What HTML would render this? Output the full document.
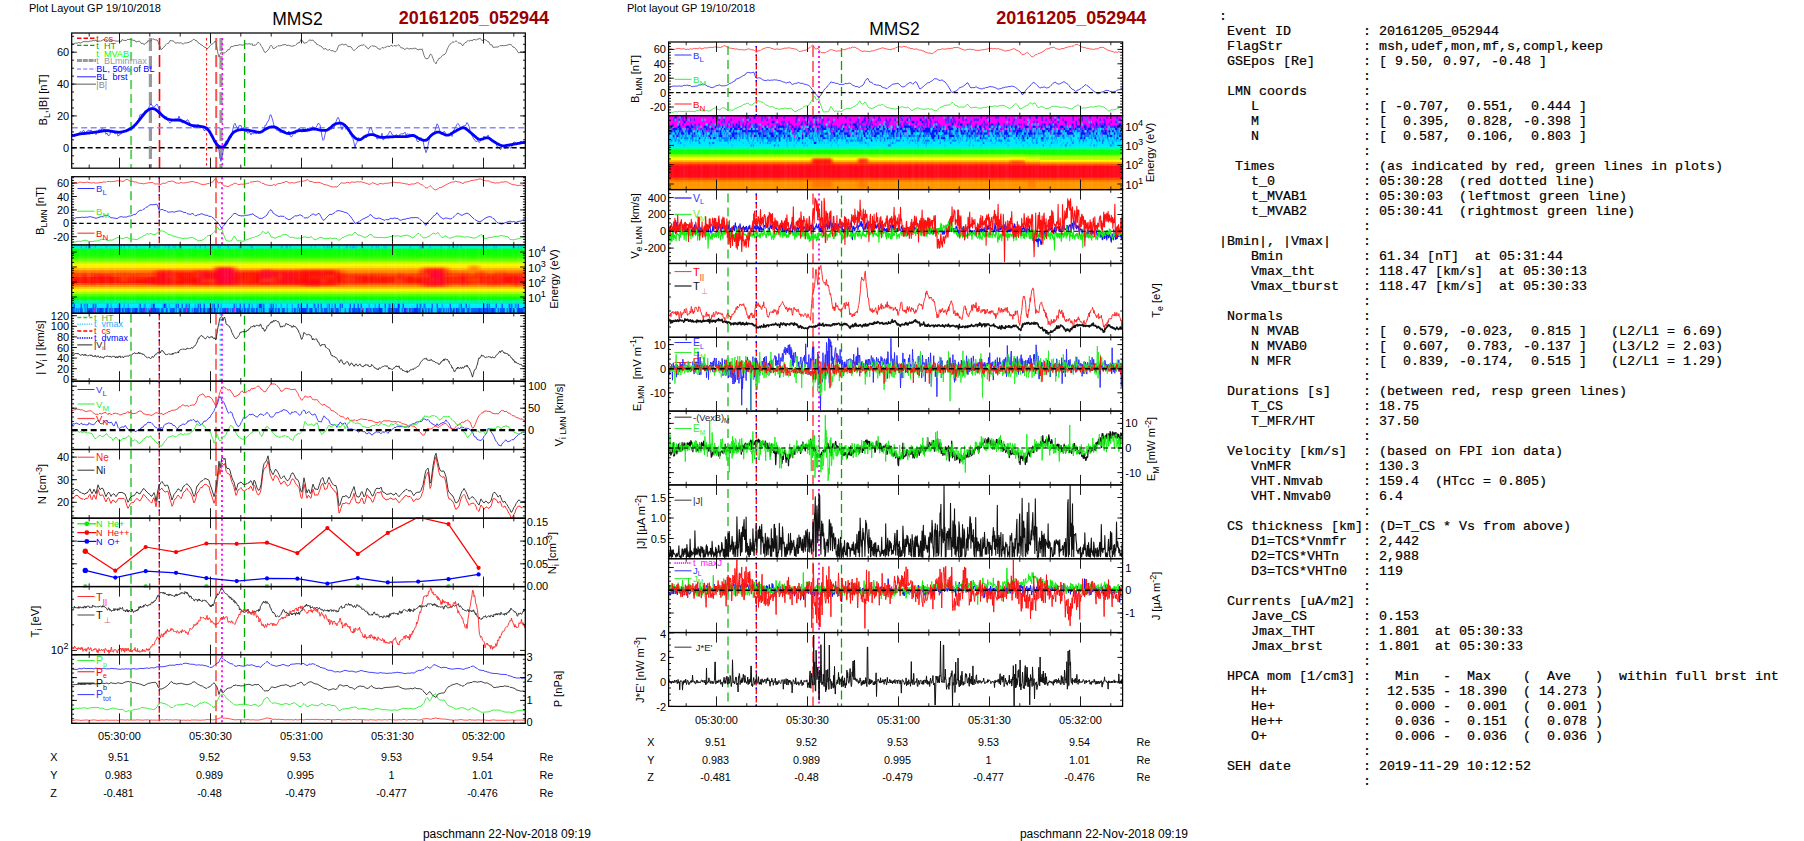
<!DOCTYPE html><html><head><meta charset="utf-8"><title>MMS2 20161205_052944</title><style>html,body{margin:0;padding:0;background:#fff}svg{display:block}</style></head><body><svg width="1804" height="841" viewBox="0 0 1804 841" font-family="Liberation Sans, sans-serif" fill="none">
<defs><filter id="b2" x="-20%" y="-50%" width="140%" height="200%"><feGaussianBlur stdDeviation="3.2 1.4"/></filter><filter id="b1" x="-20%" y="-50%" width="140%" height="200%"><feGaussianBlur stdDeviation="1.5 0.8"/></filter></defs>
<rect width="1804" height="841" fill="#fff"/>
<text x="29" y="12" font-size="11" fill="#000">Plot Layout GP 19/10/2018</text>
<text x="297.5" y="25" font-size="17.5" fill="#000" text-anchor="middle">MMS2</text>
<text x="549" y="24" font-size="18" font-weight="bold" fill="#9b0000" text-anchor="end">20161205_052944</text>
<clipPath id="cl1"><rect x="71.7" y="33" width="453.6" height="135.2"/></clipPath><g clip-path="url(#cl1)" stroke-linejoin="round">
<path d="M131.1 38V168.2" stroke="#5c5" stroke-width="2" stroke-dasharray="9 5" opacity="0.9"/>
<path d="M150.4 38V168.2" stroke="#999" stroke-width="3.2" stroke-dasharray="13 5" opacity="1"/>
<path d="M159.5 38V168.2" stroke="#f00" stroke-width="1.6" stroke-dasharray="12 5" opacity="1"/>
<path d="M206.6 38V168.2" stroke="#f00" stroke-width="1" stroke-dasharray="2.5 2.5" opacity="1"/>
<path d="M216.2 38V168.2" stroke="#f33" stroke-width="2" stroke-dasharray="12 5" opacity="0.85"/>
<path d="M221 38V168.2" stroke="#999" stroke-width="3.2" stroke-dasharray="13 5" opacity="1"/>
<path d="M222.4 38V168.2" stroke="#f0f" stroke-width="1.6" stroke-dasharray="2 3" opacity="1"/>
<path d="M244.6 40V168.2" stroke="#0a0" stroke-width="1.3" stroke-dasharray="9 4" opacity="1"/>
<path d="M72 44.1l1-.1l1 0l1-.9l1-.1l1 .3l1-.6l1-.1l1 .4l1 0l1-.9l1-.2l1-.5l1 .1l1 .4l1-.4l1 .5l1-.6l1-.4l1 .1l1-.1l1-.4l1 .1l1 .1l1-.9l1 1.8l1-.1l1-1.1l1 1.1l1-1.1l1 .3l1-1.4l1 .7l1 .3l1-1.1l1 1.5l1-1l1 .2l1 .7l1 .8l1-.8l1-.8l1 1l1-.2l1 .6l1-.4l1 .5l1-.8l1 .9l1 .3l1-2.3l1 .6l1 .4l1-.3l1 .7l1-1.3l1-.1l1 .1l1-.4l1 .4l1 .2l1 .5l1 .1l1 .1l1 1.7l1-.8l1 .4l1-.9l1 .7l1 1.7l1 .2l1-.3l1 1.6l1-.8l1-1.4l1 .2l1-2.4l1 .9l1-.5l1 .3l1-1.5l1-1l1 .8l1 .3l1 .4l1-.2l1 1.5l1 3.1l1 1.9l1 3.2l1-.6l1-.9l1-1.3l1-.7l1-1.6l1-1l1 .2l1-.9l1-2.3l1 .2l1 .3l1-.2l1 .6l1 1.6l1 .1l1-.2l1-.3l1 .6l1-.3l1-.2l1 .7l1 .9l1-.9l1-.7l1 .6l1-.5l1-.4l1 .2l1-.9l1-.4l1-.4l1-1.3l1-.5l1 1.3l1 .1l1 .4l1 1.8l1 .5l1 .5l1 1.4l1-.2l1 1.2l1 .7l1 .6l1 .2l1 1l1-.2l1-1.3l1-1.3l1-1.1l1-.7l1-.3l1-1.1l1-1.6l1 .8l1 6.6l1 5.5l1 3.2l1-2.6l1-2.1l1-.3l1 .6l1 .4l1-.3l1-1.1l1-.5l1-1.8l1 .6l1-1.7l1-1.9l1 .5l1-.7l1-.3l1-.4l1 0l1 0l1-.1l1-.7l1 0l1 .1l1 .4l1-.1l1-.5l1-.8l1 .1l1 .1l1 0l1-.2l1-.1l1 .9l1-1.1l1 2.4l1-1.1l1 .7l1-.8l1-.8l1-1.7l1 .4l1 1l1 2.2l1 1.1l1 2l1 2.1l1 1.7l1-.6l1-1.2l1-.8l1-1.4l1-2.3l1-1.2l1 1l1 2.2l1 .2l1-.8l1-.7l1-.5l1-1.1l1 .6l1-.4l1-.1l1-.4l1-.4l1 0l1-.4l1 .5l1 .9l1-.9l1 .5l1 .5l1 .1l1 .2l1-.1l1-.6l1 .1l1-1l1-.6l1-1.5l1 .6l1-1.2l1-2.4l1 1.4l1 .3l1 2.2l1-.5l1-.1l1-.3l1-1.3l1-1l1-.3l1 .5l1-.1l1-.3l1 1.5l1 .8l1 .5l1 2l1-.4l1 1.2l1 .2l1 .4l1 .9l1 1l1 1.4l1-1.3l1 .9l1 .3l1 1.2l1-1.2l1 .3l1 1.1l1-.1l1-.1l1 .9l1 .3l1-.4l1-1.3l1-3l1-1.9l1 0l1-.6l1-.6l1 .4l1 .8l1-.8l1-.1l1 .9l1 1.7l1-.6l1 .5l1-.1l1 1.5l1 1.6l1 1l1-1.1l1-1l1-.5l1-1.6l1-.4l1-.3l1-.7l1 0l1 0l1-.7l1 1.1l1 1.4l1 .3l1 1.6l1-.6l1-1.5l1-.3l1-1l1 .7l1-.1l1 .2l1 .5l1 .5l1 1.6l1-.2l1 .9l1-.9l1-1.2l1 .1l1 .7l1-1.1l1-.1l1-.5l1-.8l1 .9l1-.4l1-1.2l1 .7l1 .6l1-1l1 .4l1 .2l1-.3l1-1l1 .3l1 1.4l1 1.5l1 0l1 .1l1 1.2l1 .3l1-.8l1-.8l1 .6l1 .7l1-.6l1-.2l1 .6l1-.3l1-.6l1 .2l1 .1l1 .9l1 .4l1 .3l1-1.2l1 1.1l1-1.1l1 3.1l1 3.4l1 2.5l1 .8l1 0l1 0l1-1.5l1-2.6l1-.3l1 1.6l1 2.7l1 2.8l1 1.3l1 1.3l1-2.5l1-1.3l1-1.9l1 .1l1-1.1l1-1.3l1-1.2l1 .3l1-.9l1-1.4l1-2.8l1-2.3l1-1.9l1-1.5l1-.5l1-1.3l1-.7l1 .8l1-1l1-.6l1 .6l1 1l1 .7l1-.1l1 .4l1 1.7l1 .5l1-1.8l1-1.3l1-.2l1-.7l1-1.4l1 1l1-.8l1-.5l1 1.1l1-1.5l1 .2l1-.6l1 1.2l1-1.2l1-.1l1-.1l1-.9l1 1.2l1 1.4l1-.6l1-.4l1-.1l1 .5l1 .8l1 .9l1 0l1 2.7l1 .4l1-.1l1 2.6l1-.3l1 .2l1-.3l1 .1l1-.2l1-.4l1-1.1l1 .5l1-.4l1 0l1 .3l1-.3l1 .1l1-.5l1-.2l1-.3l1-.3l1 .4l1 .9l1 1.6l1-.2l1 1.2l1 .8l1 1.5l1 1.9l1 .6l1-.9l1-.2l1 .4l1-.3l1-.1l1-.2" stroke="#666" stroke-width="0.9" />
<path d="M71.7 127.8H525.3" stroke="#88f" stroke-width="1.4" stroke-dasharray="6 3.5"/>
<path d="M72 136l1-1.8l1 2.8l1-1.6l1-1.1l1 .2l1-.2l1 .7l1-3.4l1 .4l1 .5l1-1.9l1 0l1 1.6l1 1.1l1-2.3l1-.3l1-.8l1 1.6l1-1.6l1 .9l1 2.1l1-.8l1 1.2l1 1.4l1-2.7l1-1.5l1-.7l1-.2l1 .7l1-1.9l1 1.3l1-.8l1 2.2l1 3.2l1-1.5l1 2.6l1 .1l1-.9l1-4l1 .8l1-.9l1 2.1l1 1.4l1-.4l1-1.2l1 3.8l1-1.2l1-.1l1-1.8l1 0l1-1.9l1 .1l1-.4l1-1.1l1-.6l1-.1l1-.4l1-.5l1-.8l1-.8l1-.1l1-1.4l1 0l1-1.9l1 .8l1-2.9l1-2.9l1-3.5l1 0l1-.8l1 .3l1-1.4l1-2l1 1.2l1-1.6l1-.3l1-3l1-1.9l1-1.4l1 2l1 .8l1 .7l1-1.2l1-1.3l1-.8l1 2.2l1 3.8l1 1.5l1 .9l1 1.7l1 2.6l1 1.4l1 .4l1-2.2l1 3.6l1 .6l1 1.3l1 1.4l1-1.1l1-2l1 .7l1-1.3l1 1l1-1l1 .7l1-.9l1-3.2l1 3l1-.1l1 3.7l1-.1l1-1.9l1 1.3l1-1l1-1.2l1 .2l1 1.8l1 1.7l1 1.2l1 .9l1 .9l1 1.7l1-1.7l1 1.2l1-.4l1-2.9l1 2.4l1-1.8l1 1.7l1 0l1 1.6l1 2.1l1 .3l1-3.4l1 1.2l1 .4l1 1.2l1 1.7l1 3.4l1 1.7l1 .1l1 5l1 .4l1 .7l1-.4l1 2.6l1 5.5l1 6.7l1 3.9l1-5.3l1-4.2l1-5.3l1-3.5l1-2.5l1 .9l1-1.4l1-.1l1-3.6l1 1.3l1-3.9l1-5.5l1-3.7l1-1.3l1 2.6l1 1.3l1 2.4l1-4.1l1 .5l1-.6l1 3l1 2.2l1-1l1-.6l1 2.8l1-.2l1 1.8l1-1.2l1 .4l1 2.4l1-2.1l1 .7l1 .3l1-3.4l1 3.6l1-2l1 1.3l1-.3l1-1.4l1-.6l1 1.4l1-3.1l1 0l1-4.1l1 0l1-3l1-.6l1-2.3l1-4.2l1-.4l1 3.2l1 3.4l1 4.5l1 1.1l1 2.2l1 1.5l1-1.2l1 1.8l1 1.3l1-.6l1-.8l1-.7l1-.3l1 2.3l1-.3l1 .9l1-1l1-1l1 4.1l1 1.8l1-.5l1-1.7l1-2.7l1 2l1-3.3l1-.2l1 .1l1-2.7l1 .9l1 2.4l1 .9l1-3.7l1 2.7l1-2.4l1 .4l1 0l1-1.3l1 2.5l1-.4l1 .2l1-2.8l1-.9l1 3.5l1-.4l1-2.3l1-1.7l1-2.1l1 .3l1 .8l1 5.4l1 6.6l1 3.9l1-1.2l1-4.6l1-4.7l1 .9l1-2.5l1-1.2l1 .7l1 1.4l1-.7l1-.5l1 .6l1-4.8l1-2.1l1-2.8l1-1.8l1 1.8l1 3l1 4.6l1 3.2l1-3.3l1-1.1l1 1.4l1 2.6l1-1.2l1 3.3l1-.8l1 3.8l1 .1l1 2.8l1 1.5l1 3.9l1 4.8l1-3.7l1-1.5l1-4.3l1-.4l1 2.2l1-.4l1-.9l1-.6l1-1.3l1 .6l1 .1l1-.2l1-2.5l1-4l1-2.8l1-.6l1 2.9l1 2.6l1 2.6l1 .9l1-1.2l1 3.9l1-.3l1-1l1 .1l1-.7l1-3.9l1 6.7l1-.5l1-1.4l1-1.9l1-.3l1-.9l1-2l1-1.8l1 1l1 2.6l1 .2l1 1.7l1 .4l1-2.5l1 .8l1 2.1l1-2.3l1-.5l1-.9l1 .3l1-.2l1-.4l1-1.2l1 3.2l1-1.6l1 .6l1 0l1-.4l1 2l1-.6l1 1l1-2.2l1 3.1l1-.3l1 4.2l1 .7l1-.9l1-1l1-2.5l1 1.9l1 .8l1 5.6l1 3.4l1 3.4l1-2.6l1-4.5l1-4.9l1-4.3l1 .3l1-2.6l1-1.1l1 1.1l1-3.3l1-3.7l1-3.2l1 1.3l1 2.8l1 3.7l1 .9l1-.1l1 .7l1-1.9l1 .9l1 3.8l1-1.6l1 .4l1-.2l1-.2l1-1l1 3.2l1-5.7l1-.3l1-2.8l1-1.3l1-2l1-1l1 1.6l1 1.7l1 2.6l1-1.4l1-1.6l1-.8l1 .7l1-1.5l1-2.2l1 1.4l1 2.4l1 4.1l1 2.5l1 2.8l1 1.8l1 2l1 .7l1 1.7l1-.9l1-.4l1 2l1-.9l1-3.2l1 .4l1-.1l1-2.8l1 3l1-1.8l1 .4l1-2.6l1 2l1 1.3l1 1.7l1 2l1-.8l1-.7l1 1.6l1 .8l1 3.7l1 .4l1 .5l1 1.8l1 .1l1-3.7l1 .2l1 1.6l1 .8l1-.5l1-2l1-.6l1 1.1l1 1.2l1 .9l1-2.5l1-3.3l1-.3l1-.4l1 1.7l1 .5l1-.3l1-.6l1-1.5l1 .1l1-.1l1 1.6l1-1.1l1-.5" stroke="#33f" stroke-width="0.8" />
<path d="M72 135.6l1-.2l1-.1l1-.2l1-.2l1-.3l1-.2l1-.2l1-.2l1-.2l1-.1l1-.1l1-.1l1-.1l1-.1l1-.1l1-.1l1-.1l1-.1l1-.2l1-.1l1-.1l1-.2l1-.1l1-.1l1-.2l1-.1l1-.2l1-.1l1-.2l1-.2l1-.1l1-.2l1-.1l1-.1l1 0l1 .1l1 .2l1 .2l1 .1l1 .2l1 .2l1 .1l1 .1l1 .2l1 .1l1 .1l1 .1l1-.1l1-.1l1-.2l1-.2l1-.3l1-.2l1-.3l1-.4l1-.4l1-.5l1-.5l1-.6l1-.7l1-.8l1-.9l1-1l1-1.1l1-1.1l1-1.2l1-1.3l1-1.3l1-1.3l1-1.3l1-1.2l1-1.2l1-1.2l1-1.1l1-.9l1-.8l1-.7l1-.4l1-.3l1-.1l1 0l1 .2l1 .5l1 .5l1 .8l1 .8l1 1l1 1l1 .9l1 .9l1 .9l1 .8l1 .8l1 .6l1 .5l1 .4l1 .3l1 .2l1 .2l1 .1l1 .1l1 0l1-.1l1 0l1 0l1 0l1 .1l1 .2l1 .2l1 .4l1 .5l1 .4l1 .5l1 .4l1 .5l1 .5l1 .5l1 .5l1 .4l1 .3l1 .2l1 .1l1 .1l1 .1l1 .1l1 .1l1 .1l1 .2l1 .1l1 .2l1 .2l1 .2l1 .3l1 .5l1 .8l1 .9l1 1.3l1 1.5l1 1.8l1 1.8l1 1.9l1 1.9l1 1.9l1 1.6l1 1.3l1 1.1l1 .7l1 .4l1 .1l1 .1l1-.2l1-.5l1-.9l1-1.3l1-1.5l1-1.9l1-1.9l1-1.8l1-1.6l1-1.3l1-1.2l1-.9l1-.6l1-.5l1-.4l1-.3l1-.2l1-.2l1-.1l1 0l1 0l1 .1l1 .1l1 .1l1 .1l1 .1l1 .2l1 .2l1 .2l1 .2l1 .2l1 .2l1 .2l1 .2l1 .2l1 .2l1 .2l1-.1l1-.3l1-.5l1-.7l1-.7l1-.6l1-.6l1-.5l1-.5l1-.4l1-.3l1-.2l1-.1l1 0l1 0l1 .3l1 .3l1 .5l1 .6l1 .7l1 .7l1 .6l1 .6l1 .5l1 .4l1 .5l1 .4l1 .3l1 .1l1 .1l1-.1l1-.2l1-.2l1-.3l1-.3l1-.5l1-.4l1-.4l1-.3l1-.1l1-.1l1 0l1 0l1-.1l1 0l1 0l1-.1l1-.1l1-.2l1-.2l1-.2l1-.3l1-.2l1-.2l1 0l1 0l1 .2l1 .2l1 .3l1 .2l1 .2l1 .2l1 .1l1 0l1 0l1 0l1-.1l1-.2l1-.5l1-.6l1-.8l1-1l1-.9l1-.9l1-.7l1-.6l1-.4l1-.2l1-.2l1-.2l1-.1l1 .2l1 .3l1 .5l1 .6l1 .8l1 1l1 1.1l1 1.3l1 1.4l1 1.5l1 1.5l1 1.4l1 1.2l1 1.1l1 .9l1 .7l1 .6l1 .5l1 .2l1-.1l1-.5l1-.6l1-.8l1-.8l1-.6l1-.5l1-.4l1-.3l1-.2l1-.3l1-.1l1 0l1 .1l1 .2l1 .4l1 .4l1 .4l1 .4l1 .4l1 .2l1 .2l1 .1l1 0l1 0l1-.1l1-.1l1-.1l1 0l1-.1l1-.1l1 0l1-.1l1 0l1-.1l1 0l1 0l1 0l1 0l1 0l1 0l1 0l1 0l1 0l1 0l1 0l1-.1l1-.1l1-.2l1-.2l1-.3l1-.2l1-.1l1 0l1 .2l1 .4l1 .6l1 .6l1 .7l1 .5l1 .5l1 .5l1 .3l1 .3l1 .3l1 0l1-.2l1-.5l1-.9l1-1.1l1-1.1l1-1l1-.9l1-.7l1-.6l1-.5l1-.4l1-.3l1-.1l1 .1l1 .3l1 .4l1 .5l1 .4l1 .5l1 .4l1 .4l1 .1l1 0l1-.3l1-.5l1-.6l1-.6l1-.6l1-.6l1-.6l1-.5l1-.6l1-.5l1-.5l1-.5l1-.5l1-.4l1-.2l1 .1l1 .4l1 .6l1 .8l1 .8l1 .8l1 .9l1 .8l1 .9l1 .8l1 .9l1 .9l1 .9l1 .9l1 .7l1 .4l1 .2l1 0l1-.3l1-.3l1-.4l1-.3l1-.3l1-.1l1 .1l1 .4l1 .5l1 .7l1 .8l1 .7l1 .7l1 .6l1 .6l1 .6l1 .5l1 .5l1 .5l1 .4l1 .3l1 .1l1 0l1-.1l1-.2l1-.1l1-.2l1-.2l1-.1l1-.2l1-.2l1-.1l1-.2l1-.2l1-.2l1-.2l1-.2l1-.1l1-.2l1-.2l1-.2l1-.1l1-.1l1-.1" stroke="#00f" stroke-width="2.8" stroke-linecap="round"/>
<path d="M71.7 147.8H525.3" stroke="#000" stroke-width="1.4" stroke-dasharray="5 3"/>
</g>
<path d="M77 38.3h19" stroke="#f00" stroke-width="1.6" stroke-dasharray="4.5 2"/>
<text x="96.3" y="41.6" font-size="9.1" fill="#f00">t&#160;&#160;cs</text>
<path d="M77 45.3h19" stroke="#0a0" stroke-width="1.3" stroke-dasharray="4.5 2"/>
<text x="96.3" y="48.6" font-size="9.1" fill="#0a0">t&#160;&#160;HT</text>
<text x="96.3" y="57" font-size="9.1" fill="#0f0">t&#160;&#160;MVAB</text>
<path d="M77 60.6h19" stroke="#999" stroke-width="3" stroke-dasharray="5 .8"/>
<text x="96.3" y="63.9" font-size="9.1" fill="#999">t&#160;&#160;BLminmax</text>
<path d="M77 69h19" stroke="#66f" stroke-width="1.2" stroke-dasharray="4 2.2"/>
<text x="96.3" y="72.3" font-size="9.1" fill="#66f"><tspan fill="#00f">BL, 50% of BL</tspan></text>
<path d="M77 76.8h19" stroke="#22f" stroke-width="1"/>
<text x="96.3" y="80.1" font-size="9.1" fill="#22f"><tspan fill="#00f">BL&#160;&#160;brst</tspan></text>
<path d="M77 84.2h19" stroke="#888" stroke-width="1.4"/>
<text x="96.3" y="87.5" font-size="9.1" fill="#888">|B|</text>
<path d="M119.5 33v10.5M119.5 168.2v-10.5M210.5 33v10.5M210.5 168.2v-10.5M301.5 33v10.5M301.5 168.2v-10.5M392.5 33v10.5M392.5 168.2v-10.5M483.5 33v10.5M483.5 168.2v-10.5" stroke="#111" stroke-width=".95"/>
<path d="M89.2 33v3.6M89.2 168.2v-3.6M149.8 33v3.6M149.8 168.2v-3.6M180.2 33v3.6M180.2 168.2v-3.6M240.8 33v3.6M240.8 168.2v-3.6M271.2 33v3.6M271.2 168.2v-3.6M331.8 33v3.6M331.8 168.2v-3.6M362.2 33v3.6M362.2 168.2v-3.6M422.8 33v3.6M422.8 168.2v-3.6M453.2 33v3.6M453.2 168.2v-3.6M513.8 33v3.6M513.8 168.2v-3.6" stroke="#111" stroke-width=".9"/>
<path d="M71.7 147.8h5.2M525.3 147.8h-5.2M71.7 115.9h5.2M525.3 115.9h-5.2M71.7 84.1h5.2M525.3 84.1h-5.2M71.7 52.2h5.2M525.3 52.2h-5.2M71.7 163.7h2.4M525.3 163.7h-2.4M71.7 155.8h2.4M525.3 155.8h-2.4M71.7 147.8h2.4M525.3 147.8h-2.4M71.7 139.8h2.4M525.3 139.8h-2.4M71.7 131.9h2.4M525.3 131.9h-2.4M71.7 123.9h2.4M525.3 123.9h-2.4M71.7 115.9h2.4M525.3 115.9h-2.4M71.7 108h2.4M525.3 108h-2.4M71.7 100h2.4M525.3 100h-2.4M71.7 92h2.4M525.3 92h-2.4M71.7 84.1h2.4M525.3 84.1h-2.4M71.7 76.1h2.4M525.3 76.1h-2.4M71.7 68.2h2.4M525.3 68.2h-2.4M71.7 60.2h2.4M525.3 60.2h-2.4M71.7 52.2h2.4M525.3 52.2h-2.4M71.7 44.3h2.4M525.3 44.3h-2.4M71.7 36.3h2.4M525.3 36.3h-2.4" stroke="#000" stroke-width=".9"/>
<rect x="71.7" y="33" width="453.6" height="135.2" stroke="#000" stroke-width="1.25"/>
<text x="69.2" y="151.8" font-size="11" fill="#000" text-anchor="end">0</text>
<text x="69.2" y="119.9" font-size="11" fill="#000" text-anchor="end">20</text>
<text x="69.2" y="88" font-size="11" fill="#000" text-anchor="end">40</text>
<text x="69.2" y="56.2" font-size="11" fill="#000" text-anchor="end">60</text>
<text transform="translate(47 100) rotate(-90)" font-size="11.2" fill="#000" text-anchor="middle">B<tspan font-size="8.6" dy="3.3">L</tspan><tspan dy="-3.3">&#8203;</tspan>,|B| [nT]</text>
<clipPath id="cl2"><rect x="71.7" y="176.7" width="453.6" height="68.3"/></clipPath><g clip-path="url(#cl2)" stroke-linejoin="round">
<path d="M131 177.2V245" stroke="#5c5" stroke-width="2" stroke-dasharray="9 5" opacity="0.9"/>
<path d="M159.3 177.2V245" stroke="#f00" stroke-width="1.3" stroke-dasharray="6.5 2" opacity="1"/>
<path d="M159.3 177.2V245" stroke="#00f" stroke-width="1.3" stroke-dasharray="1.6 6.9" opacity="1"/>
<path d="M216 177.2V245" stroke="#f44" stroke-width="1.8" stroke-dasharray="11 4" opacity="0.85"/>
<path d="M222 177.2V245" stroke="#f0f" stroke-width="1.8" stroke-dasharray="2 3" opacity="1"/>
<path d="M244.5 179.2V245" stroke="#0a0" stroke-width="1.3" stroke-dasharray="9 4" opacity="1"/>
<path d="M72 183.2l1 .2l1-.4l1-.5l1 .1l1 .3l1 .2l1-.7l1-.4l1 .4l1-.2l1 .6l1-.2l1 0l1-.3l1-.3l1 .3l1 .3l1 .1l1 .2l1 .2l1-.6l1 .2l1 .4l1-.1l1 0l1 .1l1-.5l1-.1l1-.2l1 .4l1-.8l1 .1l1-.2l1 .6l1-1l1 .2l1-.2l1-.1l1 .7l1-.5l1-.1l1 0l1-.1l1-.3l1-.3l1 .1l1 .2l1-.5l1 .7l1 .1l1 .1l1-.2l1-.9l1-.8l1-.1l1 .3l1 .8l1 .8l1 .2l1-.3l1-.1l1 .9l1 .1l1-.2l1 .5l1 .7l1-.1l1 .4l1 0l1-.1l1 .5l1 .1l1-.5l1-.2l1 0l1-.4l1-.1l1 0l1-.1l1-.2l1 .1l1 1.3l1 .1l1 .2l1-.4l1 .5l1-.1l1 .5l1-.4l1-.3l1-1l1 .6l1-.2l1-.3l1-.5l1-.9l1-.1l1-.1l1 0l1-.3l1-.1l1 1.1l1 0l1 .9l1 .2l1-.2l1 .4l1-.4l1-.7l1 .5l1 .3l1-.3l1 .1l1-.1l1-.4l1-.2l1-.1l1-.1l1-.3l1-.3l1 .3l1 .1l1 .5l1 0l1 .3l1 .1l1 .8l1 .4l1 .2l1 .4l1 .1l1 .3l1-.8l1 .1l1-.3l1-.5l1 .3l1-1.1l1-.3l1-.2l1-.2l1-1.8l1-1.3l1-.1l1 1.9l1 2.2l1 .2l1-.6l1-.4l1 1.4l1 1.5l1 1l1 0l1 .2l1 .2l1 .4l1-.4l1-.7l1-.8l1 .2l1-.8l1-.7l1-.5l1 .7l1 0l1 1l1-.2l1 .1l1-.8l1 .6l1-.4l1 .3l1-.2l1-.3l1-.3l1-.5l1 .4l1-1l1-.5l1 .1l1-.3l1 0l1-.2l1 .1l1-.5l1 0l1 .4l1 .5l1 .4l1 1l1-.1l1 .4l1 .8l1 .2l1 .4l1 .1l1 .1l1 .1l1 .2l1-.5l1 .1l1-.7l1 .6l1 .2l1-1.2l1-.4l1-.2l1 0l1 0l1-.8l1-.1l1-.2l1-.5l1-.6l1 .4l1 .6l1 .5l1 .3l1-.5l1 .2l1-.1l1 .3l1 0l1-.4l1-.4l1-.3l1 .2l1-.5l1-1l1 .4l1 .4l1-.5l1-.1l1-.3l1-.8l1 0l1 1.1l1 .9l1-.4l1 .3l1 .6l1 .1l1 .4l1 0l1-.2l1-.3l1 .4l1-.1l1 .8l1-.1l1 .8l1 .6l1-.1l1 .5l1 0l1 .4l1 .4l1 .3l1 .7l1-.1l1 .3l1 0l1-.3l1 .2l1 .2l1-1.2l1-1.1l1-.6l1-1.5l1 .2l1 .3l1-.1l1 0l1-.2l1-.5l1 0l1 .3l1 .6l1-1.3l1 0l1 .2l1-.2l1 .4l1-.3l1-.4l1 .2l1-.1l1 .3l1-.6l1 .8l1 0l1 .3l1 .3l1 .5l1 0l1 .7l1 .2l1-.1l1-.4l1-1.1l1 .2l1 .3l1 .6l1 0l1 .9l1 0l1-.8l1-.4l1 0l1 .4l1-.1l1 .2l1-.8l1-.1l1 .3l1-.3l1-.1l1 0l1-.3l1-.1l1-.3l1-.3l1 .4l1 .2l1 .2l1-.1l1 .1l1-.4l1 .8l1-.1l1 .4l1-.3l1 .6l1 .1l1 .3l1-.3l1 1.2l1-.6l1-.4l1-.2l1 .3l1-.3l1-.1l1-.7l1-.3l1-.3l1 .7l1 .9l1 .3l1 .5l1 .5l1 1l1 1l1 .6l1 0l1-.4l1-1l1-1.1l1 .7l1 1.1l1 1.3l1 .4l1 1l1-.1l1-.7l1-.3l1-1.1l1-.4l1 .3l1-.8l1-.6l1-.5l1-.3l1-.8l1-.5l1-.4l1-.6l1-.4l1-.3l1-.5l1 0l1 .1l1-.8l1-.2l1 .8l1-.1l1 .2l1 .2l1 .4l1 .3l1 1.1l1-1.7l1 0l1-.4l1 0l1-.3l1-.1l1-.4l1-.7l1 .3l1-.6l1 .4l1-.9l1 .4l1-.3l1-.2l1-.5l1-.2l1 .4l1 .4l1 .5l1 .4l1-.2l1 .9l1-.5l1 .3l1-.1l1 .6l1 .8l1-.1l1 .4l1 .1l1 .5l1-.2l1-.2l1 .2l1 0l1-.4l1-.6l1 .1l1-.1l1 .1l1-.5l1 .3l1-.2l1 .8l1 .5l1 .5l1 .4l1 .7l1 0l1 .3l1-.2l1 .5l1 .2l1 .4l1-.5l1 0l1 0l1-.5l1 .5l1 .5l1 0" stroke="#f44" stroke-width="0.9" />
<path d="M72 219.6l1-.4l1-.1l1-.7l1-.8l1 .1l1 0l1-.2l1 .1l1-.3l1 0l1-.2l1 .5l1-.3l1-.3l1 .4l1-.3l1-.2l1-.4l1 .5l1 0l1 .3l1 .4l1 .2l1 .4l1-.4l1-.1l1-.5l1-.4l1-.2l1 .1l1-.5l1-.4l1-.5l1-.2l1 .2l1 0l1 1l1 .7l1 .6l1 .2l1-.1l1 .3l1 .1l1 .2l1 .2l1-.5l1-.8l1-.5l1-.1l1 .1l1 .3l1 .1l1-.4l1 .5l1-.5l1-.3l1-.5l1 0l1 0l1-.7l1-.2l1-.8l1 .2l1-.3l1-1.6l1-.9l1-.7l1-.7l1 0l1 .1l1-1l1-.3l1-.8l1-1l1-.3l1-.4l1-1.3l1-.3l1-.6l1 .5l1-.3l1 0l1 .1l1-.6l1 .3l1 2.4l1 3.6l1-.3l1-.5l1-.1l1 .1l1 .8l1 .4l1-.3l1 1.2l1 .3l1 .3l1-.4l1 .1l1-.2l1-.1l1 .6l1-.4l1-.3l1-.3l1-.3l1 .1l1-.2l1 .2l1 .5l1 .2l1 .8l1-.2l1 .1l1 1.1l1 .3l1 .1l1 .4l1-.1l1-.9l1 .4l1 .9l1 1l1 .1l1-.7l1-.4l1 .1l1-.7l1-.1l1-.2l1 .3l1 .6l1 .3l1 .4l1-.4l1 .9l1 .3l1 .3l1-.3l1 1l1 .7l1 .7l1 1.3l1 .7l1 1.2l1 1.6l1 1.1l1 .9l1 2.1l1 0l1-1.2l1-1l1-1.3l1-1.5l1-1.5l1-1.3l1-.9l1-.9l1-.8l1-1.3l1-1.4l1-.9l1-.1l1 .3l1 .6l1 .9l1 .3l1 0l1 .5l1-.2l1 0l1 .1l1-.4l1-.4l1 .2l1-.1l1-.3l1-.2l1-.6l1 .4l1-.9l1 1.5l1 .6l1 .6l1 .5l1 .6l1 .8l1 .3l1-.3l1 .3l1-.7l1-.4l1-.9l1-.7l1-.8l1-2l1-1.6l1-1.1l1-.7l1 1.4l1 2l1 .5l1 .9l1 .7l1 .3l1 .8l1 .4l1-.4l1-.2l1 .5l1-.4l1 .3l1 1l1 .9l1 .3l1 .8l1 .4l1-.7l1 .1l1-1.3l1-.5l1-.6l1-1.2l1 .4l1-.2l1-.1l1-.6l1-.4l1 .6l1 .5l1 .7l1 1l1 .8l1-.8l1 .6l1-.4l1-.8l1-1l1-.6l1-.7l1-.8l1 .4l1 .9l1 .1l1-.7l1-.7l1-.6l1 1.6l1 1.9l1 1.7l1 1.5l1 .5l1-1.4l1-.9l1-1.1l1-.9l1-1.2l1-.7l1 .3l1-.1l1-.8l1-.5l1-.7l1-1.1l1-.4l1-.2l1-.1l1 .3l1 .2l1 .4l1-.1l1 .9l1 0l1 .3l1 .5l1 .4l1 1.2l1 1.5l1 .8l1 1.5l1 1.6l1 1.4l1 2.1l1-.4l1-.6l1-.4l1-.5l1-1l1-.3l1-.9l1-.6l1-.1l1-.9l1-.1l1-.9l1 0l1-1.3l1-.9l1 0l1 1.3l1 .8l1 1.1l1 .2l1 .4l1 .2l1-.7l1 .1l1 .2l1 .4l1 .8l1 0l1 .7l1 .1l1-1l1 .5l1 0l1-.5l1-.6l1-.6l1 .6l1-.2l1-.5l1 0l1 .3l1 .2l1-.2l1 1.5l1 .3l1 .3l1-.6l1-.4l1-.1l1-.1l1-.1l1-.8l1 .2l1-.1l1-.4l1-.3l1 0l1 0l1 0l1-.2l1 .2l1-.1l1 .2l1 .6l1 1l1 .8l1 .6l1 1l1 1.3l1 1.6l1 .6l1-1.7l1-1.8l1-.8l1-.9l1-1.1l1-1l1-1.5l1-.6l1-1l1-.5l1-1.8l1 1.3l1 1.3l1 1.6l1 .5l1 .7l1 1.1l1-.3l1-.8l1 0l1 .2l1 0l1 .4l1 .4l1-.3l1-.3l1-1l1-.6l1-1.2l1-1l1-.9l1-.7l1 .8l1 .6l1 .7l1 .3l1-.4l1-.9l1-.1l1-.8l1 .1l1 .1l1 .9l1 .6l1 1.2l1 .8l1 1.3l1 .4l1 1l1 .5l1 .8l1 .3l1 .7l1-.3l1-.4l1-.5l1-.9l1-.8l1-.5l1-.8l1-.4l1-.3l1-.3l1 0l1 .2l1 .5l1 1.2l1 .1l1 1.4l1 1.2l1 1l1 .6l1 .3l1 .2l1 .6l1-.1l1-.3l1-.2l1-.7l1-.2l1-.4l1-.5l1 .1l1-.7l1 .4l1 .6l1-.3l1-.3l1 .8l1 .1l1-.1l1-.8l1 0l1-.3l1 .1l1-.8l1-.4l1-.6l1-.8" stroke="#33f" stroke-width="0.9" />
<path d="M72 242.6l1-1.1l1 .8l1-.4l1 .1l1-1l1 .5l1-.4l1 .1l1 .3l1-.6l1-.1l1-.6l1 .1l1 0l1 .3l1 .7l1 0l1 .3l1-.3l1 .2l1 0l1-.4l1-.1l1 .1l1-.2l1 .1l1-.7l1-.3l1-.6l1-.2l1 .2l1 .1l1 .2l1 0l1 .6l1 .1l1 .2l1-.8l1 .4l1 0l1-.3l1-.6l1-.5l1-.4l1-.8l1-.1l1 0l1 .5l1 .2l1 .6l1 .1l1-.7l1-.4l1-.4l1 0l1 .4l1 .7l1 .1l1 .2l1 .1l1 .4l1-.2l1 .2l1 .5l1-.4l1-.3l1-1.1l1-.1l1-.3l1-.8l1-.4l1-.9l1-.1l1-.9l1-.8l1 0l1 .8l1-1.2l1 .5l1 0l1 .8l1 .2l1-.5l1-.3l1-.6l1-.9l1-.4l1-1.2l1 .3l1-.5l1 .4l1 .2l1 .8l1 .3l1 .9l1 .9l1 .6l1-.1l1 .3l1 .6l1 .5l1 .3l1-.4l1 1.1l1-.2l1 .6l1 .4l1 0l1 .2l1 .2l1 .4l1-.3l1-.2l1-.2l1 .3l1-.1l1-.2l1-.1l1-.4l1 .2l1-.1l1 .7l1 .6l1 .4l1 .5l1 1.2l1 0l1-.7l1 .3l1-.4l1-.5l1-.6l1-1l1-.7l1-1l1-.9l1 0l1-.2l1-.3l1-1l1-.8l1-1l1-1.1l1-1.7l1-1.7l1-.3l1 2.3l1 .3l1-1l1 .4l1 3.2l1 3.1l1 2.3l1 2.3l1 .5l1 .2l1 .1l1 .1l1-.2l1-.8l1-2.3l1-1.7l1 .6l1 1.9l1 1.9l1 .4l1-.3l1 0l1 .3l1 .3l1-.3l1 .2l1-.4l1-1.1l1 .1l1-.3l1-.6l1-.3l1-.4l1-.3l1-.4l1 .3l1-1l1-.5l1 .1l1-.7l1-.5l1-.4l1-1l1-1.7l1-.8l1 1.2l1 .7l1 .4l1-.7l1-1.4l1 1.5l1 1.5l1 2.3l1 .4l1 0l1 .6l1 .4l1-.3l1-.7l1-.4l1-.7l1 .2l1-.2l1-.7l1-.9l1 .4l1-.2l1-.4l1 .8l1 .5l1 .5l1 1.4l1-.2l1 0l1-.2l1 .7l1 .3l1-.2l1 .5l1-.1l1-.5l1 .4l1 0l1-.4l1-.7l1 0l1-.3l1 .3l1 .3l1-.1l1 .6l1-.8l1-.6l1 .8l1 1.2l1 .7l1 .7l1-.3l1-.6l1-.4l1-.7l1-.3l1-.5l1 .9l1 0l1 .5l1 .1l1 .3l1-.4l1-.1l1 .3l1-.8l1 .1l1 .7l1-.3l1-.2l1 0l1 0l1 .5l1 1.2l1 .4l1-.7l1-.7l1-1l1-.6l1 0l1-1.1l1 .1l1-.8l1-.6l1 .2l1-.4l1 .4l1 .1l1-.7l1-1.4l1-1.1l1 .8l1 1.2l1 1.5l1-.7l1 .6l1 .4l1 .3l1 1.1l1-.3l1 .5l1-.2l1-.7l1-.4l1-1.1l1-.3l1-.2l1 .5l1 1.2l1 1.4l1-.7l1 .5l1-.1l1 .3l1-.1l1-.1l1-.1l1 .2l1 .2l1 0l1 .1l1-.4l1 .3l1-.5l1-.5l1 .1l1-.5l1 .3l1-.6l1-.3l1 .3l1 .1l1-.3l1 .3l1-.4l1 .9l1-.3l1-.1l1-.5l1-.2l1-.1l1 0l1-.6l1 1.2l1-.3l1 .6l1 .6l1 .8l1 .2l1-1l1-.7l1-1l1-.9l1-.9l1 .1l1 1l1 .9l1 1.4l1 1.1l1 .2l1-.5l1-.1l1-.2l1-.9l1-.2l1-.4l1-.8l1-1.1l1-.6l1-.2l1 .7l1 .4l1-1.1l1-.6l1 1.7l1 1.3l1 1.1l1 1.1l1-.3l1-.7l1-.9l1 .2l1 1l1 .2l1 1l1-.1l1-.2l1-.5l1-.3l1 0l1-.4l1-.8l1 .3l1-.1l1 .1l1-.1l1 .2l1 .2l1 .3l1 .4l1-.1l1-.2l1 0l1 .1l1-.3l1 .7l1 .2l1 .1l1 .4l1-.3l1 .4l1-.6l1-.4l1-.9l1-.3l1-.5l1-1.1l1 .6l1 2.1l1 1l1 .2l1-.1l1 .1l1-.4l1-.7l1 .3l1 .1l1-.1l1-.8l1 .1l1-.3l1 .1l1-.4l1 .3l1-.3l1-.5l1-.2l1 .2l1 .4l1-.2l1 .2l1 .5l1 .1l1 .3l1 1.2l1 1.3l1 0l1 .3l1-.1l1 .3l1-.9l1 .2l1-.4l1 .2l1-.5l1-.4l1-.4l1 .1l1-.4l1-.4l1-.6" stroke="#3e3" stroke-width="0.9" />
<path d="M71.7 223.3H525.3" stroke="#000" stroke-width="1.2" stroke-dasharray="4.5 3"/>
</g>
<path d="M77.5 188.5h17" stroke="#33f" stroke-width="1"/>
<text x="96.1" y="192" font-size="9.6" fill="#33f">B<tspan font-size="8" dy="3.4">L</tspan><tspan dy="-3.4">&#8203;</tspan></text>
<path d="M77.5 211.2h17" stroke="#3e3" stroke-width="1"/>
<text x="96.1" y="214.7" font-size="9.6" fill="#3e3">B<tspan font-size="8" dy="3.4">M</tspan><tspan dy="-3.4">&#8203;</tspan></text>
<path d="M77.5 233.2h17" stroke="#f44" stroke-width="1.2"/>
<text x="96.1" y="236.7" font-size="9.6" fill="#f44"><tspan fill="#f00">B<tspan font-size="8" dy="3.4">N</tspan><tspan dy="-3.4">&#8203;</tspan></tspan></text>
<path d="M119.5 176.7v10M119.5 245v-10M210.5 176.7v10M210.5 245v-10M301.5 176.7v10M301.5 245v-10M392.5 176.7v10M392.5 245v-10M483.5 176.7v10M483.5 245v-10" stroke="#111" stroke-width=".95"/>
<path d="M89.2 176.7v3.2M89.2 245v-3.2M149.8 176.7v3.2M149.8 245v-3.2M180.2 176.7v3.2M180.2 245v-3.2M240.8 176.7v3.2M240.8 245v-3.2M271.2 176.7v3.2M271.2 245v-3.2M331.8 176.7v3.2M331.8 245v-3.2M362.2 176.7v3.2M362.2 245v-3.2M422.8 176.7v3.2M422.8 245v-3.2M453.2 176.7v3.2M453.2 245v-3.2M513.8 176.7v3.2M513.8 245v-3.2" stroke="#111" stroke-width=".9"/>
<path d="M71.7 236.7h5.2M525.3 236.7h-5.2M71.7 223.3h5.2M525.3 223.3h-5.2M71.7 209.9h5.2M525.3 209.9h-5.2M71.7 196.5h5.2M525.3 196.5h-5.2M71.7 183.1h5.2M525.3 183.1h-5.2M71.7 244.7h2.4M525.3 244.7h-2.4M71.7 242.1h2.4M525.3 242.1h-2.4M71.7 239.4h2.4M525.3 239.4h-2.4M71.7 236.7h2.4M525.3 236.7h-2.4M71.7 234h2.4M525.3 234h-2.4M71.7 231.3h2.4M525.3 231.3h-2.4M71.7 228.7h2.4M525.3 228.7h-2.4M71.7 226h2.4M525.3 226h-2.4M71.7 223.3h2.4M525.3 223.3h-2.4M71.7 220.6h2.4M525.3 220.6h-2.4M71.7 217.9h2.4M525.3 217.9h-2.4M71.7 215.3h2.4M525.3 215.3h-2.4M71.7 212.6h2.4M525.3 212.6h-2.4M71.7 209.9h2.4M525.3 209.9h-2.4M71.7 207.2h2.4M525.3 207.2h-2.4M71.7 204.5h2.4M525.3 204.5h-2.4M71.7 201.9h2.4M525.3 201.9h-2.4M71.7 199.2h2.4M525.3 199.2h-2.4M71.7 196.5h2.4M525.3 196.5h-2.4M71.7 193.8h2.4M525.3 193.8h-2.4M71.7 191.1h2.4M525.3 191.1h-2.4M71.7 188.5h2.4M525.3 188.5h-2.4M71.7 185.8h2.4M525.3 185.8h-2.4M71.7 183.1h2.4M525.3 183.1h-2.4M71.7 180.4h2.4M525.3 180.4h-2.4M71.7 177.7h2.4M525.3 177.7h-2.4" stroke="#000" stroke-width=".9"/>
<rect x="71.7" y="176.7" width="453.6" height="68.3" stroke="#000" stroke-width="1.25"/>
<text x="69.2" y="240.7" font-size="11" fill="#000" text-anchor="end">-20</text>
<text x="69.2" y="227.3" font-size="11" fill="#000" text-anchor="end">0</text>
<text x="69.2" y="213.9" font-size="11" fill="#000" text-anchor="end">20</text>
<text x="69.2" y="200.5" font-size="11" fill="#000" text-anchor="end">40</text>
<text x="69.2" y="187.1" font-size="11" fill="#000" text-anchor="end">60</text>
<text transform="translate(43.5 211) rotate(-90)" font-size="11.2" fill="#000" text-anchor="middle">B<tspan font-size="8.6" dy="3.3">LMN</tspan><tspan dy="-3.3">&#8203;</tspan> [nT]</text>
<linearGradient id="gi" x1="0" y1="0" x2="0" y2="1">
<stop offset="0.0000" stop-color="#00e8e0"/>
<stop offset="0.0483" stop-color="#00f4c8"/>
<stop offset="0.0556" stop-color="#00ff10"/>
<stop offset="0.1464" stop-color="#10ff00"/>
<stop offset="0.1933" stop-color="#38ff00"/>
<stop offset="0.2050" stop-color="#68ff00"/>
<stop offset="0.2387" stop-color="#78ff00"/>
<stop offset="0.2460" stop-color="#b0ff00"/>
<stop offset="0.2753" stop-color="#c8ff00"/>
<stop offset="0.2840" stop-color="#f8f800"/>
<stop offset="0.3367" stop-color="#ffe800"/>
<stop offset="0.3441" stop-color="#ffc000"/>
<stop offset="0.3690" stop-color="#ffb000"/>
<stop offset="0.3748" stop-color="#ff8000"/>
<stop offset="0.4041" stop-color="#ff7000"/>
<stop offset="0.4100" stop-color="#ff4800"/>
<stop offset="0.4656" stop-color="#ff3800"/>
<stop offset="0.4729" stop-color="#ff1400"/>
<stop offset="0.5505" stop-color="#ff1000"/>
<stop offset="0.5564" stop-color="#ff4000"/>
<stop offset="0.5798" stop-color="#ff5000"/>
<stop offset="0.5857" stop-color="#ff8800"/>
<stop offset="0.6164" stop-color="#ff9800"/>
<stop offset="0.6223" stop-color="#ffc800"/>
<stop offset="0.6413" stop-color="#ffd800"/>
<stop offset="0.6471" stop-color="#f8f800"/>
<stop offset="0.6779" stop-color="#f0f800"/>
<stop offset="0.6837" stop-color="#b0ff00"/>
<stop offset="0.7145" stop-color="#98ff00"/>
<stop offset="0.7204" stop-color="#58ff00"/>
<stop offset="0.7511" stop-color="#48ff00"/>
<stop offset="0.7570" stop-color="#10ff00"/>
<stop offset="0.7994" stop-color="#00ff10"/>
<stop offset="0.8053" stop-color="#00f888"/>
<stop offset="0.8580" stop-color="#00f0a8"/>
<stop offset="0.8594" stop-color="#00f0ff"/>
<stop offset="0.9195" stop-color="#00e8ff"/>
<stop offset="0.9209" stop-color="#0068ff"/>
<stop offset="1.0000" stop-color="#0050ff"/>
</linearGradient>
<rect x="71.7" y="245" width="453.6" height="68.3" fill="url(#gi)"/>
<clipPath id="cl3"><rect x="71.7" y="245" width="453.6" height="68.3"/></clipPath><g clip-path="url(#cl3)" stroke-linejoin="round">
<rect x="156" y="271.2" width="189" height="12.6" fill="#ff1000" opacity="0.85" filter="url(#b2)"/>
<rect x="156" y="271.5" width="15" height="12" fill="#ff0820" opacity="0.6" filter="url(#b2)"/>
<rect x="196" y="271.5" width="15" height="12" fill="#ff0828" opacity="0.75" filter="url(#b2)"/>
<rect x="215" y="267.3" width="20" height="16.4" fill="#ff0030" opacity="0.95" filter="url(#b2)"/>
<rect x="219" y="270" width="13" height="12" fill="#ff0040" opacity="0.8" filter="url(#b2)"/>
<rect x="260" y="271" width="40" height="12" fill="#ff0828" opacity="0.7" filter="url(#b2)"/>
<rect x="262" y="270" width="10" height="13" fill="#ff0038" opacity="0.6" filter="url(#b2)"/>
<rect x="300" y="270.3" width="38" height="14.4" fill="#ff1010" opacity="0.85" filter="url(#b2)"/>
<rect x="338" y="275.5" width="82" height="8" fill="#ff2800" opacity="0.35" filter="url(#b2)"/>
<rect x="345" y="276.5" width="15" height="7" fill="#ff1800" opacity="0.5" filter="url(#b2)"/>
<rect x="368" y="276.5" width="16" height="7" fill="#ff1800" opacity="0.45" filter="url(#b2)"/>
<rect x="394" y="276.5" width="16" height="7" fill="#ff1800" opacity="0.45" filter="url(#b2)"/>
<rect x="338" y="268.5" width="82" height="5" fill="#ff9800" opacity="0.5" filter="url(#b2)"/>
<rect x="338" y="283.7" width="82" height="3.6" fill="#ff9800" opacity="0.4" filter="url(#b2)"/>
<rect x="422" y="268" width="25" height="18" fill="#ff1018" opacity="0.9" filter="url(#b2)"/>
<rect x="432" y="270.5" width="9" height="13" fill="#ff0040" opacity="0.9" filter="url(#b2)"/>
<rect x="447" y="274" width="13" height="10" fill="#ff4800" opacity="0.4" filter="url(#b2)"/>
<rect x="460" y="275.5" width="8" height="9" fill="#ff1810" opacity="0.85" filter="url(#b2)"/>
<rect x="486" y="274.5" width="19" height="10" fill="#ff2008" opacity="0.8" filter="url(#b2)"/>
<rect x="512" y="272.5" width="14" height="13" fill="#ff2800" opacity="0.7" filter="url(#b2)"/>
<rect x="469" y="266" width="10" height="6.4" fill="#ff7000" opacity="0.85" filter="url(#b2)"/>
<rect x="470" y="268.5" width="50" height="5" fill="#ffa000" opacity="0.45" filter="url(#b2)"/>
<rect x="253" y="273.3" width="6" height="4.2" fill="#ff0028" opacity=".3" filter="url(#b1)"/>
<rect x="243.6" y="274.5" width="10.8" height="7.7" fill="#ff6800" opacity=".2" filter="url(#b1)"/>
<rect x="395.6" y="276.9" width="9.9" height="6.9" fill="#ff6800" opacity=".4" filter="url(#b1)"/>
<rect x="167.2" y="272.5" width="8.6" height="5.8" fill="#ff0028" opacity=".4" filter="url(#b1)"/>
<rect x="308.9" y="275.2" width="11.7" height="5" fill="#ff4800" opacity=".3" filter="url(#b1)"/>
<rect x="262.5" y="279.8" width="7.6" height="3.4" fill="#ff0018" opacity=".4" filter="url(#b1)"/>
<rect x="343.3" y="274.8" width="13.8" height="4.1" fill="#ff2800" opacity=".2" filter="url(#b1)"/>
<rect x="426.7" y="278" width="10" height="7.7" fill="#ff2800" opacity=".2" filter="url(#b1)"/>
<rect x="121.2" y="276.9" width="5.7" height="5.1" fill="#ff6800" opacity=".4" filter="url(#b1)"/>
<rect x="136" y="275.2" width="10.2" height="3.7" fill="#ff6800" opacity=".3" filter="url(#b1)"/>
<rect x="424.7" y="273.5" width="4.6" height="4.3" fill="#ff6800" opacity=".4" filter="url(#b1)"/>
<rect x="128.6" y="276.2" width="13.4" height="3.3" fill="#ff2800" opacity=".4" filter="url(#b1)"/>
<rect x="340.7" y="276.3" width="11.5" height="5" fill="#ff0028" opacity=".2" filter="url(#b1)"/>
<rect x="204.6" y="273.5" width="13.9" height="7.6" fill="#ff0018" opacity=".3" filter="url(#b1)"/>
<rect x="295.6" y="272.4" width="6.3" height="7.3" fill="#ff4800" opacity=".2" filter="url(#b1)"/>
<rect x="104.4" y="277.1" width="6.9" height="3.2" fill="#ff1000" opacity=".3" filter="url(#b1)"/>
<rect x="222.9" y="273.6" width="12.1" height="7.1" fill="#ff0018" opacity=".2" filter="url(#b1)"/>
<rect x="466" y="277.3" width="13.2" height="5" fill="#ff6800" opacity=".3" filter="url(#b1)"/>
<rect x="454.4" y="278" width="6.3" height="3.5" fill="#ff2800" opacity=".4" filter="url(#b1)"/>
<rect x="169.9" y="277.3" width="12.1" height="4.2" fill="#ff4800" opacity=".3" filter="url(#b1)"/>
<rect x="501.7" y="273.6" width="12.8" height="7.5" fill="#ff0028" opacity=".3" filter="url(#b1)"/>
<rect x="478.4" y="277.5" width="12.7" height="5.7" fill="#ff4800" opacity=".3" filter="url(#b1)"/>
<rect x="202.3" y="278.7" width="13.7" height="3.8" fill="#ff6800" opacity=".4" filter="url(#b1)"/>
<rect x="342.7" y="276.7" width="13.9" height="5.2" fill="#ff6800" opacity=".3" filter="url(#b1)"/>
<rect x="160.6" y="274.6" width="4" height="4.5" fill="#ff1000" opacity=".4" filter="url(#b1)"/>
<rect x="371.2" y="273.5" width="11.9" height="5.1" fill="#ff2800" opacity=".3" filter="url(#b1)"/>
<rect x="457.5" y="275.4" width="7.5" height="3.6" fill="#ff0018" opacity=".3" filter="url(#b1)"/>
<rect x="305.9" y="277.9" width="13.5" height="8" fill="#ff0018" opacity=".4" filter="url(#b1)"/>
<rect x="271" y="276.6" width="6.1" height="6.7" fill="#ff6800" opacity=".3" filter="url(#b1)"/>
<rect x="352.4" y="277.6" width="11.7" height="6" fill="#ff4800" opacity=".3" filter="url(#b1)"/>
<rect x="81.2" y="273.5" width="5.1" height="5.9" fill="#ff0028" opacity=".3" filter="url(#b1)"/>
<rect x="237.4" y="278.6" width="9.6" height="5.9" fill="#ff4800" opacity=".2" filter="url(#b1)"/>
<rect x="116.8" y="273.7" width="12.6" height="6.9" fill="#ff4800" opacity=".3" filter="url(#b1)"/>
<rect x="129.6" y="273.9" width="5.3" height="7.3" fill="#ff2800" opacity=".3" filter="url(#b1)"/>
<rect x="323.7" y="274.9" width="11.2" height="4" fill="#ff6800" opacity=".3" filter="url(#b1)"/>
<rect x="470.6" y="276.8" width="7.8" height="7.7" fill="#ff6800" opacity=".3" filter="url(#b1)"/>
<rect x="352.4" y="275.4" width="13.2" height="7.9" fill="#ff0018" opacity=".3" filter="url(#b1)"/>
<rect x="278" y="273.9" width="4.2" height="5.5" fill="#ff4800" opacity=".4" filter="url(#b1)"/>
<rect x="73.8" y="274.7" width="10.8" height="3.1" fill="#ff4800" opacity=".3" filter="url(#b1)"/>
<rect x="146.4" y="272.8" width="9.9" height="3.2" fill="#ff4800" opacity=".3" filter="url(#b1)"/>
<rect x="320.8" y="279.1" width="6.9" height="3.3" fill="#ff6800" opacity=".3" filter="url(#b1)"/>
<rect x="156.4" y="273" width="8.8" height="6.3" fill="#ff0028" opacity=".3" filter="url(#b1)"/>
<rect x="160.8" y="276.5" width="9.6" height="6.3" fill="#ff0018" opacity=".2" filter="url(#b1)"/>
<rect x="375.7" y="278.7" width="11.2" height="3.8" fill="#ff0028" opacity=".2" filter="url(#b1)"/>
<rect x="301.7" y="273.4" width="7.8" height="6.9" fill="#ff1000" opacity=".4" filter="url(#b1)"/>
<rect x="412.7" y="275.1" width="10.1" height="3.3" fill="#ff4800" opacity=".4" filter="url(#b1)"/>
<rect x="267.4" y="278" width="7.1" height="3.7" fill="#ff2800" opacity=".4" filter="url(#b1)"/>
<rect x="399.3" y="273.8" width="4.1" height="6.4" fill="#ff0028" opacity=".4" filter="url(#b1)"/>
<rect x="515.5" y="276.9" width="9.7" height="6" fill="#ff0028" opacity=".4" filter="url(#b1)"/>
<rect x="144.3" y="272.7" width="12.9" height="5.2" fill="#ff4800" opacity=".3" filter="url(#b1)"/>
<rect x="92.4" y="274.5" width="8" height="3.8" fill="#ff0028" opacity=".4" filter="url(#b1)"/>
<rect x="434.7" y="272.4" width="7" height="5.1" fill="#ff0028" opacity=".2" filter="url(#b1)"/>
<rect x="145.5" y="277.6" width="10.8" height="6.3" fill="#ff0028" opacity=".3" filter="url(#b1)"/>
<rect x="193.3" y="272" width="6.3" height="6.4" fill="#ff4800" opacity=".4" filter="url(#b1)"/>
<rect x="259.8" y="278.3" width="11.2" height="3.9" fill="#ff6800" opacity=".4" filter="url(#b1)"/>
<rect x="167" y="272.4" width="10.5" height="5.8" fill="#ff6800" opacity=".2" filter="url(#b1)"/>
<rect x="494.7" y="271.2" width="12.4" height="7.8" fill="#ff2800" opacity=".3" filter="url(#b1)"/>
<rect x="515.2" y="276.1" width="6.5" height="5.2" fill="#ff0028" opacity=".4" filter="url(#b1)"/>
<rect x="87.9" y="279.3" width="8" height="5.2" fill="#ff1000" opacity=".3" filter="url(#b1)"/>
<rect x="224.9" y="279.6" width="5.3" height="3.5" fill="#ff0018" opacity=".2" filter="url(#b1)"/>
<rect x="400.7" y="278" width="8.8" height="3.5" fill="#ff0018" opacity=".3" filter="url(#b1)"/>
<rect x="430.7" y="277.8" width="5.3" height="4.2" fill="#ff2800" opacity=".3" filter="url(#b1)"/>
<rect x="363.9" y="274.4" width="10.7" height="7.4" fill="#ff0018" opacity=".2" filter="url(#b1)"/>
<rect x="179.7" y="277.2" width="6.3" height="5" fill="#ff0018" opacity=".2" filter="url(#b1)"/>
<rect x="184.2" y="274.7" width="11.7" height="3.9" fill="#ff2800" opacity=".2" filter="url(#b1)"/>
<rect x="89.1" y="273.9" width="4.6" height="3.2" fill="#ff4800" opacity=".2" filter="url(#b1)"/>
<rect x="475.3" y="271.3" width="10.7" height="5.7" fill="#ff1000" opacity=".4" filter="url(#b1)"/>
<rect x="123.1" y="272.9" width="7.4" height="4.5" fill="#ff4800" opacity=".2" filter="url(#b1)"/>
<rect x="97" y="275" width="13.6" height="3.7" fill="#ff0028" opacity=".4" filter="url(#b1)"/>
<rect x="242.1" y="274.1" width="7.6" height="4.9" fill="#ff0018" opacity=".2" filter="url(#b1)"/>
<path d="M73.2 247V303M79.2 247V303M80.2 247V303M81.2 247V303M83.2 247V303M87.2 247V303M88.2 247V303M89.2 247V303M90.2 247V303M93.2 247V303M96.2 247V303M98.2 247V303M105.2 247V303M106.2 247V303M108.2 247V303M114.2 247V303M115.2 247V303M116.2 247V303M119.2 247V303M122.2 247V303M127.2 247V303M129.2 247V303M131.2 247V303M132.2 247V303M134.2 247V303M135.2 247V303M147.2 247V303M150.2 247V303M155.2 247V303M161.2 247V303M165.2 247V303M166.2 247V303M167.2 247V303M170.2 247V303M172.2 247V303M173.2 247V303M174.2 247V303M175.2 247V303M184.2 247V303M186.2 247V303M188.2 247V303M191.2 247V303M198.2 247V303M201.2 247V303M203.2 247V303M210.2 247V303M212.2 247V303M213.2 247V303M224.2 247V303M225.2 247V303M227.2 247V303M228.2 247V303M231.2 247V303M233.2 247V303M234.2 247V303M235.2 247V303M238.2 247V303M240.2 247V303M241.2 247V303M242.2 247V303M245.2 247V303M248.2 247V303M255.2 247V303M259.2 247V303M264.2 247V303M267.2 247V303M270.2 247V303M272.2 247V303M279.2 247V303M281.2 247V303M288.2 247V303M293.2 247V303M299.2 247V303M309.2 247V303M321.2 247V303M323.2 247V303M333.2 247V303M336.2 247V303M341.2 247V303M342.2 247V303M346.2 247V303M348.2 247V303M349.2 247V303M351.2 247V303M353.2 247V303M354.2 247V303M358.2 247V303M361.2 247V303M368.2 247V303M369.2 247V303M374.2 247V303M377.2 247V303M380.2 247V303M388.2 247V303M391.2 247V303M394.2 247V303M395.2 247V303M396.2 247V303M401.2 247V303M402.2 247V303M405.2 247V303M407.2 247V303M415.2 247V303M422.2 247V303M423.2 247V303M426.2 247V303M430.2 247V303M433.2 247V303M437.2 247V303M439.2 247V303M443.2 247V303M445.2 247V303M446.2 247V303M449.2 247V303M453.2 247V303M457.2 247V303M459.2 247V303M460.2 247V303M461.2 247V303M465.2 247V303M466.2 247V303M469.2 247V303M478.2 247V303M479.2 247V303M483.2 247V303M485.2 247V303M486.2 247V303M491.2 247V303M498.2 247V303M501.2 247V303M502.2 247V303M513.2 247V303M518.2 247V303M520.2 247V303M522.2 247V303M523.2 247V303M524.2 247V303" stroke="#fff" stroke-width="1" opacity=".07"/>
<path d="M74.2 303.8V307.9M81.2 303.8V307.9M87.2 303.8V307.9M87.2 307.9V313M91.2 307.9V313M93.2 303.8V307.9M95.2 303.8V307.9M95.2 307.9V313M97.2 307.9V313M100.2 307.9V313M101.2 307.9V313M103.2 307.9V313M106.2 307.9V313M107.2 303.8V307.9M107.2 307.9V313M112.2 307.9V313M115.2 307.9V313M116.2 307.9V313M118.2 307.9V313M120.2 307.9V313M123.2 307.9V313M125.2 307.9V313M128.2 307.9V313M135.2 307.9V313M136.2 307.9V313M137.2 307.9V313M140.2 303.8V307.9M141.2 307.9V313M144.2 307.9V313M151.2 307.9V313M153.2 303.8V307.9M153.2 307.9V313M154.2 303.8V307.9M155.2 307.9V313M164.2 303.8V307.9M165.2 303.8V307.9M174.2 307.9V313M176.2 303.8V307.9M178.2 303.8V307.9M182.2 303.8V307.9M185.2 307.9V313M186.2 303.8V307.9M189.2 303.8V307.9M189.2 307.9V313M194.2 307.9V313M198.2 303.8V307.9M198.2 307.9V313M200.2 303.8V307.9M200.2 307.9V313M204.2 303.8V307.9M204.2 307.9V313M209.2 307.9V313M210.2 307.9V313M214.2 303.8V307.9M214.2 307.9V313M215.2 307.9V313M217.2 307.9V313M218.2 303.8V307.9M225.2 307.9V313M234.2 303.8V307.9M237.2 307.9V313M239.2 307.9V313M240.2 303.8V307.9M240.2 307.9V313M244.2 303.8V307.9M245.2 307.9V313M249.2 303.8V307.9M257.2 307.9V313M259.2 303.8V307.9M260.2 303.8V307.9M261.2 303.8V307.9M261.2 307.9V313M263.2 303.8V307.9M263.2 307.9V313M271.2 303.8V307.9M273.2 303.8V307.9M273.2 307.9V313M279.2 307.9V313M284.2 307.9V313M295.2 307.9V313M298.2 303.8V307.9M299.2 307.9V313M302.2 307.9V313M303.2 307.9V313M304.2 307.9V313M305.2 307.9V313M307.2 303.8V307.9M311.2 307.9V313M314.2 303.8V307.9M316.2 307.9V313M318.2 303.8V307.9M321.2 303.8V307.9M329.2 303.8V307.9M329.2 307.9V313M331.2 307.9V313M335.2 303.8V307.9M338.2 307.9V313M340.2 303.8V307.9M342.2 303.8V307.9M345.2 307.9V313M349.2 307.9V313M350.2 303.8V307.9M350.2 307.9V313M354.2 303.8V307.9M354.2 307.9V313M358.2 303.8V307.9M359.2 307.9V313M361.2 303.8V307.9M366.2 307.9V313M373.2 307.9V313M379.2 303.8V307.9M379.2 307.9V313M380.2 307.9V313M381.2 307.9V313M385.2 303.8V307.9M389.2 303.8V307.9M389.2 307.9V313M396.2 307.9V313M398.2 303.8V307.9M398.2 307.9V313M399.2 303.8V307.9M402.2 307.9V313M403.2 303.8V307.9M404.2 307.9V313M405.2 307.9V313M409.2 307.9V313M414.2 307.9V313M415.2 307.9V313M416.2 307.9V313M417.2 303.8V307.9M417.2 307.9V313M420.2 303.8V307.9M420.2 307.9V313M424.2 303.8V307.9M431.2 307.9V313M432.2 303.8V307.9M437.2 303.8V307.9M448.2 307.9V313M450.2 303.8V307.9M451.2 307.9V313M454.2 307.9V313M456.2 307.9V313M461.2 303.8V307.9M464.2 307.9V313M466.2 303.8V307.9M479.2 307.9V313M484.2 307.9V313M487.2 303.8V307.9M487.2 307.9V313M489.2 303.8V307.9M492.2 307.9V313M493.2 307.9V313M496.2 303.8V307.9M498.2 307.9V313M502.2 303.8V307.9M504.2 307.9V313M507.2 307.9V313M509.2 303.8V307.9M510.2 307.9V313M511.2 303.8V307.9M511.2 307.9V313M513.2 307.9V313M518.2 303.8V307.9M518.2 307.9V313M519.2 307.9V313M521.2 307.9V313M523.2 307.9V313M525.2 307.9V313" stroke="#0030ff" stroke-width="1.05"/>
<path d="M84.2 303.8V307.9M85.2 303.8V307.9M96.2 303.8V307.9M108.2 303.8V307.9M111.2 303.8V307.9M118.2 303.8V307.9M120.2 303.8V307.9M124.2 303.8V307.9M128.2 303.8V307.9M139.2 303.8V307.9M144.2 303.8V307.9M145.2 303.8V307.9M151.2 303.8V307.9M163.2 303.8V307.9M166.2 303.8V307.9M169.2 303.8V307.9M187.2 303.8V307.9M195.2 303.8V307.9M210.2 303.8V307.9M212.2 303.8V307.9M213.2 303.8V307.9M221.2 303.8V307.9M236.2 303.8V307.9M252.2 303.8V307.9M257.2 303.8V307.9M264.2 303.8V307.9M270.2 303.8V307.9M276.2 303.8V307.9M281.2 303.8V307.9M287.2 303.8V307.9M292.2 303.8V307.9M300.2 303.8V307.9M315.2 303.8V307.9M327.2 303.8V307.9M332.2 303.8V307.9M369.2 303.8V307.9M375.2 303.8V307.9M390.2 303.8V307.9M394.2 303.8V307.9M421.2 303.8V307.9M425.2 303.8V307.9M442.2 303.8V307.9M459.2 303.8V307.9M469.2 303.8V307.9M484.2 303.8V307.9M512.2 303.8V307.9M515.2 303.8V307.9M516.2 303.8V307.9" stroke="#0098ff" stroke-width="1.05"/>
<path d="M75.2 307.9V313M77.2 307.9V313M79.2 307.9V313M83.2 307.9V313M84.2 307.9V313M86.2 307.9V313M96.2 307.9V313M104.2 307.9V313M108.2 307.9V313M113.2 307.9V313M121.2 307.9V313M124.2 307.9V313M131.2 307.9V313M138.2 307.9V313M147.2 307.9V313M149.2 307.9V313M160.2 307.9V313M164.2 307.9V313M165.2 307.9V313M168.2 307.9V313M169.2 307.9V313M175.2 307.9V313M177.2 307.9V313M178.2 307.9V313M182.2 307.9V313M190.2 307.9V313M191.2 307.9V313M193.2 307.9V313M199.2 307.9V313M202.2 307.9V313M206.2 307.9V313M213.2 307.9V313M216.2 307.9V313M218.2 307.9V313M219.2 307.9V313M221.2 307.9V313M229.2 307.9V313M231.2 307.9V313M235.2 307.9V313M241.2 307.9V313M243.2 307.9V313M246.2 307.9V313M250.2 307.9V313M255.2 307.9V313M258.2 307.9V313M260.2 307.9V313M262.2 307.9V313M265.2 307.9V313M266.2 307.9V313M267.2 307.9V313M268.2 307.9V313M274.2 307.9V313M277.2 307.9V313M280.2 307.9V313M281.2 307.9V313M285.2 307.9V313M286.2 307.9V313M288.2 307.9V313M289.2 307.9V313M290.2 307.9V313M291.2 307.9V313M293.2 307.9V313M296.2 307.9V313M298.2 307.9V313M301.2 307.9V313M308.2 307.9V313M313.2 307.9V313M314.2 307.9V313M317.2 307.9V313M319.2 307.9V313M320.2 307.9V313M323.2 307.9V313M328.2 307.9V313M330.2 307.9V313M334.2 307.9V313M339.2 307.9V313M341.2 307.9V313M342.2 307.9V313M343.2 307.9V313M344.2 307.9V313M346.2 307.9V313M347.2 307.9V313M348.2 307.9V313M351.2 307.9V313M361.2 307.9V313M364.2 307.9V313M365.2 307.9V313M372.2 307.9V313M383.2 307.9V313M384.2 307.9V313M386.2 307.9V313M387.2 307.9V313M400.2 307.9V313M401.2 307.9V313M403.2 307.9V313M408.2 307.9V313M421.2 307.9V313M424.2 307.9V313M427.2 307.9V313M430.2 307.9V313M433.2 307.9V313M434.2 307.9V313M435.2 307.9V313M436.2 307.9V313M442.2 307.9V313M445.2 307.9V313M447.2 307.9V313M449.2 307.9V313M452.2 307.9V313M455.2 307.9V313M460.2 307.9V313M465.2 307.9V313M466.2 307.9V313M470.2 307.9V313M483.2 307.9V313M496.2 307.9V313M497.2 307.9V313M499.2 307.9V313M505.2 307.9V313M506.2 307.9V313M508.2 307.9V313M512.2 307.9V313M515.2 307.9V313M516.2 307.9V313M524.2 307.9V313" stroke="#00d8ff" stroke-width="1.05"/>
<path d="M94.2 307.9V313M111.2 307.9V313M145.2 307.9V313M150.2 307.9V313M186.2 307.9V313M226.2 307.9V313M234.2 307.9V313M335.2 307.9V313M362.2 307.9V313M369.2 307.9V313M407.2 307.9V313M411.2 307.9V313" stroke="#e020e0" stroke-width="1.05"/>
<path d="M81.2 245.5V248.4M86.2 245.5V248.4M89.2 245.5V248.4M90.2 245.5V248.4M95.2 245.5V248.4M106.2 245.5V248.4M121.2 245.5V248.4M124.2 245.5V248.4M129.2 245.5V248.4M136.2 245.5V248.4M154.2 245.5V248.4M155.2 245.5V248.4M157.2 245.5V248.4M159.2 245.5V248.4M165.2 245.5V248.4M168.2 245.5V248.4M169.2 245.5V248.4M173.2 245.5V248.4M175.2 245.5V248.4M181.2 245.5V248.4M195.2 245.5V248.4M200.2 245.5V248.4M205.2 245.5V248.4M212.2 245.5V248.4M218.2 245.5V248.4M220.2 245.5V248.4M228.2 245.5V248.4M239.2 245.5V248.4M251.2 245.5V248.4M252.2 245.5V248.4M271.2 245.5V248.4M281.2 245.5V248.4M282.2 245.5V248.4M286.2 245.5V248.4M287.2 245.5V248.4M290.2 245.5V248.4M311.2 245.5V248.4M315.2 245.5V248.4M324.2 245.5V248.4M327.2 245.5V248.4M329.2 245.5V248.4M339.2 245.5V248.4M346.2 245.5V248.4M347.2 245.5V248.4M350.2 245.5V248.4M352.2 245.5V248.4M353.2 245.5V248.4M354.2 245.5V248.4M356.2 245.5V248.4M372.2 245.5V248.4M376.2 245.5V248.4M378.2 245.5V248.4M384.2 245.5V248.4M386.2 245.5V248.4M393.2 245.5V248.4M410.2 245.5V248.4M420.2 245.5V248.4M421.2 245.5V248.4M422.2 245.5V248.4M423.2 245.5V248.4M430.2 245.5V248.4M441.2 245.5V248.4M449.2 245.5V248.4M457.2 245.5V248.4M461.2 245.5V248.4M482.2 245.5V248.4M486.2 245.5V248.4M494.2 245.5V248.4M496.2 245.5V248.4M513.2 245.5V248.4M518.2 245.5V248.4M521.2 245.5V248.4" stroke="#0090ff" stroke-width="1" opacity=".7"/>
</g>
<path d="M119.5 245v10M119.5 313.3v-10M210.5 245v10M210.5 313.3v-10M301.5 245v10M301.5 313.3v-10M392.5 245v10M392.5 313.3v-10M483.5 245v10M483.5 313.3v-10" stroke="#111" stroke-width=".95"/>
<path d="M89.2 245v3.2M89.2 313.3v-3.2M149.8 245v3.2M149.8 313.3v-3.2M180.2 245v3.2M180.2 313.3v-3.2M240.8 245v3.2M240.8 313.3v-3.2M271.2 245v3.2M271.2 313.3v-3.2M331.8 245v3.2M331.8 313.3v-3.2M362.2 245v3.2M362.2 313.3v-3.2M422.8 245v3.2M422.8 313.3v-3.2M453.2 245v3.2M453.2 313.3v-3.2M513.8 245v3.2M513.8 313.3v-3.2" stroke="#111" stroke-width=".9"/>
<path d="M71.7 297h5.2M525.3 297h-5.2M71.7 282h5.2M525.3 282h-5.2M71.7 267h5.2M525.3 267h-5.2M71.7 252h5.2M525.3 252h-5.2M71.7 307.5h2.4M525.3 307.5h-2.4M71.7 303h2.4M525.3 303h-2.4M71.7 300.3h2.4M525.3 300.3h-2.4M71.7 298.5h2.4M525.3 298.5h-2.4M71.7 292.5h2.4M525.3 292.5h-2.4M71.7 288h2.4M525.3 288h-2.4M71.7 285.3h2.4M525.3 285.3h-2.4M71.7 283.5h2.4M525.3 283.5h-2.4M71.7 277.5h2.4M525.3 277.5h-2.4M71.7 273h2.4M525.3 273h-2.4M71.7 270.3h2.4M525.3 270.3h-2.4M71.7 268.5h2.4M525.3 268.5h-2.4M71.7 262.5h2.4M525.3 262.5h-2.4M71.7 258h2.4M525.3 258h-2.4M71.7 255.3h2.4M525.3 255.3h-2.4M71.7 253.5h2.4M525.3 253.5h-2.4M71.7 247.5h2.4M525.3 247.5h-2.4" stroke="#000" stroke-width=".9"/>
<rect x="71.7" y="245" width="453.6" height="68.3" stroke="#000" stroke-width="1.25"/>
<text x="528" y="301.5" font-size="11.5" fill="#000">10<tspan font-size="9.1" dy="-5">1</tspan><tspan dy="5">&#8203;</tspan></text>
<text x="528" y="286.5" font-size="11.5" fill="#000">10<tspan font-size="9.1" dy="-5">2</tspan><tspan dy="5">&#8203;</tspan></text>
<text x="528" y="271.5" font-size="11.5" fill="#000">10<tspan font-size="9.1" dy="-5">3</tspan><tspan dy="5">&#8203;</tspan></text>
<text x="528" y="256.5" font-size="11.5" fill="#000">10<tspan font-size="9.1" dy="-5">4</tspan><tspan dy="5">&#8203;</tspan></text>
<text transform="translate(557.8 279) rotate(-90)" font-size="11.2" fill="#000" text-anchor="middle">Energy (eV)</text>
<clipPath id="cl4"><rect x="71.7" y="313.3" width="453.6" height="67.9"/></clipPath><g clip-path="url(#cl4)" stroke-linejoin="round">
<path d="M131 313.8V381.2" stroke="#5c5" stroke-width="2" stroke-dasharray="9 5" opacity="0.9"/>
<path d="M159.3 313.8V381.2" stroke="#f00" stroke-width="1.3" stroke-dasharray="6.5 2" opacity="1"/>
<path d="M159.3 313.8V381.2" stroke="#00f" stroke-width="1.3" stroke-dasharray="1.6 6.9" opacity="1"/>
<path d="M216 313.8V381.2" stroke="#f44" stroke-width="1.8" stroke-dasharray="11 4" opacity="0.85"/>
<path d="M220.4 313.8V381.2" stroke="#3cf" stroke-width="1.8" stroke-dasharray="2 3" opacity="1"/>
<path d="M222 313.8V381.2" stroke="#f0f" stroke-width="1.8" stroke-dasharray="2 3" opacity="1"/>
<path d="M244.5 315.8V381.2" stroke="#0a0" stroke-width="1.3" stroke-dasharray="9 4" opacity="1"/>
<path d="M72 354.6l.5-.9l.5 0l.5 .5l.5-.3l.5 .3l.5-.2l.5-.6l.5 .3l.5-.6l.5 .9l.5-.2l.5-.7l.5 .9l.5 .1l.5 .5l.5 .1l.5 .6l.5 .3l.5-.5l.5-.9l.5 .3l.5-.2l.5 1.2l.5-.5l.5-.4l.5 1l.5-1.4l.5 .9l.5 .3l.5 .2l.5 .3l.5-.5l.5 .2l.5-.4l.5-.2l.5 .6l.5-.1l.5-.8l.5 .8l.5 .2l.5-.1l.5 1.3l.5-.4l.5-.5l.5-.2l.5 .9l.5-1.3l.5 1.1l.5 .4l.5-.3l.5-.1l.5-.8l.5 1l.5 .1l.5 .8l.5-.7l.5-.5l.5 1.1l.5-.7l.5 .6l.5 0l.5 .1l.5 .8l.5-1.3l.5-.2l.5-.4l.5 .6l.5-.6l.5 .1l.5-.8l.5 .2l.5 .8l.5-.2l.5-.3l.5 .1l.5 .8l.5-.8l.5 .1l.5 1l.5-.6l.5-.5l.5 .2l.5-.1l.5 .4l.5-.4l.5 .4l.5 1.2l.5-1.3l.5 .7l.5-.9l.5 1.2l.5 .2l.5-1.3l.5-.1l.5 .5l.5-1.2l.5 1.8l.5-.4l.5 0l.5-.7l.5 .3l.5 .2l.5 .9l.5-1.1l.5-.7l.5 .1l.5 .1l.5-.2l.5 .1l.5-.4l.5 .1l.5 .1l.5 .3l.5-.9l.5-.1l.5-.2l.5-.1l.5 0l.5 .1l.5-.4l.5-.3l.5-.9l.5 .5l.5-.8l.5-.5l.5 .1l.5 .8l.5-.1l.5-.1l.5 .5l.5-.5l.5-.3l.5-.9l.5 1.4l.5-.9l.5 1.2l.5-.8l.5 .4l.5 .4l.5-.5l.5 1l.5 .2l.5-.5l.5 .3l.5 1.3l.5 .4l.5 0l.5 .7l.5 .4l.5 .2l.5 .5l.5-.4l.5-.4l.5 .7l.5 0l.5 .1l.5 .5l.5 .1l.5-.9l.5-1l.5-.1l.5 1l.5-.3l.5-.9l.5-.4l.5-1.2l.5-.3l.5 .3l.5-.7l.5-.7l.5-.7l.5 .6l.5-.7l.5-.5l.5-.3l.5 .5l.5 .7l.5-1.9l.5-.2l.5 .1l.5-.5l.5 1.2l.5 .2l.5 .4l.5 1.2l.5 0l.5 1.1l.5-.3l.5 .5l.5-.4l.5 .2l.5-.1l.5-.7l.5 .5l.5-.2l.5 0l.5 .3l.5 0l.5 0l.5 .4l.5-1.7l.5 1.3l.5-1l.5-.1l.5-.1l.5-.4l.5 .1l.5-.3l.5 .6l.5-.4l.5-.2l.5-.8l.5 1.3l.5-2.1l.5-.6l.5 .1l.5-.9l.5-.3l.5 .2l.5 0l.5-.4l.5 .5l.5-.4l.5 .1l.5-.2l.5 .7l.5-.1l.5-.8l.5 .2l.5 0l.5-1l.5 .3l.5 .5l.5-.1l.5-.5l.5 .6l.5-.3l.5-.5l.5-.6l.5 .9l.5 0l.5-1l.5-.3l.5-.3l.5-.8l.5-.1l.5-.9l.5-.4l.5-1.3l.5-1l.5-1.3l.5-1.5l.5-1.5l.5 .5l.5-1.2l.5-.8l.5-.2l.5-.6l.5 0l.5 0l.5 1.1l.5 .2l.5 .1l.5 .4l.5 .5l.5 1l.5 0l.5-.6l.5-.8l.5-.7l.5-.4l.5 .3l.5 .3l.5 .1l.5 1.1l.5-.8l.5-.4l.5 .2l.5-.1l.5-.7l.5 1.3l.5 .3l.5 .4l.5-.8l.5 1.2l.5-.5l.5 1.6l.5-.9l.5-2.3l.5-3.1l.5-3.9l.5-2.5l.5-2.3l.5-2.2l.5-3.3l.5-1.6l.5-.5l.5-.3l.5-.4l.5 .5l.5 1.1l.5 2.4l.5-1.9l.5-.8l.5-.9l.5 1.5l.5 1.8l.5 3.1l.5 1l.5-.2l.5 1l.5 .4l.5 .4l.5-.3l.5 .6l.5 1.7l.5 .6l.5 1l.5 1.6l.5 1.7l.5 .5l.5 1.6l.5 .4l.5 1.1l.5 .9l.5 .8l.5 .3l.5 0l.5-.1l.5-.3l.5-.9l.5-.5l.5-.8l.5-.4l.5-1l.5-1.9l.5-.2l.5 .4l.5-1l.5 .1l.5 0l.5-.6l.5 .1l.5 .8l.5-1l.5 .3l.5 .1l.5 .4l.5-.3l.5-1.6l.5 .2l.5 .1l.5-.3l.5-1.4l.5-.1l.5 0l.5-1l.5-.9l.5 .5l.5-.8l.5 .3l.5-.6l.5 0l.5-.7l.5 1.7l.5-.6l.5-.3l.5-.6l.5-.2l.5-.5l.5 .5l.5 .3l.5 .1l.5-.1l.5 .5l.5-1.8l.5-.3l.5 .8l.5 1.7l.5 .9l.5 1.4l.5-.5l.5 0l.5 1.6l.5 1.3l.5-.2l.5-1.4l.5-.2l.5-.7l.5-2.5l.5-.6l.5 .5l.5-1.3l.5-.2l.5-.3l.5-.9l.5-1l.5 .6l.5-1.3l.5-.1l.5 .7l.5-1.6l.5-.3l.5 1.1l.5-.6l.5-.8l.5 .5l.5-.4l.5 .6l.5 .4l.5 .4l.5-.5l.5 1l.5 .4l.5 1.7l.5 1.4l.5 1.3l.5 .4l.5-.9l.5-.6l.5 1l.5-.4l.5-.7l.5 .2l.5 .4l.5-.5l.5-1.7l.5-.8l.5 .6l.5-.2l.5 .3l.5 .9l.5-.7l.5 .8l.5 .4l.5 .3l.5-.1l.5-.2l.5 1l.5 1l.5-.5l.5-1.1l.5-.5l.5 1.7l.5-.6l.5 .2l.5 0l.5 .4l.5 1.2l.5 .7l.5 .1l.5 1.6l.5 .1l.5 2l.5 .6l.5 1.2l.5 1.4l.5 1.9l.5 1.4l.5-.1l.5-1.7l.5-.9l.5-3.3l.5-.9l.5 .8l.5-.2l.5 .7l.5 .5l.5 .7l.5 .3l.5-.2l.5-.8l.5-.1l.5 .5l.5 .4l.5-.2l.5 .6l.5 .2l.5 1.7l.5 1.1l.5 1.6l.5-1.5l.5 .7l.5 0l.5 .6l.5-.4l.5-.5l.5-.2l.5 .1l.5 1l.5 1.8l.5 .2l.5 .1l.5 1.1l.5 1.6l.5 .6l.5 1l.5-1.1l.5 .2l.5-1.2l.5 .5l.5 .1l.5-.1l.5-.2l.5 .1l.5 0l.5 2.7l.5 .3l.5 0l.5 .6l.5 .4l.5 .4l.5 .3l.5 .2l.5 .3l.5 2.5l.5 .1l.5 2.5l.5 .6l.5 .3l.5-.6l.5 1.4l.5 .6l.5-.5l.5 .1l.5 0l.5 .8l.5-.2l.5 .5l.5 .9l.5 .9l.5 .6l.5 .7l.5 .9l.5 .9l.5-1.4l.5-1.4l.5-.1l.5 0l.5 1.1l.5 1.8l.5 0l.5 1.2l.5 .6l.5-.7l.5 0l.5-.9l.5-.2l.5-.9l.5-.5l.5 .5l.5 1.1l.5 .1l.5 1.8l.5 .8l.5-.3l.5-1.3l.5-.8l.5-.1l.5 .1l.5 1.5l.5 .3l.5 0l.5 1.4l.5-.3l.5-1.1l.5-.9l.5-.1l.5 .1l.5 1.3l.5 .2l.5 .5l.5-1l.5-.5l.5-.2l.5-.5l.5 .9l.5 1.1l.5 .1l.5 .5l.5 0l.5 .6l.5-.9l.5-.8l.5 .2l.5 .2l.5-1.1l.5-.2l.5 .7l.5-.5l.5 .7l.5-.6l.5 1.3l.5 .6l.5-.1l.5 .3l.5-.5l.5 .2l.5-2l.5 0l.5 .7l.5 .3l.5 .7l.5 1.2l.5 .2l.5-.3l.5 .8l.5 .8l.5-.3l.5 .9l.5-.3l.5-.4l.5 .7l.5-1.7l.5 0l.5 .3l.5 .1l.5-.4l.5-.6l.5-.7l.5 .1l.5 .2l.5-.5l.5-.3l.5-.2l.5-.4l.5 .4l.5 .2l.5 .4l.5-.9l.5 1.2l.5 .6l.5 .1l.5 1.7l.5-1.2l.5 .3l.5 .4l.5 .1l.5 .4l.5 .1l.5 .2l.5-.9l.5-.4l.5 .2l.5-.9l.5-.4l.5-.3l.5-1l.5 .2l.5 1l.5-.7l.5 .3l.5 .2l.5-1l.5 2.2l.5 .4l.5 .9l.5-.7l.5 .1l.5 .5l.5 1.1l.5 .7l.5-.7l.5 .6l.5 .3l.5-.2l.5 .5l.5 .5l.5 0l.5-1.4l.5 2l.5-1.1l.5 .6l.5-.8l.5-.3l.5-1l.5-.3l.5 .3l.5-.2l.5-.4l.5-.3l.5 .2l.5 .5l.5-1.3l.5-.5l.5 .1l.5-.1l.5-.4l.5-.3l.5-.3l.5-.5l.5 .2l.5-.7l.5-.6l.5-.8l.5-.9l.5-1.3l.5-.5l.5-.8l.5-.1l.5-.6l.5-.7l.5-.6l.5-.6l.5 .1l.5 .6l.5-.6l.5-.2l.5-.2l.5 1.8l.5 0l.5 .1l.5 .1l.5 .7l.5-.3l.5-1l.5 .3l.5 .5l.5-.9l.5 .7l.5 .9l.5 0l.5-.1l.5 .8l.5-.3l.5 .4l.5 .7l.5-.3l.5 .7l.5 .2l.5-.1l.5 .2l.5 .3l.5 1.1l.5-.9l.5 .1l.5-.5l.5-1.7l.5 .4l.5-1.1l.5-.4l.5 .2l.5-1.4l.5 1.4l.5-1.8l.5-.3l.5 .3l.5 .2l.5 .7l.5 .1l.5-.6l.5 1l.5 1.2l.5-.5l.5 2.3l.5 .5l.5 .5l.5 .7l.5 1l.5 2l.5-.6l.5 1.5l.5 .4l.5 1.9l.5 .7l.5-.7l.5-1.2l.5-.6l.5-1.4l.5 .5l.5-1.4l.5 1.3l.5-1.2l.5 .5l.5 .6l.5 0l.5-1l.5 .4l.5 .8l.5-1l.5-.7l.5 1.3l.5 0l.5-.6l.5-1.3l.5 .4l.5-.9l.5 .5l.5-1l.5 1.1l.5-.9l.5 1.8l.5 .3l.5 .8l.5 .1l.5 1.7l.5 1.2l.5 1l.5 1.5l.5 1.7l.5 1.5l.5-2.2l.5-1.1l.5-2.7l.5-1.1l.5-.7l.5 0l.5-.6l.5-2.2l.5-1.3l.5-1.2l.5-2.6l.5-2.2l.5-1.3l.5 .5l.5-1.2l.5 .1l.5-.8l.5-1.5l.5 .2l.5 1l.5-.7l.5 .4l.5 .7l.5 .4l.5 .3l.5 .3l.5-.3l.5-.3l.5 .1l.5 .1l.5-.5l.5 0l.5 .3l.5 .1l.5-.5l.5 .7l.5 0l.5 .7l.5-.2l.5-1.1l.5 .7l.5 .2l.5 .1l.5 .1l.5-.8l.5-.3l.5-1.1l.5-.5l.5-.3l.5-.7l.5-.3l.5-.9l.5-.2l.5-1.4l.5 0l.5 1.2l.5-1.7l.5 .3l.5-.4l.5-.1l.5 1l.5 1l.5-.3l.5 1.1l.5-.8l.5 .5l.5 .8l.5-.6l.5 .6l.5 0l.5 .1l.5 1.5l.5-.6l.5 .3l.5 .6l.5 .9l.5 1.1l.5 .1l.5 .1l.5 1.2l.5 .9l.5-.5l.5 1.6l.5-.2l.5 1.7l.5-.8l.5-.2l.5 1.2l.5 .1l.5 .3l.5 .6l.5-.2l.5 0l.5 .7l.5-.1l.5 .1l.5 .2l.5 0l.5 1.3l.5 .1l.5 .1l.5 0l.5 .3l.5-.5l.5 1.3" stroke="#222" stroke-width="0.9" />
</g>
<path d="M77.3 317.5h15" stroke="#3c3" stroke-width="1.3" stroke-dasharray="4 2"/>
<text x="93.9" y="320.7" font-size="9" fill="#3c3"><tspan fill="#3b3">t&#160;&#160;HT</tspan></text>
<path d="M77.3 324.2h15" stroke="#3cf" stroke-width="1.3" stroke-dasharray="1.3 1"/>
<text x="93.9" y="327.4" font-size="9" fill="#3cf"><tspan fill="#3af">t&#160;&#160;vmax</tspan></text>
<path d="M77.3 331h15" stroke="#f00" stroke-width="1.3" stroke-dasharray="4 2"/>
<text x="93.9" y="334.2" font-size="9" fill="#f00">t&#160;&#160;cs</text>
<path d="M77.3 338h15" stroke="#00f" stroke-width="1.3" stroke-dasharray="1.3 1"/>
<text x="93.9" y="341.2" font-size="9" fill="#00f">t&#160;&#160;dvmax</text>
<path d="M77.3 344.9h15" stroke="#222" stroke-width="1"/>
<text x="93.9" y="348.1" font-size="9" fill="#222">|V<tspan font-size="6" dy="1.5">i</tspan><tspan dy="-1.5">&#8203;</tspan>|</text>
<path d="M119.5 313.3v10M119.5 381.2v-10M210.5 313.3v10M210.5 381.2v-10M301.5 313.3v10M301.5 381.2v-10M392.5 313.3v10M392.5 381.2v-10M483.5 313.3v10M483.5 381.2v-10" stroke="#111" stroke-width=".95"/>
<path d="M89.2 313.3v3.2M89.2 381.2v-3.2M149.8 313.3v3.2M149.8 381.2v-3.2M180.2 313.3v3.2M180.2 381.2v-3.2M240.8 313.3v3.2M240.8 381.2v-3.2M271.2 313.3v3.2M271.2 381.2v-3.2M331.8 313.3v3.2M331.8 381.2v-3.2M362.2 313.3v3.2M362.2 381.2v-3.2M422.8 313.3v3.2M422.8 381.2v-3.2M453.2 313.3v3.2M453.2 381.2v-3.2M513.8 313.3v3.2M513.8 381.2v-3.2" stroke="#111" stroke-width=".9"/>
<path d="M71.7 379.3h5.2M525.3 379.3h-5.2M71.7 368.7h5.2M525.3 368.7h-5.2M71.7 358.1h5.2M525.3 358.1h-5.2M71.7 347.5h5.2M525.3 347.5h-5.2M71.7 336.9h5.2M525.3 336.9h-5.2M71.7 326.3h5.2M525.3 326.3h-5.2M71.7 315.7h5.2M525.3 315.7h-5.2M71.7 379.3h2.4M525.3 379.3h-2.4M71.7 376.7h2.4M525.3 376.7h-2.4M71.7 374h2.4M525.3 374h-2.4M71.7 371.4h2.4M525.3 371.4h-2.4M71.7 368.7h2.4M525.3 368.7h-2.4M71.7 366.1h2.4M525.3 366.1h-2.4M71.7 363.4h2.4M525.3 363.4h-2.4M71.7 360.8h2.4M525.3 360.8h-2.4M71.7 358.1h2.4M525.3 358.1h-2.4M71.7 355.4h2.4M525.3 355.4h-2.4M71.7 352.8h2.4M525.3 352.8h-2.4M71.7 350.2h2.4M525.3 350.2h-2.4M71.7 347.5h2.4M525.3 347.5h-2.4M71.7 344.9h2.4M525.3 344.9h-2.4M71.7 342.2h2.4M525.3 342.2h-2.4M71.7 339.6h2.4M525.3 339.6h-2.4M71.7 336.9h2.4M525.3 336.9h-2.4M71.7 334.2h2.4M525.3 334.2h-2.4M71.7 331.6h2.4M525.3 331.6h-2.4M71.7 328.9h2.4M525.3 328.9h-2.4M71.7 326.3h2.4M525.3 326.3h-2.4M71.7 323.6h2.4M525.3 323.6h-2.4M71.7 321h2.4M525.3 321h-2.4M71.7 318.4h2.4M525.3 318.4h-2.4M71.7 315.7h2.4M525.3 315.7h-2.4" stroke="#000" stroke-width=".9"/>
<rect x="71.7" y="313.3" width="453.6" height="67.9" stroke="#000" stroke-width="1.25"/>
<text x="69.2" y="383.3" font-size="11" fill="#000" text-anchor="end">0</text>
<text x="69.2" y="372.7" font-size="11" fill="#000" text-anchor="end">20</text>
<text x="69.2" y="362.1" font-size="11" fill="#000" text-anchor="end">40</text>
<text x="69.2" y="351.5" font-size="11" fill="#000" text-anchor="end">60</text>
<text x="69.2" y="340.9" font-size="11" fill="#000" text-anchor="end">80</text>
<text x="69.2" y="330.3" font-size="11" fill="#000" text-anchor="end">100</text>
<text x="69.2" y="319.7" font-size="11" fill="#000" text-anchor="end">120</text>
<text transform="translate(44 347.5) rotate(-90)" font-size="11.2" fill="#000" text-anchor="middle">| V<tspan font-size="8.6" dy="3.3">i</tspan><tspan dy="-3.3">&#8203;</tspan> | [km/s]</text>
<clipPath id="cl5"><rect x="71.7" y="381.2" width="453.6" height="68.3"/></clipPath><g clip-path="url(#cl5)" stroke-linejoin="round">
<path d="M131 381.7V449.5" stroke="#5c5" stroke-width="2" stroke-dasharray="9 5" opacity="0.9"/>
<path d="M159.3 381.7V449.5" stroke="#f00" stroke-width="1.3" stroke-dasharray="6.5 2" opacity="1"/>
<path d="M159.3 381.7V449.5" stroke="#00f" stroke-width="1.3" stroke-dasharray="1.6 6.9" opacity="1"/>
<path d="M216 381.7V449.5" stroke="#f44" stroke-width="1.8" stroke-dasharray="11 4" opacity="0.85"/>
<path d="M222 381.7V449.5" stroke="#f0f" stroke-width="1.8" stroke-dasharray="2 3" opacity="1"/>
<path d="M244.5 383.7V449.5" stroke="#0a0" stroke-width="1.3" stroke-dasharray="9 4" opacity="1"/>
<path d="M72 410.9l1-.9l1 .2l1-.6l1-.3l1-.5l1 .7l1-.2l1 .5l1 .2l1-.5l1 .8l1 .7l1 .1l1 .5l1 0l1-.9l1 .5l1-.6l1 .2l1 .6l1 1.3l1 .8l1 .4l1 .8l1-.9l1 .9l1-1l1-.4l1 .8l1-.4l1-.7l1-.1l1-.5l1 0l1 1.2l1 1.1l1-1.7l1 .7l1 .6l1 .4l1-1l1-.3l1-.1l1-.2l1 1.1l1-.9l1 1.3l1 .3l1-.1l1-.3l1-.7l1-.3l1 0l1-.4l1-.6l1-1.2l1 1.8l1-1.2l1 .4l1 1.3l1-.2l1 .2l1-.2l1-.2l1-.6l1-.8l1-.7l1 0l1-.1l1 .9l1 1.5l1 .6l1 0l1 .4l1 .5l1-.2l1 0l1 .2l1 .6l1-.4l1-.4l1-.7l1-.6l1-.8l1 .4l1 0l1 1l1 0l1-.5l1-.1l1 1.5l1-.7l1-.6l1-.6l1 0l1-.9l1-.8l1 .3l1-.9l1-.6l1 .3l1-.4l1 0l1-.2l1-.8l1-.2l1-2l1 .3l1-.7l1-1.3l1-.3l1 .6l1 .6l1-.3l1-.1l1 .4l1 .5l1-1l1-.1l1-.4l1-.1l1 .3l1-1.3l1-.9l1-2.6l1-3.4l1-1.4l1-.4l1-.5l1-.6l1-.3l1 1.3l1 1.7l1 .5l1-.7l1 .1l1-.2l1 .7l1 .6l1 .8l1 2.2l1 1.6l1 2.5l1 .2l1-2.6l1-3.7l1-3.4l1-3.3l1-2.5l1-1.5l1-1.1l1-.4l1 1.3l1 .5l1 1l1 .8l1-.5l1 0l1 1.6l1 1.7l1 .8l1 2.8l1 .1l1-.8l1 .2l1-1.4l1 .2l1-2.2l1-.9l1-1l1 1.4l1 .8l1-.7l1 0l1-.5l1-1.2l1 .1l1 .1l1-2l1-.3l1 .6l1-1.2l1 .7l1-1.2l1-1l1-.5l1 .7l1 .7l1 2l1 .1l1 1.5l1 .7l1 .3l1-.7l1-2.1l1-1.2l1-1.2l1-1.7l1-1.1l1 0l1 .1l1-.1l1 .2l1 .6l1 1l1 .8l1 1.4l1 1.4l1 2.2l1-.4l1-.2l1-1.5l1-.7l1-.3l1-.3l1 .7l1 0l1 .3l1 .6l1-.1l1-.2l1 .3l1-.9l1 1.8l1 1.5l1 1.5l1 2.8l1 1.1l1 1.8l1 1.1l1-1.6l1-1l1-2l1 .9l1 .3l1 .1l1 0l1-.8l1 .6l1 1.8l1 .9l1 .1l1 .2l1-.2l1 0l1 .8l1 1.7l1 1l1 1l1 1.1l1-.4l1-.6l1 .3l1 1.4l1 .3l1 .9l1 .2l1 .7l1 2.3l1 .3l1 .1l1 .3l1 1.2l1 .4l1 .9l1 .7l1 1l1 .7l1 .4l1 .4l1-.1l1 .6l1 1.2l1 1l1-1.7l1-.3l1 1.9l1 1.4l1-.4l1 0l1-.3l1 .3l1-.7l1 1l1-.1l1-.4l1-.7l1-.1l1-.7l1 .5l1 0l1 .3l1 0l1 .2l1-.2l1 1l1-.3l1 .3l1-.1l1 .5l1 .2l1 .7l1 .6l1-.1l1 .4l1 0l1-.8l1-.2l1 .5l1 .1l1-1.2l1-.5l1 .3l1 0l1-.1l1 .1l1-.4l1 .7l1 .1l1 .7l1-.4l1 .2l1-.3l1 .1l1 .8l1-1.2l1 1.1l1-.4l1 .7l1 1.2l1 .1l1 0l1 .5l1-.1l1 .9l1 .3l1 1l1-.9l1 .3l1-.2l1 .9l1-.7l1 1.6l1 .3l1 1.7l1 .8l1 .7l1 1.5l1 .5l1 1.7l1 .4l1 0l1-1.3l1-3l1-2.2l1-.2l1 .3l1 .5l1-.3l1-.6l1-.6l1-1.1l1-.5l1 0l1 .6l1 .8l1-.3l1-.9l1-.8l1-.6l1-.8l1-.3l1-.3l1-.2l1 1.4l1 1.1l1 1.3l1 1.1l1-.4l1 1.2l1-.4l1 .4l1-1.4l1-.8l1-1l1-.7l1-.2l1-1.2l1-.7l1-.9l1 .1l1 .1l1-1.3l1-.2l1-1l1 .7l1 .9l1 .6l1 2.4l1 3l1 .9l1-1.5l1-2l1-2.5l1-2.6l1-2.2l1-1.8l1-1.1l1-1.1l1-.8l1 .3l1-2l1 .2l1-.3l1 .2l1 .6l1-.7l1 .9l1-.1l1 1.6l1-.4l1 .9l1-.3l1 .3l1-.5l1 .7l1-.7l1-1.7l1-.5l1-1.1l1 .5l1 .5l1 .8l1-.7l1 .4l1 1.6l1-.2l1 .6l1 .7l1 1.1l1 .5l1-.3l1 .9l1 .6l1 .9l1-.3l1 .8l1 .4l1 .4l1-.6l1 1.2l1 .3l1 .4" stroke="#f33" stroke-width="0.9" />
<path d="M72 425.3l1-1.8l1 .6l1-.3l1-.9l1 .6l1 .2l1 .8l1 0l1-1.3l1 .2l1 1.6l1-.9l1 .2l1 .9l1-.7l1 .5l1-2.3l1 1.1l1 .4l1 .1l1 .8l1-.8l1-.6l1-1.9l1-.6l1-1.1l1 1.8l1 1.3l1 .6l1 0l1-1l1-.2l1-2l1 .5l1-.6l1 1.8l1 .2l1 .5l1-1l1 .8l1 2.6l1 .6l1-2.3l1-2.1l1 2.4l1 3.4l1 1.2l1-.5l1-.7l1-.5l1 .1l1 .2l1-1.7l1 .7l1 2.1l1 .6l1 1.7l1-.3l1 .8l1-.5l1-.8l1 0l1 1.6l1 .1l1-.8l1-.6l1 .7l1-2.2l1 .2l1-1.9l1 .6l1-2.2l1-.5l1-.1l1-1.5l1-1.2l1 .6l1-.2l1 .1l1 1.1l1 .7l1 1.5l1 1.2l1 .6l1 .2l1 1l1-.2l1 1.1l1-2.5l1 1.2l1-.4l1-2.5l1-1.2l1-.3l1-.3l1-.6l1-.3l1 .5l1 .3l1 .1l1 1.8l1-.2l1 .8l1 1.2l1 1.3l1-.1l1-1.6l1-1.5l1 .4l1-1.5l1-.2l1 .1l1 .3l1-1.2l1-.3l1-2.3l1 .8l1-1.5l1-.1l1 .7l1-1.1l1 .1l1 1.4l1 1.3l1-1.5l1 .4l1 1.7l1 .8l1 1.3l1-1.5l1-.3l1-2.1l1 .2l1-.3l1-1.3l1-.6l1-1.6l1 0l1-2.6l1-.7l1-1.9l1-1.2l1-2.6l1-2l1-1.5l1-3l1-3.7l1-2l1 2l1 2.7l1 .5l1 .9l1 2.5l1 2.4l1 2.8l1 2.5l1 .7l1-1l1-.6l1 1.2l1 3.5l1 2.3l1 2.1l1 2.7l1 1.5l1 1.6l1-.5l1-.8l1-2.6l1-1.4l1-2.9l1-.9l1 .6l1-.5l1-.8l1-1l1-1.3l1-.2l1 .8l1-1.3l1 .9l1 .3l1 1l1 .5l1 .6l1-.6l1-1.5l1-1.1l1 .5l1-.3l1 1.3l1-.1l1-1l1-.6l1-1.6l1 1.4l1 1l1 2.1l1 .4l1 .2l1-.3l1-1.1l1-1.6l1-1.7l1 .3l1-.1l1-.4l1-.8l1-.6l1 .5l1-1.8l1 .2l1 .2l1 .3l1 .7l1 .6l1 1.8l1 .8l1-.4l1-2l1 1l1-1.1l1 .2l1-.2l1 .8l1 1.3l1 .8l1 .8l1-1.2l1-2.7l1-1l1-.5l1 1l1 2.7l1-1l1-.2l1-1.2l1 1.4l1 1.3l1 .8l1 .3l1-.7l1-.6l1 2.1l1 2.5l1 2.1l1 1.5l1-.8l1 1.1l1-2.1l1-2.2l1-2.2l1 1.2l1 1.2l1 .5l1 1.1l1 .5l1 3l1 1.3l1-.1l1 .7l1-.4l1-.1l1 .9l1 1.8l1-2.8l1-.1l1-2.3l1 .4l1 1.9l1-.9l1 0l1-1l1 1.9l1 1.2l1 2.5l1 1.3l1-.6l1 .1l1-.2l1 .8l1-.1l1 .4l1 .4l1 .4l1 1.3l1 .1l1-1.3l1 0l1 .1l1 .7l1 .1l1 0l1 1.9l1 .2l1-.2l1-1.3l1 1.5l1 0l1 1.4l1-1.1l1-.8l1-.3l1-1.5l1 .7l1-.1l1-.1l1 .7l1 1.1l1-1.1l1-1.4l1 1.5l1-1.5l1-.1l1 1.1l1 1.1l1-1.5l1-1.4l1 .4l1-1.5l1-.4l1-1.3l1-.5l1 .4l1-1.4l1 .1l1 .4l1 0l1-.4l1 .9l1-.9l1 .9l1-.3l1 .5l1-.6l1 .1l1 .4l1-2.4l1 .2l1-1.1l1-.4l1 .2l1-.1l1-1.8l1 .4l1-.7l1 .3l1-.6l1 .3l1-.4l1-2.2l1 0l1 0l1 1.2l1-.2l1-.7l1 1.2l1 1.7l1 1l1-.1l1 1.7l1-.2l1 .7l1 .5l1-2.1l1 1.9l1-.6l1-1.1l1-.3l1-.7l1-.3l1-.2l1-.8l1-1.8l1 1.6l1 1l1 1.2l1 1.7l1 2.7l1 .7l1 1l1 .8l1 .1l1-1.3l1-.6l1-.8l1 .4l1 .5l1-1.9l1 .1l1 .4l1 .2l1 1l1-.6l1 .4l1-.1l1 .6l1 .9l1 1l1 .4l1 1.9l1 3.2l1 .6l1 .1l1 2.3l1 .2l1 .9l1-.4l1 .7l1-1.5l1-.5l1-2.5l1-1l1-1.1l1-2.4l1-3.2l1 .4l1-.6l1 3.5l1 1.3l1 1.7l1 1.8l1 2.6l1 2l1 1l1 1.8l1 1.6l1-.5l1 1.1l1-2.4l1-.9l1-1l1-1.4l1-.7l1 1.5l1 .6l1-.5l1-.4l1-.5l1-1.1l1 .6l1-.6l1-1.8l1-.5l1-1l1-1.1l1-.7l1-.5l1-.7l1-1l1 .2l1 .1l1-.7" stroke="#33f" stroke-width="0.9" />
<path d="M72 431.5l1 .9l1-1.9l1 .6l1-.1l1-.3l1 .1l1 1.8l1-.8l1-.2l1 1.3l1-1l1-.2l1 .4l1 .9l1-.2l1 .2l1-.2l1 .4l1 .1l1 .3l1 1.9l1 1.7l1 1.5l1-.2l1-1l1-1.1l1-.7l1-.6l1 .9l1 1.2l1-1l1-.1l1-1.1l1-1.4l1 .4l1 1.6l1 1l1 1.1l1-.3l1 1.3l1 1.9l1-1.5l1-.9l1-1.2l1 1.4l1 1.3l1 .8l1 .1l1-.1l1-1.5l1-.7l1 .2l1 0l1-.7l1-.2l1-1.5l1-.5l1 1.2l1 1.4l1 2.8l1-.1l1-.6l1-.7l1 1.1l1 .3l1 2.1l1 .4l1-.3l1-1.3l1-.2l1-1.9l1-1.4l1 .2l1-1.8l1 .3l1-.2l1 .3l1-.8l1-.5l1 2l1 1.4l1 .1l1 2.1l1 .4l1 1.6l1 0l1 1l1 1.4l1 .1l1-.1l1-1.8l1-1.8l1-1.3l1-.9l1-1.4l1-1.3l1-.3l1-.4l1-.3l1-.4l1-.5l1 .8l1 .6l1-.1l1-1l1-.2l1-1.5l1-.3l1 .1l1 0l1 1.2l1-.8l1-.8l1 1.2l1-1.1l1 .6l1-.1l1-.4l1-1.5l1-.7l1-.5l1-1.5l1-1.9l1-1.8l1-2.3l1 1.4l1 .1l1 1l1-1.3l1-.8l1 1.9l1 .1l1 .7l1 2.1l1 1.5l1-.2l1 1.2l1-.1l1 2.6l1 3.4l1 2.1l1 3.9l1-2l1-3.5l1-3.4l1 2.2l1 3.7l1 .6l1 .1l1-1.4l1-2.6l1-.3l1-.6l1-1.3l1-2.6l1-2.1l1-1.8l1-1.8l1-1.2l1 1.7l1 .3l1 2.1l1 1.4l1 2.3l1 1.9l1 1.6l1 .2l1 1.2l1 .9l1 .3l1 .4l1-.5l1-.2l1-.6l1-1l1-1.2l1-.6l1-1.2l1-1.1l1-.6l1-.6l1-1l1-.4l1 .5l1-.8l1-.2l1 1.2l1 3l1 1.5l1 .7l1-2.2l1-2.9l1-1.7l1-2.6l1 .1l1-.3l1 1.8l1 .3l1 1.6l1 1l1 1.5l1 1l1 .9l1 1.5l1-.3l1 .2l1 1.5l1-.9l1 .5l1-1l1-.3l1 0l1-.6l1 1l1 .5l1-.5l1 1.1l1 1.4l1 .4l1 .3l1 1.1l1-3.3l1-1.6l1-1.1l1 .5l1-2.1l1 1.1l1-.5l1-1.2l1-1.2l1-1.8l1-4.5l1-3.6l1 1.5l1 1.7l1 .8l1-.5l1-.2l1-.9l1 .6l1 .9l1 .7l1-1.9l1 0l1-1.6l1 2.7l1 3.9l1 2.7l1 .9l1 1.9l1-1l1-1.6l1-.3l1-.9l1-2.4l1-2.2l1-.7l1 .1l1 1.5l1-.7l1-.4l1-1.6l1 .6l1 .5l1-1l1 1.7l1-.2l1 1.4l1-1.4l1-.3l1-1.8l1 1.6l1 3.2l1-1.9l1-1.7l1-2.1l1 .1l1-1.8l1-1.5l1 2.1l1 0l1 .4l1 1.1l1 0l1-.5l1 .2l1 .5l1 .1l1 .7l1 1.4l1 1.1l1-.4l1 .6l1 .1l1 .7l1-.7l1 .7l1-1l1-1l1 .2l1-1l1 .7l1-.5l1-1.1l1 .8l1 .4l1 .1l1-1.6l1-.1l1-.4l1 1.1l1 .2l1-.1l1 .5l1 .9l1 .1l1 .1l1-.3l1-2.3l1 .8l1-.1l1 .3l1-1.3l1 .3l1 .7l1 .3l1 .7l1 .5l1-.9l1 1.2l1 .2l1 .2l1-.1l1 0l1-.7l1 .3l1-.2l1-1.1l1 1.2l1-2.3l1 .6l1 .3l1-.2l1 .3l1-.9l1-.9l1-1.3l1-.6l1-.8l1-1l1-1.8l1-.1l1-1.6l1 1.2l1-.9l1 .9l1 .5l1-.4l1-.7l1-.7l1 .6l1-.8l1 1l1 .1l1 .7l1 1.2l1 1.5l1 .3l1-1.3l1-.1l1-1.8l1-.5l1 .4l1-.1l1 0l1 .3l1-.9l1 1.3l1 1.3l1 .9l1 1.1l1 .7l1 .3l1 2.5l1-.1l1 .7l1-1.2l1 .6l1 .9l1 3.5l1 2.9l1 .7l1 .6l1 2.4l1 1.7l1 .8l1-1.8l1-1.4l1-.6l1-1.9l1-.1l1-.8l1-.5l1 .8l1 .3l1-1.1l1 1.8l1-.5l1 .2l1-.7l1 .1l1 .2l1 2.3l1-.7l1-.6l1-2.3l1-1.8l1 .1l1 0l1-.5l1 .9l1-.5l1-.5l1 .6l1-2.1l1 .1l1-.1l1 1.3l1 .5l1-.5l1-1.2l1-.3l1 .3l1-1.6l1 1.8l1-.4l1 .7l1 1.7l1 .3l1 .7l1 1.6l1 .8l1 .2l1 .4l1 .5l1 .6l1-.2l1-.5l1 .2l1-.1l1-1.3l1-1.1l1 0" stroke="#3e3" stroke-width="0.9" />
<path d="M71.7 430.2H525.3" stroke="#000" stroke-width="2.2" stroke-dasharray="6 3.5"/>
</g>
<path d="M77.5 389.5h17" stroke="#33f" stroke-width="1"/>
<text x="96.1" y="393" font-size="9.6" fill="#33f">V<tspan font-size="8" dy="3.4">L</tspan><tspan dy="-3.4">&#8203;</tspan></text>
<path d="M77.5 404h17" stroke="#3e3" stroke-width="1"/>
<text x="96.1" y="407.5" font-size="9.6" fill="#3e3">V<tspan font-size="8" dy="3.4">M</tspan><tspan dy="-3.4">&#8203;</tspan></text>
<path d="M77.5 418.5h17" stroke="#f44" stroke-width="1.2"/>
<text x="96.1" y="422" font-size="9.6" fill="#f44"><tspan fill="#f00">V<tspan font-size="8" dy="3.4">N</tspan><tspan dy="-3.4">&#8203;</tspan></tspan></text>
<path d="M119.5 381.2v10M119.5 449.5v-10M210.5 381.2v10M210.5 449.5v-10M301.5 381.2v10M301.5 449.5v-10M392.5 381.2v10M392.5 449.5v-10M483.5 381.2v10M483.5 449.5v-10" stroke="#111" stroke-width=".95"/>
<path d="M89.2 381.2v3.2M89.2 449.5v-3.2M149.8 381.2v3.2M149.8 449.5v-3.2M180.2 381.2v3.2M180.2 449.5v-3.2M240.8 381.2v3.2M240.8 449.5v-3.2M271.2 381.2v3.2M271.2 449.5v-3.2M331.8 381.2v3.2M331.8 449.5v-3.2M362.2 381.2v3.2M362.2 449.5v-3.2M422.8 381.2v3.2M422.8 449.5v-3.2M453.2 381.2v3.2M453.2 449.5v-3.2M513.8 381.2v3.2M513.8 449.5v-3.2" stroke="#111" stroke-width=".9"/>
<path d="M71.7 430.2h5.2M525.3 430.2h-5.2M71.7 408.2h5.2M525.3 408.2h-5.2M71.7 386.2h5.2M525.3 386.2h-5.2M71.7 447.8h2.4M525.3 447.8h-2.4M71.7 443.4h2.4M525.3 443.4h-2.4M71.7 439h2.4M525.3 439h-2.4M71.7 434.6h2.4M525.3 434.6h-2.4M71.7 430.2h2.4M525.3 430.2h-2.4M71.7 425.8h2.4M525.3 425.8h-2.4M71.7 421.4h2.4M525.3 421.4h-2.4M71.7 417h2.4M525.3 417h-2.4M71.7 412.6h2.4M525.3 412.6h-2.4M71.7 408.2h2.4M525.3 408.2h-2.4M71.7 403.8h2.4M525.3 403.8h-2.4M71.7 399.4h2.4M525.3 399.4h-2.4M71.7 395h2.4M525.3 395h-2.4M71.7 390.6h2.4M525.3 390.6h-2.4M71.7 386.2h2.4M525.3 386.2h-2.4M71.7 381.8h2.4M525.3 381.8h-2.4" stroke="#000" stroke-width=".9"/>
<rect x="71.7" y="381.2" width="453.6" height="68.3" stroke="#000" stroke-width="1.25"/>
<text x="528" y="434.2" font-size="11" fill="#000" text-anchor="start">0</text>
<text x="528" y="412.2" font-size="11" fill="#000" text-anchor="start">50</text>
<text x="528" y="390.2" font-size="11" fill="#000" text-anchor="start">100</text>
<text transform="translate(562.5 415) rotate(-90)" font-size="11.2" fill="#000" text-anchor="middle">V<tspan font-size="8.6" dy="3.3">i LMN</tspan><tspan dy="-3.3">&#8203;</tspan> [km/s]</text>
<clipPath id="cl6"><rect x="71.7" y="449.5" width="453.6" height="68.7"/></clipPath><g clip-path="url(#cl6)" stroke-linejoin="round">
<path d="M131 450V518.2" stroke="#5c5" stroke-width="2" stroke-dasharray="9 5" opacity="0.9"/>
<path d="M159.3 450V518.2" stroke="#f00" stroke-width="1.3" stroke-dasharray="6.5 2" opacity="1"/>
<path d="M159.3 450V518.2" stroke="#00f" stroke-width="1.3" stroke-dasharray="1.6 6.9" opacity="1"/>
<path d="M216 450V518.2" stroke="#f44" stroke-width="1.8" stroke-dasharray="11 4" opacity="0.85"/>
<path d="M222 450V518.2" stroke="#f0f" stroke-width="1.8" stroke-dasharray="2 3" opacity="1"/>
<path d="M244.5 452V518.2" stroke="#0a0" stroke-width="1.3" stroke-dasharray="9 4" opacity="1"/>
<path d="M72 499.3l1-1l1-.8l1-1.4l1-.9l1 .4l1 0l1 1.4l1 1.4l1-.4l1 1.4l1-.9l1 1l1 0l1-1.5l1 .8l1-1.3l1-1.9l1-1.2l1 4.1l1 1.3l1-3l1-2l1 2.4l1 2.1l1-5.1l1-4.7l1 3l1 3.1l1-.3l1-.4l1 .2l1 2.2l1 2.6l1 2l1-2.6l1-1.6l1 .5l1 2.9l1 2.3l1-2.4l1-1l1 .4l1 1.7l1 .4l1-1.6l1-1.8l1-1l1 .4l1 .2l1-.1l1 .1l1-.3l1 1.1l1 3.2l1 3.3l1 2.4l1-1.8l1-2.4l1-.9l1-.9l1 .1l1-.3l1-1.8l1-1l1-1.2l1 1.4l1 .7l1 .7l1-1.9l1-1.2l1-3.1l1-.3l1 1.5l1 .8l1 1.4l1 1.4l1 .5l1 1.4l1 1.1l1 .2l1-3.6l1-1.5l1 4l1 5.1l1-5.6l1-6l1-5l1-.1l1-1.4l1-.5l1 2l1 .6l1 1.4l1-.4l1-.7l1 .4l1 3.9l1 4l1 2.9l1 4l1-1.6l1-3.9l1-2l1-.4l1-1.9l1-1.5l1 1.1l1 1.4l1 1.2l1-2.1l1-3.5l1-1.4l1-.3l1-1.8l1-1.3l1 2.1l1 1l1 1l1 1.7l1 2l1 3.8l1 3.1l1-1.9l1-3.7l1-4.6l1-.5l1-2.1l1-1.5l1-1.5l1 .6l1-1.9l1-1.1l1-.3l1-.4l1 1.2l1 .9l1 .2l1 4.5l1 3.1l1 2.9l1 2.9l1 3.5l1-3.2l1-5.5l1-7.4l1-9.3l1-9.8l1 6.3l1-5.4l1-5.9l1 .8l1 1.3l1-1.9l1 7.8l1 1.6l1 1.2l1-.1l1 1.2l1 4.1l1 3.2l1 2.1l1 3.1l1 4l1 3.9l1-1.7l1-3.9l1-.1l1-1.2l1-1l1 2l1 .6l1 1.2l1-.7l1-.9l1-.3l1-1l1 .4l1-1.9l1-.6l1 2.5l1 1.9l1-5.5l1 1.2l1 4.1l1 2.7l1 1.7l1-.2l1-1.9l1-3.4l1-8.1l1-8.4l1-4.3l1-.7l1-.6l1-2.6l1-3.9l1 5.2l1 7.9l1 2.6l1 2.4l1 1.8l1-2.5l1-2.7l1-.1l1 1.6l1 .6l1 2.8l1 2l1 2l1-1.5l1-.4l1-1.6l1 1l1 2l1 1.6l1 .7l1-1l1-1.1l1-2.9l1-2.1l1-.3l1 1.1l1 2.5l1 1.7l1 1.3l1 .9l1 1.6l1 4.9l1 4.9l1 .8l1-7.2l1-7.2l1 4.4l1 5.8l1 4l1-2.7l1 .1l1 1.9l1 .6l1-4.6l1-4.4l1 3l1 3.4l1-1.1l1 .8l1-.4l1-2.7l1-2.6l1-3.5l1-2l1-.9l1 3.8l1 2.8l1-1.1l1 0l1-3.9l1-2.2l1 1.7l1 2.6l1 1.1l1 1l1 1.8l1 .8l1 .5l1 3.9l1 9l1 8.2l1-1.7l1-3.4l1-3.2l1-1.8l1 .8l1-.9l1-.1l1-.1l1 .9l1 .3l1-.8l1-2.8l1-1.4l1-2.2l1-3.6l1 4.5l1 4.3l1 1l1-.4l1 .7l1-1.8l1-2.9l1-.7l1 2.8l1 3.2l1-1.4l1-3.9l1-3.9l1 1.2l1 2l1-.2l1 1.5l1 2.6l1 .4l1-2.9l1-2.7l1-3l1-1.1l1 .2l1-.1l1 .2l1-1.5l1 3.7l1 2.4l1 .7l1 .6l1 1.4l1-.7l1-.1l1-.2l1-1l1 0l1 .8l1 .4l1 .2l1-.9l1 0l1 1.8l1 .7l1 1.7l1-1.1l1-1.1l1-1.2l1-.6l1-1.8l1-.9l1-.8l1 .6l1 .8l1 0l1-.4l1 1.3l1 .9l1 2.5l1 .5l1-1.4l1-1.3l1 .5l1 0l1-.3l1-.7l1-1.4l1-3.3l1-2.4l1-6l1-5.7l1-4l1-1.3l1-2.1l1 5.7l1 10.7l1-2l1-7.8l1-7.8l1-5.7l1-5.4l1-3l1 5.9l1 4.7l1 5.1l1 3l1 .6l1 1l1 0l1-.4l1 2.5l1 4l1 6.3l1 6.6l1 2.8l1 .1l1 .4l1 1.8l1 .4l1 2.5l1 3.6l1 1.8l1-1.5l1-.3l1-1.8l1-3.6l1-3.5l1-2.2l1-1.2l1-1l1 1.3l1 3l1 2.4l1 1.9l1 2.4l1-1.1l1-.6l1-.5l1 .1l1 .1l1 1.2l1 1.9l1 3l1 1l1 .9l1-3.6l1-2.8l1 1.2l1 1.3l1 1.6l1-1.2l1-1l1 .2l1 1.2l1 0l1-1.4l1-.6l1-3.2l1-4.1l1-.6l1 .8l1 .5l1 .8l1 2.5l1-.5l1-1.4l1 2.3l1 3l1 1l1-.8l1-.7l1 2.3l1 1.2l1 2.1l1 2.1l1 .9l1 3.5l1-.1l1-1.8l1-1.8l1-1.6l1-3.6l1-1.3l1-1.6l1 0l1-.1l1 1.5l1 .1l1-1l1 0l1 .4" stroke="#f22" stroke-width="0.95" />
<path d="M72 492.6l1-1.4l1-.4l1-.7l1-1.1l1 1l1 0l1 1.5l1 .7l1 .1l1 1.2l1-.2l1 .8l1 0l1-1.2l1 .3l1-1.4l1-1.5l1-1.5l1 2.9l1 1.9l1-1.8l1-2.5l1 1.9l1 2.5l1-4.6l1-4.3l1 2.6l1 2.2l1-.8l1-.8l1 .6l1 2.7l1 3.1l1 2.2l1-2.2l1-1.8l1-.2l1 1.7l1 2.4l1-1.7l1-1l1 .2l1 1.1l1 1.6l1-1.6l1-1.8l1-.7l1-.2l1 .2l1-.3l1 .7l1 .5l1 .5l1 2.6l1 3.1l1 2.6l1-1.8l1-2.5l1-1.2l1-.6l1-.3l1-.4l1-.7l1-1.7l1-1.3l1 1.2l1 .6l1 .3l1-1.9l1-1.3l1-1.7l1-.5l1 1.4l1 1.2l1 .7l1 1.3l1 .8l1 .6l1 1.6l1 .1l1-1.9l1-1.7l1 3.1l1 5.8l1-5.7l1-6l1-4.5l1-1.1l1-1.7l1-1l1 1.7l1 1.2l1 1.7l1-.5l1-.7l1 .9l1 3.5l1 3.7l1 3.1l1 3.9l1-2.5l1-3l1-1.3l1-1.1l1-1.6l1-1.7l1 .4l1 1l1 1.3l1-1.8l1-2.8l1-.9l1-.6l1-1.1l1-.5l1 .9l1 1.3l1 1.1l1 1.6l1 2.3l1 3.1l1 2.4l1-1.6l1-4.6l1-4.5l1-.3l1-1.8l1-1.1l1-1.4l1-.2l1-.7l1-1l1-.7l1 0l1 .7l1 .4l1 .6l1 3.9l1 2.8l1 2.9l1 3.1l1 3.7l1-3.4l1-5.6l1-8.1l1-9.1l1-9.3l1 6.7l1-5.1l1-5.6l1 .8l1 1.6l1-1.5l1 7.8l1 2.5l1 .1l1 0l1 1.9l1 4.2l1 3.2l1 2.4l1 1.9l1 4l1 4.3l1-2.7l1-4.2l1-.3l1-.5l1-.8l1 1.4l1 .7l1 .5l1 0l1-.5l1-.2l1-1l1 .2l1-1.8l1-.4l1 2l1 2.6l1-5.2l1 .9l1 3.5l1 3.3l1 1.9l1 .6l1-2.2l1-3.3l1-8.4l1-8.2l1-4.5l1-1.5l1-.7l1-2.6l1-3.2l1 5.4l1 7.2l1 2.4l1 2.2l1 1.7l1-2.2l1-2.6l1-.6l1 1.7l1 1.5l1 2.1l1 2.5l1 1.6l1-1l1-.9l1-1.1l1 1.9l1 1.5l1 1.6l1 0l1-1.5l1-1.4l1-3.1l1-1.6l1-.2l1 1.9l1 2.1l1 2.1l1 .3l1 .9l1 2.2l1 5.1l1 3.9l1 .7l1-7.5l1-6.8l1 4.9l1 5.5l1 4.7l1-2.7l1-.6l1 3.5l1 .3l1-5.4l1-3.8l1 2.6l1 2.5l1-.6l1 .9l1-.2l1-3.6l1-3l1-3.3l1-1.3l1-.6l1 3.9l1 2.6l1-.6l1-1l1-3.2l1-2.1l1 2l1 1.9l1 2.2l1 .9l1 1.2l1 .3l1-.2l1 3.9l1 8.4l1 7.9l1-1l1-3.5l1-3.4l1-1.8l1 .8l1-.8l1-.3l1 .4l1 1.5l1 .5l1-1l1-3.3l1-2.5l1-2.2l1-2.6l1 4.3l1 4l1 2l1-.1l1 .5l1-1.7l1-2.8l1-1.2l1 2.6l1 2.8l1-1.2l1-3.7l1-3.7l1 .7l1 1.8l1 .5l1 2.4l1 2.1l1 .2l1-2.4l1-2.7l1-2l1-.8l1 .5l1 0l1-.2l1-1.3l1 3.1l1 2l1 .2l1 .7l1 .7l1 .8l1-.6l1 .2l1-.8l1-.2l1 .9l1 .5l1 .5l1-1.4l1-.7l1 1.6l1 1l1 1.2l1-1.5l1-1.1l1-1l1-1l1-1.3l1-.3l1-1.3l1 .1l1 1l1 .7l1-.6l1 .4l1 1.6l1 2.2l1 .9l1-1.8l1-.9l1-.5l1-.3l1 .2l1-.4l1-1.4l1-3l1-2.3l1-5.5l1-5.5l1-3.8l1-1.2l1-1.1l1 5.1l1 9.9l1-1.5l1-7.9l1-7.7l1-5.4l1-4.9l1-2.5l1 5.1l1 4.3l1 4.4l1 3.1l1 .8l1 .6l1-.6l1 .3l1 2.6l1 3.1l1 6l1 6.4l1 3l1 .8l1 .9l1 1.7l1 .4l1 2.4l1 2.9l1 1.7l1-.9l1-.4l1-2.1l1-3.1l1-2.8l1-2.4l1-1.1l1-1.9l1 1.8l1 1.6l1 2.4l1 2.6l1 2.6l1-.7l1-1.2l1-.6l1 0l1 1.4l1 1.1l1 1.3l1 1.8l1 1.4l1 1.2l1-3.3l1-2.9l1 1.9l1 .9l1 1.4l1-1.5l1-.6l1 .9l1 1.3l1-.2l1-1.1l1-.9l1-3.7l1-3.7l1-1.3l1 .4l1 .8l1 1.6l1 1.9l1-.6l1-1.3l1 2.6l1 2.7l1 1.8l1-.3l1-.6l1 2.2l1 1.2l1 1.8l1 1.8l1 1.3l1 2.7l1-.5l1-2.2l1-2.3l1-1.2l1-2.4l1-1.4l1-1.6l1-.7l1 .5l1 1.1l1 .5l1-.7l1 .1l1-.4" stroke="#333" stroke-width="0.95" />
</g>
<path d="M77.5 457.2h17" stroke="#f44" stroke-width="1.1"/>
<text x="96.1" y="460.8" font-size="10" fill="#f44"><tspan fill="#f20">Ne</tspan></text>
<path d="M77.5 470.2h17" stroke="#444" stroke-width="1.1"/>
<text x="96.1" y="473.8" font-size="10" fill="#444"><tspan fill="#113">Ni</tspan></text>
<path d="M119.5 449.5v10M119.5 518.2v-10M210.5 449.5v10M210.5 518.2v-10M301.5 449.5v10M301.5 518.2v-10M392.5 449.5v10M392.5 518.2v-10M483.5 449.5v10M483.5 518.2v-10" stroke="#111" stroke-width=".95"/>
<path d="M89.2 449.5v3.2M89.2 518.2v-3.2M149.8 449.5v3.2M149.8 518.2v-3.2M180.2 449.5v3.2M180.2 518.2v-3.2M240.8 449.5v3.2M240.8 518.2v-3.2M271.2 449.5v3.2M271.2 518.2v-3.2M331.8 449.5v3.2M331.8 518.2v-3.2M362.2 449.5v3.2M362.2 518.2v-3.2M422.8 449.5v3.2M422.8 518.2v-3.2M453.2 449.5v3.2M453.2 518.2v-3.2M513.8 449.5v3.2M513.8 518.2v-3.2" stroke="#111" stroke-width=".9"/>
<path d="M71.7 502.3h5.2M525.3 502.3h-5.2M71.7 479.7h5.2M525.3 479.7h-5.2M71.7 457.1h5.2M525.3 457.1h-5.2M71.7 515.9h2.4M525.3 515.9h-2.4M71.7 511.3h2.4M525.3 511.3h-2.4M71.7 506.8h2.4M525.3 506.8h-2.4M71.7 502.3h2.4M525.3 502.3h-2.4M71.7 497.8h2.4M525.3 497.8h-2.4M71.7 493.3h2.4M525.3 493.3h-2.4M71.7 488.7h2.4M525.3 488.7h-2.4M71.7 484.2h2.4M525.3 484.2h-2.4M71.7 479.7h2.4M525.3 479.7h-2.4M71.7 475.2h2.4M525.3 475.2h-2.4M71.7 470.7h2.4M525.3 470.7h-2.4M71.7 466.1h2.4M525.3 466.1h-2.4M71.7 461.6h2.4M525.3 461.6h-2.4M71.7 457.1h2.4M525.3 457.1h-2.4M71.7 452.6h2.4M525.3 452.6h-2.4" stroke="#000" stroke-width=".9"/>
<rect x="71.7" y="449.5" width="453.6" height="68.7" stroke="#000" stroke-width="1.25"/>
<text x="69.2" y="506.3" font-size="11" fill="#000" text-anchor="end">20</text>
<text x="69.2" y="483.7" font-size="11" fill="#000" text-anchor="end">30</text>
<text x="69.2" y="461.1" font-size="11" fill="#000" text-anchor="end">40</text>
<text transform="translate(46 484) rotate(-90)" font-size="11.2" fill="#000" text-anchor="middle">N [cm<tspan font-size="9" dy="-4.5">-3</tspan><tspan dy="4.5">&#8203;</tspan>]</text>
<clipPath id="cl7"><rect x="71.7" y="517.2" width="453.6" height="70.4"/></clipPath><g clip-path="url(#cl7)" stroke-linejoin="round">
<path d="M131 518.7V586.6" stroke="#5c5" stroke-width="2" stroke-dasharray="9 5" opacity="0.9"/>
<path d="M159.3 518.7V586.6" stroke="#f00" stroke-width="1.3" stroke-dasharray="6.5 2" opacity="1"/>
<path d="M159.3 518.7V586.6" stroke="#00f" stroke-width="1.3" stroke-dasharray="1.6 6.9" opacity="1"/>
<path d="M216 518.7V586.6" stroke="#f44" stroke-width="1.8" stroke-dasharray="11 4" opacity="0.85"/>
<path d="M222 518.7V586.6" stroke="#f0f" stroke-width="1.8" stroke-dasharray="2 3" opacity="1"/>
<path d="M244.5 520.7V586.6" stroke="#0a0" stroke-width="1.3" stroke-dasharray="9 4" opacity="1"/>
<path d="M85.3 586.3H478.6" stroke="#0e0" stroke-width="1.3"/>
<circle cx="85.3" cy="586.6" r="2.3" fill="#0e0"/>
<circle cx="145.7" cy="586.6" r="2.3" fill="#0e0"/>
<circle cx="206.4" cy="586.6" r="2.3" fill="#0e0"/>
<circle cx="267" cy="586.6" r="2.3" fill="#0e0"/>
<circle cx="357.8" cy="586.6" r="2.3" fill="#0e0"/>
<circle cx="448.5" cy="586.6" r="2.3" fill="#0e0"/>
<path d="M85.3 551.3L115.3 570.7L145.7 547L176 552.1L206.4 543.5L236.7 543.8L267 542.7L297.4 553.1L327.4 528.1L357.8 553.9L387.8 532.9L418.2 517.2L448.5 524.1L478.6 567.8" stroke="#f00" stroke-width="1.25"/>
<circle cx="85.3" cy="551.3" r="2.7" fill="#f00"/>
<circle cx="115.3" cy="570.7" r="2.1" fill="#f00"/>
<circle cx="145.7" cy="547" r="2.1" fill="#f00"/>
<circle cx="176" cy="552.1" r="2.1" fill="#f00"/>
<circle cx="206.4" cy="543.5" r="2.1" fill="#f00"/>
<circle cx="236.7" cy="543.8" r="2.1" fill="#f00"/>
<circle cx="267" cy="542.7" r="2.1" fill="#f00"/>
<circle cx="297.4" cy="553.1" r="2.1" fill="#f00"/>
<circle cx="327.4" cy="528.1" r="2.1" fill="#f00"/>
<circle cx="357.8" cy="553.9" r="2.1" fill="#f00"/>
<circle cx="387.8" cy="532.9" r="2.1" fill="#f00"/>
<circle cx="418.2" cy="517.2" r="2.1" fill="#f00"/>
<circle cx="448.5" cy="524.1" r="2.1" fill="#f00"/>
<circle cx="478.6" cy="567.8" r="2.1" fill="#f00"/>
<path d="M85.3 570.4L115.3 577.6L145.7 571.2L176 572.8L206.4 578.1L236.7 581.1L267 578.4L297.4 578.7L327.4 583.7L357.8 578.1L387.8 582.4L418.2 581.6L448.5 579.2L478.6 574.4" stroke="#00f" stroke-width="1.25"/>
<circle cx="85.3" cy="570.4" r="2.7" fill="#00f"/>
<circle cx="115.3" cy="577.6" r="2.1" fill="#00f"/>
<circle cx="145.7" cy="571.2" r="2.1" fill="#00f"/>
<circle cx="176" cy="572.8" r="2.1" fill="#00f"/>
<circle cx="206.4" cy="578.1" r="2.1" fill="#00f"/>
<circle cx="236.7" cy="581.1" r="2.1" fill="#00f"/>
<circle cx="267" cy="578.4" r="2.1" fill="#00f"/>
<circle cx="297.4" cy="578.7" r="2.1" fill="#00f"/>
<circle cx="327.4" cy="583.7" r="2.1" fill="#00f"/>
<circle cx="357.8" cy="578.1" r="2.1" fill="#00f"/>
<circle cx="387.8" cy="582.4" r="2.1" fill="#00f"/>
<circle cx="418.2" cy="581.6" r="2.1" fill="#00f"/>
<circle cx="448.5" cy="579.2" r="2.1" fill="#00f"/>
<circle cx="478.6" cy="574.4" r="2.1" fill="#00f"/>
</g>
<path d="M77.3 523.8h19" stroke="#0e0" stroke-width="1.2"/>
<circle cx="86.8" cy="523.8" r="2.4" fill="#0e0"/>
<text x="96" y="527" font-size="9" fill="#0e0">N&#160;&#160;He+</text>
<path d="M77.3 532.6h19" stroke="#f00" stroke-width="1.2"/>
<circle cx="86.8" cy="532.6" r="2.4" fill="#f00"/>
<text x="96" y="535.8" font-size="9" fill="#f00">N&#160;&#160;He++</text>
<path d="M77.3 541.4h19" stroke="#00f" stroke-width="1.2"/>
<circle cx="86.8" cy="541.4" r="2.4" fill="#00f"/>
<text x="96" y="544.6" font-size="9" fill="#00f">N&#160;&#160;O+</text>
<path d="M119.5 518.2v10M119.5 586.6v-10M210.5 518.2v10M210.5 586.6v-10M301.5 518.2v10M301.5 586.6v-10M392.5 518.2v10M392.5 586.6v-10M483.5 518.2v10M483.5 586.6v-10" stroke="#111" stroke-width=".95"/>
<path d="M89.2 518.2v3.2M89.2 586.6v-3.2M149.8 518.2v3.2M149.8 586.6v-3.2M180.2 518.2v3.2M180.2 586.6v-3.2M240.8 518.2v3.2M240.8 586.6v-3.2M271.2 518.2v3.2M271.2 586.6v-3.2M331.8 518.2v3.2M331.8 586.6v-3.2M362.2 518.2v3.2M362.2 586.6v-3.2M422.8 518.2v3.2M422.8 586.6v-3.2M453.2 518.2v3.2M453.2 586.6v-3.2M513.8 518.2v3.2M513.8 586.6v-3.2" stroke="#111" stroke-width=".9"/>
<path d="M71.7 586.6h5.2M525.3 586.6h-5.2M71.7 563.8h5.2M525.3 563.8h-5.2M71.7 541.1h5.2M525.3 541.1h-5.2M71.7 518.3h5.2M525.3 518.3h-5.2M71.7 582h2.4M525.3 582h-2.4M71.7 577.5h2.4M525.3 577.5h-2.4M71.7 572.9h2.4M525.3 572.9h-2.4M71.7 568.4h2.4M525.3 568.4h-2.4M71.7 563.8h2.4M525.3 563.8h-2.4M71.7 559.3h2.4M525.3 559.3h-2.4M71.7 554.7h2.4M525.3 554.7h-2.4M71.7 550.2h2.4M525.3 550.2h-2.4M71.7 545.6h2.4M525.3 545.6h-2.4M71.7 541.1h2.4M525.3 541.1h-2.4M71.7 536.5h2.4M525.3 536.5h-2.4M71.7 532h2.4M525.3 532h-2.4M71.7 527.4h2.4M525.3 527.4h-2.4M71.7 522.9h2.4M525.3 522.9h-2.4" stroke="#000" stroke-width=".9"/>
<rect x="71.7" y="518.2" width="453.6" height="68.4" stroke="#000" stroke-width="1.25"/>
<text x="526.8" y="525.8" font-size="11" fill="#000" text-anchor="start">0.15</text>
<text x="526.8" y="545" font-size="11" fill="#000" text-anchor="start">0.10</text>
<text x="526.8" y="567.8" font-size="11" fill="#000" text-anchor="start">0.05</text>
<text x="526.8" y="590.1" font-size="11" fill="#000" text-anchor="start">0.00</text>
<text transform="translate(556 553) rotate(-90)" font-size="11.2" fill="#000" text-anchor="middle">N<tspan font-size="8.6" dy="3.3">i</tspan><tspan dy="-3.3">&#8203;</tspan> [cm<tspan font-size="9" dy="-4.5">-3</tspan><tspan dy="4.5">&#8203;</tspan>]</text>
<clipPath id="cl8"><rect x="71.7" y="586.6" width="453.6" height="68.1"/></clipPath><g clip-path="url(#cl8)" stroke-linejoin="round">
<path d="M131 587.1V654.7" stroke="#5c5" stroke-width="2" stroke-dasharray="9 5" opacity="0.9"/>
<path d="M159.3 587.1V654.7" stroke="#f00" stroke-width="1.3" stroke-dasharray="6.5 2" opacity="1"/>
<path d="M159.3 587.1V654.7" stroke="#00f" stroke-width="1.3" stroke-dasharray="1.6 6.9" opacity="1"/>
<path d="M216 587.1V654.7" stroke="#f44" stroke-width="1.8" stroke-dasharray="11 4" opacity="0.85"/>
<path d="M222 587.1V654.7" stroke="#f0f" stroke-width="1.8" stroke-dasharray="2 3" opacity="1"/>
<path d="M244.5 589.1V654.7" stroke="#0a0" stroke-width="1.3" stroke-dasharray="9 4" opacity="1"/>
<path d="M72 607.6l.5 0l.5 .3l.5 .2l.5 .2l.5-2.1l.5 1.8l.5-.4l.5-.4l.5 .9l.5-.5l.5 .2l.5 .4l.5-1.6l.5 1.8l.5-1l.5-.8l.5 1l.5 .5l.5-.7l.5 .1l.5 .4l.5-1.1l.5 1.4l.5-1.7l.5-.3l.5 1.5l.5 .2l.5-1.8l.5 1.4l.5-1l.5-.3l.5-.2l.5 .2l.5-.1l.5 1.6l.5 .2l.5-.8l.5 .4l.5-.3l.5 .5l.5-2.5l.5 1l.5-.2l.5-.1l.5 .2l.5 1.1l.5-.4l.5-.3l.5 .5l.5 .2l.5-.3l.5-.6l.5 .9l.5-.2l.5-.6l.5 .2l.5-.8l.5 .6l.5 .6l.5 .4l.5-1.7l.5 1.4l.5-.6l.5-.6l.5 1.1l.5 0l.5 .5l.5 .1l.5 .9l.5 .7l.5 .8l.5-.4l.5-1.8l.5 .3l.5 2.2l.5-1.1l.5 1l.5 .9l.5 .3l.5-1.2l.5 .6l.5-.6l.5 .2l.5-2l.5 2.4l.5-.5l.5-1.5l.5 .3l.5 .2l.5-.4l.5 1.6l.5-2l.5 1.4l.5-.3l.5 .2l.5-2.3l.5 1.1l.5 .5l.5-.8l.5-.5l.5-.4l.5 2.4l.5 .9l.5 0l.5-.5l.5-.1l.5 1.9l.5-1.8l.5 .4l.5-1.3l.5 2.4l.5-1.6l.5 2l.5-.9l.5-1.1l.5 .8l.5 .5l.5 .7l.5-1.1l.5-2l.5 2l.5-.1l.5 1.6l.5-.6l.5-1.1l.5 .6l.5-.4l.5 .1l.5-1.2l.5 1.2l.5-1.7l.5 .5l.5 0l.5-3.2l.5 1.6l.5-1.1l.5-1.2l.5 1.8l.5-.7l.5-.2l.5-.4l.5 .9l.5-2.2l.5 1.4l.5-.9l.5-1.2l.5-.1l.5 .5l.5 1l.5-.5l.5 .9l.5-1.2l.5 0l.5-.4l.5 0l.5-.1l.5 .5l.5-1.8l.5-.6l.5-.8l.5 1.2l.5 0l.5-.6l.5-1.6l.5 .4l.5-1.1l.5 .3l.5-.8l.5-1.9l.5-1.1l.5 .2l.5-2l.5 .4l.5-.5l.5-.7l.5-1.3l.5-.2l.5-.6l.5 .5l.5-.4l.5 .5l.5 .9l.5-1.4l.5 .7l.5 1.3l.5-1.4l.5 1l.5 .6l.5 .2l.5-.4l.5 .9l.5-.3l.5 .9l.5-1.7l.5 1.4l.5-.2l.5-.9l.5 1.2l.5-.2l.5-.1l.5 .3l.5 .1l.5 .5l.5 .1l.5 .6l.5-1.5l.5-.7l.5 1.6l.5-1.9l.5 0l.5 1.4l.5-.9l.5-.7l.5 .9l.5-1.2l.5 .5l.5-1l.5-.6l.5 .8l.5-1l.5 .8l.5-.4l.5 .4l.5 0l.5 1l.5-2.7l.5 .8l.5 .6l.5-.8l.5 1.8l.5-1.3l.5 1.4l.5 1.5l.5-.4l.5 2.2l.5-1.2l.5 .2l.5-.4l.5 2.2l.5 .8l.5-.5l.5 .6l.5 .3l.5 1.6l.5-.1l.5-1.4l.5 0l.5-.3l.5 .3l.5 .5l.5 1.4l.5-2l.5 0l.5 1.2l.5-1.5l.5 1.8l.5-.3l.5 .2l.5 .5l.5 .7l.5-1.7l.5-.3l.5 .5l.5 .2l.5-.5l.5-.1l.5 1.2l.5-.5l.5 1.2l.5 .7l.5-.2l.5 .7l.5 .7l.5 1.3l.5-.3l.5 1.4l.5 .7l.5-2l.5 1.7l.5-1l.5-1.3l.5 1.7l.5-1.6l.5-.4l.5-2.8l.5-1.7l.5-1.7l.5 .3l.5-1.7l.5-.5l.5-2.2l.5 1.3l.5-.7l.5-.5l.5-2l.5-.4l.5-1.2l.5-1.5l.5-.6l.5 2l.5-.6l.5 .2l.5 .9l.5 1.2l.5 .7l.5 .5l.5 .7l.5 .1l.5 .2l.5 0l.5 .6l.5 .7l.5 1.5l.5-.2l.5-.1l.5 1.9l.5-1.1l.5-.1l.5 2.6l.5-.6l.5-.1l.5 .1l.5 2.3l.5-.6l.5-.4l.5 2.7l.5-1.5l.5 1.1l.5 .4l.5 1l.5 1.5l.5-.5l.5 .3l.5 1.1l.5 3.4l.5-.7l.5-.4l.5 1.5l.5-.4l.5 1.2l.5 .7l.5-.9l.5 1.3l.5-.1l.5 0l.5 .2l.5-.6l.5 .3l.5-2.1l.5-.2l.5 .9l.5-1.6l.5 1.7l.5 1.3l.5-.4l.5 .2l.5 1.4l.5-.3l.5 .4l.5-1.3l.5 .5l.5-1.2l.5 1.1l.5-.6l.5-.8l.5 .3l.5 .4l.5-.9l.5-.1l.5 .3l.5-.6l.5-.6l.5 1.5l.5-2.4l.5 1.5l.5-1l.5-3.3l.5-.5l.5-.8l.5-.9l.5-1.3l.5 .2l.5-1.5l.5 1.2l.5 0l.5-1.2l.5-.2l.5 2.2l.5-1l.5-.9l.5 .8l.5 1.6l.5-.3l.5 .3l.5 .6l.5 2.5l.5 1.1l.5 .1l.5 2.4l.5 .2l.5 .8l.5 1.4l.5-.9l.5 1.4l.5 0l.5 .5l.5 2l.5 1l.5-.4l.5-.3l.5-.4l.5 .4l.5 .4l.5 .1l.5-.2l.5-1.1l.5-.5l.5-.5l.5-1.8l.5 0l.5-1.7l.5-1.3l.5-.2l.5 .7l.5 1.7l.5-.3l.5 1.2l.5-.4l.5-.4l.5 1.5l.5 .1l.5-.7l.5 2.5l.5 .5l.5-1.4l.5-.5l.5-.7l.5-.3l.5 1.7l.5-1l.5 1.2l.5-1.7l.5 .3l.5 .3l.5-.9l.5 .1l.5 2.3l.5-2.7l.5-.1l.5 1.5l.5-.6l.5 .8l.5-2.3l.5 1.6l.5 1l.5-2.4l.5-.5l.5-.9l.5 0l.5 .3l.5-3.1l.5-.1l.5 0l.5-1.3l.5-.3l.5 .7l.5-1.8l.5 .6l.5-1.7l.5 2l.5 .1l.5-.6l.5-.5l.5 1.1l.5 .2l.5-.7l.5 2.7l.5-1.2l.5 .4l.5-.5l.5-.3l.5 1.3l.5 .3l.5 .1l.5-.8l.5 .4l.5 .6l.5-1.3l.5 .2l.5 .2l.5-.1l.5 1l.5 .2l.5-.2l.5-1l.5 1.4l.5 .3l.5-.1l.5 .1l.5 1.1l.5-.8l.5 .6l.5 1.2l.5-.6l.5-1.2l.5 .6l.5 .5l.5 .3l.5-.4l.5 .3l.5-1.1l.5 1.5l.5-1.1l.5 1.4l.5-1.5l.5 .3l.5-.5l.5-.6l.5 2.1l.5-.8l.5-.3l.5 1.1l.5-.2l.5-1.5l.5 .6l.5 .6l.5 .4l.5-1.1l.5 .7l.5 1.3l.5-1.1l.5 0l.5 .5l.5-2.3l.5-1.3l.5-.3l.5-.8l.5-.7l.5-.2l.5 2.3l.5-.5l.5 .4l.5-.7l.5-.2l.5 .3l.5-2.3l.5-.8l.5-.6l.5 .8l.5 0l.5 .6l.5-.4l.5-1.5l.5 1.3l.5-.6l.5 1.5l.5-1.1l.5 .6l.5-.4l.5 1.2l.5-.1l.5 1.3l.5 0l.5-.3l.5-1.3l.5 1.4l.5 .6l.5-.2l.5-2l.5-.9l.5 1l.5 .7l.5 .2l.5-.8l.5 .7l.5 1.1l.5-.1l.5 .3l.5 .2l.5 1.9l.5-.3l.5-.5l.5 .4l.5 .2l.5 .4l.5 1.3l.5 .6l.5-.4l.5-.2l.5 .5l.5 1.9l.5-.8l.5 .5l.5 2l.5-.5l.5-.1l.5 .5l.5-.3l.5 0l.5-.9l.5 1.4l.5-1.5l.5-.4l.5-1.4l.5 0l.5 1.8l.5 .8l.5 .1l.5 .3l.5-1.2l.5 1.2l.5-.1l.5 0l.5 .8l.5 1.6l.5-.3l.5-.5l.5 .6l.5-1.1l.5 .5l.5 1.2l.5 .4l.5-.5l.5-2l.5 .8l.5 .3l.5 .3l.5 .4l.5-.4l.5-1.7l.5 1.2l.5 .6l.5-1.6l.5 1.9l.5-3.7l.5 2l.5-.4l.5-1.9l.5 .5l.5-.1l.5-.9l.5 1l.5 0l.5-1.4l.5 .6l.5 .5l.5 .1l.5-.7l.5 .7l.5-.2l.5-.2l.5 1.7l.5-1.4l.5-.3l.5-2.3l.5 .1l.5 1.2l.5 1.2l.5-1.8l.5 1.3l.5-1.9l.5-.5l.5-.8l.5 0l.5-.1l.5 .5l.5-.2l.5 .6l.5 .5l.5 .3l.5-.1l.5-.4l.5-1.8l.5 1.7l.5-2.1l.5 3.3l.5-2.4l.5-.3l.5 1.2l.5-.2l.5 .9l.5-.4l.5 .7l.5-2.8l.5 1.4l.5-.2l.5-.7l.5-.2l.5-.5l.5-.6l.5 .1l.5-.3l.5-1l.5-.6l.5 .5l.5-1.5l.5 2.1l.5-.4l.5-.3l.5-.8l.5 1.5l.5-1.4l.5 .4l.5-.4l.5 .4l.5-.1l.5-.5l.5 .3l.5 .9l.5-1.8l.5-1.2l.5 .1l.5 0l.5 .4l.5-.4l.5 .4l.5-.6l.5 0l.5 .4l.5-.1l.5 1.7l.5-1.4l.5-.2l.5 1.3l.5-1.6l.5-.1l.5 1.8l.5-.9l.5 .6l.5 1.7l.5-1.3l.5 1.1l.5 .1l.5 .3l.5-.5l.5 .7l.5-.2l.5-.1l.5-.1l.5 .1l.5-.2l.5-.2l.5 2.6l.5-.7l.5-2.4l.5 .5l.5-1.2l.5 .8l.5-.2l.5 1.1l.5 .6l.5 .6l.5-.7l.5-.2l.5 .1l.5-1l.5 .1l.5 .8l.5-.7l.5 .5l.5-.7l.5-.4l.5-.8l.5 .2l.5 .8l.5-.7l.5 .2l.5-.7l.5 .6l.5-1.1l.5-.2l.5-.7l.5 .2l.5 2.1l.5 .8l.5-.2l.5-.9l.5 1.1l.5 .8l.5 .8l.5 0l.5 1.4l.5-.7l.5 .8l.5 .3l.5 .6l.5-.5l.5 1l.5-.2l.5-.5l.5-.4l.5-.8l.5 2.4l.5-1.5l.5 1.4l.5-1.4l.5 .8l.5-.5l.5 1.2l.5-1.2l.5 .2l.5 .7l.5-1.7l.5 1.1l.5 1.7l.5-.4l.5 2.5l.5-1.3l.5 1.1l.5 1.6l.5 .8l.5 .3l.5 .4l.5 1.3l.5-1.5l.5 1.2l.5 .5l.5 .5l.5-.9l.5-.3l.5 .6l.5-1.6l.5-.8l.5 .1l.5 .1l.5 .2l.5-1.4l.5 1.7l.5 .4l.5-.7l.5-.3l.5-.6l.5-.2l.5 .3l.5-.2l.5 1.2l.5-1.6l.5-.6l.5 0l.5 .6l.5 1.3l.5-1l.5 1l.5-2.8l.5 .7l.5 .3l.5-.1l.5-1.5l.5 1l.5-1l.5 1.6l.5-1.2l.5 .1l.5-.7l.5 .8l.5 1l.5-1.3l.5-1.6l.5 1.2l.5 .9l.5-.5l.5 .6l.5-.3l.5 .3l.5 .9l.5-2.3l.5 .8l.5-.3l.5 1.3l.5-2.3l.5 .2l.5 .2l.5-1.4l.5 .8l.5-2.3l.5 .8l.5-1.9l.5-.8l.5 1.2l.5 .1l.5 .5l.5 .5l.5 .5l.5 .1l.5 1.2l.5-.7l.5 1l.5 .6l.5-.1l.5 2.4l.5 .9l.5-1.1l.5-1.8l.5-.1l.5 .8l.5-.2l.5-1.1l.5 1.1l.5 .5l.5-.8l.5-.8l.5-1.6l.5 .5l.5-2.8l.5 2l.5 .5" stroke="#222" stroke-width="0.9" />
<path d="M72 648.4l.5-.1l.5-1.2l.5 1.9l.5-.7l.5-2.3l.5 1.5l.5-.1l.5 .9l.5 .7l.5-.8l.5 1.6l.5-2.3l.5 .3l.5 1.5l.5-1.3l.5 .3l.5 1.3l.5-2.4l.5 .4l.5 1.9l.5-1.8l.5 3.7l.5-1.2l.5-.7l.5-.6l.5 1.6l.5 .2l.5-2.2l.5 2.8l.5-1.4l.5-1.1l.5-1.5l.5 .1l.5 2.3l.5 .4l.5-1l.5-1.3l.5 0l.5 2.9l.5 .5l.5-.6l.5 .1l.5-1.6l.5 1l.5-1.1l.5-.7l.5 1.1l.5-.7l.5 .6l.5 2.9l.5-2.1l.5 2.9l.5-1.7l.5-2.7l.5 2l.5-.4l.5 .6l.5-.2l.5-1.6l.5 1.1l.5 .7l.5-.3l.5-1.1l.5 .6l.5 2.7l.5-4.2l.5-.1l.5 1.4l.5 0l.5 1l.5 .8l.5-1.5l.5 0l.5 3.5l.5-3.2l.5 1.2l.5 0l.5-3.1l.5-1.5l.5 4.5l.5-.5l.5 .4l.5 .9l.5-2.8l.5 .2l.5 .1l.5-.2l.5 1.2l.5 0l.5 1.6l.5 .7l.5-3.1l.5-.9l.5 1.2l.5-.5l.5-1.8l.5 1l.5-.8l.5 3.2l.5-2.5l.5-.7l.5 2.5l.5 .3l.5-2.9l.5 4l.5-.3l.5-3.3l.5 .3l.5 2.1l.5-2.7l.5 1.3l.5 1l.5-2.1l.5 2.5l.5-.3l.5 1.3l.5-2.5l.5 .8l.5 .9l.5 1.2l.5-1.8l.5 0l.5-.8l.5 .1l.5 .5l.5-2.8l.5 3.6l.5-.1l.5-.2l.5 1l.5-3.3l.5 3.6l.5-.9l.5 .1l.5-.6l.5 1.7l.5-.5l.5-1l.5 0l.5 .9l.5-2.7l.5 2.2l.5-.2l.5-1.4l.5 1.7l.5 .2l.5 0l.5-.8l.5-2.3l.5 1.1l.5-.2l.5 1.2l.5-1.8l.5 1.5l.5-.2l.5-2l.5-.5l.5-1l.5 .6l.5-1.1l.5-1.7l.5-.2l.5 .7l.5 .1l.5-.7l.5-3l.5-.7l.5-.7l.5-.8l.5-1.3l.5-1l.5 1l.5 1.3l.5-1.1l.5-1.7l.5-.8l.5 2.2l.5-1.8l.5-2.1l.5 .6l.5 1.4l.5 1.2l.5-3.5l.5 1.4l.5-1.7l.5 .2l.5-2l.5 2.2l.5-2.9l.5 .7l.5-2.2l.5 2.2l.5-.1l.5 .6l.5-.7l.5-.9l.5 .6l.5-2.6l.5 1.9l.5-1.4l.5 .2l.5 .1l.5 2.2l.5 0l.5 .1l.5 .1l.5 .1l.5 .1l.5 1l.5-1.9l.5-.1l.5 .7l.5 1.4l.5 .6l.5-1.4l.5 .1l.5-.3l.5-1l.5 2.3l.5-3.3l.5-.1l.5 2.1l.5-.5l.5-.7l.5-.2l.5 .4l.5 1.2l.5 1.2l.5-1.4l.5 .7l.5 .9l.5 1.4l.5-2.8l.5-.6l.5-.8l.5-2.3l.5 .8l.5 0l.5 0l.5-.2l.5-.6l.5-1.6l.5 .3l.5-2.6l.5 .9l.5 .6l.5-1.7l.5 .2l.5 .3l.5-2.1l.5 1.6l.5-1.8l.5-1.8l.5 .1l.5 .2l.5 .1l.5-4.2l.5 .6l.5 .4l.5-.4l.5 .7l.5-.5l.5-.2l.5 .8l.5 .7l.5-.7l.5 1.2l.5 .1l.5-2.3l.5-1.9l.5 3.7l.5 .9l.5-.9l.5-1.4l.5 .4l.5 1.5l.5 0l.5 3.1l.5-.8l.5-1l.5 1.6l.5 0l.5 .4l.5 1.5l.5-.3l.5-.6l.5 2.2l.5-.7l.5-.7l.5-1.1l.5 .8l.5 0l.5-1.2l.5-.6l.5-.8l.5-.5l.5-2.8l.5 .2l.5 1.5l.5-.2l.5 .2l.5-1.6l.5-1.7l.5 2.9l.5-1.3l.5-.8l.5-.1l.5 .3l.5-.8l.5 .1l.5 2.5l.5 3l.5 .1l.5-1.1l.5 .4l.5-.3l.5 1.3l.5-.2l.5-1.6l.5 .2l.5 2.2l.5-.6l.5 .6l.5 .4l.5 .6l.5 .3l.5-1.3l.5-1.8l.5-1.6l.5-.1l.5-2.3l.5 .3l.5-.8l.5-3l.5 .4l.5 .8l.5-2.9l.5-1l.5 1.2l.5-.8l.5-.5l.5 .3l.5-1.8l.5 .3l.5 .6l.5-1l.5 .3l.5 1.7l.5-.9l.5 1.3l.5 .3l.5 1.4l.5-1.7l.5 .9l.5-.7l.5 .3l.5 1.7l.5-.2l.5 .4l.5 .3l.5-4.2l.5 .8l.5 0l.5 4.3l.5-3l.5-.1l.5-.3l.5 2.7l.5 2.7l.5-1.4l.5-.3l.5 1.2l.5 0l.5 5.1l.5-2.4l.5-1.2l.5 2.4l.5 .4l.5 3.7l.5 .1l.5 .8l.5-2l.5 2.3l.5 0l.5 1.5l.5-1.7l.5-1.5l.5 1.2l.5 1.5l.5-1.4l.5-2.4l.5 1.3l.5-.8l.5 1l.5-.2l.5-.2l.5-1.2l.5-.3l.5 .2l.5 .6l.5 1.9l.5-2.6l.5 1.1l.5 1.3l.5-1.8l.5 .5l.5 1.2l.5-.9l.5 .8l.5-1.4l.5-.4l.5-1.4l.5-.6l.5-1.8l.5 0l.5-.6l.5 .1l.5-.3l.5-1.3l.5-.3l.5 1.5l.5-1.8l.5 1.4l.5-.4l.5-.9l.5-.2l.5 1.2l.5-1.6l.5-2l.5 .5l.5 1.2l.5-1.1l.5 .8l.5-1l.5 .3l.5-4.5l.5 2l.5-.6l.5-.2l.5 0l.5-1.7l.5 .8l.5-.8l.5 1.6l.5-1.9l.5-1l.5-.2l.5 .4l.5-1.2l.5 2.8l.5-1.3l.5 1.6l.5-4l.5 .6l.5-.5l.5 1l.5-2.2l.5 2.9l.5-1.2l.5-1.5l.5 1.5l.5 .5l.5 1.6l.5 .3l.5-.5l.5 1.7l.5 .6l.5 .5l.5 .4l.5 .8l.5-1.4l.5 .6l.5-2.3l.5 .3l.5 .1l.5-.6l.5 .9l.5-1.7l.5 2.7l.5-1.5l.5 1.9l.5-2.4l.5 .2l.5-.4l.5-1.3l.5 2.2l.5-.1l.5-1.6l.5-.2l.5 2.8l.5-2.7l.5 3.6l.5 .6l.5-.5l.5 0l.5 3.6l.5-1.9l.5-.2l.5-1.8l.5 .8l.5 2.1l.5-.5l.5 1.5l.5 .9l.5 1.3l.5-2.7l.5-1.2l.5 1l.5 .9l.5 3.1l.5 0l.5 .4l.5 2l.5-2.9l.5 5.4l.5 .1l.5-2.4l.5-2l.5 1.2l.5-.2l.5 3.3l.5-2.1l.5-1.3l.5 .9l.5-.8l.5 1.5l.5 1.6l.5-1.1l.5 1.1l.5 1.5l.5-2.4l.5-.6l.5-1l.5 .4l.5-1l.5-3.2l.5 1l.5 2.6l.5 2.4l.5-1.4l.5 5.5l.5-1.8l.5-.9l.5-.6l.5-1.1l.5 2.6l.5-1.5l.5-1.9l.5 1.7l.5-.4l.5 2.1l.5 .9l.5-1.1l.5 .5l.5 1.7l.5-2l.5 4.1l.5 .9l.5 .8l.5-.4l.5 1.2l.5-1.5l.5 1.6l.5-4.4l.5 3.4l.5-.3l.5-3.6l.5 .4l.5 .6l.5 .3l.5 .9l.5-.2l.5-1.5l.5 .8l.5-2.2l.5 2.4l.5 2.1l.5 .8l.5-.1l.5 .8l.5 2.2l.5 1.9l.5 0l.5-1.4l.5 1.9l.5-3.6l.5 3l.5-.6l.5 2.2l.5-1.7l.5 .2l.5 0l.5 .5l.5-1.4l.5-1.4l.5 3.2l.5-.4l.5-3.4l.5 1.2l.5-.3l.5 2.8l.5-.8l.5-.5l.5 2.7l.5-2.9l.5 2.3l.5-1.8l.5 1.2l.5 .7l.5 1.7l.5-.5l.5-3.4l.5 .8l.5 1.5l.5 0l.5 .1l.5 .1l.5 1.3l.5-.6l.5 .8l.5-2.3l.5 .4l.5 .5l.5 3.1l.5-2.7l.5 2.9l.5 .1l.5-1.1l.5 1.4l.5-.9l.5 .9l.5-.1l.5-.3l.5 1.1l.5-.5l.5-1.7l.5 .6l.5-1.1l.5 1.9l.5-1.2l.5 2.8l.5-4.5l.5 0l.5-1.2l.5 .3l.5-.8l.5-1l.5 3l.5 1l.5 1.7l.5-.1l.5 1.8l.5-.8l.5 1.1l.5-3.7l.5 .7l.5-1l.5-1.4l.5 0l.5 .5l.5-.4l.5-1l.5-1.2l.5-1.5l.5-.1l.5 2.8l.5-2.3l.5-1.5l.5 1.4l.5 .8l.5 .7l.5-1.8l.5 2.1l.5-.9l.5 2.7l.5-5.9l.5 3.2l.5-2.4l.5-1.3l.5 .9l.5-3.5l.5 1.5l.5-2.3l.5 .2l.5-.9l.5-1.9l.5-.6l.5-.1l.5-4.7l.5 1.9l.5-1.9l.5-1.5l.5-2.4l.5-3.3l.5-1.5l.5-1.9l.5 1.2l.5-1.7l.5-2.6l.5-4.4l.5-1.4l.5-2.3l.5-3.7l.5-.2l.5-.1l.5-.8l.5 .6l.5-.5l.5 .9l.5-1.5l.5 1l.5-.9l.5-3.8l.5 0l.5-.2l.5-.4l.5-3.1l.5 1l.5 .2l.5 3.5l.5 .9l.5-1.5l.5 3l.5 0l.5 .3l.5-1l.5 .3l.5 .9l.5 2l.5 .5l.5-1.4l.5 3.4l.5-2.4l.5 .6l.5 2l.5 .1l.5 1.1l.5 3.3l.5-2.6l.5 2.4l.5-4.8l.5 3.3l.5-2.1l.5 .4l.5 1.8l.5-1.5l.5 .8l.5 .1l.5 .3l.5-.1l.5-.5l.5 3.6l.5-3.2l.5 2.1l.5 .6l.5-1l.5 3.2l.5 .3l.5-.2l.5-1.8l.5-.3l.5-.8l.5-1.1l.5-1.1l.5 1.6l.5 0l.5-2.5l.5 3.1l.5 1.7l.5 2.3l.5 1l.5 3.6l.5-2.3l.5 1.5l.5 1.6l.5 .7l.5 .5l.5 1.4l.5 .2l.5 1.7l.5-.5l.5 1.9l.5 3l.5 1.1l.5 .4l.5 3.3l.5 .4l.5-.5l.5-3.2l.5 4.3l.5-4.1l.5-5.4l.5-3.2l.5-2.9l.5-3.1l.5-3.5l.5-1.2l.5-5.2l.5-1.7l.5-2.9l.5-5.3l.5 .7l.5 .3l.5 5.7l.5-1.4l.5 1.1l.5 6l.5 1.5l.5 1.1l.5 2.8l.5 2.9l.5 4.1l.5 6l.5 8.3l.5 5.1l.5 .8l.5 2.5l.5-.6l.5-.5l.5 1.2l.5 2.5l.5 .3l.5 .5l.5 .8l.5 1.3l.5 4.7l.5-2.6l.5-.9l.5-1l.5 1.1l.5-1.1l.5 2.1l.5-.4l.5-.1l.5 1.3l.5-.4l.5 2.8l.5-3.5l.5 1.3l.5 1.1l.5 1.9l.5-2.9l.5 1.4l.5 .3l.5-1.5l.5 .5l.5-2.3l.5-1.5l.5 2.9l.5-.9l.5-5.3l.5 .4l.5 .5l.5-2.3l.5-2.2l.5 1.6l.5-1.6l.5-.7l.5-2.4l.5 .1l.5-1.9l.5-.7l.5 .2l.5-.2l.5-.2l.5-1.9l.5-1.1l.5-.5l.5-.5l.5 .5l.5-.6l.5-1.2l.5-1.4l.5-1.2l.5-1.1l.5-1l.5 .6l.5-1.5l.5-1.7l.5 3l.5-.2l.5 1.8l.5 1.4l.5 1.3l.5 1.8l.5-2.8l.5 2.6l.5-.9l.5 1.7l.5-.5l.5 .7l.5-.7l.5-.5l.5-4.2l.5 .8l.5 .4l.5-.9l.5-1.3l.5-2.3l.5 4.7l.5 .3l.5-1.7l.5 1.2l.5-.2l.5 4l.5-2.5" stroke="#f22" stroke-width="0.9" />
</g>
<path d="M77.5 596.5h17" stroke="#f33" stroke-width="1"/>
<text x="96.1" y="600.5" font-size="11" fill="#f33"><tspan fill="#f00">T<tspan font-size="8" dy="3">||</tspan><tspan dy="-3">&#8203;</tspan></tspan></text>
<path d="M77.5 615h17" stroke="#444" stroke-width="1"/>
<text x="96.1" y="619" font-size="11" fill="#444"><tspan fill="#211">T</tspan><tspan font-size="8" dy="4" dx="1.5" fill="#c66">&#8869;</tspan></text>
<path d="M119.5 586.6v10M119.5 654.7v-10M210.5 586.6v10M210.5 654.7v-10M301.5 586.6v10M301.5 654.7v-10M392.5 586.6v10M392.5 654.7v-10M483.5 586.6v10M483.5 654.7v-10" stroke="#111" stroke-width=".95"/>
<path d="M89.2 586.6v3.2M89.2 654.7v-3.2M149.8 586.6v3.2M149.8 654.7v-3.2M180.2 586.6v3.2M180.2 654.7v-3.2M240.8 586.6v3.2M240.8 654.7v-3.2M271.2 586.6v3.2M271.2 654.7v-3.2M331.8 586.6v3.2M331.8 654.7v-3.2M362.2 586.6v3.2M362.2 654.7v-3.2M422.8 586.6v3.2M422.8 654.7v-3.2M453.2 586.6v3.2M453.2 654.7v-3.2M513.8 586.6v3.2M513.8 654.7v-3.2" stroke="#111" stroke-width=".9"/>
<path d="M71.7 650.4h5.2M525.3 650.4h-5.2M71.7 624.8h2.4M525.3 624.8h-2.4M71.7 609.8h2.4M525.3 609.8h-2.4M71.7 599.2h2.4M525.3 599.2h-2.4M71.7 591h2.4M525.3 591h-2.4" stroke="#000" stroke-width=".9"/>
<rect x="71.7" y="586.6" width="453.6" height="68.1" stroke="#000" stroke-width="1.25"/>
<text x="68.5" y="654" font-size="11.5" fill="#000" text-anchor="end">10<tspan font-size="9.1" dy="-5">2</tspan><tspan dy="5">&#8203;</tspan></text>
<text transform="translate(38.5 621.5) rotate(-90)" font-size="11.2" fill="#000" text-anchor="middle">T<tspan font-size="8.6" dy="3.3">i</tspan><tspan dy="-3.3">&#8203;</tspan> [eV]</text>
<clipPath id="cl9"><rect x="71.7" y="654.7" width="453.6" height="68.6"/></clipPath><g clip-path="url(#cl9)" stroke-linejoin="round">
<path d="M131 655.2V723.3" stroke="#5c5" stroke-width="2" stroke-dasharray="9 5" opacity="0.9"/>
<path d="M159.3 655.2V723.3" stroke="#f00" stroke-width="1.3" stroke-dasharray="6.5 2" opacity="1"/>
<path d="M159.3 655.2V723.3" stroke="#00f" stroke-width="1.3" stroke-dasharray="1.6 6.9" opacity="1"/>
<path d="M216 655.2V723.3" stroke="#f44" stroke-width="1.8" stroke-dasharray="11 4" opacity="0.85"/>
<path d="M222 655.2V723.3" stroke="#f0f" stroke-width="1.8" stroke-dasharray="2 3" opacity="1"/>
<path d="M244.5 657.2V723.3" stroke="#0a0" stroke-width="1.3" stroke-dasharray="9 4" opacity="1"/>
<path d="M72 708.8l1-.4l1 .2l1-.1l1-.5l1 .5l1-.2l1-.2l1 0l1 .1l1-.1l1-.3l1 .3l1-.5l1 .5l1 .6l1-.5l1 0l1-.2l1 0l1-.6l1-.1l1 .4l1-.2l1-.1l1 .3l1-.3l1 .6l1 .1l1 .2l1-.4l1 .5l1 .2l1 .8l1 .3l1 .1l1-.2l1-.1l1-.7l1-.1l1-.3l1-.2l1-.2l1 .7l1 .1l1 .1l1 .5l1 0l1 .1l1 0l1 .2l1-.4l1 1.2l1 .7l1 .4l1-.4l1-.4l1-.3l1 .8l1-.5l1-.2l1-.7l1-.4l1-.2l1 .2l1-.1l1-.5l1-.1l1-.1l1-1l1-.4l1 .4l1 0l1 .4l1-.4l1 .5l1 .4l1 .1l1 .3l1 .1l1 .1l1 .4l1 0l1-.6l1-.7l1-1.4l1-1.9l1-1.8l1 .1l1-.9l1 .5l1 .7l1-.1l1 .3l1 .3l1 .9l1 .1l1 1.1l1 .8l1 .3l1 .4l1-.2l1-1l1-.7l1-.2l1-1l1 .5l1-.2l1 .1l1-.7l1 .2l1 .3l1-.7l1 .1l1-.5l1-.4l1 .7l1 .4l1 .1l1 .5l1 .4l1 .5l1 1l1-.1l1-.9l1-.5l1-.4l1-.9l1-1.3l1 .6l1-.2l1-.8l1 .1l1-.8l1 1l1 .1l1 .6l1 .6l1 .5l1 .8l1 1l1 .9l1 .8l1-2.1l1-2l1-2.6l1-2l1-2.2l1-1.5l1-1l1-.5l1 0l1 .6l1 1.4l1 1.4l1 1.3l1 .6l1 .8l1 1.1l1 .7l1 .8l1 .8l1 1l1 .3l1 .3l1-.3l1 .1l1-.5l1 .1l1-.4l1 .4l1-.5l1 .1l1-.1l1 .1l1 .6l1 0l1 .4l1 0l1 .5l1-.2l1-.7l1-.5l1-.1l1 .4l1 .9l1 .7l1 .1l1-.8l1-.4l1-1.5l1-1.9l1-2.4l1-.3l1-1l1-.8l1 .8l1 1.4l1 1.8l1 1.1l1 1l1-.2l1-.3l1 .5l1-.7l1 .9l1 .2l1 .2l1 .3l1 .5l1-.1l1-.4l1 0l1-.7l1 .1l1 .1l1 .5l1 .3l1 .3l1-1.1l1 0l1-.4l1-.8l1 .4l1 1l1 .8l1 .7l1 .7l1 .4l1 .1l1-1.1l1-1.3l1-.7l1 1.1l1 .8l1 1.5l1-.3l1-.7l1-.4l1-.3l1-.7l1 .5l1 .2l1 .1l1-.1l1 .5l1 .1l1-.7l1-.8l1-.4l1-.9l1 1.1l1 .7l1 .7l1 .5l1-1.3l1 .1l1-.4l1 .4l1 .5l1 .1l1 .2l1-.4l1 .9l1 .4l1 1.5l1 1.2l1 1.4l1-.1l1-.7l1-.6l1-.3l1 .2l1-.2l1-.5l1 .2l1 .2l1-.4l1-.4l1-.4l1-.5l1 .3l1-.2l1-.2l1 .3l1 .5l1 1.3l1-.1l1 .1l1-.4l1-.2l1-.1l1 .3l1-.4l1 .8l1-.2l1 0l1 .8l1 .3l1-.1l1-.1l1 0l1-.5l1-.5l1-.3l1-.3l1 .3l1 .6l1-.2l1 .1l1 .7l1-.1l1-.5l1 .3l1 .5l1-.2l1 .7l1-.6l1 .2l1 .4l1-.3l1 .2l1-.4l1-.2l1 .6l1 0l1-.2l1-.5l1 0l1-.4l1-.6l1-.5l1 .2l1 .2l1 .2l1-.2l1 .6l1-.8l1 .2l1 0l1 .2l1 .5l1-.2l1-.5l1-.2l1-.6l1-.5l1-.6l1-.7l1 .4l1-1.5l1-.4l1-1.2l1-2.6l1-2.1l1-1l1 .7l1 2.2l1 .6l1-1.7l1-2.1l1-1.7l1-.6l1-1.4l1 .8l1 2.1l1 2l1 1.3l1 .1l1 .5l1-.4l1 .4l1-.4l1 1.3l1 1.6l1 1.7l1 .8l1 .7l1 .1l1 .4l1 .8l1-.2l1 1.2l1 .5l1 .4l1-.2l1-.4l1-.3l1-.3l1-.4l1 .3l1-.2l1 .4l1 .7l1 .3l1 .6l1 .5l1-.8l1-.2l1-.7l1-1l1 .4l1 .5l1 .5l1 .4l1 .6l1 .8l1 0l1 .8l1 .4l1 .8l1-.8l1 .4l1-.2l1-.2l1 .1l1 0l1-.3l1-.5l1-.1l1-1.1l1 .5l1-.8l1 .5l1 .1l1-.4l1 .5l1-.5l1 .6l1 .2l1 .4l1 .3l1 .5l1 .2l1-.1l1 .1l1 .2l1-.5l1 .3l1 .6l1-.2l1-.2l1-.1l1-.5l1-.5l1-.6l1 .2l1-.1l1-.3l1-.1l1 0l1-.1l1 .7l1-.6" stroke="#3e3" stroke-width="0.9" />
<path d="M72 720.3l1 .2l1-.1l1-.3l1-.2l1 .1l1 0l1 .1l1 .2l1 .2l1-.3l1-.1l1 .2l1-.3l1 0l1 0l1 .1l1 .2l1 0l1-.2l1 .1l1-.3l1 0l1 .1l1 .1l1 .2l1 .2l1-.2l1 0l1-.2l1 .1l1 .2l1-.3l1 .2l1-.3l1 0l1 .2l1-.1l1 .2l1 0l1-.3l1 .4l1-.3l1 .2l1-.4l1 .5l1 0l1-.1l1-.2l1-.5l1 .3l1 .1l1-.2l1 .3l1 .1l1-.4l1 0l1 .4l1-.2l1-.1l1 .2l1-.1l1 0l1 .2l1-.3l1 0l1-.1l1 .2l1 0l1 0l1 .1l1 .1l1-.1l1-.3l1 .2l1-.2l1 0l1 .3l1 .1l1-.2l1 0l1 .2l1-.1l1 0l1 0l1 .1l1-.1l1 0l1-.1l1-.1l1-.2l1 .2l1 0l1 .2l1-.5l1-.1l1 .6l1-.3l1 0l1 0l1 .4l1-.3l1 .1l1-.2l1 0l1 0l1 .2l1 0l1-.2l1 .3l1 .2l1-.1l1-.2l1 .3l1 0l1-.2l1 0l1 .1l1 .3l1-.5l1-.2l1 .3l1-.2l1-.1l1 .3l1-.1l1 .1l1-.1l1 .3l1-.2l1 0l1-.1l1-.2l1 .5l1-.9l1 .3l1-.1l1 .2l1-.2l1-.1l1 .4l1 .1l1-.3l1-.1l1-.3l1-.2l1-.3l1-.5l1-.3l1-.4l1 0l1 .5l1 .2l1-.2l1 0l1 .4l1-.2l1 .4l1 .3l1 0l1 .5l1-.1l1 .3l1 .2l1-.1l1-.1l1-.1l1 .1l1-.1l1 .1l1-.1l1 .4l1-.1l1-.1l1 0l1-.1l1-.2l1 .2l1 .3l1-.1l1-.1l1 0l1 .1l1 0l1 .3l1-.3l1 .1l1 0l1-.2l1-.2l1-.3l1-.4l1 .2l1-.6l1-.4l1 0l1-.1l1 .4l1 0l1 .3l1 .3l1 .5l1-.2l1-.3l1 .4l1 .1l1-.2l1-.2l1 .5l1-.3l1 .2l1 .1l1-.1l1 .5l1-.2l1-.3l1 .3l1-.1l1 0l1 .1l1-.2l1 .4l1 0l1-.5l1 0l1 .5l1-.3l1 .2l1-.5l1 0l1 .2l1 .3l1 0l1-.3l1 .1l1-.4l1 .1l1 .1l1 .3l1-.4l1-.1l1 .1l1 0l1 .1l1-.1l1-.1l1 .1l1 .5l1-.5l1 .4l1-.4l1 .2l1-.1l1 .7l1-.5l1-.2l1-.1l1 .1l1 .1l1 .3l1 0l1-.3l1 .2l1-.1l1-.1l1-.1l1 0l1 0l1-.1l1 .5l1-.2l1 .2l1-.1l1 0l1 .2l1-.4l1 .1l1-.2l1 .2l1 .2l1-.2l1-.3l1 .2l1 0l1 0l1 .2l1 0l1-.3l1 .1l1 0l1 .1l1 0l1 0l1 .2l1 .1l1-.3l1 .5l1-.3l1-.3l1 .2l1-.1l1 .4l1-.4l1 .5l1-.1l1-.2l1-.1l1-.2l1 .3l1 .1l1-.2l1 .2l1-.3l1 0l1 0l1 .4l1-.4l1-.1l1-.3l1 .6l1 0l1 .1l1-.4l1 .5l1-.2l1 .1l1-.2l1-.1l1 0l1 .3l1-.2l1-.4l1 0l1 .2l1 .3l1 .1l1-.3l1-.2l1 .2l1-.1l1 .1l1 0l1-.2l1-.1l1 .2l1 .1l1 .3l1-.1l1 .1l1-.3l1-.3l1-.5l1 0l1-.1l1-.2l1 0l1 .2l1 .1l1 .1l1 .4l1-.6l1-.4l1 .2l1-.6l1-.3l1 .9l1-.2l1 .1l1 .3l1 .1l1 .2l1 0l1-.2l1 .3l1 0l1 .3l1-.2l1 .6l1-.1l1 .1l1 .1l1 .2l1 .1l1-.3l1-.1l1 .2l1 0l1-.4l1-.1l1 .1l1-.1l1 .3l1 .2l1 0l1-.1l1 .3l1-.2l1-.3l1-.3l1 .5l1 0l1-.1l1 .3l1-.1l1 0l1-.1l1-.2l1 .1l1 .1l1 .1l1-.1l1 .1l1-.2l1 .1l1 .3l1-.1l1 .2l1 0l1 0l1-.3l1 0l1-.2l1 0l1 .2l1 .1l1 .1l1-.1l1 .1l1-.1l1 .2l1-.2l1 .1l1 .3l1-.2l1-.3l1 .1l1-.1l1 .1l1 0l1-.2l1 .1l1-.2l1 .2l1 .3l1-.4l1 .1l1 0l1-.1l1 .2l1-.2l1 .2l1-.1l1 .1l1 .1" stroke="#f44" stroke-width="0.9" />
<path d="M72 685l1-.2l1-.3l1 .3l1-.4l1 .1l1-.2l1 0l1-.2l1 .7l1-.6l1 .2l1-.1l1 .2l1-.4l1-.5l1 .5l1 0l1 .3l1-.4l1-.1l1-.6l1 .8l1-.4l1 .3l1-.4l1-.2l1 .4l1 0l1-.3l1-.3l1 .2l1 0l1 .1l1-.3l1-.2l1 .6l1 .2l1-.7l1-.6l1 .6l1 .2l1-.1l1 .4l1 0l1-.7l1 .1l1-.3l1 .8l1-.3l1 .4l1-.4l1-.6l1-.4l1-.4l1 .1l1-.6l1 .5l1 .1l1-.2l1 .6l1 .6l1-.4l1 .1l1 .6l1 .3l1-.2l1 .6l1 .3l1 0l1 .7l1 .2l1 .7l1-.6l1-.7l1-.4l1-.6l1-.3l1 0l1-.3l1-.4l1 .1l1 0l1-.4l1 .4l1 1.5l1 3l1 .7l1 .8l1 .7l1-.5l1-.4l1-.5l1-.5l1-.7l1-.7l1-1.1l1-.8l1-1.3l1-1.2l1 .2l1 1.3l1 .4l1-.2l1 .8l1 0l1-.6l1 .1l1 .1l1-.8l1 .8l1 0l1 .6l1-.1l1 .5l1 0l1-.2l1-.2l1-.3l1-.3l1-.9l1-.9l1 .2l1-.3l1 1.1l1 .8l1 .7l1 .3l1 .7l1 .5l1-.2l1 .8l1 .9l1 .4l1 .5l1 0l1-1l1-.4l1-.1l1-1.5l1-.5l1-1.3l1-.7l1 .9l1 2.1l1 1.1l1 3.6l1 4l1-3.2l1-2.5l1 2.5l1 1.6l1-1.3l1-.8l1-1.4l1-.5l1-.8l1-.1l1-.1l1-.3l1-.7l1-1.2l1-.3l1 .1l1-.8l1 1.1l1-.2l1-.1l1 .2l1 .3l1-.2l1 0l1 0l1-.6l1-.5l1-.1l1-.1l1-.3l1 .6l1 0l1 .7l1-.3l1-.4l1-.1l1-.3l1 .7l1-1.1l1 1.2l1 .9l1 .9l1 .7l1 1.7l1 1.1l1 .6l1-.2l1-.4l1 .7l1-1.3l1-.9l1-1.6l1-.7l1 .7l1-.1l1 .6l1-.7l1-.3l1-.3l1-.3l1-.6l1-.1l1-.3l1-.2l1 .3l1-.6l1-.2l1 .5l1 .5l1 .1l1 1.4l1-.8l1-.3l1-.2l1-.2l1-.1l1-.9l1-1l1 0l1-.4l1-.6l1-.5l1 .5l1 1.9l1 .8l1-.4l1-.5l1-1.2l1-.3l1-.9l1 0l1-.3l1 .5l1 .8l1 .3l1 .5l1 .2l1 .1l1 .3l1 .7l1 .7l1 .4l1 .6l1 .8l1 .5l1 .3l1 .2l1 .3l1 1l1 .4l1-.8l1 .2l1-.7l1-.2l1 0l1 .6l1 0l1-.6l1-1.6l1-2.1l1-.1l1-.2l1 .7l1 .5l1 .1l1-.5l1 .1l1-.3l1 .4l1 1.3l1 .3l1 .4l1-.3l1 .9l1 .8l1 0l1-1.1l1-.9l1-.5l1-.6l1 0l1 0l1 .3l1-.1l1 .3l1 .8l1 .7l1 .4l1-.2l1-.6l1-.9l1-1l1 .1l1 1.5l1 .3l1 .4l1 .3l1 .1l1-.3l1 0l1 .2l1 .1l1 .4l1-.9l1-.2l1-.2l1-.2l1-.2l1 .3l1-.2l1-.1l1-.1l1 0l1-.2l1 0l1-.2l1-.2l1-.1l1-.5l1 .6l1 .9l1 .2l1 .4l1 .9l1-.5l1 .8l1-.2l1 0l1-.3l1 .3l1-.4l1-.4l1 .7l1-.1l1-.6l1-.5l1 .6l1 .3l1 .1l1-.1l1 .3l1 .2l1 .4l1 1.2l1 1.5l1 .4l1 1.8l1 .2l1-1.4l1-1.1l1-.5l1 1.3l1 1.8l1 .9l1 .6l1 .7l1 .6l1-1.8l1-1.7l1-.1l1-.5l1 0l1-.5l1 .2l1-.3l1-.9l1-2.2l1-1.4l1-1.2l1-.8l1 .1l1-1.2l1-.1l1-.5l1-.3l1-.1l1-.6l1 .1l1 .1l1 .8l1 .5l1 .1l1 1l1-.2l1-.3l1-1l1-.5l1-.8l1-.6l1 .4l1-.5l1-.4l1 .4l1-1.3l1 .4l1-.1l1 0l1 .6l1-.3l1-.1l1-.3l1 0l1 .2l1 .4l1 .5l1 .4l1 0l1-.5l1 .9l1 .4l1 .6l1 .6l1 .4l1 1.5l1 .6l1 0l1-.3l1-.3l1 .3l1-.4l1-.4l1-.1l1 .1l1 .1l1-.6l1-.2l1 .5l1-.1l1 .2l1 .1l1 1l1-.3l1 .5l1 .1l1 .6l1-.1l1 1.6l1 .1l1 .4l1 .1l1 .5l1 .2l1-.2l1 .1l1 .2l1 .6" stroke="#333" stroke-width="0.9" />
<path d="M72 669l1 .3l1 .2l1-.3l1 .4l1-.2l1-.2l1-.7l1-.1l1 .5l1-.1l1-.4l1-.3l1 .1l1 .6l1-.3l1 .1l1-.2l1 .3l1-.1l1-.4l1 .7l1-.2l1-.2l1-.5l1 .4l1 .1l1 .3l1-.1l1 .4l1-.9l1 .4l1-.1l1-.2l1 .7l1-.1l1-.2l1 .3l1-.4l1 0l1-.2l1 .2l1 0l1 .2l1-.1l1 .2l1 .3l1-.2l1 .5l1-.3l1-.3l1 .1l1 .3l1-.5l1-.2l1 .6l1-.5l1 .3l1 0l1 .1l1-.3l1-.3l1 .3l1 0l1 .3l1-.1l1 .2l1-.9l1 .2l1 .1l1-.2l1 .2l1-.2l1-.1l1-.2l1-.2l1 .3l1 .3l1-.6l1-.1l1 0l1 0l1 .1l1-.1l1-.7l1-.3l1 .2l1-.2l1 0l1 0l1-.3l1 .4l1-.4l1 0l1-.4l1-.1l1-.4l1-.3l1-.2l1 .2l1-.1l1-.1l1 .3l1-.3l1-.5l1-.1l1 .1l1 .1l1-.5l1-.2l1 .7l1-1.1l1-.1l1-.3l1 .1l1 0l1 .4l1 .1l1 .4l1-.1l1 .3l1-.2l1 .1l1 .6l1 .1l1 .1l1-.1l1-.3l1 .4l1 .1l1-.4l1 .5l1 .1l1 .2l1 .2l1 .3l1 .5l1 0l1 1l1-.4l1 .2l1-.9l1-.7l1-1l1-.5l1-1.4l1 .2l1-1.2l1-2.6l1-1.7l1 .4l1 .5l1 1.1l1 .7l1 .4l1 1l1 .5l1 .5l1 .8l1 .3l1-.2l1 .8l1 1l1 .7l1 .3l1-.3l1-.6l1 .1l1-.2l1 .8l1-.3l1 .3l1 0l1-.2l1-.6l1-.5l1 .1l1 .4l1-.3l1-.1l1-.4l1 .8l1 .3l1 .2l1 .7l1 .1l1-.3l1 .1l1 .9l1-.2l1-1.6l1-.7l1-1.1l1-.4l1-1l1-.9l1 .3l1 1.7l1 .2l1 1l1 .4l1 .2l1 .2l1 .4l1 .3l1 0l1-.3l1-.4l1 0l1-.3l1-.6l1-.1l1 .2l1 .4l1 .4l1 .4l1-.1l1 .3l1-1.2l1-.7l1 .1l1-.3l1 .2l1-.4l1 .1l1-.4l1 .6l1-.8l1 .8l1 .1l1-.6l1-.3l1 .5l1 .6l1 .8l1 .1l1 .1l1-1.3l1 0l1 .2l1-.4l1-.3l1 .6l1 .1l1 1.1l1 .2l1 .6l1-.2l1 1.4l1 .1l1 .1l1 .6l1-.2l1 .5l1 .5l1 .9l1 .1l1 .6l1-.5l1 .4l1 .3l1 0l1 .9l1 .2l1 0l1-.3l1 .1l1 .1l1 .4l1-.4l1-.6l1 .1l1-.9l1 .1l1-.1l1 .6l1-.1l1 .4l1 .1l1-.1l1-.4l1 .6l1 .3l1 0l1 .5l1-.4l1-.5l1-.1l1-.4l1-.5l1 .3l1 .3l1 .4l1 .1l1 .1l1 .1l1 .5l1-.1l1 .5l1-.4l1 .3l1 .1l1 .1l1 .2l1 0l1 .4l1-.3l1 .3l1-.7l1 0l1 .3l1 .4l1-.5l1 .4l1 .3l1-.2l1 .1l1-.3l1 0l1 .3l1-.5l1 0l1-.2l1 0l1-.1l1-.5l1 .4l1 .2l1-.3l1 .6l1-.3l1 .6l1 .2l1 0l1 .2l1-.5l1-.3l1 .4l1-.1l1-.3l1-.1l1 .2l1 .1l1-.7l1-.7l1-.7l1 0l1-1l1 .7l1-.4l1-.6l1 .3l1-.8l1-1l1-.4l1-1.1l1 .2l1 1.1l1 .2l1-.5l1-1.3l1-1.1l1-.6l1 .2l1 .3l1 .9l1 0l1 .6l1 .5l1 .6l1 .1l1-.7l1 .1l1 .3l1-.2l1 .5l1 .5l1 .2l1 .1l1 .5l1-.2l1 .1l1-.3l1 .2l1-.5l1 0l1 .2l1-.4l1 .6l1 0l1 0l1 .5l1-.1l1-.5l1-.7l1 .2l1-.5l1-.2l1-.2l1-1l1 .1l1-.7l1 .7l1 .7l1 .7l1 .3l1 1l1 .8l1 0l1 .2l1 .4l1-.3l1 .4l1 .8l1-.2l1 .6l1 .3l1-.1l1 1l1-.3l1 .5l1 .1l1 0l1 .1l1 .1l1-.1l1 .5l1-.4l1 .8l1-.1l1 0l1 .2l1-.2l1 .4l1-.2l1 .2l1 1l1 0l1 .1l1 .6l1 0l1 .8l1 .4l1-.2l1 .5l1 .3l1-.5l1 .6l1-.6l1 0l1 .8l1-.4l1-.2l1 0" stroke="#33f" stroke-width="0.9" />
</g>
<path d="M77.5 660.6h17" stroke="#3e3" stroke-width="1.1"/>
<text x="96.1" y="664.4" font-size="10.5" fill="#3e3">P<tspan font-size="7" dy="2.5">p</tspan><tspan dy="-2.5">&#8203;</tspan></text>
<path d="M77.5 671.7h17" stroke="#f44" stroke-width="1.3"/>
<text x="96.1" y="675.5" font-size="10.5" fill="#f44"><tspan fill="#f00">P<tspan font-size="7" dy="2.5">e</tspan><tspan dy="-2.5">&#8203;</tspan></tspan></text>
<path d="M77.5 683.3h17" stroke="#333" stroke-width="1.5"/>
<text x="96.1" y="687.1" font-size="10.5" fill="#333"><tspan fill="#111">P<tspan font-size="7" dy="2.5">b</tspan><tspan dy="-2.5">&#8203;</tspan></tspan></text>
<path d="M77.5 694.6h17" stroke="#33f" stroke-width="1"/>
<text x="96.1" y="698.4" font-size="10.5" fill="#33f">P<tspan font-size="7" dy="2.5">tot</tspan><tspan dy="-2.5">&#8203;</tspan></text>
<path d="M119.5 654.7v10M119.5 723.3v-10M210.5 654.7v10M210.5 723.3v-10M301.5 654.7v10M301.5 723.3v-10M392.5 654.7v10M392.5 723.3v-10M483.5 654.7v10M483.5 723.3v-10" stroke="#111" stroke-width=".95"/>
<path d="M89.2 654.7v3.2M89.2 723.3v-3.2M149.8 654.7v3.2M149.8 723.3v-3.2M180.2 654.7v3.2M180.2 723.3v-3.2M240.8 654.7v3.2M240.8 723.3v-3.2M271.2 654.7v3.2M271.2 723.3v-3.2M331.8 654.7v3.2M331.8 723.3v-3.2M362.2 654.7v3.2M362.2 723.3v-3.2M422.8 654.7v3.2M422.8 723.3v-3.2M453.2 654.7v3.2M453.2 723.3v-3.2M513.8 654.7v3.2M513.8 723.3v-3.2" stroke="#111" stroke-width=".9"/>
<path d="M71.7 723.3h5.2M525.3 723.3h-5.2M71.7 700.4h5.2M525.3 700.4h-5.2M71.7 677.6h5.2M525.3 677.6h-5.2M71.7 654.7h5.2M525.3 654.7h-5.2M71.7 718.7h2.4M525.3 718.7h-2.4M71.7 714.2h2.4M525.3 714.2h-2.4M71.7 709.6h2.4M525.3 709.6h-2.4M71.7 705h2.4M525.3 705h-2.4M71.7 700.4h2.4M525.3 700.4h-2.4M71.7 695.9h2.4M525.3 695.9h-2.4M71.7 691.3h2.4M525.3 691.3h-2.4M71.7 686.7h2.4M525.3 686.7h-2.4M71.7 682.1h2.4M525.3 682.1h-2.4M71.7 677.6h2.4M525.3 677.6h-2.4M71.7 673h2.4M525.3 673h-2.4M71.7 668.4h2.4M525.3 668.4h-2.4M71.7 663.8h2.4M525.3 663.8h-2.4M71.7 659.3h2.4M525.3 659.3h-2.4" stroke="#000" stroke-width=".9"/>
<rect x="71.7" y="654.7" width="453.6" height="68.6" stroke="#000" stroke-width="1.25"/>
<text x="526.5" y="660.9" font-size="11" fill="#000" text-anchor="start">3</text>
<text x="526.5" y="681.5" font-size="11" fill="#000" text-anchor="start">2</text>
<text x="526.5" y="704.4" font-size="11" fill="#000" text-anchor="start">1</text>
<text x="526.5" y="726.1" font-size="11" fill="#000" text-anchor="start">0</text>
<text transform="translate(561.5 689) rotate(-90)" font-size="11.2" fill="#000" text-anchor="middle">P [nPa]</text>
<text x="119.5" y="740.3" font-size="11" fill="#000" text-anchor="middle">05:30:00</text>
<text x="210.5" y="740.3" font-size="11" fill="#000" text-anchor="middle">05:30:30</text>
<text x="301.5" y="740.3" font-size="11" fill="#000" text-anchor="middle">05:31:00</text>
<text x="392.5" y="740.3" font-size="11" fill="#000" text-anchor="middle">05:31:30</text>
<text x="483.5" y="740.3" font-size="11" fill="#000" text-anchor="middle">05:32:00</text>
<text x="50.2" y="760.8" font-size="10.8" fill="#000">X</text>
<text x="118.5" y="760.8" font-size="10.8" fill="#000" text-anchor="middle">9.51</text>
<text x="209.5" y="760.8" font-size="10.8" fill="#000" text-anchor="middle">9.52</text>
<text x="300.5" y="760.8" font-size="10.8" fill="#000" text-anchor="middle">9.53</text>
<text x="391.5" y="760.8" font-size="10.8" fill="#000" text-anchor="middle">9.53</text>
<text x="482.5" y="760.8" font-size="10.8" fill="#000" text-anchor="middle">9.54</text>
<text x="539.5" y="760.8" font-size="10.8" fill="#000">Re</text>
<text x="50.2" y="778.5" font-size="10.8" fill="#000">Y</text>
<text x="118.5" y="778.5" font-size="10.8" fill="#000" text-anchor="middle">0.983</text>
<text x="209.5" y="778.5" font-size="10.8" fill="#000" text-anchor="middle">0.989</text>
<text x="300.5" y="778.5" font-size="10.8" fill="#000" text-anchor="middle">0.995</text>
<text x="391.5" y="778.5" font-size="10.8" fill="#000" text-anchor="middle">1</text>
<text x="482.5" y="778.5" font-size="10.8" fill="#000" text-anchor="middle">1.01</text>
<text x="539.5" y="778.5" font-size="10.8" fill="#000">Re</text>
<text x="50.2" y="797.2" font-size="10.8" fill="#000">Z</text>
<text x="118.5" y="797.2" font-size="10.8" fill="#000" text-anchor="middle">-0.481</text>
<text x="209.5" y="797.2" font-size="10.8" fill="#000" text-anchor="middle">-0.48</text>
<text x="300.5" y="797.2" font-size="10.8" fill="#000" text-anchor="middle">-0.479</text>
<text x="391.5" y="797.2" font-size="10.8" fill="#000" text-anchor="middle">-0.477</text>
<text x="482.5" y="797.2" font-size="10.8" fill="#000" text-anchor="middle">-0.476</text>
<text x="539.5" y="797.2" font-size="10.8" fill="#000">Re</text>
<text x="591" y="838" font-size="12" fill="#000" text-anchor="end">paschmann 22-Nov-2018 09:19</text>
<text x="627" y="12" font-size="11" fill="#000">Plot layout GP 19/10/2018</text>
<text x="894.5" y="34.5" font-size="17.5" fill="#000" text-anchor="middle">MMS2</text>
<text x="1146.3" y="24" font-size="18" font-weight="bold" fill="#9b0000" text-anchor="end">20161205_052944</text>
<clipPath id="cm1"><rect x="668.6" y="42" width="454" height="73.8"/></clipPath><g clip-path="url(#cm1)" stroke-linejoin="round">
<path d="M728 46V115.8" stroke="#5c5" stroke-width="2" stroke-dasharray="9 5" opacity="0.9"/>
<path d="M756.3 46V115.8" stroke="#f00" stroke-width="1.3" stroke-dasharray="6.5 2" opacity="1"/>
<path d="M756.3 46V115.8" stroke="#00f" stroke-width="1.3" stroke-dasharray="1.6 6.9" opacity="1"/>
<path d="M813 46V115.8" stroke="#f44" stroke-width="1.8" stroke-dasharray="11 4" opacity="0.85"/>
<path d="M819 46V115.8" stroke="#f0f" stroke-width="1.8" stroke-dasharray="2 3" opacity="1"/>
<path d="M841.5 48V115.8" stroke="#0a0" stroke-width="1.3" stroke-dasharray="9 4" opacity="1"/>
<path d="M668.9 49.6l1 0l1-.7l1 .1l1 .6l1-.2l1 .1l1-1l1 .5l1-.6l1 0l1 .2l1 .3l1 .1l1-.1l1-.5l1 .9l1 .4l1-.5l1 0l1 .3l1-.6l1 0l1 .3l1-.2l1-.7l1 .1l1 .3l1-.1l1 .2l1-.7l1-.2l1 .6l1 .4l1-.3l1-.5l1-.3l1 .1l1 .1l1-.1l1-.5l1 0l1-.1l1 .2l1 0l1-.4l1-.2l1 0l1 .4l1 0l1-.1l1 .4l1-.4l1-.3l1-.4l1-.8l1 .1l1 .4l1 .6l1 1l1-.1l1 .5l1 0l1 .2l1 .2l1 0l1 .3l1 .4l1-.4l1 .2l1 .7l1-.2l1 .1l1 .2l1-.2l1 .3l1-.1l1-.2l1-.2l1-.5l1-.3l1 .5l1 .6l1-.2l1 .3l1 .2l1 .6l1 .2l1 .2l1-.1l1-.3l1 .1l1-1l1-.2l1-.9l1 0l1-.5l1-.4l1-.3l1-.1l1 .2l1 .1l1 .4l1 .7l1-.4l1 .9l1 .1l1-.3l1-.1l1 .1l1 0l1 .4l1-.2l1-.5l1 .1l1-.5l1-.3l1 0l1 .2l1-.4l1-.1l1 .2l1 .2l1 .2l1 .2l1 .2l1 .2l1 0l1 .7l1 .7l1 1l1-.1l1 0l1-.2l1-.4l1-.1l1-.5l1 .2l1-.7l1-1l1-.6l1-.4l1-1l1-.9l1-.8l1 1.7l1 1.9l1 .6l1-.3l1-.6l1 1.6l1 1.6l1 1l1 .1l1 .1l1 .1l1 .1l1-.3l1-1.1l1 0l1-.8l1-.6l1-.3l1 .1l1 .2l1 .4l1 .3l1 .3l1 .4l1-.5l1-.1l1 .1l1-.4l1-.5l1-.5l1 .3l1-.1l1-.5l1-.4l1 .1l1-1.2l1 .5l1-.1l1-1l1 0l1 .3l1-.2l1 .5l1 .8l1 .2l1 .8l1 .6l1 .8l1 .3l1 .2l1-.3l1-.1l1 .3l1 .1l1-.2l1 .5l1-.1l1-.4l1-.5l1 .1l1 .1l1-.7l1-.4l1-.1l1-.6l1 .1l1-.7l1-.1l1-.3l1-.4l1 .5l1 .6l1-.1l1 .4l1 .1l1 .2l1 .2l1 0l1-.5l1-.3l1 .2l1-.4l1-1.2l1 .2l1-.9l1 .1l1 0l1 .1l1 .3l1-.4l1-.7l1 .7l1 .1l1-.2l1 1l1 .4l1-.2l1 1l1-.5l1 .4l1 .5l1 0l1-.4l1 .1l1 .4l1 .9l1-.5l1 .4l1 .3l1 .6l1-.2l1 1.2l1 0l1 .5l1 .4l1 .1l1-.1l1 .4l1 .3l1-.1l1-1.1l1-.6l1-.7l1-.8l1-.9l1 .3l1-.2l1-.2l1-.4l1-.3l1 .5l1-.1l1-.1l1-.1l1-.2l1-.5l1 .6l1-.3l1-.4l1 .2l1-.8l1 .1l1-.1l1 0l1-.2l1 .7l1 .2l1 .5l1 .7l1-.1l1 .6l1 .4l1-.4l1-.4l1-.2l1 .2l1-.6l1 .7l1-.1l1 .1l1 0l1 .7l1-.1l1 .1l1 .3l1-.3l1 0l1-.4l1 0l1-.2l1 0l1-.2l1-.3l1 0l1-.3l1-.5l1 .4l1-.4l1 0l1 .6l1-.4l1 .1l1-.1l1 .6l1-.7l1 .3l1 .5l1-.2l1 1.2l1-.5l1 .7l1 .7l1-.4l1 0l1-.3l1-.1l1-.1l1-.6l1-.4l1-.3l1-.1l1-.1l1 1.2l1 .4l1 .3l1 .6l1 .4l1 1.6l1 1.2l1 .5l1-.8l1-.1l1-.9l1-.6l1 .3l1 .8l1 1l1 1.2l1 .9l1 .1l1-.8l1-.8l1-.8l1 .2l1-1.1l1-.2l1-.2l1-.6l1-.3l1-.7l1-.5l1-1l1-.8l1-.6l1 .3l1-.5l1-.4l1-.6l1 .2l1-.3l1-.4l1 .9l1 .7l1 .3l1 .1l1 .3l1 .3l1-.9l1-.2l1 .2l1-.2l1-.6l1-.4l1-.2l1-.3l1-.1l1-.3l1 .1l1-1l1 .8l1-.8l1-1l1 .1l1-.2l1-.1l1 1l1-.1l1 1.2l1 .5l1 0l1 .4l1 0l1 .4l1 .7l1-.5l1 .4l1 .3l1 .4l1-.2l1 .2l1 .3l1-.4l1-.4l1 .2l1-.1l1-.7l1-.8l1 .4l1-.3l1-.2l1 .6l1 .7l1 .5l1 .6l1 .6l1 .4l1-.1l1 .8l1-.1l1 .5l1 .5l1 .1l1-.5l1 .5l1 0l1-.9l1 .8l1 .4l1-.3" stroke="#f44" stroke-width="0.9" />
<path d="M668.9 88.4l1-.5l1-1.3l1-.1l1-.4l1 0l1 0l1 0l1-.1l1 .2l1-.2l1-.1l1 .4l1-.2l1-.1l1-.8l1 .2l1 .3l1-.7l1 .3l1 .5l1-.5l1 .7l1 .8l1-.2l1-.4l1 .2l1-.4l1 .1l1-.6l1-.5l1-.1l1-.2l1-.3l1-.5l1 .4l1 0l1 .6l1 1.2l1 .3l1 0l1 .5l1 .7l1-.2l1 .3l1-.8l1-.2l1-.9l1-.3l1 0l1-.5l1-.1l1 .8l1 .3l1-.3l1 .2l1-.1l1-.3l1-.3l1-.4l1-.8l1-.9l1 .2l1-.8l1-.6l1-.7l1-.1l1-1.9l1-.4l1-.3l1-.2l1-.8l1-.4l1-.6l1-.8l1-.3l1-.3l1-1.7l1-.5l1-.5l1 0l1 .3l1 .3l1-.4l1-.2l1-.2l1 3l1 2.9l1 .1l1-.2l1-.3l1 .4l1 .3l1 .8l1 .8l1 .2l1 .4l1-.1l1 .1l1-.9l1 .6l1 .1l1-.2l1-.2l1 .2l1-.3l1-.2l1 .4l1-.2l1 .5l1 .1l1 .1l1 .2l1 .8l1 .2l1 .4l1 0l1 .9l1-.2l1-.6l1 .2l1-.8l1 1.6l1 .8l1 .4l1-.6l1-.5l1-.1l1 0l1-.6l1-.2l1 .7l1 .1l1 .1l1-.1l1 .9l1 0l1 .2l1 .3l1 .6l1 .2l1 .9l1 1.4l1 1.2l1 1.6l1 .7l1 1.8l1 1.2l1 1l1 1.6l1 .4l1-.9l1-1.3l1-1.9l1-1.4l1-1.6l1-1.3l1-1.1l1-.7l1-1.5l1-1l1-1.3l1-1.4l1 .2l1 .7l1-.4l1 .7l1 .4l1-.2l1 .1l1 .9l1 .3l1-.3l1 .3l1-.3l1 0l1-.6l1-.4l1 .5l1-.3l1-.3l1-.1l1 .7l1 .8l1 .9l1 .2l1 .2l1 1l1-.6l1 .5l1 .7l1-.3l1-1l1-.3l1-.7l1-1.3l1-2.6l1-1.1l1-1.5l1-.2l1 2l1 1.7l1-.1l1 .4l1 .9l1 1l1 .2l1-.1l1 .9l1-.4l1 .2l1 .5l1-.1l1 1.5l1 .2l1 .6l1-.1l1 .7l1 .2l1-1l1-.8l1-.6l1-.7l1-.8l1-.8l1 .1l1-.3l1-.2l1 0l1-.3l1 .6l1 1.1l1 1l1 .8l1 0l1 0l1-.5l1-.9l1-.9l1-.6l1-1l1-.2l1-.2l1 .8l1 1l1-1.2l1-.9l1-.5l1 1.2l1 2.1l1 2.2l1 1.8l1-.5l1-.7l1-.8l1-1.1l1-.7l1-1l1-.7l1-.8l1 0l1-.6l1-.7l1-.3l1-1l1-.9l1-.9l1 .8l1-.3l1 .7l1 .7l1 .3l1-.3l1-.2l1 .5l1 .9l1 .3l1 1.6l1 .9l1 1.5l1 1.8l1 1.5l1 2.2l1 1.2l1-.2l1-.5l1-.4l1-.2l1-.6l1-.9l1-1.3l1-.8l1-.1l1-.5l1-.2l1-.9l1-.8l1-.6l1-1.5l1 0l1 1.9l1 1.9l1 1.3l1-.4l1 0l1 0l1-.1l1-.7l1 .3l1 .8l1 .3l1 .2l1 .4l1 .1l1-.2l1-.7l1 .3l1-1l1 .3l1-.2l1-.6l1-.3l1 .2l1 .1l1 0l1 .5l1 .1l1 .7l1 .4l1 .7l1-.2l1-.2l1-.3l1-.3l1-.5l1 .1l1-.6l1-.3l1 .4l1-.6l1-.2l1 .2l1-.3l1-.5l1 .5l1 .3l1 .1l1 1l1 .7l1 .9l1 .9l1 .6l1 1.4l1 2l1 .3l1-1.6l1-1.4l1-1.4l1-1.3l1-1.1l1-1.2l1-.3l1-1.6l1-1.2l1-.5l1-.7l1 .9l1 1l1 1l1 .8l1 1.1l1 1l1-.5l1-.5l1 .4l1-.5l1 0l1 .7l1 .4l1-.5l1-.1l1-.9l1-1.1l1-.9l1-1.2l1-.4l1-1.1l1 .7l1 .9l1 .3l1 .4l1-.5l1-.5l1-.3l1-.8l1-.4l1 .6l1 .7l1 .5l1 .8l1 1l1 1.8l1 .7l1 1.3l1 .4l1 .4l1 .8l1 1l1-1.3l1-.5l1 .1l1-.9l1-.5l1-1.1l1-.5l1-.8l1-1.1l1-.6l1 1l1 .4l1 1.3l1 .4l1 1l1 1.2l1 .6l1 .9l1 .8l1 .2l1 .9l1 .7l1-.4l1-.3l1-.8l1-.5l1 0l1-.6l1-.3l1-.5l1-.1l1 .2l1-.1l1 1.2l1-.3l1 0l1 .7l1-.6l1-.1l1 0l1-1.1l1-.4l1-.1l1-.4l1-.7l1-.4" stroke="#33f" stroke-width="0.9" />
<path d="M668.9 112.9l1-.4l1-.2l1-.1l1 .2l1-.3l1-.5l1 0l1 .3l1-.1l1-.5l1-.1l1 .2l1 .2l1-.1l1 0l1-.5l1 .5l1 .3l1-.4l1-.2l1 .1l1 .1l1 .1l1-.1l1 .2l1-.3l1-.2l1-.6l1-.1l1-.1l1-.6l1 .4l1 .8l1-.2l1 .3l1 .1l1-.7l1 .2l1 .3l1 .5l1-.9l1-.2l1-.6l1-.9l1-.4l1-.5l1-.1l1 .8l1 .7l1 .5l1-.1l1-.6l1-1.1l1-.4l1 .3l1 .2l1 1.3l1 0l1 .5l1-.3l1 .7l1-.4l1 .4l1 0l1-.8l1-.7l1-.5l1-.3l1-.5l1-.5l1-.6l1-.1l1-.4l1-1.1l1-.6l1-.1l1 .1l1-1.1l1 .2l1 .6l1 .9l1 .4l1-.2l1-1l1-.7l1-.5l1-.8l1-.6l1-.5l1-.2l1 .9l1 .1l1 .5l1 .1l1 1l1 .7l1 1.1l1 .4l1-.3l1 1.3l1 .5l1-.2l1-.2l1 .2l1 .3l1 1.2l1 0l1 0l1 .3l1 .8l1-.1l1-.7l1 .1l1-.3l1-.1l1-.3l1 .3l1 0l1 .3l1 0l1-.4l1-.2l1 1.4l1 .5l1 1.3l1 .6l1-.4l1-.5l1-.7l1-.7l1 .2l1-.9l1-.2l1-1.1l1-.8l1-.9l1 .5l1-.6l1 .3l1-1l1-1.6l1-1.6l1-1.5l1-2.1l1-1.4l1-.3l1 2.7l1 .9l1-1.4l1 0l1 3.9l1 2.7l1 2.7l1 3.2l1 .9l1-.2l1-.3l1 .3l1-.2l1-.8l1-2.4l1-2.1l1 1.4l1 1.6l1 1.7l1 .5l1-.9l1 .5l1 .1l1 .2l1-.6l1 .9l1-.6l1-.5l1-.7l1-1l1 0l1-.8l1 .3l1-.1l1 .1l1-.2l1-.3l1-1.2l1-.3l1-.3l1-.8l1-.4l1-1.4l1-1.5l1-1.3l1 1.8l1 1.2l1 .4l1-.8l1-1.4l1 .7l1 2.1l1 1.9l1 .8l1 .5l1 .3l1 .4l1-.8l1 .3l1-1.2l1-.5l1-.3l1-.9l1-.1l1-.1l1 .2l1-1l1 .1l1 1l1 .7l1 .7l1 .7l1 0l1 .3l1 .1l1 .7l1 .1l1-.4l1 .5l1 .4l1-.2l1-.5l1-.2l1-.1l1-.5l1-.5l1-.4l1 0l1 .6l1 .1l1 .3l1 .2l1-1.1l1 1l1 .8l1 1.3l1 .6l1-.3l1-.8l1-.5l1-.4l1-.8l1 .2l1 .2l1 .4l1 .4l1 .1l1 .1l1 .1l1-.1l1-.5l1 .4l1-.3l1 0l1 .5l1-.3l1-.2l1 .8l1 .8l1 .1l1 .3l1-.3l1-1.1l1-.8l1-1.1l1-.4l1-.4l1-.1l1-.9l1-.3l1-.1l1-.2l1-.1l1 0l1-.3l1-1l1-1.5l1 .5l1 1l1 1.4l1 .5l1 .3l1 .5l1 .7l1 .1l1-.5l1 .6l1-.3l1 .4l1-.8l1-.8l1-1.4l1 0l1 1.4l1 1.3l1 .6l1 .2l1-.3l1-.1l1-.1l1-.2l1 0l1 .8l1 .2l1-.3l1 .3l1-.1l1-.5l1-.1l1-.4l1 .6l1-.7l1-.3l1 .9l1-.9l1-.5l1 .5l1-.5l1-.1l1 0l1-.1l1 .3l1-.1l1-.3l1-.3l1 .1l1-.5l1 .4l1-.4l1 .9l1 .3l1 .6l1 .7l1 .7l1-.2l1-.4l1-1l1-.8l1-.8l1-.7l1-1.1l1 1.1l1 .9l1 1.6l1 2l1-.1l1-.7l1-.5l1-.8l1-.2l1-.8l1-.2l1-.6l1-1.1l1-1.4l1 .2l1 1l1 .3l1-1.1l1-.1l1 1.3l1 1.8l1 1.4l1 .3l1-.6l1-.4l1-.2l1 .6l1 .1l1 1.1l1 .3l1-.2l1 0l1-.2l1-.6l1-.3l1-1.1l1 0l1 .2l1-.4l1 .6l1-.4l1 .8l1-.1l1 .2l1 .3l1-.1l1 0l1-.5l1 .4l1 .2l1 .2l1 .4l1 .3l1 .1l1 .7l1-.6l1-.1l1-1.2l1-.7l1-.2l1-.8l1-.7l1 .6l1 1.3l1 1.3l1 .4l1-.4l1-.4l1 .4l1 0l1-.4l1-.1l1-.1l1-.3l1-.2l1 0l1-.1l1 .5l1-.9l1 .3l1-.5l1-.1l1 0l1-.2l1 .4l1 .6l1-.2l1 .3l1 .8l1 1l1 .5l1 1.1l1 .8l1-.4l1-.9l1-.2l1 .1l1 0l1-.2l1-.3l1-.8l1-.7l1 .4l1-1l1 .4l1-.1" stroke="#3e3" stroke-width="0.9" />
<path d="M668.6 92.6H1122.6" stroke="#000" stroke-width="1.2" stroke-dasharray="4.5 3"/>
</g>
<path d="M674.5 55h17" stroke="#33f" stroke-width="1"/>
<text x="693.1" y="58.5" font-size="9.6" fill="#33f">B<tspan font-size="8" dy="3.4">L</tspan><tspan dy="-3.4">&#8203;</tspan></text>
<path d="M674.5 79.3h17" stroke="#3e3" stroke-width="1"/>
<text x="693.1" y="82.8" font-size="9.6" fill="#3e3">B<tspan font-size="8" dy="3.4">M</tspan><tspan dy="-3.4">&#8203;</tspan></text>
<path d="M674.5 104h17" stroke="#f44" stroke-width="1.2"/>
<text x="693.1" y="107.5" font-size="9.6" fill="#f44"><tspan fill="#f00">B<tspan font-size="8" dy="3.4">N</tspan><tspan dy="-3.4">&#8203;</tspan></tspan></text>
<path d="M716.5 42v10M716.5 115.8v-10M807.5 42v10M807.5 115.8v-10M898.5 42v10M898.5 115.8v-10M989.5 42v10M989.5 115.8v-10M1080.5 42v10M1080.5 115.8v-10" stroke="#111" stroke-width=".95"/>
<path d="M686.2 42v3.2M686.2 115.8v-3.2M746.8 42v3.2M746.8 115.8v-3.2M777.2 42v3.2M777.2 115.8v-3.2M837.8 42v3.2M837.8 115.8v-3.2M868.2 42v3.2M868.2 115.8v-3.2M928.8 42v3.2M928.8 115.8v-3.2M959.2 42v3.2M959.2 115.8v-3.2M1019.8 42v3.2M1019.8 115.8v-3.2M1050.2 42v3.2M1050.2 115.8v-3.2M1110.8 42v3.2M1110.8 115.8v-3.2" stroke="#111" stroke-width=".9"/>
<path d="M668.6 107h5.2M1122.6 107h-5.2M668.6 92.6h5.2M1122.6 92.6h-5.2M668.6 78.2h5.2M1122.6 78.2h-5.2M668.6 63.8h5.2M1122.6 63.8h-5.2M668.6 49.4h5.2M1122.6 49.4h-5.2M668.6 115.6h2.4M1122.6 115.6h-2.4M668.6 112.8h2.4M1122.6 112.8h-2.4M668.6 109.9h2.4M1122.6 109.9h-2.4M668.6 107h2.4M1122.6 107h-2.4M668.6 104.1h2.4M1122.6 104.1h-2.4M668.6 101.2h2.4M1122.6 101.2h-2.4M668.6 98.4h2.4M1122.6 98.4h-2.4M668.6 95.5h2.4M1122.6 95.5h-2.4M668.6 92.6h2.4M1122.6 92.6h-2.4M668.6 89.7h2.4M1122.6 89.7h-2.4M668.6 86.8h2.4M1122.6 86.8h-2.4M668.6 84h2.4M1122.6 84h-2.4M668.6 81.1h2.4M1122.6 81.1h-2.4M668.6 78.2h2.4M1122.6 78.2h-2.4M668.6 75.3h2.4M1122.6 75.3h-2.4M668.6 72.4h2.4M1122.6 72.4h-2.4M668.6 69.6h2.4M1122.6 69.6h-2.4M668.6 66.7h2.4M1122.6 66.7h-2.4M668.6 63.8h2.4M1122.6 63.8h-2.4M668.6 60.9h2.4M1122.6 60.9h-2.4M668.6 58h2.4M1122.6 58h-2.4M668.6 55.2h2.4M1122.6 55.2h-2.4M668.6 52.3h2.4M1122.6 52.3h-2.4M668.6 49.4h2.4M1122.6 49.4h-2.4M668.6 46.5h2.4M1122.6 46.5h-2.4M668.6 43.6h2.4M1122.6 43.6h-2.4" stroke="#000" stroke-width=".9"/>
<rect x="668.6" y="42" width="454" height="73.8" stroke="#000" stroke-width="1.25"/>
<text x="666" y="111" font-size="11" fill="#000" text-anchor="end">-20</text>
<text x="666" y="96.6" font-size="11" fill="#000" text-anchor="end">0</text>
<text x="666" y="82.2" font-size="11" fill="#000" text-anchor="end">20</text>
<text x="666" y="67.8" font-size="11" fill="#000" text-anchor="end">40</text>
<text x="666" y="53.4" font-size="11" fill="#000" text-anchor="end">60</text>
<text transform="translate(639 79) rotate(-90)" font-size="11.2" fill="#000" text-anchor="middle">B<tspan font-size="8.6" dy="3.3">LMN</tspan><tspan dy="-3.3">&#8203;</tspan> [nT]</text>
<linearGradient id="ge" x1="0" y1="0" x2="0" y2="1">
<stop offset="-0.0003" stop-color="#f0f"/>
<stop offset="0.3411" stop-color="#00e8ff"/>
<stop offset="0.4143" stop-color="#00f0ff"/>
<stop offset="0.4183" stop-color="#00ffb4"/>
<stop offset="0.4576" stop-color="#00ff90"/>
<stop offset="0.4617" stop-color="#00ff10"/>
<stop offset="0.5118" stop-color="#10ff00"/>
<stop offset="0.5213" stop-color="#60ff00"/>
<stop offset="0.5511" stop-color="#a0ff00"/>
<stop offset="0.5619" stop-color="#f0ff00"/>
<stop offset="0.5958" stop-color="#ffff00"/>
<stop offset="0.6025" stop-color="#ffc800"/>
<stop offset="0.6229" stop-color="#ffa800"/>
<stop offset="0.6296" stop-color="#ff7000"/>
<stop offset="0.6527" stop-color="#ff5800"/>
<stop offset="0.6581" stop-color="#ff3000"/>
<stop offset="0.6757" stop-color="#ff2000"/>
<stop offset="0.6825" stop-color="#ff0818"/>
<stop offset="0.8328" stop-color="#ff0818"/>
<stop offset="0.8396" stop-color="#ff4000"/>
<stop offset="0.8667" stop-color="#ff5000"/>
<stop offset="0.8721" stop-color="#ff7800"/>
<stop offset="0.8911" stop-color="#ff8000"/>
<stop offset="0.8965" stop-color="#ff9800"/>
<stop offset="0.9995" stop-color="#ff9800"/>
</linearGradient>
<rect x="668.6" y="115.8" width="454" height="73.8" fill="url(#ge)"/>
<clipPath id="cm2"><rect x="668.6" y="115.8" width="454" height="73.8"/></clipPath><g clip-path="url(#cm2)" stroke-linejoin="round">
<linearGradient id="ge2" x1="0" y1="0" x2="0" y2="1">
<stop offset="0.0000" stop-color="#10ff00"/>
<stop offset="0.1250" stop-color="#40ff00"/>
<stop offset="0.1562" stop-color="#90ff00"/>
<stop offset="0.4844" stop-color="#c0ff00"/>
<stop offset="0.5156" stop-color="#ffff00"/>
<stop offset="0.6406" stop-color="#ffe000"/>
<stop offset="0.6719" stop-color="#ffa000"/>
<stop offset="0.8125" stop-color="#ff8000"/>
<stop offset="0.8438" stop-color="#ff5000"/>
<stop offset="0.9687" stop-color="#ff3000"/>
<stop offset="1.0000" stop-color="#ff0818"/>
</linearGradient>
<rect x="1025" y="153.6" width="30" height="12.8" fill="url(#ge2)" opacity=".5"/>
<rect x="1040" y="153.6" width="83" height="12.8" fill="url(#ge2)"/>
<path d="M668.6 117.5h6M676.6 117.5h3M681.6 117.5h1M683.6 117.5h2M686.6 117.5h26M713.6 117.5h2M717.6 117.5h1M720.6 117.5h3M724.6 117.5h23M748.6 117.5h5M755.6 117.5h6M762.6 117.5h2M765.6 117.5h3M769.6 117.5h2M772.6 117.5h3M776.6 117.5h7M784.6 117.5h12M797.6 117.5h6M804.6 117.5h3M808.6 117.5h4M814.6 117.5h1M816.6 117.5h3M820.6 117.5h1M822.6 117.5h23M846.6 117.5h12M859.6 117.5h5M865.6 117.5h8M874.6 117.5h4M879.6 117.5h15M895.6 117.5h5M902.6 117.5h7M910.6 117.5h13M925.6 117.5h7M933.6 117.5h3M937.6 117.5h6M944.6 117.5h3M948.6 117.5h2M951.6 117.5h1M953.6 117.5h9M963.6 117.5h1M965.6 117.5h15M981.6 117.5h5M987.6 117.5h8M996.6 117.5h1M998.6 117.5h7M1006.6 117.5h9M1016.6 117.5h4M1021.6 117.5h8M1030.6 117.5h5M1037.6 117.5h4M1042.6 117.5h8M1051.6 117.5h3M1055.6 117.5h1M1059.6 117.5h13M1073.6 117.5h8M1082.6 117.5h4M1087.6 117.5h2M1090.6 117.5h6M1097.6 117.5h9M1107.6 117.5h9M1117.6 117.5h5M668.6 119.8h5M675.6 119.8h2M679.6 119.8h3M683.6 119.8h2M686.6 119.8h2M690.6 119.8h2M694.6 119.8h7M702.6 119.8h2M705.6 119.8h11M717.6 119.8h1M719.6 119.8h4M724.6 119.8h6M731.6 119.8h9M741.6 119.8h1M743.6 119.8h4M748.6 119.8h1M750.6 119.8h11M763.6 119.8h3M767.6 119.8h28M796.6 119.8h2M799.6 119.8h6M806.6 119.8h7M814.6 119.8h3M818.6 119.8h4M823.6 119.8h4M828.6 119.8h5M834.6 119.8h15M850.6 119.8h7M858.6 119.8h5M865.6 119.8h3M870.6 119.8h2M873.6 119.8h4M878.6 119.8h1M880.6 119.8h5M886.6 119.8h3M890.6 119.8h4M895.6 119.8h1M897.6 119.8h4M902.6 119.8h4M910.6 119.8h9M921.6 119.8h4M926.6 119.8h3M930.6 119.8h15M946.6 119.8h1M948.6 119.8h1M951.6 119.8h2M954.6 119.8h8M963.6 119.8h2M966.6 119.8h3M970.6 119.8h3M974.6 119.8h1M976.6 119.8h1M978.6 119.8h9M988.6 119.8h2M991.6 119.8h17M1009.6 119.8h4M1014.6 119.8h9M1024.6 119.8h3M1028.6 119.8h13M1042.6 119.8h3M1046.6 119.8h4M1051.6 119.8h3M1055.6 119.8h2M1058.6 119.8h4M1063.6 119.8h9M1073.6 119.8h5M1079.6 119.8h2M1082.6 119.8h3M1086.6 119.8h13M1100.6 119.8h3M1104.6 119.8h11M1116.6 119.8h2M1120.6 119.8h2M668.6 122.1h10M679.6 122.1h4M685.6 122.1h25M711.6 122.1h10M724.6 122.1h4M729.6 122.1h3M733.6 122.1h5M739.6 122.1h3M743.6 122.1h3M747.6 122.1h24M774.6 122.1h2M777.6 122.1h4M782.6 122.1h1M784.6 122.1h4M789.6 122.1h6M796.6 122.1h5M802.6 122.1h2M805.6 122.1h2M808.6 122.1h2M811.6 122.1h2M814.6 122.1h1M816.6 122.1h5M822.6 122.1h6M829.6 122.1h2M832.6 122.1h20M853.6 122.1h2M856.6 122.1h1M858.6 122.1h3M863.6 122.1h1M865.6 122.1h2M868.6 122.1h2M871.6 122.1h4M876.6 122.1h7M884.6 122.1h2M887.6 122.1h1M889.6 122.1h5M895.6 122.1h5M901.6 122.1h3M905.6 122.1h6M914.6 122.1h2M917.6 122.1h4M923.6 122.1h1M925.6 122.1h1M927.6 122.1h3M931.6 122.1h3M935.6 122.1h1M937.6 122.1h8M948.6 122.1h2M951.6 122.1h1M953.6 122.1h1M955.6 122.1h3M959.6 122.1h11M971.6 122.1h12M984.6 122.1h13M998.6 122.1h8M1007.6 122.1h5M1013.6 122.1h3M1017.6 122.1h11M1029.6 122.1h4M1034.6 122.1h2M1037.6 122.1h15M1053.6 122.1h4M1058.6 122.1h6M1066.6 122.1h9M1076.6 122.1h3M1080.6 122.1h8M1091.6 122.1h4M1096.6 122.1h4M1101.6 122.1h3M1105.6 122.1h5M1111.6 122.1h4M1116.6 122.1h2M1119.6 122.1h3M668.6 124.4h4M673.6 124.4h4M679.6 124.4h3M683.6 124.4h7M691.6 124.4h1M693.6 124.4h1M695.6 124.4h3M699.6 124.4h6M707.6 124.4h1M709.6 124.4h2M712.6 124.4h2M715.6 124.4h3M719.6 124.4h5M725.6 124.4h2M730.6 124.4h2M733.6 124.4h2M737.6 124.4h1M739.6 124.4h3M743.6 124.4h2M746.6 124.4h3M750.6 124.4h1M752.6 124.4h1M756.6 124.4h2M760.6 124.4h7M768.6 124.4h8M777.6 124.4h1M779.6 124.4h3M783.6 124.4h2M787.6 124.4h1M789.6 124.4h1M791.6 124.4h9M802.6 124.4h3M806.6 124.4h3M810.6 124.4h1M812.6 124.4h3M817.6 124.4h1M820.6 124.4h1M823.6 124.4h2M827.6 124.4h3M831.6 124.4h10M842.6 124.4h2M846.6 124.4h3M850.6 124.4h2M856.6 124.4h2M859.6 124.4h1M861.6 124.4h5M867.6 124.4h2M870.6 124.4h1M872.6 124.4h7M880.6 124.4h3M884.6 124.4h1M886.6 124.4h1M888.6 124.4h8M898.6 124.4h1M900.6 124.4h3M904.6 124.4h1M906.6 124.4h1M909.6 124.4h6M916.6 124.4h7M924.6 124.4h2M927.6 124.4h2M930.6 124.4h3M936.6 124.4h2M939.6 124.4h12M953.6 124.4h4M958.6 124.4h1M962.6 124.4h4M968.6 124.4h1M970.6 124.4h5M976.6 124.4h5M982.6 124.4h2M985.6 124.4h1M987.6 124.4h3M993.6 124.4h2M996.6 124.4h1M999.6 124.4h4M1004.6 124.4h4M1009.6 124.4h3M1014.6 124.4h4M1019.6 124.4h1M1021.6 124.4h2M1024.6 124.4h3M1028.6 124.4h3M1032.6 124.4h2M1035.6 124.4h1M1038.6 124.4h3M1042.6 124.4h1M1045.6 124.4h3M1050.6 124.4h1M1053.6 124.4h1M1056.6 124.4h9M1066.6 124.4h5M1073.6 124.4h2M1076.6 124.4h5M1082.6 124.4h2M1085.6 124.4h5M1091.6 124.4h1M1093.6 124.4h2M1097.6 124.4h2M1100.6 124.4h1M1102.6 124.4h1M1105.6 124.4h3M1109.6 124.4h9M1121.6 124.4h1M668.6 126.7h1M673.6 126.7h4M680.6 126.7h5M689.6 126.7h1M693.6 126.7h1M696.6 126.7h1M698.6 126.7h2M701.6 126.7h2M706.6 126.7h1M708.6 126.7h1M711.6 126.7h2M716.6 126.7h1M718.6 126.7h1M724.6 126.7h2M727.6 126.7h5M734.6 126.7h1M736.6 126.7h1M741.6 126.7h1M743.6 126.7h1M746.6 126.7h2M749.6 126.7h2M752.6 126.7h1M754.6 126.7h1M757.6 126.7h1M759.6 126.7h3M763.6 126.7h1M767.6 126.7h4M772.6 126.7h2M776.6 126.7h1M784.6 126.7h1M789.6 126.7h2M793.6 126.7h2M796.6 126.7h2M799.6 126.7h2M802.6 126.7h2M811.6 126.7h2M814.6 126.7h5M823.6 126.7h1M825.6 126.7h1M827.6 126.7h1M829.6 126.7h1M832.6 126.7h1M834.6 126.7h1M836.6 126.7h4M841.6 126.7h1M843.6 126.7h4M849.6 126.7h5M857.6 126.7h1M860.6 126.7h1M862.6 126.7h1M870.6 126.7h3M874.6 126.7h2M880.6 126.7h1M885.6 126.7h1M887.6 126.7h3M893.6 126.7h2M898.6 126.7h2M901.6 126.7h2M911.6 126.7h1M913.6 126.7h1M915.6 126.7h3M920.6 126.7h1M922.6 126.7h4M927.6 126.7h2M930.6 126.7h1M933.6 126.7h2M937.6 126.7h1M939.6 126.7h1M942.6 126.7h1M945.6 126.7h2M950.6 126.7h1M953.6 126.7h1M955.6 126.7h6M964.6 126.7h1M966.6 126.7h1M971.6 126.7h3M976.6 126.7h1M981.6 126.7h2M984.6 126.7h3M990.6 126.7h1M993.6 126.7h1M1000.6 126.7h2M1004.6 126.7h1M1013.6 126.7h1M1018.6 126.7h6M1028.6 126.7h4M1035.6 126.7h3M1039.6 126.7h1M1042.6 126.7h2M1045.6 126.7h1M1052.6 126.7h1M1054.6 126.7h2M1057.6 126.7h2M1063.6 126.7h1M1067.6 126.7h2M1070.6 126.7h2M1073.6 126.7h3M1080.6 126.7h3M1086.6 126.7h3M1090.6 126.7h3M1094.6 126.7h1M1096.6 126.7h1M1098.6 126.7h2M1106.6 126.7h2M1110.6 126.7h1M1112.6 126.7h1M1115.6 126.7h1M1119.6 126.7h1M1121.6 126.7h1M670.6 129h2M681.6 129h1M683.6 129h1M686.6 129h2M692.6 129h3M697.6 129h3M701.6 129h1M707.6 129h1M709.6 129h1M713.6 129h2M721.6 129h1M737.6 129h2M742.6 129h1M744.6 129h1M746.6 129h3M755.6 129h1M757.6 129h1M759.6 129h2M771.6 129h1M773.6 129h1M776.6 129h2M780.6 129h1M783.6 129h1M786.6 129h1M788.6 129h1M791.6 129h2M796.6 129h1M800.6 129h1M802.6 129h1M804.6 129h3M813.6 129h1M818.6 129h1M820.6 129h1M830.6 129h1M834.6 129h1M836.6 129h1M839.6 129h1M844.6 129h3M848.6 129h1M851.6 129h1M853.6 129h1M855.6 129h1M859.6 129h3M863.6 129h3M868.6 129h1M871.6 129h1M880.6 129h1M889.6 129h1M891.6 129h1M893.6 129h3M898.6 129h1M905.6 129h1M913.6 129h1M916.6 129h1M920.6 129h2M923.6 129h1M934.6 129h1M936.6 129h1M938.6 129h1M942.6 129h2M945.6 129h3M954.6 129h1M960.6 129h1M962.6 129h1M967.6 129h1M970.6 129h1M977.6 129h2M981.6 129h1M983.6 129h1M985.6 129h4M990.6 129h2M993.6 129h1M999.6 129h1M1001.6 129h2M1005.6 129h2M1009.6 129h1M1016.6 129h2M1020.6 129h2M1025.6 129h2M1028.6 129h3M1033.6 129h1M1036.6 129h1M1039.6 129h1M1041.6 129h2M1044.6 129h1M1048.6 129h1M1051.6 129h1M1053.6 129h3M1057.6 129h2M1060.6 129h3M1071.6 129h1M1073.6 129h1M1080.6 129h1M1082.6 129h2M1086.6 129h1M1091.6 129h1M1094.6 129h2M1104.6 129h3M1112.6 129h1M1118.6 129h1M680.6 131.3h1M682.6 131.3h1M684.6 131.3h1M694.6 131.3h1M704.6 131.3h4M711.6 131.3h1M713.6 131.3h1M718.6 131.3h1M725.6 131.3h1M746.6 131.3h1M758.6 131.3h1M762.6 131.3h1M764.6 131.3h1M771.6 131.3h2M775.6 131.3h1M791.6 131.3h2M794.6 131.3h1M805.6 131.3h1M808.6 131.3h1M811.6 131.3h1M815.6 131.3h2M818.6 131.3h1M820.6 131.3h1M822.6 131.3h1M830.6 131.3h3M843.6 131.3h1M845.6 131.3h1M847.6 131.3h1M855.6 131.3h1M863.6 131.3h1M876.6 131.3h1M882.6 131.3h1M886.6 131.3h1M906.6 131.3h1M918.6 131.3h1M921.6 131.3h1M937.6 131.3h1M944.6 131.3h1M948.6 131.3h1M950.6 131.3h1M959.6 131.3h1M965.6 131.3h1M971.6 131.3h1M975.6 131.3h1M981.6 131.3h2M987.6 131.3h1M996.6 131.3h1M999.6 131.3h3M1003.6 131.3h1M1009.6 131.3h2M1015.6 131.3h1M1028.6 131.3h1M1031.6 131.3h1M1049.6 131.3h1M1069.6 131.3h2M1077.6 131.3h1M1080.6 131.3h1M1083.6 131.3h1M1088.6 131.3h2M1091.6 131.3h1M1103.6 131.3h1M1106.6 131.3h2M1113.6 131.3h1M670.6 133.6h1M696.6 133.6h1M701.6 133.6h1M727.6 133.6h1M730.6 133.6h1M740.6 133.6h1M744.6 133.6h2M751.6 133.6h1M763.6 133.6h1M791.6 133.6h1M801.6 133.6h2M807.6 133.6h1M827.6 133.6h1M831.6 133.6h1M848.6 133.6h3M853.6 133.6h1M870.6 133.6h1M872.6 133.6h1M896.6 133.6h1M900.6 133.6h1M903.6 133.6h1M905.6 133.6h1M926.6 133.6h1M950.6 133.6h1M975.6 133.6h1M978.6 133.6h1M987.6 133.6h2M1032.6 133.6h1M1046.6 133.6h1M1049.6 133.6h1M1052.6 133.6h1M1055.6 133.6h1M1061.6 133.6h1M1085.6 133.6h1M1101.6 133.6h1M1109.6 133.6h1M675.6 135.9h1M707.6 135.9h1M723.6 135.9h1M738.6 135.9h1M751.6 135.9h1M786.6 135.9h1M793.6 135.9h2M858.6 135.9h1M896.6 135.9h1M979.6 135.9h1M999.6 135.9h1M1010.6 135.9h1M1058.6 135.9h1M1072.6 135.9h1M1099.6 135.9h1M1121.6 135.9h1M804.6 138.2h1M826.6 138.2h1M917.6 138.2h1" stroke="#f0f" stroke-width="2.5"/>
<path d="M674.6 117.5h2M680.6 117.5h1M682.6 117.5h1M685.6 117.5h1M712.6 117.5h1M715.6 117.5h2M747.6 117.5h1M753.6 117.5h2M761.6 117.5h1M764.6 117.5h1M771.6 117.5h1M775.6 117.5h1M783.6 117.5h1M796.6 117.5h1M803.6 117.5h1M807.6 117.5h1M812.6 117.5h2M815.6 117.5h1M819.6 117.5h1M845.6 117.5h1M864.6 117.5h1M873.6 117.5h1M878.6 117.5h1M900.6 117.5h1M909.6 117.5h1M923.6 117.5h1M932.6 117.5h1M947.6 117.5h1M952.6 117.5h1M962.6 117.5h1M980.6 117.5h1M986.6 117.5h1M995.6 117.5h1M997.6 117.5h1M1005.6 117.5h1M1020.6 117.5h1M1029.6 117.5h1M1035.6 117.5h2M1041.6 117.5h1M1050.6 117.5h1M1057.6 117.5h2M1072.6 117.5h1M1081.6 117.5h1M1089.6 117.5h1M1096.6 117.5h1M1106.6 117.5h1M1116.6 117.5h1M673.6 119.8h1M678.6 119.8h1M682.6 119.8h1M685.6 119.8h1M689.6 119.8h1M693.6 119.8h1M716.6 119.8h1M718.6 119.8h1M723.6 119.8h1M730.6 119.8h1M749.6 119.8h1M761.6 119.8h1M766.6 119.8h1M795.6 119.8h1M822.6 119.8h1M827.6 119.8h1M849.6 119.8h1M857.6 119.8h1M863.6 119.8h2M868.6 119.8h1M877.6 119.8h1M879.6 119.8h1M885.6 119.8h1M889.6 119.8h1M894.6 119.8h1M901.6 119.8h1M906.6 119.8h2M909.6 119.8h1M919.6 119.8h2M925.6 119.8h1M929.6 119.8h1M945.6 119.8h1M947.6 119.8h1M950.6 119.8h1M953.6 119.8h1M962.6 119.8h1M965.6 119.8h1M973.6 119.8h1M975.6 119.8h1M977.6 119.8h1M1008.6 119.8h1M1013.6 119.8h1M1023.6 119.8h1M1041.6 119.8h1M1045.6 119.8h1M1050.6 119.8h1M1054.6 119.8h1M1062.6 119.8h1M1072.6 119.8h1M1078.6 119.8h1M1081.6 119.8h1M1099.6 119.8h1M1103.6 119.8h1M1118.6 119.8h2M683.6 122.1h2M710.6 122.1h1M721.6 122.1h1M723.6 122.1h1M728.6 122.1h1M738.6 122.1h1M746.6 122.1h1M771.6 122.1h3M781.6 122.1h1M783.6 122.1h1M788.6 122.1h1M795.6 122.1h1M801.6 122.1h1M804.6 122.1h1M810.6 122.1h1M815.6 122.1h1M821.6 122.1h1M831.6 122.1h1M855.6 122.1h1M857.6 122.1h1M861.6 122.1h2M864.6 122.1h1M867.6 122.1h1M870.6 122.1h1M875.6 122.1h1M886.6 122.1h1M888.6 122.1h1M904.6 122.1h1M911.6 122.1h3M916.6 122.1h1M921.6 122.1h2M924.6 122.1h1M926.6 122.1h1M930.6 122.1h1M934.6 122.1h1M936.6 122.1h1M945.6 122.1h1M947.6 122.1h1M950.6 122.1h1M952.6 122.1h1M954.6 122.1h1M958.6 122.1h1M970.6 122.1h1M983.6 122.1h1M997.6 122.1h1M1012.6 122.1h1M1033.6 122.1h1M1036.6 122.1h1M1052.6 122.1h1M1057.6 122.1h1M1064.6 122.1h2M1075.6 122.1h1M1079.6 122.1h1M1089.6 122.1h1M1095.6 122.1h1M1104.6 122.1h1M1110.6 122.1h1M1115.6 122.1h1M672.6 124.4h1M678.6 124.4h1M682.6 124.4h1M690.6 124.4h1M694.6 124.4h1M698.6 124.4h1M708.6 124.4h1M718.6 124.4h1M727.6 124.4h1M729.6 124.4h1M732.6 124.4h1M735.6 124.4h2M738.6 124.4h1M742.6 124.4h1M745.6 124.4h1M749.6 124.4h1M754.6 124.4h2M767.6 124.4h1M776.6 124.4h1M778.6 124.4h1M782.6 124.4h1M785.6 124.4h1M788.6 124.4h1M790.6 124.4h1M800.6 124.4h2M805.6 124.4h1M809.6 124.4h1M811.6 124.4h1M815.6 124.4h2M818.6 124.4h2M821.6 124.4h1M830.6 124.4h1M841.6 124.4h1M844.6 124.4h2M849.6 124.4h1M852.6 124.4h4M858.6 124.4h1M860.6 124.4h1M866.6 124.4h1M869.6 124.4h1M871.6 124.4h1M885.6 124.4h1M887.6 124.4h1M899.6 124.4h1M903.6 124.4h1M905.6 124.4h1M907.6 124.4h1M915.6 124.4h1M923.6 124.4h1M926.6 124.4h1M929.6 124.4h1M934.6 124.4h1M938.6 124.4h1M951.6 124.4h2M957.6 124.4h1M959.6 124.4h3M966.6 124.4h2M969.6 124.4h1M975.6 124.4h1M981.6 124.4h1M984.6 124.4h1M986.6 124.4h1M990.6 124.4h3M995.6 124.4h1M997.6 124.4h2M1003.6 124.4h1M1008.6 124.4h1M1012.6 124.4h1M1018.6 124.4h1M1020.6 124.4h1M1023.6 124.4h1M1041.6 124.4h1M1043.6 124.4h2M1048.6 124.4h2M1051.6 124.4h1M1054.6 124.4h2M1065.6 124.4h1M1071.6 124.4h2M1075.6 124.4h1M1084.6 124.4h1M1090.6 124.4h1M1092.6 124.4h1M1095.6 124.4h2M1099.6 124.4h1M1101.6 124.4h1M1103.6 124.4h2M1108.6 124.4h1M1118.6 124.4h3M670.6 126.7h2M677.6 126.7h3M685.6 126.7h4M690.6 126.7h3M694.6 126.7h1M703.6 126.7h3M707.6 126.7h1M714.6 126.7h2M717.6 126.7h1M719.6 126.7h1M721.6 126.7h2M726.6 126.7h1M732.6 126.7h2M735.6 126.7h1M737.6 126.7h3M742.6 126.7h1M744.6 126.7h2M748.6 126.7h1M753.6 126.7h1M755.6 126.7h2M758.6 126.7h1M764.6 126.7h2M771.6 126.7h1M775.6 126.7h1M777.6 126.7h7M785.6 126.7h1M787.6 126.7h1M791.6 126.7h2M795.6 126.7h1M798.6 126.7h1M808.6 126.7h3M820.6 126.7h3M824.6 126.7h1M828.6 126.7h1M830.6 126.7h2M833.6 126.7h1M835.6 126.7h1M840.6 126.7h1M847.6 126.7h1M854.6 126.7h3M858.6 126.7h1M861.6 126.7h1M863.6 126.7h1M865.6 126.7h2M868.6 126.7h2M873.6 126.7h1M876.6 126.7h1M878.6 126.7h2M882.6 126.7h2M886.6 126.7h1M892.6 126.7h1M895.6 126.7h1M900.6 126.7h1M903.6 126.7h8M912.6 126.7h1M918.6 126.7h1M921.6 126.7h1M926.6 126.7h1M929.6 126.7h1M931.6 126.7h1M935.6 126.7h2M938.6 126.7h1M940.6 126.7h1M943.6 126.7h1M947.6 126.7h3M951.6 126.7h1M961.6 126.7h1M963.6 126.7h1M967.6 126.7h1M969.6 126.7h1M974.6 126.7h2M978.6 126.7h3M983.6 126.7h1M988.6 126.7h2M994.6 126.7h1M996.6 126.7h2M1003.6 126.7h1M1005.6 126.7h2M1008.6 126.7h1M1010.6 126.7h2M1014.6 126.7h3M1024.6 126.7h4M1032.6 126.7h3M1038.6 126.7h1M1040.6 126.7h2M1044.6 126.7h1M1047.6 126.7h1M1049.6 126.7h3M1053.6 126.7h1M1056.6 126.7h1M1059.6 126.7h4M1065.6 126.7h1M1072.6 126.7h1M1076.6 126.7h4M1083.6 126.7h3M1089.6 126.7h1M1093.6 126.7h1M1095.6 126.7h1M1097.6 126.7h1M1100.6 126.7h4M1105.6 126.7h1M1109.6 126.7h1M1111.6 126.7h1M1113.6 126.7h2M1116.6 126.7h3M668.6 129h1M672.6 129h5M678.6 129h3M685.6 129h1M688.6 129h3M695.6 129h1M700.6 129h1M703.6 129h1M705.6 129h2M708.6 129h1M710.6 129h3M715.6 129h1M717.6 129h1M720.6 129h1M723.6 129h2M727.6 129h1M729.6 129h3M733.6 129h4M739.6 129h3M745.6 129h1M750.6 129h2M754.6 129h1M758.6 129h1M761.6 129h2M765.6 129h3M769.6 129h1M774.6 129h2M778.6 129h1M782.6 129h1M784.6 129h1M787.6 129h1M790.6 129h1M793.6 129h3M797.6 129h3M807.6 129h3M811.6 129h2M816.6 129h2M819.6 129h1M821.6 129h5M829.6 129h1M831.6 129h1M833.6 129h1M835.6 129h1M837.6 129h2M840.6 129h1M842.6 129h2M847.6 129h1M849.6 129h1M852.6 129h1M854.6 129h1M856.6 129h2M862.6 129h1M866.6 129h2M869.6 129h1M872.6 129h2M875.6 129h4M882.6 129h3M886.6 129h2M892.6 129h1M896.6 129h2M899.6 129h3M904.6 129h1M907.6 129h1M909.6 129h4M914.6 129h2M917.6 129h1M919.6 129h1M922.6 129h1M924.6 129h6M932.6 129h2M935.6 129h1M937.6 129h1M939.6 129h2M948.6 129h5M956.6 129h2M959.6 129h1M969.6 129h1M972.6 129h1M974.6 129h1M976.6 129h1M979.6 129h2M984.6 129h1M992.6 129h1M995.6 129h3M1000.6 129h1M1003.6 129h1M1008.6 129h1M1014.6 129h2M1018.6 129h2M1022.6 129h1M1024.6 129h1M1031.6 129h1M1035.6 129h1M1040.6 129h1M1045.6 129h3M1049.6 129h2M1059.6 129h1M1063.6 129h2M1066.6 129h1M1068.6 129h3M1072.6 129h1M1074.6 129h2M1077.6 129h1M1079.6 129h1M1081.6 129h1M1084.6 129h2M1087.6 129h4M1093.6 129h1M1096.6 129h1M1101.6 129h1M1103.6 129h1M1108.6 129h1M1110.6 129h1M1114.6 129h3M1120.6 129h2M668.6 131.3h4M673.6 131.3h2M676.6 131.3h1M678.6 131.3h2M681.6 131.3h1M685.6 131.3h1M687.6 131.3h5M696.6 131.3h2M699.6 131.3h1M701.6 131.3h2M708.6 131.3h1M710.6 131.3h1M715.6 131.3h3M719.6 131.3h2M722.6 131.3h1M724.6 131.3h1M728.6 131.3h3M732.6 131.3h2M735.6 131.3h1M739.6 131.3h1M741.6 131.3h5M747.6 131.3h11M759.6 131.3h1M761.6 131.3h1M763.6 131.3h1M765.6 131.3h1M767.6 131.3h1M769.6 131.3h1M776.6 131.3h6M783.6 131.3h1M786.6 131.3h1M788.6 131.3h2M793.6 131.3h1M796.6 131.3h3M803.6 131.3h2M807.6 131.3h1M809.6 131.3h2M812.6 131.3h2M817.6 131.3h1M821.6 131.3h1M826.6 131.3h1M829.6 131.3h1M833.6 131.3h1M835.6 131.3h2M839.6 131.3h4M848.6 131.3h1M851.6 131.3h3M859.6 131.3h1M862.6 131.3h1M864.6 131.3h3M868.6 131.3h1M870.6 131.3h2M873.6 131.3h2M877.6 131.3h1M879.6 131.3h3M883.6 131.3h1M885.6 131.3h1M887.6 131.3h3M891.6 131.3h4M896.6 131.3h2M901.6 131.3h5M910.6 131.3h5M916.6 131.3h2M920.6 131.3h1M922.6 131.3h8M931.6 131.3h6M938.6 131.3h2M941.6 131.3h3M945.6 131.3h2M949.6 131.3h1M955.6 131.3h3M960.6 131.3h2M963.6 131.3h2M967.6 131.3h2M970.6 131.3h1M972.6 131.3h3M977.6 131.3h2M980.6 131.3h1M986.6 131.3h1M988.6 131.3h1M990.6 131.3h3M994.6 131.3h1M998.6 131.3h1M1004.6 131.3h3M1008.6 131.3h1M1012.6 131.3h3M1016.6 131.3h6M1023.6 131.3h1M1025.6 131.3h1M1029.6 131.3h2M1033.6 131.3h1M1035.6 131.3h1M1037.6 131.3h1M1041.6 131.3h4M1047.6 131.3h2M1050.6 131.3h1M1053.6 131.3h1M1057.6 131.3h3M1062.6 131.3h1M1064.6 131.3h5M1071.6 131.3h1M1073.6 131.3h1M1076.6 131.3h1M1078.6 131.3h1M1081.6 131.3h2M1086.6 131.3h2M1092.6 131.3h2M1096.6 131.3h1M1100.6 131.3h3M1104.6 131.3h2M1108.6 131.3h2M1111.6 131.3h2M1115.6 131.3h1M1117.6 131.3h1M1119.6 131.3h2M674.6 133.6h2M677.6 133.6h2M680.6 133.6h4M685.6 133.6h1M687.6 133.6h3M691.6 133.6h1M693.6 133.6h2M702.6 133.6h2M705.6 133.6h1M709.6 133.6h3M719.6 133.6h2M723.6 133.6h1M731.6 133.6h6M738.6 133.6h1M742.6 133.6h1M746.6 133.6h1M750.6 133.6h1M752.6 133.6h1M755.6 133.6h1M757.6 133.6h4M762.6 133.6h1M766.6 133.6h1M768.6 133.6h5M774.6 133.6h1M778.6 133.6h3M782.6 133.6h2M786.6 133.6h1M788.6 133.6h1M792.6 133.6h1M794.6 133.6h1M805.6 133.6h2M808.6 133.6h1M812.6 133.6h1M816.6 133.6h1M818.6 133.6h1M820.6 133.6h1M822.6 133.6h1M824.6 133.6h3M830.6 133.6h1M832.6 133.6h3M838.6 133.6h2M841.6 133.6h1M843.6 133.6h5M855.6 133.6h2M858.6 133.6h1M860.6 133.6h1M862.6 133.6h3M866.6 133.6h2M871.6 133.6h1M874.6 133.6h5M881.6 133.6h2M885.6 133.6h1M887.6 133.6h1M890.6 133.6h4M895.6 133.6h1M897.6 133.6h1M899.6 133.6h1M902.6 133.6h1M910.6 133.6h3M919.6 133.6h1M923.6 133.6h1M925.6 133.6h1M927.6 133.6h1M929.6 133.6h5M935.6 133.6h2M943.6 133.6h4M948.6 133.6h2M951.6 133.6h1M954.6 133.6h1M960.6 133.6h4M966.6 133.6h2M970.6 133.6h3M974.6 133.6h1M976.6 133.6h2M979.6 133.6h3M983.6 133.6h4M991.6 133.6h1M994.6 133.6h5M1001.6 133.6h1M1003.6 133.6h5M1013.6 133.6h1M1015.6 133.6h3M1020.6 133.6h1M1023.6 133.6h3M1027.6 133.6h5M1033.6 133.6h2M1037.6 133.6h1M1042.6 133.6h2M1050.6 133.6h1M1053.6 133.6h2M1056.6 133.6h5M1066.6 133.6h7M1080.6 133.6h5M1086.6 133.6h1M1088.6 133.6h2M1092.6 133.6h1M1095.6 133.6h2M1102.6 133.6h5M1108.6 133.6h1M1113.6 133.6h2M1116.6 133.6h1M1121.6 133.6h1M672.6 135.9h2M676.6 135.9h2M685.6 135.9h1M691.6 135.9h2M695.6 135.9h1M697.6 135.9h1M700.6 135.9h1M702.6 135.9h1M705.6 135.9h1M708.6 135.9h2M713.6 135.9h1M715.6 135.9h1M718.6 135.9h4M725.6 135.9h1M729.6 135.9h1M731.6 135.9h3M739.6 135.9h1M742.6 135.9h1M746.6 135.9h1M750.6 135.9h1M753.6 135.9h3M758.6 135.9h2M762.6 135.9h4M770.6 135.9h4M775.6 135.9h2M778.6 135.9h1M783.6 135.9h2M787.6 135.9h3M801.6 135.9h2M804.6 135.9h3M808.6 135.9h1M811.6 135.9h1M814.6 135.9h1M819.6 135.9h4M827.6 135.9h1M833.6 135.9h2M836.6 135.9h2M839.6 135.9h1M841.6 135.9h1M844.6 135.9h1M846.6 135.9h4M852.6 135.9h1M855.6 135.9h1M863.6 135.9h2M868.6 135.9h1M871.6 135.9h1M873.6 135.9h3M879.6 135.9h1M881.6 135.9h1M888.6 135.9h1M890.6 135.9h1M892.6 135.9h2M895.6 135.9h1M897.6 135.9h1M899.6 135.9h2M903.6 135.9h1M905.6 135.9h1M908.6 135.9h2M916.6 135.9h1M918.6 135.9h2M922.6 135.9h2M925.6 135.9h1M927.6 135.9h1M930.6 135.9h5M937.6 135.9h2M940.6 135.9h1M943.6 135.9h1M948.6 135.9h6M957.6 135.9h1M966.6 135.9h1M968.6 135.9h2M973.6 135.9h1M975.6 135.9h1M980.6 135.9h1M982.6 135.9h2M987.6 135.9h1M992.6 135.9h1M998.6 135.9h1M1003.6 135.9h1M1005.6 135.9h1M1007.6 135.9h2M1015.6 135.9h2M1018.6 135.9h1M1021.6 135.9h2M1024.6 135.9h1M1026.6 135.9h1M1028.6 135.9h2M1031.6 135.9h1M1044.6 135.9h1M1057.6 135.9h1M1062.6 135.9h1M1067.6 135.9h1M1073.6 135.9h1M1080.6 135.9h2M1083.6 135.9h1M1087.6 135.9h1M1090.6 135.9h1M1092.6 135.9h1M1097.6 135.9h1M1101.6 135.9h1M1106.6 135.9h2M1109.6 135.9h3M1113.6 135.9h1M1116.6 135.9h1M1118.6 135.9h3M673.6 138.2h1M675.6 138.2h1M680.6 138.2h1M684.6 138.2h1M686.6 138.2h1M691.6 138.2h1M698.6 138.2h2M704.6 138.2h1M709.6 138.2h2M712.6 138.2h3M718.6 138.2h1M727.6 138.2h1M729.6 138.2h2M733.6 138.2h2M739.6 138.2h1M742.6 138.2h1M746.6 138.2h1M750.6 138.2h1M753.6 138.2h1M756.6 138.2h1M758.6 138.2h1M760.6 138.2h1M766.6 138.2h2M772.6 138.2h1M774.6 138.2h2M778.6 138.2h2M783.6 138.2h1M786.6 138.2h1M788.6 138.2h1M790.6 138.2h1M793.6 138.2h1M795.6 138.2h1M797.6 138.2h3M801.6 138.2h2M808.6 138.2h1M812.6 138.2h1M817.6 138.2h1M819.6 138.2h1M822.6 138.2h3M827.6 138.2h1M832.6 138.2h1M838.6 138.2h1M844.6 138.2h1M857.6 138.2h1M860.6 138.2h2M865.6 138.2h2M868.6 138.2h1M870.6 138.2h1M874.6 138.2h1M879.6 138.2h1M883.6 138.2h1M886.6 138.2h2M890.6 138.2h1M893.6 138.2h1M900.6 138.2h1M918.6 138.2h1M923.6 138.2h1M931.6 138.2h3M937.6 138.2h2M940.6 138.2h5M948.6 138.2h1M953.6 138.2h1M959.6 138.2h1M966.6 138.2h1M974.6 138.2h1M979.6 138.2h2M982.6 138.2h1M984.6 138.2h1M986.6 138.2h1M995.6 138.2h1M1003.6 138.2h2M1022.6 138.2h2M1026.6 138.2h2M1036.6 138.2h1M1040.6 138.2h3M1047.6 138.2h1M1051.6 138.2h1M1053.6 138.2h1M1055.6 138.2h1M1063.6 138.2h1M1070.6 138.2h1M1077.6 138.2h1M1079.6 138.2h3M1083.6 138.2h2M1088.6 138.2h1M1090.6 138.2h1M1094.6 138.2h2M1098.6 138.2h1M1102.6 138.2h1M1106.6 138.2h1M1113.6 138.2h1M1116.6 138.2h2M670.6 140.5h1M674.6 140.5h1M678.6 140.5h1M695.6 140.5h1M703.6 140.5h1M729.6 140.5h1M738.6 140.5h1M747.6 140.5h1M752.6 140.5h1M767.6 140.5h1M771.6 140.5h1M773.6 140.5h1M778.6 140.5h2M790.6 140.5h1M793.6 140.5h1M798.6 140.5h1M818.6 140.5h1M821.6 140.5h1M829.6 140.5h1M836.6 140.5h1M850.6 140.5h1M852.6 140.5h1M854.6 140.5h1M856.6 140.5h1M859.6 140.5h1M861.6 140.5h1M870.6 140.5h2M875.6 140.5h1M902.6 140.5h1M909.6 140.5h1M911.6 140.5h1M914.6 140.5h1M922.6 140.5h1M926.6 140.5h1M928.6 140.5h1M974.6 140.5h1M976.6 140.5h1M978.6 140.5h1M981.6 140.5h1M990.6 140.5h1M995.6 140.5h1M998.6 140.5h1M1000.6 140.5h1M1008.6 140.5h1M1023.6 140.5h1M1031.6 140.5h1M1042.6 140.5h1M1070.6 140.5h1M1072.6 140.5h1M1082.6 140.5h1M1085.6 140.5h1M1096.6 140.5h1M1098.6 140.5h1M1107.6 140.5h1M1115.6 140.5h1M1119.6 140.5h1M698.6 142.9h1M759.6 142.9h1M769.6 142.9h1M804.6 142.9h1M813.6 142.9h3M891.6 142.9h1M923.6 142.9h1M925.6 142.9h1M939.6 142.9h1M982.6 142.9h1M1032.6 142.9h1M1036.6 142.9h1M1066.6 142.9h1M1072.6 142.9h1M1112.6 142.9h1M750.6 145.2h1M752.6 145.2h1M777.6 145.2h1M889.6 145.2h1M1042.6 145.2h1M1065.6 145.2h1M1093.6 145.2h1M1110.6 145.2h1" stroke="#0018ff" stroke-width="2.5"/>
<path d="M894.6 117.5h1M901.6 117.5h1M936.6 117.5h1M1056.6 117.5h1M1086.6 117.5h1M677.6 119.8h1M692.6 119.8h1M740.6 119.8h1M762.6 119.8h1M869.6 119.8h1M949.6 119.8h1M969.6 119.8h1M990.6 119.8h1M1085.6 119.8h1M1115.6 119.8h1M722.6 122.1h1M732.6 122.1h1M742.6 122.1h1M852.6 122.1h1M894.6 122.1h1M900.6 122.1h1M946.6 122.1h1M1016.6 122.1h1M1100.6 122.1h1M692.6 124.4h1M711.6 124.4h1M724.6 124.4h1M751.6 124.4h1M753.6 124.4h1M758.6 124.4h1M822.6 124.4h1M897.6 124.4h1M1013.6 124.4h1M1036.6 124.4h1M669.6 126.7h1M695.6 126.7h1M697.6 126.7h1M710.6 126.7h1M713.6 126.7h1M786.6 126.7h1M788.6 126.7h1M805.6 126.7h1M819.6 126.7h1M826.6 126.7h1M864.6 126.7h1M867.6 126.7h1M919.6 126.7h1M941.6 126.7h1M962.6 126.7h1M968.6 126.7h1M987.6 126.7h1M992.6 126.7h1M1002.6 126.7h1M1007.6 126.7h1M1012.6 126.7h1M1064.6 126.7h1M1104.6 126.7h1M1120.6 126.7h1M677.6 129h1M691.6 129h1M702.6 129h1M704.6 129h1M725.6 129h2M764.6 129h1M770.6 129h1M789.6 129h1M801.6 129h1M814.6 129h1M827.6 129h1M858.6 129h1M870.6 129h1M902.6 129h1M963.6 129h1M968.6 129h1M973.6 129h1M975.6 129h1M1011.6 129h2M1037.6 129h1M1065.6 129h1M1076.6 129h1M1098.6 129h1M1117.6 129h1M672.6 131.3h1M686.6 131.3h1M703.6 131.3h1M709.6 131.3h1M712.6 131.3h1M766.6 131.3h1M768.6 131.3h1M770.6 131.3h1M774.6 131.3h1M782.6 131.3h1M787.6 131.3h1M795.6 131.3h1M801.6 131.3h2M806.6 131.3h1M819.6 131.3h1M834.6 131.3h1M837.6 131.3h1M844.6 131.3h1M846.6 131.3h1M850.6 131.3h1M856.6 131.3h1M858.6 131.3h1M875.6 131.3h1M878.6 131.3h1M898.6 131.3h2M909.6 131.3h1M915.6 131.3h1M919.6 131.3h1M952.6 131.3h1M954.6 131.3h1M962.6 131.3h1M969.6 131.3h1M979.6 131.3h1M984.6 131.3h1M989.6 131.3h1M995.6 131.3h1M997.6 131.3h1M1011.6 131.3h1M1026.6 131.3h1M1039.6 131.3h1M1045.6 131.3h1M1054.6 131.3h2M1074.6 131.3h1M1079.6 131.3h1M1090.6 131.3h1M1094.6 131.3h1M1098.6 131.3h1M1116.6 131.3h1M668.6 133.6h2M671.6 133.6h1M692.6 133.6h1M700.6 133.6h1M713.6 133.6h1M715.6 133.6h1M717.6 133.6h2M721.6 133.6h1M725.6 133.6h2M737.6 133.6h1M739.6 133.6h1M741.6 133.6h1M747.6 133.6h2M754.6 133.6h1M761.6 133.6h1M764.6 133.6h2M773.6 133.6h1M777.6 133.6h1M781.6 133.6h1M784.6 133.6h2M793.6 133.6h1M795.6 133.6h2M799.6 133.6h1M804.6 133.6h1M810.6 133.6h1M814.6 133.6h1M817.6 133.6h1M821.6 133.6h1M823.6 133.6h1M836.6 133.6h1M840.6 133.6h1M854.6 133.6h1M857.6 133.6h1M869.6 133.6h1M873.6 133.6h1M879.6 133.6h1M883.6 133.6h1M888.6 133.6h2M907.6 133.6h1M914.6 133.6h1M920.6 133.6h1M924.6 133.6h1M928.6 133.6h1M937.6 133.6h1M942.6 133.6h1M947.6 133.6h1M955.6 133.6h3M964.6 133.6h2M969.6 133.6h1M982.6 133.6h1M992.6 133.6h1M1000.6 133.6h1M1011.6 133.6h2M1018.6 133.6h2M1035.6 133.6h1M1038.6 133.6h4M1063.6 133.6h1M1076.6 133.6h1M1079.6 133.6h1M1087.6 133.6h1M1090.6 133.6h1M1093.6 133.6h1M1099.6 133.6h2M1117.6 133.6h3M668.6 135.9h1M678.6 135.9h2M681.6 135.9h2M684.6 135.9h1M688.6 135.9h1M690.6 135.9h1M693.6 135.9h2M703.6 135.9h1M711.6 135.9h1M717.6 135.9h1M727.6 135.9h2M730.6 135.9h1M734.6 135.9h3M741.6 135.9h1M744.6 135.9h1M747.6 135.9h1M749.6 135.9h1M756.6 135.9h1M760.6 135.9h2M766.6 135.9h2M769.6 135.9h1M777.6 135.9h1M779.6 135.9h3M796.6 135.9h2M809.6 135.9h1M812.6 135.9h1M816.6 135.9h2M823.6 135.9h1M826.6 135.9h1M829.6 135.9h4M835.6 135.9h1M843.6 135.9h1M851.6 135.9h1M853.6 135.9h1M857.6 135.9h1M860.6 135.9h2M865.6 135.9h1M870.6 135.9h1M872.6 135.9h1M876.6 135.9h1M880.6 135.9h1M882.6 135.9h1M885.6 135.9h1M889.6 135.9h1M891.6 135.9h1M901.6 135.9h1M907.6 135.9h1M910.6 135.9h5M917.6 135.9h1M920.6 135.9h1M924.6 135.9h1M928.6 135.9h1M935.6 135.9h1M941.6 135.9h2M945.6 135.9h1M955.6 135.9h2M958.6 135.9h1M961.6 135.9h2M965.6 135.9h1M967.6 135.9h1M970.6 135.9h2M974.6 135.9h1M976.6 135.9h2M988.6 135.9h2M993.6 135.9h1M995.6 135.9h3M1001.6 135.9h2M1006.6 135.9h1M1009.6 135.9h1M1011.6 135.9h1M1019.6 135.9h1M1023.6 135.9h1M1030.6 135.9h1M1033.6 135.9h2M1037.6 135.9h1M1039.6 135.9h1M1042.6 135.9h2M1047.6 135.9h1M1051.6 135.9h1M1054.6 135.9h3M1059.6 135.9h1M1061.6 135.9h1M1063.6 135.9h1M1065.6 135.9h1M1069.6 135.9h1M1079.6 135.9h1M1084.6 135.9h3M1088.6 135.9h1M1093.6 135.9h3M1104.6 135.9h1M1108.6 135.9h1M669.6 138.2h1M671.6 138.2h1M678.6 138.2h1M681.6 138.2h1M683.6 138.2h1M685.6 138.2h1M687.6 138.2h1M689.6 138.2h2M692.6 138.2h1M695.6 138.2h1M701.6 138.2h1M707.6 138.2h1M715.6 138.2h1M720.6 138.2h7M731.6 138.2h1M735.6 138.2h2M741.6 138.2h1M745.6 138.2h1M747.6 138.2h1M761.6 138.2h3M765.6 138.2h1M768.6 138.2h4M773.6 138.2h1M777.6 138.2h1M782.6 138.2h1M784.6 138.2h1M789.6 138.2h1M809.6 138.2h3M815.6 138.2h1M821.6 138.2h1M825.6 138.2h1M829.6 138.2h3M835.6 138.2h3M840.6 138.2h3M845.6 138.2h1M848.6 138.2h1M850.6 138.2h1M853.6 138.2h1M856.6 138.2h1M858.6 138.2h1M869.6 138.2h1M876.6 138.2h2M881.6 138.2h1M884.6 138.2h1M888.6 138.2h2M892.6 138.2h1M895.6 138.2h1M899.6 138.2h1M906.6 138.2h2M910.6 138.2h1M913.6 138.2h1M916.6 138.2h1M920.6 138.2h1M926.6 138.2h1M930.6 138.2h1M935.6 138.2h1M949.6 138.2h2M956.6 138.2h2M961.6 138.2h1M968.6 138.2h2M971.6 138.2h2M981.6 138.2h1M983.6 138.2h1M985.6 138.2h1M990.6 138.2h1M994.6 138.2h1M998.6 138.2h1M1005.6 138.2h1M1007.6 138.2h1M1013.6 138.2h2M1017.6 138.2h2M1020.6 138.2h2M1031.6 138.2h4M1043.6 138.2h1M1045.6 138.2h2M1050.6 138.2h1M1060.6 138.2h1M1062.6 138.2h1M1068.6 138.2h1M1082.6 138.2h1M1091.6 138.2h1M1093.6 138.2h1M1100.6 138.2h1M1104.6 138.2h1M1107.6 138.2h1M1110.6 138.2h1M1115.6 138.2h1M1120.6 138.2h2M668.6 140.5h1M671.6 140.5h1M675.6 140.5h1M677.6 140.5h1M684.6 140.5h1M686.6 140.5h1M689.6 140.5h1M691.6 140.5h2M694.6 140.5h1M697.6 140.5h2M716.6 140.5h1M718.6 140.5h3M723.6 140.5h5M732.6 140.5h1M735.6 140.5h1M756.6 140.5h2M759.6 140.5h1M761.6 140.5h2M768.6 140.5h3M774.6 140.5h2M785.6 140.5h2M788.6 140.5h2M796.6 140.5h2M801.6 140.5h1M806.6 140.5h1M810.6 140.5h1M812.6 140.5h2M815.6 140.5h1M819.6 140.5h1M827.6 140.5h1M830.6 140.5h1M833.6 140.5h2M841.6 140.5h1M845.6 140.5h3M849.6 140.5h1M851.6 140.5h1M857.6 140.5h2M860.6 140.5h1M863.6 140.5h1M879.6 140.5h2M883.6 140.5h2M886.6 140.5h1M889.6 140.5h1M892.6 140.5h1M895.6 140.5h5M906.6 140.5h1M912.6 140.5h1M916.6 140.5h3M924.6 140.5h2M927.6 140.5h1M932.6 140.5h3M936.6 140.5h1M939.6 140.5h1M943.6 140.5h2M946.6 140.5h1M948.6 140.5h1M951.6 140.5h5M957.6 140.5h1M959.6 140.5h1M961.6 140.5h1M965.6 140.5h2M969.6 140.5h1M977.6 140.5h1M985.6 140.5h1M987.6 140.5h1M989.6 140.5h1M997.6 140.5h1M999.6 140.5h1M1001.6 140.5h1M1004.6 140.5h1M1006.6 140.5h2M1015.6 140.5h1M1018.6 140.5h1M1021.6 140.5h2M1024.6 140.5h1M1035.6 140.5h2M1040.6 140.5h2M1044.6 140.5h1M1046.6 140.5h1M1051.6 140.5h1M1054.6 140.5h1M1056.6 140.5h1M1059.6 140.5h1M1078.6 140.5h2M1083.6 140.5h1M1091.6 140.5h1M1095.6 140.5h1M1099.6 140.5h1M1101.6 140.5h3M1109.6 140.5h1M1111.6 140.5h1M1113.6 140.5h1M1117.6 140.5h1M669.6 142.9h1M677.6 142.9h1M679.6 142.9h2M689.6 142.9h1M699.6 142.9h1M708.6 142.9h2M711.6 142.9h3M727.6 142.9h1M742.6 142.9h1M748.6 142.9h1M751.6 142.9h1M754.6 142.9h1M762.6 142.9h1M764.6 142.9h1M766.6 142.9h2M775.6 142.9h1M786.6 142.9h1M795.6 142.9h1M801.6 142.9h2M810.6 142.9h1M818.6 142.9h1M820.6 142.9h1M823.6 142.9h1M827.6 142.9h1M831.6 142.9h1M835.6 142.9h1M845.6 142.9h1M847.6 142.9h1M859.6 142.9h1M861.6 142.9h1M864.6 142.9h2M867.6 142.9h1M882.6 142.9h1M889.6 142.9h1M892.6 142.9h1M894.6 142.9h1M908.6 142.9h1M914.6 142.9h1M916.6 142.9h1M921.6 142.9h1M927.6 142.9h1M930.6 142.9h1M949.6 142.9h2M958.6 142.9h1M969.6 142.9h1M983.6 142.9h1M991.6 142.9h1M994.6 142.9h1M1000.6 142.9h1M1005.6 142.9h1M1015.6 142.9h1M1020.6 142.9h1M1026.6 142.9h1M1035.6 142.9h1M1044.6 142.9h1M1050.6 142.9h2M1053.6 142.9h1M1056.6 142.9h1M1062.6 142.9h1M1071.6 142.9h1M1078.6 142.9h1M1082.6 142.9h1M1090.6 142.9h1M1096.6 142.9h1M1101.6 142.9h2M1108.6 142.9h1M1111.6 142.9h1M672.6 145.2h1M683.6 145.2h1M709.6 145.2h1M731.6 145.2h1M773.6 145.2h2M786.6 145.2h1M793.6 145.2h1M803.6 145.2h1M806.6 145.2h1M830.6 145.2h1M837.6 145.2h1M867.6 145.2h1M887.6 145.2h2M917.6 145.2h1M925.6 145.2h1M944.6 145.2h1M968.6 145.2h1M972.6 145.2h1M980.6 145.2h1M1007.6 145.2h1M1022.6 145.2h1M1028.6 145.2h1M1049.6 145.2h1M1060.6 145.2h1M1064.6 145.2h1M1069.6 145.2h1M1089.6 145.2h1M1095.6 145.2h1M1109.6 145.2h1M1112.6 145.2h1" stroke="#0080ff" stroke-width="2.5"/>
<path d="M679.6 117.5h1M718.6 117.5h2M723.6 117.5h1M768.6 117.5h1M821.6 117.5h1M858.6 117.5h1M924.6 117.5h1M943.6 117.5h1M950.6 117.5h1M964.6 117.5h1M1015.6 117.5h1M1054.6 117.5h1M674.6 119.8h1M688.6 119.8h1M701.6 119.8h1M704.6 119.8h1M742.6 119.8h1M747.6 119.8h1M798.6 119.8h1M805.6 119.8h1M813.6 119.8h1M817.6 119.8h1M833.6 119.8h1M872.6 119.8h1M896.6 119.8h1M908.6 119.8h1M987.6 119.8h1M1027.6 119.8h1M1057.6 119.8h1M678.6 122.1h1M776.6 122.1h1M807.6 122.1h1M813.6 122.1h1M828.6 122.1h1M883.6 122.1h1M1006.6 122.1h1M1028.6 122.1h1M1088.6 122.1h1M1090.6 122.1h1M1118.6 122.1h1M677.6 124.4h1M705.6 124.4h2M714.6 124.4h1M728.6 124.4h1M759.6 124.4h1M786.6 124.4h1M825.6 124.4h2M879.6 124.4h1M883.6 124.4h1M896.6 124.4h1M908.6 124.4h1M933.6 124.4h1M935.6 124.4h1M1027.6 124.4h1M1031.6 124.4h1M1034.6 124.4h1M1037.6 124.4h1M1052.6 124.4h1M1081.6 124.4h1M672.6 126.7h1M700.6 126.7h1M709.6 126.7h1M720.6 126.7h1M723.6 126.7h1M740.6 126.7h1M751.6 126.7h1M762.6 126.7h1M766.6 126.7h1M774.6 126.7h1M801.6 126.7h1M804.6 126.7h1M806.6 126.7h2M813.6 126.7h1M842.6 126.7h1M848.6 126.7h1M859.6 126.7h1M877.6 126.7h1M881.6 126.7h1M884.6 126.7h1M890.6 126.7h2M896.6 126.7h2M914.6 126.7h1M932.6 126.7h1M944.6 126.7h1M952.6 126.7h1M954.6 126.7h1M965.6 126.7h1M970.6 126.7h1M977.6 126.7h1M991.6 126.7h1M995.6 126.7h1M998.6 126.7h2M1009.6 126.7h1M1017.6 126.7h1M1046.6 126.7h1M1048.6 126.7h1M1066.6 126.7h1M1069.6 126.7h1M1108.6 126.7h1M669.6 129h1M682.6 129h1M684.6 129h1M696.6 129h1M716.6 129h1M718.6 129h2M722.6 129h1M728.6 129h1M732.6 129h1M743.6 129h1M749.6 129h1M752.6 129h2M756.6 129h1M763.6 129h1M768.6 129h1M772.6 129h1M779.6 129h1M781.6 129h1M785.6 129h1M803.6 129h1M810.6 129h1M815.6 129h1M826.6 129h1M828.6 129h1M832.6 129h1M841.6 129h1M850.6 129h1M874.6 129h1M879.6 129h1M881.6 129h1M885.6 129h1M888.6 129h1M890.6 129h1M903.6 129h1M906.6 129h1M908.6 129h1M918.6 129h1M930.6 129h2M941.6 129h1M944.6 129h1M953.6 129h1M955.6 129h1M958.6 129h1M961.6 129h1M964.6 129h3M971.6 129h1M982.6 129h1M989.6 129h1M994.6 129h1M998.6 129h1M1004.6 129h1M1007.6 129h1M1010.6 129h1M1013.6 129h1M1023.6 129h1M1027.6 129h1M1032.6 129h1M1034.6 129h1M1038.6 129h1M1043.6 129h1M1052.6 129h1M1056.6 129h1M1067.6 129h1M1078.6 129h1M1092.6 129h1M1097.6 129h1M1099.6 129h2M1102.6 129h1M1107.6 129h1M1109.6 129h1M1111.6 129h1M1113.6 129h1M1119.6 129h1M675.6 131.3h1M677.6 131.3h1M683.6 131.3h1M692.6 131.3h2M695.6 131.3h1M698.6 131.3h1M700.6 131.3h1M714.6 131.3h1M721.6 131.3h1M723.6 131.3h1M726.6 131.3h2M731.6 131.3h1M734.6 131.3h1M736.6 131.3h3M740.6 131.3h1M760.6 131.3h1M773.6 131.3h1M784.6 131.3h2M790.6 131.3h1M799.6 131.3h2M814.6 131.3h1M823.6 131.3h3M827.6 131.3h2M838.6 131.3h1M849.6 131.3h1M854.6 131.3h1M857.6 131.3h1M860.6 131.3h2M867.6 131.3h1M869.6 131.3h1M872.6 131.3h1M884.6 131.3h1M890.6 131.3h1M895.6 131.3h1M900.6 131.3h1M907.6 131.3h2M930.6 131.3h1M940.6 131.3h1M947.6 131.3h1M951.6 131.3h1M953.6 131.3h1M958.6 131.3h1M966.6 131.3h1M976.6 131.3h1M983.6 131.3h1M985.6 131.3h1M993.6 131.3h1M1002.6 131.3h1M1007.6 131.3h1M1022.6 131.3h1M1024.6 131.3h1M1027.6 131.3h1M1032.6 131.3h1M1034.6 131.3h1M1036.6 131.3h1M1038.6 131.3h1M1040.6 131.3h1M1046.6 131.3h1M1051.6 131.3h2M1056.6 131.3h1M1060.6 131.3h2M1063.6 131.3h1M1072.6 131.3h1M1075.6 131.3h1M1084.6 131.3h2M1095.6 131.3h1M1097.6 131.3h1M1099.6 131.3h1M1110.6 131.3h1M1114.6 131.3h1M1118.6 131.3h1M1121.6 131.3h1M672.6 133.6h2M676.6 133.6h1M679.6 133.6h1M684.6 133.6h1M686.6 133.6h1M690.6 133.6h1M695.6 133.6h1M697.6 133.6h3M704.6 133.6h1M706.6 133.6h3M712.6 133.6h1M714.6 133.6h1M716.6 133.6h1M722.6 133.6h1M724.6 133.6h1M728.6 133.6h2M743.6 133.6h1M749.6 133.6h1M753.6 133.6h1M756.6 133.6h1M767.6 133.6h1M775.6 133.6h2M787.6 133.6h1M789.6 133.6h2M797.6 133.6h2M800.6 133.6h1M803.6 133.6h1M809.6 133.6h1M811.6 133.6h1M813.6 133.6h1M815.6 133.6h1M819.6 133.6h1M828.6 133.6h2M835.6 133.6h1M837.6 133.6h1M842.6 133.6h1M851.6 133.6h2M859.6 133.6h1M861.6 133.6h1M865.6 133.6h1M868.6 133.6h1M880.6 133.6h1M884.6 133.6h1M886.6 133.6h1M894.6 133.6h1M898.6 133.6h1M901.6 133.6h1M904.6 133.6h1M906.6 133.6h1M908.6 133.6h2M913.6 133.6h1M915.6 133.6h4M921.6 133.6h2M934.6 133.6h1M938.6 133.6h4M952.6 133.6h2M958.6 133.6h2M968.6 133.6h1M973.6 133.6h1M989.6 133.6h2M993.6 133.6h1M999.6 133.6h1M1002.6 133.6h1M1008.6 133.6h3M1014.6 133.6h1M1021.6 133.6h2M1026.6 133.6h1M1036.6 133.6h1M1044.6 133.6h2M1047.6 133.6h2M1051.6 133.6h1M1062.6 133.6h1M1064.6 133.6h2M1073.6 133.6h3M1077.6 133.6h2M1091.6 133.6h1M1094.6 133.6h1M1097.6 133.6h2M1107.6 133.6h1M1110.6 133.6h3M1115.6 133.6h1M1120.6 133.6h1M669.6 135.9h3M674.6 135.9h1M680.6 135.9h1M683.6 135.9h1M686.6 135.9h2M689.6 135.9h1M696.6 135.9h1M698.6 135.9h2M701.6 135.9h1M704.6 135.9h1M706.6 135.9h1M710.6 135.9h1M712.6 135.9h1M714.6 135.9h1M716.6 135.9h1M722.6 135.9h1M724.6 135.9h1M726.6 135.9h1M737.6 135.9h1M740.6 135.9h1M743.6 135.9h1M745.6 135.9h1M748.6 135.9h1M752.6 135.9h1M757.6 135.9h1M768.6 135.9h1M774.6 135.9h1M782.6 135.9h1M785.6 135.9h1M790.6 135.9h3M795.6 135.9h1M798.6 135.9h3M803.6 135.9h1M807.6 135.9h1M810.6 135.9h1M813.6 135.9h1M815.6 135.9h1M818.6 135.9h1M824.6 135.9h2M828.6 135.9h1M838.6 135.9h1M840.6 135.9h1M842.6 135.9h1M845.6 135.9h1M850.6 135.9h1M854.6 135.9h1M856.6 135.9h1M859.6 135.9h1M862.6 135.9h1M866.6 135.9h2M869.6 135.9h1M877.6 135.9h2M883.6 135.9h2M886.6 135.9h2M894.6 135.9h1M898.6 135.9h1M902.6 135.9h1M904.6 135.9h1M906.6 135.9h1M915.6 135.9h1M921.6 135.9h1M926.6 135.9h1M929.6 135.9h1M936.6 135.9h1M939.6 135.9h1M944.6 135.9h1M946.6 135.9h2M954.6 135.9h1M959.6 135.9h2M963.6 135.9h2M972.6 135.9h1M978.6 135.9h1M981.6 135.9h1M984.6 135.9h3M990.6 135.9h2M994.6 135.9h1M1000.6 135.9h1M1004.6 135.9h1M1012.6 135.9h3M1017.6 135.9h1M1020.6 135.9h1M1025.6 135.9h1M1027.6 135.9h1M1032.6 135.9h1M1035.6 135.9h2M1038.6 135.9h1M1040.6 135.9h2M1045.6 135.9h2M1048.6 135.9h3M1052.6 135.9h2M1060.6 135.9h1M1064.6 135.9h1M1066.6 135.9h1M1068.6 135.9h1M1070.6 135.9h2M1074.6 135.9h5M1082.6 135.9h1M1089.6 135.9h1M1091.6 135.9h1M1096.6 135.9h1M1098.6 135.9h1M1100.6 135.9h1M1102.6 135.9h2M1105.6 135.9h1M1112.6 135.9h1M1114.6 135.9h2M1117.6 135.9h1M668.6 138.2h1M670.6 138.2h1M672.6 138.2h1M674.6 138.2h1M676.6 138.2h2M679.6 138.2h1M682.6 138.2h1M688.6 138.2h1M693.6 138.2h2M696.6 138.2h2M700.6 138.2h1M702.6 138.2h2M705.6 138.2h2M708.6 138.2h1M711.6 138.2h1M716.6 138.2h2M719.6 138.2h1M728.6 138.2h1M732.6 138.2h1M737.6 138.2h2M740.6 138.2h1M743.6 138.2h2M748.6 138.2h2M751.6 138.2h2M754.6 138.2h2M757.6 138.2h1M759.6 138.2h1M764.6 138.2h1M776.6 138.2h1M780.6 138.2h2M785.6 138.2h1M787.6 138.2h1M791.6 138.2h2M794.6 138.2h1M796.6 138.2h1M800.6 138.2h1M803.6 138.2h1M805.6 138.2h3M813.6 138.2h2M816.6 138.2h1M818.6 138.2h1M820.6 138.2h1M828.6 138.2h1M833.6 138.2h2M839.6 138.2h1M843.6 138.2h1M846.6 138.2h2M849.6 138.2h1M851.6 138.2h2M854.6 138.2h2M859.6 138.2h1M862.6 138.2h3M867.6 138.2h1M871.6 138.2h3M875.6 138.2h1M878.6 138.2h1M880.6 138.2h1M882.6 138.2h1M885.6 138.2h1M891.6 138.2h1M894.6 138.2h1M896.6 138.2h3M901.6 138.2h5M908.6 138.2h2M911.6 138.2h2M914.6 138.2h2M919.6 138.2h1M921.6 138.2h2M924.6 138.2h2M927.6 138.2h3M934.6 138.2h1M936.6 138.2h1M939.6 138.2h1M945.6 138.2h3M951.6 138.2h2M954.6 138.2h2M958.6 138.2h1M960.6 138.2h1M962.6 138.2h4M967.6 138.2h1M970.6 138.2h1M973.6 138.2h1M975.6 138.2h4M987.6 138.2h3M991.6 138.2h3M996.6 138.2h2M999.6 138.2h4M1006.6 138.2h1M1008.6 138.2h5M1015.6 138.2h2M1019.6 138.2h1M1024.6 138.2h2M1028.6 138.2h3M1035.6 138.2h1M1037.6 138.2h3M1044.6 138.2h1M1048.6 138.2h2M1052.6 138.2h1M1054.6 138.2h1M1056.6 138.2h4M1061.6 138.2h1M1064.6 138.2h4M1069.6 138.2h1M1071.6 138.2h6M1078.6 138.2h1M1085.6 138.2h3M1089.6 138.2h1M1092.6 138.2h1M1096.6 138.2h2M1099.6 138.2h1M1101.6 138.2h1M1103.6 138.2h1M1105.6 138.2h1M1108.6 138.2h2M1111.6 138.2h2M1114.6 138.2h1M1118.6 138.2h2M669.6 140.5h1M672.6 140.5h2M676.6 140.5h1M679.6 140.5h5M685.6 140.5h1M687.6 140.5h2M690.6 140.5h1M693.6 140.5h1M696.6 140.5h1M699.6 140.5h4M704.6 140.5h12M717.6 140.5h1M721.6 140.5h2M728.6 140.5h1M730.6 140.5h2M733.6 140.5h2M736.6 140.5h2M739.6 140.5h8M748.6 140.5h4M753.6 140.5h3M758.6 140.5h1M760.6 140.5h1M763.6 140.5h4M772.6 140.5h1M776.6 140.5h2M780.6 140.5h5M787.6 140.5h1M791.6 140.5h2M794.6 140.5h2M799.6 140.5h2M802.6 140.5h4M807.6 140.5h3M811.6 140.5h1M814.6 140.5h1M816.6 140.5h2M820.6 140.5h1M822.6 140.5h5M828.6 140.5h1M831.6 140.5h2M835.6 140.5h1M837.6 140.5h4M842.6 140.5h3M848.6 140.5h1M853.6 140.5h1M855.6 140.5h1M862.6 140.5h1M864.6 140.5h6M872.6 140.5h3M876.6 140.5h3M881.6 140.5h2M885.6 140.5h1M887.6 140.5h2M890.6 140.5h2M893.6 140.5h2M900.6 140.5h2M903.6 140.5h3M907.6 140.5h2M910.6 140.5h1M913.6 140.5h1M915.6 140.5h1M919.6 140.5h3M923.6 140.5h1M929.6 140.5h3M935.6 140.5h1M937.6 140.5h2M940.6 140.5h3M945.6 140.5h1M947.6 140.5h1M949.6 140.5h2M956.6 140.5h1M958.6 140.5h1M960.6 140.5h1M962.6 140.5h3M967.6 140.5h2M970.6 140.5h4M975.6 140.5h1M979.6 140.5h2M982.6 140.5h3M986.6 140.5h1M988.6 140.5h1M991.6 140.5h4M996.6 140.5h1M1002.6 140.5h2M1005.6 140.5h1M1009.6 140.5h6M1016.6 140.5h2M1019.6 140.5h2M1025.6 140.5h6M1032.6 140.5h3M1037.6 140.5h3M1043.6 140.5h1M1045.6 140.5h1M1047.6 140.5h4M1052.6 140.5h2M1055.6 140.5h1M1057.6 140.5h2M1060.6 140.5h10M1071.6 140.5h1M1073.6 140.5h5M1080.6 140.5h2M1084.6 140.5h1M1086.6 140.5h5M1092.6 140.5h3M1097.6 140.5h1M1100.6 140.5h1M1104.6 140.5h3M1108.6 140.5h1M1110.6 140.5h1M1112.6 140.5h1M1114.6 140.5h1M1116.6 140.5h1M1118.6 140.5h1M1120.6 140.5h2M668.6 142.9h1M670.6 142.9h7M678.6 142.9h1M681.6 142.9h8M690.6 142.9h8M700.6 142.9h8M710.6 142.9h1M714.6 142.9h13M728.6 142.9h14M743.6 142.9h5M749.6 142.9h2M752.6 142.9h2M755.6 142.9h4M760.6 142.9h2M763.6 142.9h1M765.6 142.9h1M768.6 142.9h1M770.6 142.9h5M776.6 142.9h10M787.6 142.9h8M796.6 142.9h5M803.6 142.9h1M805.6 142.9h5M811.6 142.9h2M816.6 142.9h2M819.6 142.9h1M821.6 142.9h2M824.6 142.9h3M828.6 142.9h3M832.6 142.9h3M836.6 142.9h9M846.6 142.9h1M848.6 142.9h11M860.6 142.9h1M862.6 142.9h2M866.6 142.9h1M868.6 142.9h14M883.6 142.9h6M890.6 142.9h1M893.6 142.9h1M895.6 142.9h13M909.6 142.9h5M915.6 142.9h1M917.6 142.9h4M922.6 142.9h1M924.6 142.9h1M926.6 142.9h1M928.6 142.9h2M931.6 142.9h8M940.6 142.9h9M951.6 142.9h7M959.6 142.9h10M970.6 142.9h12M984.6 142.9h7M992.6 142.9h2M995.6 142.9h5M1001.6 142.9h4M1006.6 142.9h9M1016.6 142.9h4M1021.6 142.9h5M1027.6 142.9h5M1033.6 142.9h2M1037.6 142.9h7M1045.6 142.9h5M1052.6 142.9h1M1054.6 142.9h2M1057.6 142.9h5M1063.6 142.9h3M1067.6 142.9h4M1073.6 142.9h5M1079.6 142.9h3M1083.6 142.9h7M1091.6 142.9h5M1097.6 142.9h4M1103.6 142.9h5M1109.6 142.9h2M1113.6 142.9h9M668.6 145.2h4M673.6 145.2h10M684.6 145.2h25M710.6 145.2h21M732.6 145.2h18M751.6 145.2h1M753.6 145.2h20M775.6 145.2h2M778.6 145.2h8M787.6 145.2h6M794.6 145.2h9M804.6 145.2h2M807.6 145.2h23M831.6 145.2h6M838.6 145.2h29M868.6 145.2h19M890.6 145.2h27M918.6 145.2h7M926.6 145.2h18M945.6 145.2h23M969.6 145.2h3M973.6 145.2h7M981.6 145.2h26M1008.6 145.2h14M1023.6 145.2h5M1029.6 145.2h13M1043.6 145.2h6M1050.6 145.2h10M1061.6 145.2h3M1066.6 145.2h3M1070.6 145.2h19M1090.6 145.2h3M1094.6 145.2h1M1096.6 145.2h13M1111.6 145.2h1M1113.6 145.2h9" stroke="#00e8ff" stroke-width="2.5"/>
<rect x="812" y="158.4" width="20" height="6.8" fill="#ff1010" opacity="0.9" filter="url(#b1)"/>
<rect x="858" y="158.5" width="10" height="5.6" fill="#ff2010" opacity="0.85" filter="url(#b1)"/>
<rect x="1010" y="160.5" width="14" height="4" fill="#ff3010" opacity="0.6" filter="url(#b1)"/>
<rect x="812" y="180" width="20" height="8" fill="#ff5800" opacity="0.5" filter="url(#b1)"/>
<rect x="858" y="180" width="10" height="8" fill="#ff6000" opacity="0.45" filter="url(#b1)"/>
<rect x="1028" y="180" width="8" height="8" fill="#ff6000" opacity="0.4" filter="url(#b1)"/>
<rect x="668" y="178.3" width="455" height="2.4" fill="#ff5000" opacity="0.25" filter="url(#b1)"/>
<path d="M673.1 148V189M680.1 148V189M683.1 148V189M684.1 148V189M685.1 148V189M687.1 148V189M693.1 148V189M696.1 148V189M701.1 148V189M702.1 148V189M710.1 148V189M712.1 148V189M714.1 148V189M718.1 148V189M719.1 148V189M727.1 148V189M733.1 148V189M736.1 148V189M741.1 148V189M745.1 148V189M746.1 148V189M749.1 148V189M750.1 148V189M757.1 148V189M759.1 148V189M761.1 148V189M762.1 148V189M769.1 148V189M771.1 148V189M772.1 148V189M781.1 148V189M784.1 148V189M785.1 148V189M786.1 148V189M787.1 148V189M790.1 148V189M791.1 148V189M794.1 148V189M797.1 148V189M798.1 148V189M804.1 148V189M805.1 148V189M812.1 148V189M815.1 148V189M820.1 148V189M822.1 148V189M823.1 148V189M827.1 148V189M831.1 148V189M836.1 148V189M841.1 148V189M843.1 148V189M844.1 148V189M846.1 148V189M848.1 148V189M853.1 148V189M859.1 148V189M864.1 148V189M865.1 148V189M866.1 148V189M868.1 148V189M869.1 148V189M874.1 148V189M879.1 148V189M880.1 148V189M882.1 148V189M888.1 148V189M892.1 148V189M895.1 148V189M896.1 148V189M898.1 148V189M902.1 148V189M904.1 148V189M907.1 148V189M912.1 148V189M913.1 148V189M914.1 148V189M919.1 148V189M920.1 148V189M924.1 148V189M925.1 148V189M926.1 148V189M930.1 148V189M934.1 148V189M935.1 148V189M937.1 148V189M938.1 148V189M939.1 148V189M943.1 148V189M951.1 148V189M958.1 148V189M962.1 148V189M963.1 148V189M964.1 148V189M966.1 148V189M967.1 148V189M968.1 148V189M970.1 148V189M972.1 148V189M974.1 148V189M978.1 148V189M979.1 148V189M984.1 148V189M988.1 148V189M989.1 148V189M990.1 148V189M995.1 148V189M997.1 148V189M998.1 148V189M1002.1 148V189M1005.1 148V189M1006.1 148V189M1007.1 148V189M1008.1 148V189M1011.1 148V189M1021.1 148V189M1027.1 148V189M1032.1 148V189M1035.1 148V189M1037.1 148V189M1038.1 148V189M1042.1 148V189M1046.1 148V189M1050.1 148V189M1057.1 148V189M1058.1 148V189M1059.1 148V189M1063.1 148V189M1070.1 148V189M1072.1 148V189M1075.1 148V189M1077.1 148V189M1078.1 148V189M1081.1 148V189M1086.1 148V189M1088.1 148V189M1091.1 148V189M1092.1 148V189M1098.1 148V189M1105.1 148V189M1110.1 148V189M1113.1 148V189M1114.1 148V189M1116.1 148V189M1118.1 148V189" stroke="#fff" stroke-width="1" opacity=".06"/>
</g>
<path d="M716.5 115.8v10M716.5 189.6v-10M807.5 115.8v10M807.5 189.6v-10M898.5 115.8v10M898.5 189.6v-10M989.5 115.8v10M989.5 189.6v-10M1080.5 115.8v10M1080.5 189.6v-10" stroke="#111" stroke-width=".95"/>
<path d="M686.2 115.8v3.2M686.2 189.6v-3.2M746.8 115.8v3.2M746.8 189.6v-3.2M777.2 115.8v3.2M777.2 189.6v-3.2M837.8 115.8v3.2M837.8 189.6v-3.2M868.2 115.8v3.2M868.2 189.6v-3.2M928.8 115.8v3.2M928.8 189.6v-3.2M959.2 115.8v3.2M959.2 189.6v-3.2M1019.8 115.8v3.2M1019.8 189.6v-3.2M1050.2 115.8v3.2M1050.2 189.6v-3.2M1110.8 115.8v3.2M1110.8 189.6v-3.2" stroke="#111" stroke-width=".9"/>
<path d="M668.6 184h5.2M1122.6 184h-5.2M668.6 164.7h5.2M1122.6 164.7h-5.2M668.6 145.4h5.2M1122.6 145.4h-5.2M668.6 126.1h5.2M1122.6 126.1h-5.2M668.6 188.3h2.4M1122.6 188.3h-2.4M668.6 185.9h2.4M1122.6 185.9h-2.4M668.6 178.2h2.4M1122.6 178.2h-2.4M668.6 172.4h2.4M1122.6 172.4h-2.4M668.6 169h2.4M1122.6 169h-2.4M668.6 166.6h2.4M1122.6 166.6h-2.4M668.6 158.9h2.4M1122.6 158.9h-2.4M668.6 153.1h2.4M1122.6 153.1h-2.4M668.6 149.7h2.4M1122.6 149.7h-2.4M668.6 147.3h2.4M1122.6 147.3h-2.4M668.6 139.6h2.4M1122.6 139.6h-2.4M668.6 133.8h2.4M1122.6 133.8h-2.4M668.6 130.4h2.4M1122.6 130.4h-2.4M668.6 128h2.4M1122.6 128h-2.4M668.6 120.3h2.4M1122.6 120.3h-2.4" stroke="#000" stroke-width=".9"/>
<rect x="668.6" y="115.8" width="454" height="73.8" stroke="#000" stroke-width="1.25"/>
<text x="1125.3" y="188.5" font-size="11.5" fill="#000">10<tspan font-size="9.3" dy="-5">1</tspan><tspan dy="5">&#8203;</tspan></text>
<text x="1125.3" y="169.2" font-size="11.5" fill="#000">10<tspan font-size="9.3" dy="-5">2</tspan><tspan dy="5">&#8203;</tspan></text>
<text x="1125.3" y="149.9" font-size="11.5" fill="#000">10<tspan font-size="9.3" dy="-5">3</tspan><tspan dy="5">&#8203;</tspan></text>
<text x="1125.3" y="130.6" font-size="11.5" fill="#000">10<tspan font-size="9.3" dy="-5">4</tspan><tspan dy="5">&#8203;</tspan></text>
<text transform="translate(1154.2 152.5) rotate(-90)" font-size="11.2" fill="#000" text-anchor="middle">Energy (eV)</text>
<clipPath id="cm3"><rect x="668.6" y="189.6" width="454" height="73.8"/></clipPath><g clip-path="url(#cm3)" stroke-linejoin="round">
<path d="M728 193.6V263.5" stroke="#5c5" stroke-width="2" stroke-dasharray="9 5" opacity="0.9"/>
<path d="M756.3 193.6V263.5" stroke="#f00" stroke-width="1.3" stroke-dasharray="6.5 2" opacity="1"/>
<path d="M756.3 193.6V263.5" stroke="#00f" stroke-width="1.3" stroke-dasharray="1.6 6.9" opacity="1"/>
<path d="M813 193.6V263.5" stroke="#f44" stroke-width="1.8" stroke-dasharray="11 4" opacity="0.85"/>
<path d="M819 193.6V263.5" stroke="#f0f" stroke-width="1.8" stroke-dasharray="2 3" opacity="1"/>
<path d="M841.5 195.6V263.5" stroke="#0a0" stroke-width="1.3" stroke-dasharray="9 4" opacity="1"/>
<path d="M674.5 198h17" stroke="#44f" stroke-width="1.3"/>
<text x="693.1" y="201.8" font-size="10.5" fill="#44f"><tspan fill="#33f">V<tspan font-size="7.5" dy="2.5">L</tspan><tspan dy="-2.5">&#8203;</tspan></tspan></text>
<path d="M674.5 214.5h17" stroke="#4e4" stroke-width="1.3"/>
<text x="693.1" y="218.3" font-size="10.5" fill="#4e4"><tspan fill="#6e3">V<tspan font-size="7.5" dy="2.5">M</tspan><tspan dy="-2.5">&#8203;</tspan></tspan></text>
<path d="M668.9 240.5l.4-4.8l.4-2l.4-2.5l.4-1.2l.4-2.3l.4 2.2l.4 0l.4-.1l.4 1.1l.4 .3l.4 .3l.4 1.2l.4-3l.4-2.6l.4 1.1l.4 2.3l.4 3.1l.4-4.5l.4-6.5l.4 6.2l.4 1l.4-.3l.4-1.2l.4-1.8l.4 .9l.4-2.3l.4 2.5l.4-4.9l.4 3.8l.4-1.2l.4 2.9l.4 5.3l.4-2.1l.4-2l.4 2.1l.4-3.4l.4 2.3l.4 1.4l.4-2.2l.4-.7l.4 .8l.4-.2l.4 1.7l.4-.6l.4-1.4l.4-1.4l.4 2.4l.4 .5l.4-1.5l.4 1.4l.4 .4l.4-1.9l.4 0l.4 4.2l.4 1.5l.4-3.7l.4-1.6l.4-.3l.4 1.7l.4-3.6l.4 3.7l.4 2.1l.4-4.7l.4-3.6l.4 8.1l.4 1.5l.4-.5l.4-7.9l.4 4.2l.4 .3l.4 .7l.4-1.4l.4 .9l.4 2.5l.4-4.8l.4-2.4l.4 .6l.4 1.1l.4 4.7l.4-1.2l.4-3.1l.4 .1l.4 3.8l.4-2.4l.4 1.2l.4 .3l.4 2.2l.4-4l.4-.8l.4-1.6l.4 3.7l.4-2.1l.4 1.4l.4 3.2l.4-6.3l.4-2l.4 3.2l.4 4l.4 .2l.4-5.9l.4-.8l.4 .6l.4 1.4l.4 3.1l.4 2.3l.4-.8l.4 .1l.4-.7l.4-2.5l.4-3.9l.4 5.8l.4-5.1l.4 1l.4-2.1l.4 3.6l.4-4.6l.4 4.8l.4-1.4l.4 1.9l.4 4.3l.4 .1l.4-2.4l.4-1.7l.4 0l.4-10l.4 5.8l.4 2.3l.4 .1l.4 4.2l.4-3.6l.4-1.9l.4 .7l.4 2l.4-2.2l.4 1.7l.4-2.6l.4-.4l.4 2l.4-1.8l.4 2.3l.4 2.1l.4-1.5l.4-3.4l.4 4.9l.4 1.5l.4-2l.4-.1l.4-4.3l.4 2.4l.4 .6l.4 1.6l.4 1l.4-2.1l.4 .5l.4 2.4l.4-3.7l.4 2.3l.4 1.7l.4-4.6l.4 1l.4 1.1l.4-3.7l.4 5.3l.4-.3l.4-2.4l.4-5.4l.4 3.6l.4-.2l.4 1.9l.4 1.9l.4 4.4l.4-4.1l.4-1.9l.4-1.7l.4-.8l.4 5.2l.4-4.6l.4-2.8l.4 3.7l.4 1.9l.4-1.3l.4 3.6l.4-3.5l.4-.5l.4 1.7l.4-3.3l.4 1.7l.4-.1l.4 2.8l.4-2.9l.4 2l.4-2l.4-.8l.4-.4l.4 5.2l.4-1.3l.4 .9l.4-3.6l.4 1.5l.4-2.8l.4 2.4l.4-3.2l.4 3.1l.4 .9l.4 .3l.4 1.8l.4-3l.4-.3l.4-1.5l.4 3.1l.4-1.9l.4 2.3l.4-4.3l.4 1.2l.4 0l.4 2.1l.4-5.7l.4 3.3l.4-1.1l.4-1l.4 1l.4 3.3l.4-2.5l.4 1l.4 3.2l.4 .9l.4-4.1l.4 1.3l.4-3.2l.4 4.7l.4-3.1l.4 2.8l.4-.9l.4 .3l.4-.7l.4 2.4l.4-1.3l.4-2.4l.4-2l.4 1.1l.4-.4l.4 .6l.4-1.1l.4-.1l.4 1.5l.4-3.3l.4 3l.4 1.4l.4 1.5l.4-1.1l.4 2.7l.4-3.2l.4-1.2l.4-2.2l.4 1l.4 3.1l.4-.9l.4-3.2l.4 2.6l.4 .4l.4-3.9l.4 4.8l.4 1.1l.4-1.2l.4-.5l.4-3.4l.4 3.9l.4-2l.4 2.7l.4 .4l.4 0l.4 .9l.4-2.6l.4 .3l.4 .8l.4-3.7l.4 5.8l.4-1.5l.4 .7l.4-3.4l.4 .7l.4-2.8l.4 6.6l.4 .8l.4-4.4l.4 1.3l.4 1l.4 2.2l.4-3.5l.4 2.8l.4-3.2l.4 .8l.4-1.7l.4 5.3l.4-1.5l.4-2l.4 1.5l.4-2.3l.4 .3l.4 2.3l.4-2.6l.4-.2l.4 1.2l.4-2l.4-2.5l.4-.1l.4-2.6l.4 3.8l.4 6.8l.4-4.4l.4 .8l.4-2.5l.4-.2l.4 1.6l.4 4.5l.4-5.6l.4 2.8l.4-.7l.4 5.4l.4-7.1l.4 4.2l.4-4l.4 1l.4 2.1l.4-3l.4 .6l.4-1.6l.4-1.5l.4 2.8l.4 2.1l.4 6l.4-1.4l.4-5.7l.4-2.7l.4 0l.4 3.6l.4-3.1l.4-.1l.4 .8l.4 .6l.4 1.4l.4 1l.4-6.6l.4 5.1l.4 1.5l.4-2.1l.4-4.6l.4 4.8l.4 2.5l.4-.5l.4 .2l.4-5l.4-.9l.4 1.3l.4 3.3l.4-3.9l.4 2.8l.4-4.8l.4 .9l.4 2l.4 5.3l.4-2.4l.4-1.4l.4 .3l.4 1.2l.4-2.5l.4-.6l.4-.5l.4-2.1l.4 4.1l.4 .2l.4-1.2l.4 .6l.4-2.1l.4-.7l.4 5.3l.4-1.7l.4-.2l.4 3.4l.4-.8l.4-4.2l.4 0l.4 6.1l.4-2.1l.4-3.5l.4-1.6l.4 1.8l.4-2.3l.4 2.6l.4-2.9l.4 1.9l.4 .1l.4-1.4l.4-1.5l.4 3.1l.4-1.2l.4 3.9l.4-5.1l.4-1.4l.4 2.5l.4 3.5l.4-7l.4-.5l.4-1.5l.4 5.7l.4 1.7l.4-3.5l.4 3.8l.4-1.7l.4-2.9l.4 4.2l.4 3.5l.4-3.8l.4 .7l.4-3.8l.4-.4l.4 4.4l.4-2.2l.4-.4l.4 1.9l.4-2l.4 .2l.4-1.6l.4 1.5l.4 2.9l.4-1.7l.4-.2l.4 0l.4 .6l.4 .1l.4 1.5l.4-.6l.4-3.6l.4 5.7l.4-.5l.4 3.7l.4-3.6l.4-.6l.4 1.7l.4-2.5l.4-2.8l.4 3.2l.4-.8l.4 0l.4-1.7l.4 3.6l.4 .3l.4-1.4l.4-1.8l.4 0l.4 3.1l.4-3.1l.4-.9l.4-2.5l.4 3.9l.4-7.1l.4 6.5l.4-.5l.4 13.6l.4-10.3l.4-1.4l.4-2l.4 1.5l.4 3.2l.4-1.1l.4-1.9l.4 .2l.4-.9l.4 0l.4-.5l.4-2.5l.4 .7l.4 4.7l.4-3.6l.4 .2l.4 .3l.4-.7l.4-4.2l.4 2.3l.4 1.1l.4 1.6l.4-5.2l.4 3.9l.4-.9l.4 4.3l.4 .3l.4 2.3l.4-4.4l.4 2.2l.4-.8l.4 1.1l.4-5.6l.4 1.5l.4-2.5l.4 5.6l.4-.3l.4 1.1l.4-3.7l.4 1.5l.4-5.5l.4 4.4l.4-.2l.4 .5l.4-.6l.4 2.4l.4-3.7l.4 1.3l.4 1l.4 1.5l.4 .9l.4-3.6l.4 1.3l.4 1.4l.4 3l.4-4.2l.4 .7l.4-3.4l.4 3.8l.4 .2l.4-.6l.4-2.4l.4-.7l.4 2.3l.4 1l.4 6.8l.4-4.1l.4-1.3l.4-3.4l.4-2l.4 3.2l.4 1.5l.4-1.5l.4-.6l.4 1.1l.4 2.7l.4-2.6l.4 3l.4-1l.4-1.5l.4 2.9l.4 1.2l.4-2.7l.4 3.8l.4-4.3l.4-.4l.4 .1l.4 2.5l.4-2.6l.4-.6l.4 2.4l.4-1l.4 .4l.4-4.6l.4 2.4l.4-2.3l.4 .9l.4 1.9l.4-.3l.4-3.4l.4 5.9l.4-3.7l.4-1.6l.4 5.1l.4-2.1l.4-.9l.4 .8l.4 4.5l.4-1.6l.4-2.3l.4 2.2l.4-2.2l.4 .6l.4 2.3l.4-1.2l.4-1.9l.4 .3l.4 1.6l.4 .6l.4-.5l.4 .1l.4-4.2l.4 1.9l.4-.5l.4 1.4l.4 3.6l.4-.4l.4-3.7l.4-.6l.4 2.5l.4-1.7l.4-.1l.4 3.4l.4 .9l.4-5l.4 8.1l.4-5.1l.4-3.4l.4 1.5l.4-.6l.4 3.2l.4-1l.4-2.1l.4-1.9l.4 1.4l.4-1.7l.4 .6l.4 1.3l.4 1.7l.4 2l.4-2.6l.4 .1l.4 .9l.4-4.4l.4 2.9l.4 1.3l.4-2.1l.4-.6l.4 1.1l.4 .3l.4 2.2l.4 2.5l.4-3.4l.4-1.4l.4 1.1l.4 2.6l.4-7.6l.4 5.7l.4 .3l.4-4.5l.4 1.1l.4 1.7l.4 2.8l.4-2.7l.4-1.2l.4 4.1l.4-3.9l.4-.1l.4-1.4l.4 1.7l.4 .7l.4 3l.4-4.3l.3 1l.5 3.1l.4-2.5l.4 2.1l.4-.1l.3 2.4l.5-2.8l.4 .2l.4-5.6l.4 5.9l.3 2.5l.5-2.4l.4-3.1l.4 2.3l.4 2.6l.3-3.7l.5-.4l.4-1.3l.4 3.6l.4 2.6l.3-4.2l.5 .8l.4 .3l.4-1l.4 2l.3-1.7l.5 1.2l.4-1l.4 .8l.4 1.2l.3-3.8l.5 .6l.4 1.8l.4 0l.4-.7l.3 1.7l.5-3.2l.4 1l.4 .7l.4-.6l.3 2.4l.5 1.7l.4-1.1l.4-.7l.4-1.4l.3 3.5l.5-1.2l.4-2.1l.4-2l.4-2.5l.3 3.9l.5 3.2l.4 .1l.4-3.1l.4 .2l.3 1.9l.5-3.2l.4-2.7l.4-.8l.4 2.7l.3 1.7l.5-1.9l.4-1.3l.4 1.4l.4 3.1l.3-3.6l.5 .2l.4 1.9l.4-1.5l.4 2.6l.3-3.1l.5 2.9l.4 .6l.4-3.4l.4 2.4l.3-4.7l.5 1.1l.4 .9l.4 1.5l.4 .6l.3 2.6l.5 2.8l.4-5.5l.4 1l.4-.9l.3 1.5l.5-.5l.4-.8l.4 2.7l.4-2l.3-1.7l.5-1.4l.4 4l.4-5.6l.4 3l.3 3.7l.5-3.2l.4 2.3l.4-5.3l.4 3.6l.3-.5l.5-.8l.4-.7l.4 4.6l.4-3.5l.3-1.8l.5-.7l.4-.2l.4-2.8l.4 5.3l.3 5.4l.5-4.5l.4 1.5l.4 1.4l.4-1.3l.3-1.3l.5 2.9l.4-1.3l.4-1.2l.4 2.7l.3-1.3l.5-1.9l.4 2.4l.4 2.2l.4-1.7l.4-2l.4 5.1l.4-6.1l.4-3.1l.4 3.2l.4-2.8l.4-.4l.4 2.9l.4-1l.4 1.1l.4 .9l.4-2.2l.4 .8l.4 2.4l.4-3.6l.4 1.9l.4 1l.4-2.2l.4 3.5l.4-.8l.4-4.6l.4 2.3l.4 .9l.4 .2l.4 2.2l.4 1.9l.4-6l.4-4.1l.4 2l.4 2.9l.4-1.3l.4-2.5l.4 3l.4-1.7l.4 1.5l.4 .4l.4-1.4l.4 1l.4 1l.4-.1l.4-1.5l.4 1.1l.4-.6l.4 4.2l.4-1.8l.4 .8l.4-2.2l.4-6.2l.4 4.7l.4-2.4l.4 6.7l.4-2.5l.4 .5l.4-.2l.4-2.2l.4 2.9l.4 .8l.4-2.3l.4-2.4l.4 2.7l.4-1.4l.4 1.4l.4-4l.4 0l.4 3.2l.4 .3l.4-1.4l.4 1.3l.4-1.8l.4 .8l.4-3.5l.4 4.6l.4 2.4l.4-6.2l.4 .3l.4 2.1l.4 1.5l.4-2.5l.4 6l.4-.4l.4-1.6l.4-1.3l.4-1.6l.4 2.5l.4 .7l.4 .8l.4-3l.4-1.4l.4 3.1l.4 .5l.4-2l.4 1.5l.4-.1l.4-2.7l.4-1.8l.4 2l.4-4.1l.4 1l.4 2.1l.4 .4l.4 2.3l.4-.7l.4-.7l.4 2.8l.4 2.3l.4-5.6l.4-.3l.4 3.3l.4-1.9l.4-1.2l.4 3.2l.4-4.2l.4 4.8l.4-1.9l.4 3.5l.4-4.8l.4 1l.4-.8l.4-.8l.4-1.3l.4 4.3l.4-2.4l.3-.1l.5 2.1l.4 .8l.4-2.3l.4 4.1l.3-1.1l.5-2.9l.4 1l.4 .7l.4-1.3l.3 2.4l.5-6.1l.4 3.4l.4 4.9l.4 .6l.3 3.7l.5-1.5l.4-7.4l.4 2.6l.4 4.2l.3 3.8l.5-2l.4 2.6l.4-3.9l.4 2.7l.3 1.3l.5-.6l.4 .3l.4-3.3l.4 4.8l.3-.4l.5-2.3l.4 .7l.4 6.9l.4-7.6l.3-.8l.5 1.7l.4 .5l.4-1.2l.4 2.5l.3 2.5l.5 .2l.4-2.7l.4-4l.4-1.4l.3 .6l.5 .4l.4-.8l.4-5.3l.4 2.1l.3 2.5l.5-4.1l.4 1.7l.4-.2l.4-1l.3 3.7l.5-4.6l.4-.8l.4-1.5l.4 6.1l.3-8.7l.5-1.1l.4 2.8l.4 2.1l.4-2l.3 .2l.5-1.8l.4 2.2l.4 3.6l.4-3.8l.3 0l.5 2.2l.4 3l.4-2.3l.4-2l.3-2.5l.5 3.5l.4-3.8l.4 .7l.4 3.4l.3-1.8l.5-1.5l.4-.9l.4 .2l.4-1.6l.3 5.4l.5-4.4l.4 .6l.4 4.1l.4-1.7l.3 .2l.5 .6l.4 .4l.4-.4l.4-2.6l.3-1.9l.5-.3l.4-.4l.4 1.1l.4 2.7l.3 .8l.5 .2l.4-1l.4 .2l.4 1.7l.3-5.2l.5 .3l.4 1.8l.4 3.4l.4 0l.3-4.7l.5-1.3l.4 1.3l.4-.5l.4-.9l.3 5.1l.5-1.4l.4-1.7l.4 1.5l.4-5.1l.3 1.9l.5-2.7l.4 7.5l.4-6.6l.4 1.2l.3-3.8l.5 .3l.4 4.7l.4-.6l.4 3.9l.3-3.5l.5 .5l.4 1.3l.4 1.1l.4-2.1l.3 5.2l.5-6.9l.4 7.6l.4-2.5l.4-.8l.3-.2l.5 1.2l.4-.2l.4 3.6l.4-1l.3-1.3l.5-2l.4 5.3l.4-1.5l.4 2.7l.3-1.5l.5 .1l.4 3.4l.4-4.2l.4 .8l.3-1.6l.5-.9l.4 1l.4-2.2l.4 3.3l.3 .4l.5 0l.4-1.3l.4 .8l.4-2.8l.3 2.6l.5-4.2l.4-.5l.4 .5l.4 3.7l.3 1.1l.5-2l.4-1.2l.4 1.7l.4 1.8l.3-2.6l.5 1.2l.4-.5l.4-.6l.4-1.1l.3 3.8l.5 1.3l.4-2.1l.4 .6l.4 .5l.3-.8l.5-.9l.4 .5l.4-1l.4 4.3l.3-.4l.5-3l.4-1.2l.4 6.6l.4 .8l.3-.7l.5-3.9l.4-2.6l.4 4.3l.4 1.7l.3-1.4l.5-3.9l.4-.7l.4 5.7l.4-4.1l.3 5.8l.5-7.9l.4 2.4l.4 .7l.4 2.9l.3-4.7l.5 3.7l.4-2.1l.4 1.8l.4 .2l.3 3.2l.5 2.1l.4-5.5l.4-3l.4 1.9l.3 1.2l.5 3.1l.4-10.4l.4 4.9l.4 2.1l.3-2l.5 4.9l.4-5.3l.4 .5l.4 4.4l.3-2.9l.5 2.4l.4-4.2l.4 2.2l.4-.2l.3-.7l.5 .5l.4-4.5l.4 3l.4 2l.3-1.8l.5 4.6l.4-4.9l.4-1.6l.4-1.6" stroke="#11f" stroke-width="1.1" />
<path d="M668.9 236.7l.4 .3l.4-5l.4 4.8l.4-5.4l.4 10.8l.4-8.7l.4 1.2l.4 6.3l.4-10.7l.4 6.2l.4-4.9l.4 8l.4-4.4l.4-.1l.4 .1l.4 3.1l.4-1.1l.4 3.4l.4-8.8l.4 1.5l.4 1.2l.4-.8l.4 .6l.4 .9l.4 0l.4 5.6l.4-5.4l.4-8.5l.4 10.3l.4-3.7l.4-10l.4 10.2l.4 .7l.4-2.6l.4 2.6l.4-4l.4-2.8l.4 12l.4-4.7l.4-4.7l.4 2.9l.4 .3l.4 7.4l.4-7.7l.4-2.2l.4 2.1l.4 .6l.4 1l.4 1.5l.4-.2l.4-7l.4 6.2l.4-1.1l.4-4.3l.4 9.3l.4-4.2l.4-2.7l.4 .6l.4 .8l.4 3.7l.4-6.9l.4 3.5l.4 .1l.4-.4l.4-1.1l.4 3.3l.4-3.3l.4 1.1l.4-4.6l.4 5.5l.4-3.1l.4 9l.4-7.6l.4 1.7l.4 .6l.4 1l.4-2.7l.4 2l.4-1.6l.4 .3l.4-5.8l.4 4.3l.4 4.3l.4-3.8l.4 3.9l.4-2.3l.4 1.2l.4-1.7l.4-1.5l.4-1.7l.4 .2l.4 8.4l.4-5.9l.4-1.1l.4 2.9l.4-.5l.4-1.5l.4 14.9l.4-11.4l.4-4.7l.4 4.1l.4-3.1l.4 6.1l.4-1l.4-1.6l.4 1.6l.4-5.6l.4 7l.4-3.8l.4-2.4l.4-.1l.4 2.4l.4-.3l.4 1.8l.4-3.9l.4-1.6l.4 4.6l.4-1.9l.4 2.7l.4-2.2l.4-3.1l.4 3.4l.4-4.9l.4 7.4l.4-5.7l.4 1l.4-2.6l.4 4.7l.4 4.8l.4-4.1l.4 .1l.4-6l.4 5l.4-2.1l.4 5.7l.4-4.9l.4-1.5l.4-11.7l.4 12.5l.4 1.5l.4-1l.4-.3l.4-1.2l.4-2.5l.4-.8l.4 4.2l.4 .2l.4-3.1l.4 4l.4-1.6l.4 4.4l.4-1.9l.4-2.1l.4-1.4l.4 7.6l.4-5.3l.4 4.7l.4-2.6l.4-.7l.4 3.1l.4-3.6l.4-.1l.4 5l.4-2.6l.4-2.7l.4 2.2l.4 .5l.4-6.3l.4 5.4l.4 .7l.4-9.3l.4 5.3l.4-.2l.4-1.3l.4-3.1l.4 7.2l.4-1.1l.4 2.8l.4-5l.4 1.8l.4 2.4l.4-1.2l.4-2.3l.4-.8l.4 1.8l.4 .9l.4-2.2l.4 2.6l.4-.8l.4 .6l.4-.2l.4-.1l.4 1.1l.4 1.3l.4 .6l.4-2.2l.4-2l.4-.9l.4 .7l.4 2.6l.4 .5l.4-.2l.4-4.8l.4 5l.4-.6l.4-3.2l.4 2.5l.4 2l.4-2.3l.4-.2l.4-.7l.4 2.1l.4-1.3l.4 3.5l.4-5.5l.4-1.8l.4 3.1l.4-2.1l.4 3.7l.4 .5l.4 1.1l.4-5.6l.4 4.1l.4-.1l.4 1.1l.4 .3l.4-3.2l.4 4.3l.4-.9l.4-2.9l.4-3l.4-.2l.4 3.1l.4 .9l.4 1.2l.4-2.9l.4 .5l.4-3.3l.4 .9l.4 3.3l.4-.3l.4 1.4l.4 2l.4-.3l.4-5.6l.4 2.9l.4-2.5l.4-3.2l.4 6.7l.4-5l.4 3.9l.4-3.1l.4 3.6l.4-2.5l.4 1.2l.4 2.6l.4 3.1l.4-2.7l.4 .2l.4-1.3l.4-4.8l.4 8.5l.4-4.3l.4-2.1l.4 4.2l.4-2.6l.4-.2l.4-1.4l.4-1.3l.4 2.9l.4-3l.4 .8l.4-.6l.4 0l.4 1.2l.4-2.7l.4 1.4l.4 5.3l.4-2.7l.4-6.1l.4 1.9l.4 1.5l.4 4.5l.4-2.4l.4 3.9l.4-7.4l.4 4.6l.4 .7l.4-4l.4 4.6l.4-4.3l.4 2.2l.4 .4l.4 3l.4-2.9l.4 2l.4 .3l.4 .7l.4-5.2l.4 4.4l.4-6.3l.4-.9l.4 5l.4-1.8l.4-.4l.4 1l.4-1.9l.4 2.1l.4-.4l.4 2.5l.4-.7l.4-3.6l.4 1.6l.4 3.5l.4 2.9l.4-5.7l.4-3.7l.4 6.4l.4-2.2l.4 3.1l.4-7.3l.4 3.1l.4 1.4l.4 .9l.4-5l.4 4.5l.4 .1l.4 .2l.4 1.1l.4 1.7l.4-8.3l.4 5.2l.4-7.9l.4 8.9l.4 .7l.4-1.6l.4-5.2l.4 2.4l.4 3.2l.4-1.1l.4 4.8l.4-6.1l.4 3l.4-5.3l.4 1.8l.4 6.6l.4-5.7l.4 5.4l.4-2.6l.4-3.3l.4 8.8l.4-4.2l.4-1.7l.4 4.6l.4 .3l.4-1.7l.4-4l.4-2l.4 5.2l.4 .6l.4-4.1l.4 5l.4-.9l.4-2.1l.4-1.9l.4-.6l.4 4.1l.4-1.5l.4 4.2l.4-3.7l.4-3.9l.4 6.7l.4-.6l.4-3.8l.4-4l.4 3.1l.4-1.4l.4 2.5l.4-1l.4 .4l.4-2.8l.4 1.4l.4 3.8l.4-.1l.4-1.9l.4-.2l.4 .2l.4-3.3l.4 2.6l.4 2.1l.4-3.4l.4-.4l.4 .4l.4 .6l.4 1l.4 4.9l.4-3.5l.4-2.4l.4 .8l.4 2.3l.4-2.9l.4-1l.4 3.6l.4-4.9l.4-1.7l.4 3.6l.4-1.2l.4 1l.4-1.6l.4 3.4l.4 2.8l.4-5.2l.4 5.4l.4-5.7l.4 2.8l.4-6.8l.4 2.8l.4 3l.4-.8l.4 1.8l.4-4.4l.4-1.2l.4 .1l.4-1.6l.4 1l.4 3.1l.4-3l.4 5.3l.4-.7l.4-4.4l.4 3.3l.4-2.2l.4 9.3l.4-6.2l.4 3.7l.4 1l.4-.3l.4-5.1l.4-.7l.4 4.6l.4-4.1l.4-1.7l.4-6.7l.4 4.9l.4 7.7l.4-7.6l.4 .3l.4-.2l.4 2.1l.4 2.6l.4 1.2l.4 .6l.4-.4l.4-.7l.4-5.6l.4 8.9l.4-9.6l.4 7.6l.4-.9l.4-2l.4 .2l.4 2.3l.4-3.4l.4 4.3l.4 2.5l.4-3.1l.4-4.8l.4-.1l.4 1.4l.4 .7l.4 2.2l.4-3.2l.4 4l.4-5.2l.4 1.8l.4 2.4l.4-5.7l.4 5.3l.4-.5l.4 .8l.4 3l.4-2.7l.4-3.8l.4 3.4l.4-4.8l.4 1.8l.4 2.1l.4 1.7l.4-1.7l.4 .3l.4 1.2l.4-1.1l.4 1.9l.4-3.8l.4-4l.4 5.2l.4-.8l.4-2.2l.4 2.6l.4-.1l.4-1.8l.4 3.5l.4-2.2l.4-1.6l.4 2.5l.4-1.8l.4-1.4l.4-1.5l.4 1.2l.4 5.7l.4 .2l.4-1.9l.4-1l.4-4.1l.4 4.5l.4 .2l.4 .7l.4-2l.4 1.8l.4 .5l.4-.3l.4 1.7l.4-7.1l.4 2.8l.4 9.9l.4-7.4l.4 .2l.4-5l.4 3.5l.4-2.8l.4-2.6l.4 3.2l.4 5.3l.4-3.8l.4-1.2l.4 2l.4-.4l.4-.7l.4-.8l.4-.4l.4 .2l.4 4.8l.4-1.4l.4 3.9l.4-6.9l.4 2.7l.4-2l.4 5.1l.4-.4l.4-4.5l.4 .5l.4 .1l.4 2.8l.4 2.5l.4-.9l.4-6.7l.4 7.8l.4-1l.4-3.5l.4-6.2l.4 4.6l.4 3.1l.4-1.8l.4 .9l.4-5l.4 .2l.4 .6l.4-2.4l.4 4.6l.4 5.8l.4-3.5l.4 1.1l.4-1.1l.4-.9l.4-.5l.4 4.2l.4-3.1l.4-1.5l.4-1.6l.4-.4l.4 .8l.4 3.4l.4-3.9l.4 1.3l.4 .7l.4-1.1l.4 1.4l.4-1.9l.4 3.3l.4-3.3l.4-.8l.4-1.9l.4 6.8l.4-2.3l.4 1.1l.4-6.6l.4 4.2l.4 1.1l.4-2l.4-1.3l.4 2.1l.4-4.3l.4 4.2l.4-2l.4 2.6l.4-4.4l.4 3.1l.4 1.1l.4-4l.4 3.5l.4-2.6l.4 .5l.4-.4l.4 3.3l.4 0l.4-1.1l.4 3.6l.4-10.1l.4 6.7l.4 .3l.4-.8l.4 .6l.4-1.8l.4 2.3l.4-2.2l.4-3.8l.4 4.5l.4 3.7l.4-6.4l.4 3l.4 4.2l.4-1l.4-4.4l.4-1.8l.4-2.2l.4 4.8l.4-3.4l.4-7.9l.4 11.3l.4 .3l.4-5.6l.4 10l.3-2.9l.5-5.5l.4 8.7l.4-5.3l.4-.9l.3 2.3l.5-5l.4 3.3l.4 3.2l.4-.5l.3 .8l.5-6.4l.4-.9l.4 1.2l.4 .4l.3 2.6l.5 3.2l.4-7l.4 .5l.4 .9l.3-.1l.5 1.7l.4-1.2l.4-4l.4 5.6l.3 2.7l.5-4.8l.4 .5l.4 1.7l.4-2.6l.3 1.3l.5 4.5l.4-5.8l.4 0l.4 1l.3 1.7l.5-4.4l.4-3.6l.4 7.4l.4-5.8l.3 6.9l.5-1.4l.4-1.7l.4-.6l.4-2.5l.3 1.8l.5-.8l.4 .7l.4 3.9l.4-5.8l.3 7.1l.5-5.5l.4-1.8l.4-.3l.4 2.1l.3-2.1l.5-3.3l.4 5.2l.4 1.6l.4 .2l.3-1.6l.5 4l.4-4.4l.4-.8l.4-3.3l.3-.6l.5 9.3l.4-2.3l.4 3.4l.4-.3l.3 2l.5-3.5l.4-1.5l.4 2.2l.4 2.1l.3-4.3l.5 6l.4-3.3l.4 2.7l.4 2.9l.3-.1l.5-2.9l.4 1l.4-1.3l.4-1.9l.3 5l.5-.6l.4-.3l.4-4.6l.4-3.4l.3 3.9l.5 5.8l.4-3.7l.4 2.5l.4-4.4l.3 4.7l.5-2.3l.4-2.9l.4 4.7l.4-2l.3 2.2l.5 .2l.4-1.5l.4-1.7l.4 .7l.3 .7l.5 .3l.4-2l.4 2.5l.4-.4l.3-.8l.5-2.6l.4 2.4l.4-.5l.4 2.9l.3 2.9l.5-6.7l.4 2l.4-3.3l.4 .4l.3-.5l.5 2.7l.4-1.9l.4 4l.4-3.9l.4 1.3l.4 .3l.4 3.4l.4-.1l.4 1.1l.4-.7l.4-1.5l.4-5.2l.4-1.4l.4 9.6l.4-7.8l.4 6.5l.4-1.2l.4 2.2l.4-1.5l.4 2.6l.4-7l.4-1.2l.4-.6l.4 4.5l.4-.7l.4 2.1l.4-5l.4 3.4l.4-8.8l.4 10l.4-.8l.4-2.3l.4 3.1l.4-5.6l.4 2.1l.4 1.5l.4 3l.4-5.1l.4 1.2l.4 3.6l.4-2.6l.4-5.4l.4 5.1l.4 .4l.4 3.2l.4-3l.4-3.1l.4 1.3l.4 1.4l.4-.2l.4 1.6l.4-.5l.4 1.6l.4-5.9l.4 2.3l.4-1.5l.4 2.5l.4 2.2l.4 5.6l.4-2.5l.4-2.5l.4-5.2l.4 7.3l.4-2.7l.4 .9l.4-3.3l.4 1l.4-1.2l.4 6.8l.4-4.5l.4-5.6l.4 .9l.4-.2l.4 1l.4-1.1l.4 2.7l.4-.7l.4 1.8l.4 1l.4-1.7l.4 2.6l.4-5.5l.4 5.8l.4 3.1l.4-6.1l.4 2.3l.4-3.7l.4 4.6l.4-2.8l.4-.9l.4 .1l.4 1.4l.4 1.2l.4-2.3l.4 1.7l.4-1.7l.4-2l.4-3.5l.4 12l.4-7.1l.4 1.2l.4-1.7l.4 2.9l.4-2.8l.4 6.8l.4-2.9l.4-7.8l.4 6.5l.4-.1l.4-2.8l.4 4.2l.4-3.7l.4-1.5l.4 1.7l.4-2l.4-.7l.4 7.1l.4-4.2l.4 1.6l.4 .2l.4-.4l.4-3.3l.4 6.3l.4-6.9l.4 4.1l.4 2.9l.3-2.4l.5-4.5l.4 2.4l.4 2.6l.4-3.5l.3 3.8l.5-4.2l.4 .7l.4-2.9l.4 1.5l.3 3.8l.5 2.5l.4 .4l.4-7.2l.4-.7l.3 7.9l.5-.7l.4-7.1l.4 3.5l.4-5.3l.3 11l.5-6.3l.4 .8l.4-4.2l.4 7.8l.3-3.2l.5-4.1l.4 .9l.4 7l.4-2l.3 1l.5-4.9l.4-.8l.4 4.8l.4 .4l.3-2.9l.5-.5l.4 2.9l.4-4.8l.4 .9l.3-1l.5-4.1l.4 1.1l.4 5.5l.4-1.1l.3-.4l.5 4.6l.4-1.9l.4 3.7l.4 .6l.3-4.9l.5-1.9l.4-.4l.4 2l.4 2.6l.3-6.1l.5 4.2l.4-4.3l.4 .3l.4 5.5l.3-3.2l.5 1.8l.4-1.5l.4 5.3l.4-.7l.3-6.8l.5 3.4l.4 0l.4-3.2l.4 6.1l.3-2.6l.5 2.5l.4 2.1l.4-2.3l.4 12.2l.3-16l.5 .1l.4-2.3l.4 2.5l.4 2.1l.3-3.5l.5 5l.4-.7l.4-3.9l.4 2.7l.3 1l.5-3.7l.4 4.9l.4-5l.4 1.6l.3-.3l.5 7l.4-2.7l.4-2.6l.4-2.3l.3-.5l.5 .1l.4 4.1l.4-1.7l.4-4.3l.3 3.6l.5-3.3l.4 1.9l.4 4.4l.4-3.8l.3-8.2l.5 10l.4-6.5l.4 4.3l.4 0l.3-1.7l.5 1l.4 7.4l.4-10.9l.4 2.7l.3 4l.5-1.2l.4 .5l.4-.8l.4 3.6l.3-6.1l.5-.3l.4 5.2l.4-1.6l.4 3.1l.3 .4l.5-4.8l.4 .3l.4 1.3l.4-2.4l.3 2.4l.5-2.7l.4 2.9l.4 2.4l.4-.6l.3-.7l.5-6.2l.4 2.4l.4 2.3l.4 3.1l.3-4.1l.5 4.8l.4-6.2l.4 2.8l.4 .1l.3 11.1l.5-19.1l.4 7.9l.4-1.1l.4-3.3l.3 9.1l.5-6.5l.4-.1l.4-1.6l.4 1l.3 1.9l.5 1.6l.4-5.1l.4 2.8l.4 3l.3-2.6l.5 1.9l.4-8.2l.4 8l.4-1.5l.3 2.8l.5-1.4l.4 3.4l.4-5.1l.4 1.2l.3 .1l.5 .8l.4-.7l.4-2.6l.4-2.7l.3-.6l.5 1.4l.4 7.2l.4-3.7l.4 2.4l.3-.8l.5 2.5l.4-.8l.4-9.5l.4 6.7l.3-3l.5-3l.4 7.1l.4-4.6l.4-1.8l.3 2.2l.5 .1l.4 2l.4-1.7l.4 3.1l.3-5.6l.5 6.2l.4-4.1l.4-.5l.4 2.4l.3 .4l.5 .5l.4-.5l.4-2.5l.4-2l.3 2.4l.5-2.7l.4 4.2l.4-3.1l.4 3.1l.3-2.9l.5-3.1l.4 2.3l.4 2.2l.4-3.7l.3 3.8l.5 3l.4-.8l.4 2.1l.4 .9l.3-.9l.5-.8l.4-5.5l.4 4.8l.4-1l.3-1.6l.5 1.8l.4-3.8l.4 3.4l.4 1.4l.3-6.4l.5 4.5l.4-6.3l.4 4.7l.4-2.2l.3 4.5l.5 .7l.4-.2l.4-3.2l.4 2.9l.3-4.1l.5-2.5l.4 2.9l.4-1.4l.4 7.4" stroke="#1e1" stroke-width="1.1" />
<path d="M668.9 232.5l.4-4l.4-.7l.4 6.9l.4-8.6l.4-.8l.4 1.2l.4-3l.4 5.1l.4 1.4l.4-3l.4 4.3l.4-9.5l.4 9.4l.4-6.1l.4-6.9l.4 13.7l.4-11.4l.4 6.6l.4 5.5l.4-3.2l.4-3.7l.4-10.6l.4 11.1l.4 4.6l.4-.6l.4-5.4l.4 2.1l.4 3.1l.4-7.9l.4 .9l.4-3.5l.4 4.1l.4 .5l.4 7.7l.4-7.1l.4 5.3l.4-2l.4-4.1l.4-1l.4 7.6l.4-8.3l.4 1.6l.4 6.6l.4-6.5l.4 1.1l.4 .1l.4-.4l.4-.4l.4 17.1l.4-16.7l.4 2.7l.4-4.7l.4 5.6l.4-1.6l.4 1.1l.4-8.4l.4 8.7l.4-5.9l.4 13.3l.4-1.3l.4-3.5l.4 .3l.4-4.3l.4 5.3l.4 .1l.4 1.6l.4-11.6l.4 2.3l.4 4.2l.4-1.2l.4 .4l.4 4.5l.4-15.4l.4 10.4l.4-2.5l.4-7.8l.4 23l.4-5.9l.4-3.2l.4 .4l.4-2.6l.4 2.1l.4-9l.4 15.4l.4-5.5l.4 1.5l.4-4.2l.4-2.1l.4-.7l.4 10.4l.4-12.3l.4-7.7l.4 9.9l.4 3.8l.4-5.9l.4 7.5l.4-2.6l.4-1.2l.4-3.1l.4 3.7l.4-9.9l.4 5.7l.4-5.8l.4 8.5l.4-1.6l.4 0l.4-1.6l.4 .6l.4-6.5l.4 .6l.4 3l.4 3.9l.4 4.1l.4-11.5l.4 2.2l.4 5.2l.4-7l.4 5.8l.4 7.4l.4-9.3l.4 6.4l.4 1l.4-6.7l.4-5.6l.4-1.7l.4 9.8l.4 1.4l.4 .8l.4-3.9l.4 3.7l.4 5.3l.4-12.9l.4-1l.4 7.2l.4-9.2l.4 4.6l.4 7.1l.4-11l.4 4.5l.4 7.8l.4-.1l.4-2.7l.4 5.2l.4-4l.4-9.8l.4 18.7l.4-5.7l.4 2.4l.4-1.8l.4 11.8l.4-23.6l.4 15.8l.4 4.8l.4 6.3l.4-8.8l.4-2.8l.4-5.4l.4-3.9l.4 18.9l.4-9.1l.4-1.3l.4 2.4l.4 1.2l.4 2.8l.4-.2l.4-1.3l.4-6.5l.4 13.9l.4-13.8l.4 11.5l.4 4.3l.4-11.4l.4-3.9l.4 11.6l.4-16.9l.4 12.1l.4-15.5l.4 10.5l.4 3.5l.4-1.6l.4-1.5l.4 15.3l.4-8l.4-10.3l.4-4.8l.4 12.4l.4-.6l.4 5.9l.4-1l.4-2.7l.4-3l.4 4.7l.4 3.3l.4-3.7l.4-8.4l.4 2.7l.4 1.8l.4-3l.4 9.9l.4-15.3l.4 8.7l.4-5.7l.4-.1l.4-5.4l.4 .6l.4 .2l.4 1.8l.4-5.5l.4-2.1l.4-3l.4 14.2l.4-21.4l.4 9.9l.4-12.2l.4 5.6l.4 8.8l.4 .3l.4-5.5l.4-2.6l.4 6.7l.4-2.3l.4 1.5l.4-7.3l.4 .3l.4 2.5l.4 4.3l.4 3.1l.4-4.9l.4-12.4l.4 12.7l.4 3.1l.4-6.9l.4 4.5l.4-5.9l.4 2.5l.4 7.8l.4-8l.4-4l.4-.7l.4 2.3l.4-.7l.4 12l.4-4.6l.4 3.8l.4-5.3l.4-4.6l.4 5.9l.4-7.5l.4 1.8l.4 8.3l.4-13.6l.4 4.4l.4-3.6l.4 6.4l.4 5.8l.4-11.2l.4 9l.4-1.4l.4-8.3l.4 16.4l.4-1.2l.4-6.1l.4-.8l.4 11.8l.4-15.6l.4 6.4l.4 2.6l.4-6.7l.4 1.8l.4 4.2l.4-1.8l.4-3.3l.4 6.4l.4-1.5l.4 8.6l.4-5.8l.4-.2l.4-4.9l.4 5.9l.4-6.6l.4 1l.4-3.7l.4 3l.4 3.3l.4-3.9l.4 3.1l.4 4.6l.4-6.4l.4-3.3l.4 7.8l.4 2l.4-12.2l.4 4l.4 7.3l.4-14.9l.4 7.4l.4 2.9l.4 1.1l.4-3.6l.4 8l.4 1.9l.4 1.6l.4-.7l.4-3.8l.4-.7l.4-3.5l.4 .4l.4-8.5l.4 8.3l.4 3.7l.4-22.5l.4 17l.4 3.1l.4-.9l.4 4.5l.4-3.3l.4 2.8l.4-7.7l.4-.3l.4-.2l.4 4.1l.4-5.4l.4 6.9l.4-1.4l.4-6.1l.4-1.9l.4 1.2l.4 7.9l.4 10.9l.4-26.1l.4 4.6l.4 15.1l.4-4.2l.4-7.2l.4 11.6l.4-7.9l.4-7.5l.4 2.1l.4 3l.4-.9l.4 18l.4-9l.4-1.9l.4-6.3l.4-2.9l.4 13.3l.4 .1l.4-3.3l.4 .3l.4-7.1l.4-5.6l.4 4.1l.4 5.7l.4 .2l.4 6l.4 2.3l.4-5.3l.4-.1l.4-9.1l.4-7.6l.4 3l.4-7.1l.4 14.9l.4-14.4l.4-10.8l.4 3.7l.4-2.6l.4 4.6l.4 6.9l.4-9.9l.4 4.3l.4 14.7l.4-15.4l.4 3.2l.4 9.7l.4-7.6l.4 7.6l.4 8.6l.4 1.3l.4-9.3l.4 2.2l.4-18.9l.4 28.5l.4-11.8l.4 14.5l.4 4l.4-3.8l.4-34.2l.4 4.2l.4 15.4l.4 24.3l.4 .2l.4-31.3l.4 3.5l.4-1.4l.4 11.1l.4-10.9l.4 13.4l.4-4.9l.4 2.7l.4-6.6l.4-5l.4-1.2l.4 7.8l.4-8.8l.4 20.1l.4-1.4l.4-1.2l.4 7.6l.4-10.2l.4-9.1l.4-.3l.4 5.4l.4 10.1l.4-.3l.4 4.8l.4-12.6l.4 3.1l.4 2.9l.4-14.2l.4 14.7l.4-4.4l.4 1.4l.4 2.2l.4 3l.4-9.6l.4-3.8l.4 5.2l.4-4.8l.4 8.3l.4 1l.4 .5l.4-7.2l.4 1.3l.4 .8l.4-.8l.4 3.4l.4-.8l.4-9.4l.4 27.9l.4-20.8l.4-6.3l.4 8.5l.4-6.5l.4 10.2l.4-6.3l.4 13.1l.4-17.3l.4 5.7l.4-4.8l.4 6.4l.4 4.6l.4-4l.4 2.3l.4-6.7l.4-1.2l.4-6.8l.4 3.2l.4 2.3l.4 1.4l.4-6.1l.4 7.3l.4-5.4l.4 7.3l.4-15.5l.4 13.4l.4-7l.4 4.1l.4-1.8l.4 1.9l.4 10.3l.4-19l.4 11.8l.4-10.4l.4 1.1l.4 8.4l.4-5.2l.4-16.6l.4 15.1l.4-4.9l.4 8.9l.4-.9l.4 .8l.4 1.3l.4-6.6l.4-4.7l.4 15.2l.4 4.1l.4-14.1l.4 8.4l.4-12.4l.4 7.4l.4-1.8l.4-1.3l.4-.3l.4 12.6l.4-5.9l.4 1.3l.4 2.6l.4 16.8l.4-16.5l.4-.2l.4-8l.4-2.7l.4 16.3l.4-5.2l.4 7.2l.4 .4l.4-16.6l.4 17.5l.4-12.9l.4 10l.4-16.5l.4 14.4l.4-6.7l.4 .2l.4 .9l.4-1.9l.4-8.5l.4 9l.4-2.5l.4-2l.4 9.1l.4-2.9l.4 6.2l.4-5.2l.4-3.5l.4-3.5l.4 6.5l.4-7.5l.4 21.2l.4-15.8l.4 1l.4-2.1l.4 11.7l.4-7l.4-.9l.4 2l.4-2.4l.4-1.4l.4 .2l.4 3.7l.4-8.1l.4 4.6l.4-7.4l.4 .2l.4 12.5l.4-2.3l.4 5.2l.4-11.1l.4 5.3l.4-6.9l.4 3.6l.4-4l.4-.2l.4 13.8l.4-15.7l.4 3.7l.4 4.8l.4-1.7l.4-4.4l.4-.9l.4-10.4l.4 22l.4-11.5l.4-2.1l.4 11l.4-.5l.4-5l.4 2.3l.4-5.6l.4 6.7l.4 .7l.4 4.9l.4-15.8l.4 15.2l.4-9.8l.4 4l.4-16.4l.4 13.1l.4-2l.4 2.6l.4 4.9l.4-.2l.4-.3l.4 10.9l.4-5.9l.4-1.4l.4-.7l.4 7.7l.4-6.7l.4 3.5l.4-7.3l.4-4.3l.4 5.6l.4 7.2l.4 1.3l.4-2.2l.4-4.8l.4-1.2l.4 11.3l.4-4.3l.4-6.8l.4 .3l.4-5.3l.4 15.9l.4-19.1l.4 8l.4-3.2l.4 10.5l.4-12.5l.4 10.1l.4-8.3l.4-7.7l.4 9.6l.4-4.2l.4 3.1l.4-8.1l.4 2.3l.4 7.9l.4-3.1l.4-.2l.4 .6l.4 18l.4-16.3l.4 .3l.4-5.5l.4 6.8l.4 3l.4-12.1l.4 14.7l.4-8.8l.4-14l.4 14.7l.4 6.4l.4 4.6l.4-17.5l.4 3.5l.4 14.1l.4-12.8l.4-2.8l.4 7.3l.3-6.8l.5 3l.4 10l.4-11.9l.4-4.1l.3 3.1l.5 6.8l.4-9.9l.4 13.5l.4-5.3l.3-7l.5 7.1l.4 .1l.4-4.7l.4-1.2l.3 0l.5 8l.4-7.5l.4-.7l.4 0l.3-4.3l.5 7.9l.4 9.3l.4-17.5l.4 20.8l.3-7.3l.5 2.8l.4 .1l.4 16.2l.4-5.9l.3-2.5l.5-.3l.4 8.3l.4 .6l.4-6.8l.3 5.8l.5-9.9l.4-3.7l.4 7.5l.4 3.7l.3-3l.5 5l.4-7.8l.4-2.5l.4 3.8l.3-1.7l.5 4.7l.4-6.5l.4-1l.4 1.4l.3 .6l.5-5.5l.4-4.9l.4 1.8l.4 7.5l.3 .4l.5-10.7l.4 .6l.4 3.6l.4-11.7l.3 6.9l.5-7.9l.4-1.7l.4 7l.4 2.6l.3-19l.5 14l.4 .6l.4-3.5l.4-3.3l.3-5l.5 2.8l.4-1.5l.4 13.5l.4-2.5l.3-2.4l.5 1.2l.4 .4l.4 3.7l.4-14.8l.3 18.9l.5-19l.4 15.3l.4-9.4l.4 22.2l.3-6.1l.5-14.6l.4-1.6l.4 12.5l.4 1l.3 .3l.5 1l.4 4.4l.4 .9l.4-3.8l.3-5.5l.5 13.3l.4-1.2l.4-7l.4-7.2l.3 6.5l.5-1.4l.4-1.6l.4-1.4l.4 11.6l.3-21l.5 10.4l.4-.6l.4-9.6l.4-5.3l.3 12.8l.5 2.3l.4-2.8l.4 1.7l.4-2.6l.3-6l.5 10.5l.4-4.9l.4-3.2l.4 4.3l.3-1.5l.5 1.2l.4-4.5l.4 9.9l.4-2l.4 7.7l.4-5.8l.4-1.7l.4-1.5l.4-2.6l.4 4.8l.4-3.3l.4 7.5l.4 2l.4-12l.4-4l.4 9.1l.4-12.2l.4 9.5l.4-.8l.4 4.5l.4-12.1l.4 8.1l.4-.2l.4 .8l.4-3.8l.4 2.6l.4-3.6l.4 6.1l.4-8l.4 26.8l.4-29.1l.4-1.3l.4 3.9l.4 1.3l.4-.8l.4-5.2l.4 13.8l.4-10.5l.4 8.5l.4 8.8l.4-11.7l.4-2l.4-2.5l.4-1.1l.4 8.9l.4 3.2l.4-1.3l.4-11.9l.4 2.3l.4-3.4l.4-4.9l.4 10.1l.4 4l.4-10.1l.4 10.4l.4-6.7l.4-1.4l.4 15.1l.4-15.2l.4-12.1l.4 22.2l.4 3.5l.4-10.3l.4 4l.4 4l.4-11l.4-3l.4 11.5l.4-.4l.4 2.6l.4 5.7l.4 3l.4-21.9l.4 10.5l.4 11.3l.4 25.5l.4-27.1l.4-5.7l.4-6.8l.4 6.7l.4 .4l.4 1.2l.4 .9l.4-10.6l.4 6l.4 2.3l.4-2l.4-5.5l.4 5.5l.4 2.2l.4-10.9l.4 0l.4 5.4l.4-11.9l.4 14.1l.4 7.3l.4-9.5l.4 14.6l.4-3.5l.4-3.2l.4-3.6l.4 9.2l.4-5l.4-3.1l.4 7.4l.4-9.4l.4 6.3l.4-11.6l.4 4l.4 4.1l.4 7.7l.4-12.5l.4 5.9l.4 .9l.4-5.2l.4 1.6l.4 7.4l.4-5.3l.4-11.8l.4 7.3l.4 .9l.4 .7l.4-4l.4 1.9l.4-11.6l.4 5.5l.3 4.4l.5 6.5l.4 .1l.4-7.5l.4-4.9l.3 1.3l.5 12.3l.4-9.2l.4-6.1l.4 5.3l.3 6.5l.5-8.4l.4 3.5l.4-4.4l.4 3.9l.3 2.9l.5 3.1l.4-13.4l.4-.6l.4 1.2l.3 12l.5 13l.4 3.2l.4 12.9l.4-19.8l.3-3.6l.5 .4l.4-20.6l.4 22.9l.4-1.4l.3 3.2l.5-6.7l.4-7.6l.4-8.2l.4 4.2l.3 9.2l.5-16.3l.4 3.6l.4 22l.4-11.4l.3-6.5l.5 8.4l.4 9.2l.4-21.6l.4 7.5l.3 20.3l.5-16.6l.4-12.1l.4-2.2l.4 9.5l.3 8l.5-7.9l.4 14.3l.4-18.1l.4 19.7l.3-9l.5-4.2l.4 .8l.4-4.3l.4-2l.3 11.3l.5-3.4l.4-11.5l.4 12.6l.4-12.7l.3 5.5l.5 5.8l.4-17.1l.4 7.8l.4 14.3l.3-20.6l.5 5.1l.4 6l.4 .8l.4 1.8l.3-.2l.5-.9l.4 8.1l.4-3.7l.4-6.3l.3-.6l.5-.7l.4 3l.4-19.8l.4 24.2l.3-3l.5-1.7l.4 .8l.4-6.7l.4 6.4l.3 2.6l.5 6.5l.4 1.4l.4-5.4l.4-24.9l.3 8.7l.5 9.2l.4 9l.4-2.4l.4-11.6l.3-6.8l.5 3.6l.4 4.8l.4-1.1l.4-9.6l.3 8.1l.5 1l.4-18.7l.4 9.2l.4-6.4l.3-.7l.5 .3l.4 9.1l.4-.6l.4-11l.3 5.8l.5 28.2l.4-23.3l.4 .6l.4-3.2l.3 10.9l.5 1.9l.4 7.2l.4-11.4l.4-4l.3-.9l.5 5.9l.4 11.4l.4-9.4l.4-3.9l.3-8.1l.5 16.1l.4-12.4l.4 4.9l.4-5l.3 0l.5 24.6l.4-9l.4 2.7l.4-9.9l.3-1.3l.5 9.4l.4-12.2l.4 .6l.4 1.4l.3 7.9l.5-7.7l.4 3.7l.4 7.5l.4-7.4l.3 25.7l.5-25.7l.4 6.6l.4 1.1l.4-.1l.3-5.1l.5 11.2l.4-4l.4-7.7l.4 7.4l.3-2l.5 .8l.4-4l.4-4.6l.4 6.3l.3 8.1l.5-12l.4 13l.4-4.9l.4-.6l.3-5.4l.5-6.4l.4 8.1l.4 .6l.4 10l.3-20l.5 13.3l.4 .3l.4-5l.4-.1l.3 .7l.5 4.4l.4-7.2l.4 1.4l.4 .8l.3 1.7l.5-7.8l.4-2l.4-1l.4-.4l.3 9.4l.5 3.8l.4-8.2l.4 10.8l.4-2.4l.3-6l.5 3.4l.4-14.6l.4 4.5l.4 10.2l.3-11.5l.5-.8l.4 2l.4 5.1l.4-4.9l.3-3.5l.5 5.6l.4 2.4l.4-9.7l.4 10.6l.3-1l.5-6.2l.4 5.6l.4-2.2l.4 1.3l.3 2.5l.5-6.6l.4 6.4l.4 1l.4-5.4l.3 10.9l.5-9.6l.4 4l.4-.3l.4 0l.3-18.1l.5 28.3l.4 4l.4-8.6l.4 9l.3-9.5l.5-1.4l.4 4.7l.4 3.5l.4-9.7l.3 2.6l.5 1.5l.4 3.8l.4-2.3l.4 2.9l.3-14.6l.5 12.3l.4-7.4l.4-10l.4 4.7" stroke="#f11" stroke-width="1.1" />
<path d="M668.6 231.3H1122.6" stroke="#000" stroke-width="1.1" stroke-dasharray="4.5 3"/>
</g>
<path d="M716.5 189.6v10M716.5 263.5v-10M807.5 189.6v10M807.5 263.5v-10M898.5 189.6v10M898.5 263.5v-10M989.5 189.6v10M989.5 263.5v-10M1080.5 189.6v10M1080.5 263.5v-10" stroke="#111" stroke-width=".95"/>
<path d="M686.2 189.6v3.2M686.2 263.5v-3.2M746.8 189.6v3.2M746.8 263.5v-3.2M777.2 189.6v3.2M777.2 263.5v-3.2M837.8 189.6v3.2M837.8 263.5v-3.2M868.2 189.6v3.2M868.2 263.5v-3.2M928.8 189.6v3.2M928.8 263.5v-3.2M959.2 189.6v3.2M959.2 263.5v-3.2M1019.8 189.6v3.2M1019.8 263.5v-3.2M1050.2 189.6v3.2M1050.2 263.5v-3.2M1110.8 189.6v3.2M1110.8 263.5v-3.2" stroke="#111" stroke-width=".9"/>
<path d="M668.6 248.1h5.2M1122.6 248.1h-5.2M668.6 231.3h5.2M1122.6 231.3h-5.2M668.6 214.5h5.2M1122.6 214.5h-5.2M668.6 197.6h5.2M1122.6 197.6h-5.2M668.6 260.8h2.4M1122.6 260.8h-2.4M668.6 256.6h2.4M1122.6 256.6h-2.4M668.6 252.4h2.4M1122.6 252.4h-2.4M668.6 248.1h2.4M1122.6 248.1h-2.4M668.6 243.9h2.4M1122.6 243.9h-2.4M668.6 239.7h2.4M1122.6 239.7h-2.4M668.6 235.5h2.4M1122.6 235.5h-2.4M668.6 231.3h2.4M1122.6 231.3h-2.4M668.6 227.1h2.4M1122.6 227.1h-2.4M668.6 222.9h2.4M1122.6 222.9h-2.4M668.6 218.7h2.4M1122.6 218.7h-2.4M668.6 214.5h2.4M1122.6 214.5h-2.4M668.6 210.2h2.4M1122.6 210.2h-2.4M668.6 206h2.4M1122.6 206h-2.4M668.6 201.8h2.4M1122.6 201.8h-2.4M668.6 197.6h2.4M1122.6 197.6h-2.4M668.6 193.4h2.4M1122.6 193.4h-2.4" stroke="#000" stroke-width=".9"/>
<rect x="668.6" y="189.6" width="454" height="73.8" stroke="#000" stroke-width="1.25"/>
<text x="666" y="252.1" font-size="11" fill="#000" text-anchor="end">-200</text>
<text x="666" y="235.3" font-size="11" fill="#000" text-anchor="end">0</text>
<text x="666" y="218.4" font-size="11" fill="#000" text-anchor="end">200</text>
<text x="666" y="201.6" font-size="11" fill="#000" text-anchor="end">400</text>
<text transform="translate(638.5 226) rotate(-90)" font-size="11.2" fill="#000" text-anchor="middle">V<tspan font-size="8.6" dy="3.3">e LMN</tspan><tspan dy="-3.3">&#8203;</tspan> [km/s]</text>
<clipPath id="cm4"><rect x="668.6" y="263.5" width="454" height="73.8"/></clipPath><g clip-path="url(#cm4)" stroke-linejoin="round">
<path d="M728 267.5V337.3" stroke="#5c5" stroke-width="2" stroke-dasharray="9 5" opacity="0.9"/>
<path d="M756.3 267.5V337.3" stroke="#f00" stroke-width="1.3" stroke-dasharray="6.5 2" opacity="1"/>
<path d="M756.3 267.5V337.3" stroke="#00f" stroke-width="1.3" stroke-dasharray="1.6 6.9" opacity="1"/>
<path d="M813 267.5V337.3" stroke="#f44" stroke-width="1.8" stroke-dasharray="11 4" opacity="0.85"/>
<path d="M819 267.5V337.3" stroke="#f0f" stroke-width="1.8" stroke-dasharray="2 3" opacity="1"/>
<path d="M841.5 269.5V337.3" stroke="#0a0" stroke-width="1.3" stroke-dasharray="9 4" opacity="1"/>
<path d="M668.9 314.3l.4 1.7l.4-.4l.4 .4l.4-2.6l.4 3.3l.4-2.9l.4-1.6l.4 0l.4 .7l.4-1.6l.4 2.1l.4 0l.4-.7l.4-.2l.4 1.1l.4-2l.4 2.9l.4-2.9l.4 3.7l.4-1.8l.4 1l.4-3.2l.4 .6l.4 1.1l.4 3l.4 4.6l.4-3.9l.4-3.7l.4-1.4l.4 1l.4 5.3l.4-4.1l.4 1.1l.4-1.7l.4-.5l.4-.5l.4 1.2l.4-2.5l.4-1.9l.4 2.4l.4 1.2l.4 .5l.4-4.7l.4 1.1l.4 .4l.4 5.3l.4 .2l.4-1.3l.4-.4l.4 .5l.4-.5l.4 .1l.4-2.9l.4 2l.4-2.7l.4-3.7l.4 2l.4 3.9l.4-3.1l.4 3l.4 1.4l.4-2.2l.4-.5l.4 1.3l.4-4.8l.4-.2l.4 .5l.4-.7l.4 1.2l.4 1.4l.4 .8l.4 1.3l.4-.4l.4-4.7l.4 .6l.4-.1l.4-.2l.4 1.9l.4 2.6l.4 .4l.4 .8l.4 1.9l.4 .5l.4 1.5l.4 .6l.4 2.2l.4-3.9l.4 .6l.4 .4l.4 .3l.4-.5l.4-.8l.4-2.2l.4-1.4l.4 4.6l.4-1.9l.4-.6l.4 1.3l.4 .9l.4-2.1l.4 2.2l.4 1.8l.4 1.8l.4 1l.4-1.7l.4 .2l.4-3.7l.4-.9l.4 1.6l.4 .6l.4-3.6l.4-1.1l.4 3.2l.4 1.2l.4-1.6l.4-1.2l.4-.6l.4-2l.4 1.2l.4 .5l.4 1.6l.4-1.3l.4-.9l.4 1.3l.4-1.3l.4 .7l.4 .7l.4-.1l.4 0l.4-.9l.4 2.1l.4-.1l.4-.3l.4-.9l.4 2.3l.4 1.2l.4 .6l.4 1l.4-1.1l.4 4.5l.4-2.4l.4-.9l.4-1.5l.4-.6l.4-1.5l.4-1.2l.4-1l.4 1.3l.4 1.5l.4-.9l.4 .4l.4 1.7l.4-1l.4 4l.4-3.5l.4 1l.4-.5l.4-3.2l.4 .2l.4 .6l.4-.8l.4 0l.4-.8l.4-2l.4 1.6l.4-2.7l.4 .1l.4-2.5l.4 1.7l.4 .4l.4-3.6l.4 2l.4-1l.4 .5l.4-.8l.4-.4l.4-2.1l.4 .2l.4 .6l.4-1l.4 1.3l.4 .5l.4-1l.4-.3l.4-.2l.4 1.1l.4-1.8l.4 2.4l.4 .9l.4 .1l.4 2.5l.4-2l.4 4.2l.4 0l.4 3.1l.4-.4l.4 .8l.4 2.8l.4-1.6l.4 2.7l.4-3.9l.4 3l.4-3l.4-.2l.4-1.8l.4 2.1l.4-2.5l.4 .5l.4 4.6l.4-.8l.4-.3l.4-2l.4 3.3l.4-1.5l.4-6.5l.4-2.8l.4-3.5l.4 .9l.4 .4l.4-1.4l.4 2.2l.4 .1l.4-3.3l.4 2.3l.4-.1l.4 2l.4-2.1l.4 2.2l.4-.3l.4 1.4l.4 .7l.4 .7l.4-3l.4 .8l.4-2.4l.4 1l.4-4.1l.4 4.4l.4 1.4l.4-.6l.4 .6l.4 .3l.4 .5l.4 1.4l.4 4.1l.4 1.4l.4 1.7l.4-.4l.4 .8l.4-1.8l.4-.2l.4-3l.4 .1l.4-.8l.4 .4l.4 .4l.4-.5l.4-.4l.4 1.1l.4-2l.4 2.2l.4-.8l.4-2.8l.4 1.6l.4 .7l.4-.8l.4-1.1l.4 2.2l.4 1.6l.4 1.1l.4-4.1l.4 1.2l.4 2.2l.4-3.4l.4-2.3l.4-2.3l.4 1.1l.4-1.2l.4-.2l.4-1l.4-.7l.4-.4l.4-.3l.4-1.6l.4 .6l.4 1.2l.4 1.6l.4 .1l.4 .3l.4 1.6l.4 .9l.4 1.2l.4-1.7l.4-.5l.4 2.9l.4 .4l.4 1.5l.4-3.8l.4 2.3l.4-.1l.4-2.3l.4 .1l.4 2.1l.4-.1l.4 .1l.4-1.8l.4 2.3l.4 2.7l.4 2.1l.4-1.5l.4-5.4l.4-.7l.4-.5l.4 1.9l.4 .1l.4 1.1l.4-1.4l.4 .6l.4 .7l.4 1.7l.4-1.8l.4-.6l.4-.6l.4 .8l.4 2.9l.4 1.3l.4 1.1l.4-.6l.4-.4l.4 2.7l.4-2.5l.4 .2l.4 .8l.4-.3l.4 .3l.4 1.3l.4-.1l.4-1.6l.4-.5l.4-1l.4 .3l.4 0l.4 2.5l.4 .5l.4 1.2l.4-2.9l.4 .7l.4-1.8l.4 1.6l.4 1.7l.4 .6l.4 .2l.4 .3l.4 2.1l.4-6.1l.4-6l.4-4.8l.4-4.8l.4-5.4l.4 1.2l.4-4.4l.4 .8l.4-2.3l.4-2.8l.4-3.5l.4-6.6l.4-6l.4-.4l.4 2.5l.4 5.4l.4 3.7l.4 4l.4-4.9l.4-3.6l.4-9.6l.4 3.2l.4-1.1l.4-1.8l.4-.9l.4-.8l.4 4.9l.4 1l.4 3.4l.4 5l.4 1.1l.4 .9l.4 .7l.4 1l.4-.6l.4-.6l.4 3.2l.4-.3l.4-3.3l.4-2.1l.4 5.5l.4-.4l.4 1.4l.4-.8l.4-.1l.4 3.3l.4 2.8l.4 .9l.4 2.6l.4-1.2l.4 2.6l.4 1.6l.4 3.8l.4 2.6l.4 2.3l.4 2.2l.4-2.1l.4 1.6l.4 2.3l.4-3.6l.4 3.6l.4-2.1l.4-5.7l.4 3.1l.4 .7l.4-.8l.4 1.2l.4-1.3l.4 2.3l.4 1l.4 1l.4 .5l.4-1.6l.4 .5l.4 .3l.4 2.1l.4-1.5l.4 0l.4-1.5l.4 .2l.4-1.3l.4-.9l.4-1.2l.4-2.3l.4-.4l.4 5l.4 1.3l.4-4.5l.4-2.5l.4 .3l.4 3.3l.4-.7l.4-.8l.4 1.7l.4-3.7l.4 4.9l.4 1.9l.4 5.6l.4-1.7l.4 1.5l.4-1.1l.4 1.3l.4 .4l.4 2l.4-2.7l.4-.2l.4 1.8l.4-1.5l.4-1l.4 2.6l.4-1.3l.4-2.5l.4 .3l.4 .1l.4-1.1l.4 0l.4 1.3l.4-2.8l.4-1.4l.4-3.3l.4-.9l.4-3.5l.4-3.7l.4-3.3l.4-4.4l.4-7.5l.4-2.1l.4-2.8l.4 1.7l.4 .8l.4-.6l.4 1.5l.4 .4l.4-1.5l.4-2.9l.4-3.7l.4-1.6l.4 6.3l.4 5.2l.4 4.6l.4 .2l.4 4.6l.4 5.6l.4 .3l.4 0l.4 5.3l.4 2.9l.4 1.7l.4 2.7l.4-1.9l.4 1.5l.4 1.7l.4-.5l.4-3l.4 4.1l.4-.1l.4-2.3l.4 2l.4-.6l.4-1.7l.4-.3l.4-.8l.4-1l.4 2.7l.4 2.5l.4-1.7l.4 3.3l.4-2.7l.4-1.5l.4-4.9l.4 4.9l.4-.6l.4-1.9l.4-.2l.4 .7l.4-3.7l.4-1l.4 5.7l.4-3.2l.4-1l.4 1l.4 .8l.4 1.6l.4-1l.4 .6l.4-.6l.4 .1l.4-3.1l.4 1.2l.4 1.5l.4-3.5l.4-2l.4 5.7l.4-2.6l.4 .9l.4-.6l.4 3.3l.4-.8l.4-1.1l.4 .7l.4 1.9l.4-1.1l.4-.9l.4-.3l.4 .4l.4 .4l.4 2.9l.4-1.8l.4 .5l.4 0l.4-.3l.4-2l.4 2.4l.4-.3l.4 2l.4-1.8l.4 .4l.4 5.3l.4 .6l.4-.9l.4-3.2l.4-.5l.4-1.4l.4-1.5l.4-4.3l.4-1.4l.4-.1l.4-.1l.4 2.6l.4 5.8l.4 .1l.4-.6l.4 .2l.4 1.5l.4-1.8l.4 2l.4 .3l.4-2.3l.4 3.5l.4-3.5l.4-1.1l.4-2.4l.4 3.6l.4-1.9l.4 3.4l.4-2.3l.4-2.6l.4 1.8l.4 .3l.4 2.3l.4 .7l.4-2.5l.4-1.8l.4 1.9l.4 .4l.4-1.1l.4 0l.4 3.2l.4-.5l.4 2.1l.4 .1l.4-1.3l.4-2.5l.4 2.7l.4-.6l.4-1.7l.4-.9l.4-.2l.4-3.9l.4 .6l.4-1l.4-1.2l.4 1l.4 .2l.4-.7l.4 .5l.4 1.5l.4-1.5l.4 1.4l.4 3.4l.4-1.8l.4-2.7l.4-2l.4-2.5l.4-.2l.4-1.9l.4-.5l.4-5l.3 1.6l.5-3.3l.4-.1l.4 1.9l.4 1.9l.3 .2l.5 1.7l.4 .2l.4 1.8l.4-1.6l.3 1.1l.5-.9l.4 .9l.4-.8l.4 1.1l.3 1.8l.5 .4l.4-.4l.4-.8l.4 1.5l.3 1.2l.5-.6l.4 3.7l.4 2l.4 1.9l.3 2.4l.5 .5l.4 6l.4-.2l.4-3.8l.3 1.4l.5 1.9l.4-3l.4-4.5l.4 .3l.3 .1l.5 2.7l.4-3.4l.4 1.1l.4 1.2l.3-2.9l.5-.6l.4 2.3l.4 .4l.4 1.5l.3-1.4l.5 1.1l.4-2.2l.4 .2l.4-.4l.3 2.6l.5 2.2l.4-3l.4 .4l.4-2.6l.3 1.2l.5-3.9l.4 4l.4-3.9l.4-2.3l.3 .2l.5-.8l.4-2.7l.4-.4l.4 1.5l.3 .3l.5 2.5l.4 .4l.4 5.7l.4 2.6l.3-1.1l.5-1.6l.4-.6l.4 5.1l.4-.9l.3-1.6l.5 .6l.4 2l.4-3l.4 2.9l.3-2.2l.5 1.7l.4 1.2l.4 1.7l.4-1.7l.3 2.1l.5-.8l.4 .1l.4 1l.4 0l.3 .9l.5-3.8l.4-1l.4-3.6l.4-1.1l.3-3.2l.5-.8l.4-.4l.4 .4l.4 3.7l.3-1.4l.5 4.9l.4 1.1l.4-.2l.4-.6l.3 2.6l.5 .7l.4-1l.4-1.8l.4-1.5l.3-.9l.5 .5l.4-1.8l.4 0l.4-5.5l.3 1.1l.5 4.5l.4-5l.4-1.4l.4 .6l.3 3l.5-2.3l.4 .2l.4 2.6l.4-3.7l.4-2l.4 6.3l.4 2.7l.4-1.8l.4-1.6l.4 3.8l.4-2.7l.4-3.1l.4 3.3l.4 1.1l.4 0l.4 .8l.4 1.6l.4-1.4l.4-1.4l.4-.7l.4 2.3l.4-1.6l.4-.3l.4 1.2l.4-2l.4 2.9l.4 2.2l.4-4.3l.4 3.6l.4-.3l.4-1.5l.4-1.6l.4-1l.4 1.9l.4 1.7l.4 .7l.4-1.3l.4 1l.4-1.8l.4 2.9l.4-3.1l.4-.3l.4-.2l.4 2.2l.4-.5l.4-1l.4-.6l.4 2.9l.4-.2l.4 1.4l.4-1.2l.4 2.2l.4-2.2l.4 5.2l.4-3l.4 .9l.4-3.2l.4 .3l.4 .8l.4-3.1l.4-2.4l.4-1.6l.4 2.6l.4-.1l.4 2.7l.4-2.3l.4-.2l.4-2.1l.4 3.2l.4 1.2l.4-2.8l.4-.2l.4 0l.4 2.5l.4-1.8l.4-1.2l.4 1.2l.4-2.4l.4 .6l.4 3.2l.4-2.7l.4-1l.4-.6l.4 5.5l.4-.6l.4-.7l.4 .7l.4 .8l.4 2.7l.4-1.6l.4 1.9l.4-.1l.4 .2l.4-1.3l.4 .5l.4 1.9l.4 2.2l.4-5.3l.4 2l.4-.7l.4 .5l.4-2.2l.4-2.8l.4 4.1l.4-2.1l.4-1.1l.4-.1l.4-1l.4 3.3l.4 1.8l.4 2.7l.4 4.7l.4 0l.4 2.3l.4-2.9l.4-3l.4-4l.4-1.6l.4-3.7l.4-3l.4-6.2l.4-1.5l.4-3.2l.4 1l.4-.4l.4-.5l.3 3l.5 1.6l.4 3.2l.4 8l.4 3.2l.3 1.2l.5-2.6l.4 4.1l.4-3.3l.4-5.5l.3 1.9l.5-4.3l.4-3.3l.4-5.8l.4 3.7l.3-5l.5-2.6l.4-3.5l.4-.2l.4-1.6l.3-.7l.5 .8l.4 2.6l.4 5.8l.4 2l.3 4.2l.5 4.6l.4 5.7l.4-3.6l.4-.5l.3 2.9l.5-1.2l.4-.1l.4 1.5l.4-.6l.3 .7l.5-3.2l.4-4.4l.4-.7l.4-.8l.3-.7l.5-.8l.4-.1l.4 3.6l.4-.3l.3 1.3l.5 1.5l.4 3l.4-.1l.4-1.2l.3 3l.5-.6l.4 4.6l.4-4l.4 5.4l.3-1.9l.5 2.1l.4 0l.4 6.1l.4-.5l.3-3l.5 1.6l.4 2l.4-.2l.4 1l.3-2.7l.5-3.2l.4 4.1l.4-2.3l.4 .3l.3 1.4l.5-.3l.4-3.5l.4 3.4l.4-2.8l.3-.1l.5 1.8l.4-.7l.4-1.2l.4 .5l.3-4.4l.5 1l.4-1l.4 2.8l.4-2l.3-5.2l.5-1.7l.4 2.8l.4-.1l.4-.6l.3 2.3l.5-1.5l.4-2.6l.4 2l.4 2.7l.3 2.8l.5-4.7l.4 4.7l.4-1.2l.4 3.5l.3-.3l.5 1.6l.4-.9l.4 1.9l.4-2.8l.3 .9l.5 0l.4-.3l.4 1.4l.4-1.8l.3 1.1l.5-2.1l.4 1.1l.4 1.2l.4 .2l.3 2.1l.5 .2l.4-2.5l.4 1l.4 1.2l.3 1.4l.5 3.4l.4-1l.4-4.6l.4-2.7l.3 1.9l.5 .1l.4-1.3l.4 2.2l.4-2.8l.3 1.8l.5-2.3l.4 .6l.4-2.7l.4 .2l.3 2.7l.5-1.1l.4 1.6l.4 1.3l.4-.4l.3 1l.5-.3l.4-.2l.4 1.8l.4 .4l.3 .9l.5-1.5l.4-2.6l.4-.3l.4 2.7l.3 1.3l.5-.1l.4-.2l.4-1.8l.4-.8l.3-1.8l.5 .5l.4-2.1l.4-2.2l.4-.3l.3-2.6l.5 3.9l.4-4.8l.4 .8l.4-2.2l.3-.3l.5-.1l.4-.5l.4-.3l.4-2.1l.3 1.2l.5 1.5l.4 3l.4-2.6l.4 3.1l.3-.2l.5 .7l.4 1.7l.4 .6l.4-.7l.3 2.2l.5-2.4l.4-.3l.4-.1l.4-1.5l.3 5.3l.5-2.1l.4 0l.4 1.1l.4-.6l.3-.6l.5-1.5l.4 3.2l.4 1.3l.4 0l.3 2.6l.5 3.2l.4 1.5l.4-1.7l.4 4.1l.3-2.4l.5-2.5l.4-.6l.4 2.2l.4 0l.3-2.9l.5-1.2l.4 1.8l.4-3.2l.4 1.5l.3-3.3l.5 .1l.4-.4l.4 .3l.4-.6l.3 .9l.5-.3l.4-1.3l.4-2.4l.4 .1l.3-.9l.5 1.1l.4-.3l.4-.2l.4 1.1l.3-3.7l.5 1.7l.4 1.9l.4 .3l.4-2.1l.3-1.6l.5 2.9l.4-.4l.4 .4l.4 .6l.3-2.4l.5 2.9l.4 .4l.4 .9l.4 .5l.3 2.6l.5-1.1l.4 6.4l.4-3.4l.4 .6" stroke="#f22" stroke-width="0.95" />
<path d="M668.9 320.8l.4-.3l.4-.7l.4 .2l.4 2.1l.4 1.1l.4-1.9l.4-.7l.4 .2l.4 1.6l.4-.9l.4-1l.4 .3l.4 .7l.4-.3l.4 .1l.4-1.3l.4 1.1l.4-.3l.4 .6l.4-.3l.4-1.1l.4-.2l.4 .9l.4 .7l.4-.1l.4-1l.4 .5l.4-.9l.4 .1l.4 .5l.4 .1l.4 .3l.4-.7l.4 .5l.4 .1l.4 .1l.4 1.4l.4-1.2l.4 .3l.4-2.7l.4 1.4l.4 .2l.4-.7l.4 .7l.4-.2l.4-.9l.4 .4l.4 .1l.4 1.6l.4-.9l.4-.1l.4 .8l.4-.2l.4-1.1l.4 .8l.4 1.1l.4 0l.4-1.3l.4-.1l.4 .1l.4 1.6l.4-.6l.4 .3l.4 0l.4 0l.4-.4l.4 0l.4 0l.4 1.2l.4-2.4l.4 .4l.4-.2l.4 1.5l.4-.7l.4-.5l.4 .6l.4 .4l.4 .1l.4-1.3l.4 .9l.4-.1l.4 1.1l.4-.9l.4 .2l.4-1.3l.4-.3l.4 1.4l.4-.9l.4 .9l.4-.7l.4-.2l.4 .7l.4-.5l.4 .3l.4-.5l.4-.5l.4 1.3l.4-.1l.4-1.8l.4 1.7l.4 .8l.4 1.1l.4-3.3l.4 1.7l.4-1l.4 .7l.4 0l.4 .9l.4-.4l.4-1.3l.4 .3l.4 .7l.4-.9l.4 .9l.4-.4l.4 1.4l.4-1.1l.4-1.2l.4 1.1l.4-.9l.4 .1l.4-.6l.4 0l.4-1.1l.4 2.2l.4-1.4l.4 .7l.4 .5l.4-.7l.4 0l.4 .6l.4-.2l.4-1l.4 2.4l.4 .8l.4-.7l.4 0l.4-.5l.4-.1l.4 .4l.4 .6l.4 0l.4-.1l.4-.9l.4 1.6l.4 .6l.4-1.4l.4 .2l.4-.1l.4-.2l.4 .8l.4 .4l.4 .1l.4-.4l.4 2.1l.4-.5l.4-.9l.4-.1l.4 .1l.4 .6l.4 .5l.4-1.7l.4 1.5l.4-.6l.4-1l.4 .2l.4 .9l.4-.7l.4 .6l.4 .6l.4-.1l.4 .2l.4-1.9l.4 1.5l.4-.6l.4 .3l.4-1.5l.4 1l.4-.8l.4 2.1l.4 .1l.4-.4l.4-1.3l.4 1.3l.4-1.9l.4 1l.4 .2l.4 1l.4 .3l.4-1.5l.4 1.1l.4-.7l.4 .5l.4-2l.4 1.4l.4 .9l.4-.7l.4-.6l.4 0l.4 .5l.4-.2l.4-.1l.4 .4l.4-.2l.4 .3l.4-.2l.4-.4l.4 0l.4 1.4l.4-.7l.4 .8l.4-.4l.4 1.4l.4 0l.4-.3l.4-.5l.4 .8l.4-.1l.4 .5l.4 1.2l.4-.5l.4 .9l.4-.6l.4 .4l.4-.6l.4-.4l.4-.3l.4 .7l.4 .7l.4-1.2l.4-.9l.4 .5l.4 .4l.4 .3l.4 .3l.4 0l.4-2.9l.4 1.6l.4 1l.4-.6l.4-.7l.4 1.5l.4-.2l.4-1.3l.4-.7l.4 0l.4 .4l.4-.4l.4 1.7l.4-1.1l.4-.2l.4-.3l.4 .1l.4-.4l.4 0l.4-.1l.4 .7l.4-.4l.4-.7l.4 .3l.4 0l.4 .4l.4-.8l.4 .6l.4 0l.4-.3l.4-1.3l.4 1.1l.4 .1l.4 0l.4 1.1l.4-.1l.4-1.1l.4 .5l.4-.4l.4 .2l.4 2.8l.4-2.4l.4 0l.4-2.2l.4 1.4l.4-.1l.4 0l.4 1l.4-.8l.4-1.3l.4 1l.4-.4l.4 .4l.4 .9l.4 .4l.4-1.2l.4 1.7l.4-1.5l.4-.4l.4 .1l.4-.1l.4 .6l.4 .2l.4-.3l.4-.3l.4 1.1l.4-1.4l.4-.5l.4 .5l.4-.3l.4-.3l.4 .9l.4-.4l.4 0l.4 1.1l.4 .7l.4-.7l.4-1.9l.4 .7l.4 1.1l.4-.4l.4-.4l.4 1l.4 .5l.4-.9l.4 1.1l.4 1.7l.4-1.1l.4 1.7l.4-1.4l.4 .9l.4-.7l.4-1l.4 .5l.4 .7l.4 1.5l.4-1.6l.4 .6l.4-.1l.4 .6l.4 .3l.4 .4l.4 0l.4-.2l.4-.5l.4 .5l.4-.1l.4 .2l.4-.1l.4 .4l.4-.3l.4 .1l.4-1.4l.4 .4l.4-1.1l.4-.1l.4 .1l.4 .2l.4 .5l.4-.1l.4-.7l.4 .9l.4-.4l.4-.3l.4 .1l.4-.5l.4 1.1l.4-.2l.4-.8l.4 .9l.4-1.5l.4 .9l.4-.6l.4 .3l.4-.5l.4-.3l.4-1.1l.4 .6l.4 .7l.4-.1l.4-2.2l.4 1.6l.4-.4l.4 .5l.4 .5l.4-.6l.4-.8l.4-.4l.4-.5l.4 2.9l.4-.3l.4-.5l.4 .7l.4-.8l.4-.6l.4-.1l.4 .6l.4 .5l.4-1l.4 .4l.4 .5l.4-.2l.4 .3l.4-.9l.4 .6l.4 .3l.4-.6l.4 1.1l.4-.2l.4-.3l.4-.7l.4 .6l.4-.3l.4-1.5l.4 .1l.4 .4l.4-.6l.4 1.4l.4-.5l.4-.7l.4 .5l.4 .2l.4 .1l.4-1.1l.4 .8l.4-.3l.4-.5l.4-.2l.4-.1l.4 .4l.4 .5l.4 1.3l.4-.7l.4-.2l.4 0l.4 .2l.4-.4l.4 1.3l.4-.9l.4-.7l.4 .3l.4-1.1l.4 1.2l.4 .1l.4 .1l.4-1.2l.4 .8l.4 .4l.4-.6l.4 1.2l.4 .1l.4 .3l.4 .6l.4-.2l.4 1.6l.4-.6l.4 1.4l.4-.9l.4-1.5l.4 .4l.4-.5l.4 .8l.4-2.1l.4 1.4l.4 .7l.4-1l.4 .5l.4-2.2l.4 1.5l.4-2l.4-.2l.4 2.9l.4-1.7l.4 .8l.4 .7l.4-.3l.4 0l.4 .4l.4-1l.4 .1l.4 .2l.4-.8l.4 .3l.4 .8l.4 .4l.4 0l.4 .9l.4-1.3l.4-.5l.4-.7l.4 1.1l.4 .5l.4-1.4l.4 .8l.4-1.7l.4 .2l.4 2.1l.4-.3l.4-.6l.4-.7l.4 1.3l.4-1.2l.4 .9l.4-1.4l.4 0l.4-.7l.4 .6l.4-.4l.4-.2l.4 .9l.4-.6l.4 0l.4 .6l.4 .1l.4-1.7l.4 1.3l.4-1.8l.4-.1l.4 1.5l.4-.7l.4-.3l.4 .2l.4 .5l.4-1.4l.4 1l.4-1.4l.4 .5l.4 .2l.4 .1l.4 .9l.4 .5l.4-.6l.4-.2l.4 .6l.4-.7l.4 .1l.4-.4l.4 .2l.4 1.4l.4-.3l.4 .5l.4-1l.4 .1l.4 .4l.4 0l.4-.2l.4-1l.4 1l.4 .3l.4-.1l.4 .1l.4-.9l.4-1.2l.4 1.5l.4-.6l.4 .5l.4 .3l.4-.1l.4-.6l.4-1.6l.4 .8l.4-2.5l.4 1l.4 1.8l.4-.1l.4-.8l.4 .2l.4-.1l.4-.9l.4 .2l.4 1.2l.4 .8l.4-.2l.4 1.6l.4 .7l.4 0l.4-1.3l.4 .9l.4 .3l.4 1l.4-1.2l.4 .7l.4 1.1l.4-1.5l.4-.5l.4 .4l.4-.8l.4 .8l.4-.3l.4 0l.4-.1l.4 .7l.4-.1l.4-1.7l.4 0l.4-.8l.4 1.5l.4 .5l.4-1.4l.4 .3l.4 1.7l.4-.3l.4-1.4l.4-.5l.4 .1l.4-.9l.4 1.2l.4-.4l.4 .2l.4-.6l.4-.4l.4 1l.4-1.1l.4 .1l.4 .3l.4-1.4l.4 .1l.4 .2l.4-1.2l.4 0l.4-.2l.4 2.2l.4-.9l.4 .6l.4-.3l.4 .2l.4 1.2l.4-.3l.4-.3l.4-.2l.4 1l.4 3.1l.4-1l.4-.3l.4-.9l.4 .6l.4 .4l.4-.5l.4 .2l.4-.6l.4-2.1l.4 1.9l.4 0l.4 2.1l.4-1l.4 .6l.3 .6l.5-.6l.4 .7l.4-1.6l.4 1.5l.3-1.1l.5-.9l.4 1.2l.4 .4l.4 .5l.3 .2l.5-.9l.4 .2l.4-.3l.4-.3l.3 .1l.5 .5l.4-.1l.4-.6l.4 .8l.3 1.2l.5-1.4l.4 .4l.4-1.2l.4 .4l.3 .1l.5 .7l.4-.5l.4 .8l.4-1.5l.3 .7l.5-.5l.4 .6l.4-.8l.4 .9l.3-.2l.5 .6l.4 0l.4-.1l.4-.5l.3 .1l.5-1l.4 1.6l.4-.8l.4 1l.3-.4l.5 1l.4-1.3l.4-.4l.4-.6l.3 1l.5 0l.4-.3l.4 .6l.4 .2l.3-1.8l.5-.4l.4 1.8l.4 .2l.4-.6l.3 1.4l.5-.8l.4-.2l.4-.4l.4 .6l.3-.3l.5 0l.4-.5l.4 0l.4 .6l.3-.2l.5 .6l.4 0l.4 .7l.4-.5l.3-.8l.5 1.1l.4-1.2l.4 1l.4 .3l.3-.8l.5 2.9l.4-1l.4-3.7l.4 2.5l.3 .5l.5-.4l.4 .2l.4 .1l.4 .1l.3-.8l.5 .8l.4-1.2l.4 .4l.4 .2l.3-.3l.5 .3l.4 1.1l.4-.4l.4-1.4l.3 1l.5-.1l.4-.5l.4 1.1l.4-1.6l.3-.2l.5 1.2l.4-.6l.4-.4l.4-.2l.3 .9l.5-.2l.4-.9l.4-1.1l.4 .3l.3 .7l.5 .6l.4 .3l.4-.4l.4 .6l.3-.4l.5-.1l.4 0l.4-1.2l.4-.3l.4 .1l.4-.2l.4 .3l.4 1.9l.4-.6l.4-1.7l.4-.2l.4 1l.4 .1l.4-2.5l.4 2.4l.4-.7l.4-.7l.4 1.3l.4 1.7l.4-1.4l.4-.7l.4 .8l.4-1.5l.4 .2l.4 0l.4-.2l.4 2.8l.4-2.6l.4 1.1l.4 .1l.4 .5l.4-2l.4 .7l.4-.5l.4 .4l.4-.5l.4 .3l.4 1.2l.4 .1l.4 .2l.4 .3l.4-.2l.4 .1l.4-.6l.4-.2l.4 .3l.4-.3l.4 .7l.4-1.8l.4 1.7l.4 .9l.4-1l.4 .4l.4 .3l.4 .4l.4 .1l.4-.1l.4 .5l.4 .5l.4 .5l.4-.7l.4 .9l.4-1.6l.4-.8l.4 1.4l.4 1l.4 .9l.4-1.4l.4-2.3l.4 .3l.4 1.7l.4 .5l.4-.7l.4 .5l.4-.4l.4 .9l.4-1.1l.4 1.2l.4-2.8l.4 .9l.4 .1l.4 .5l.4-.3l.4-.4l.4-.1l.4-.7l.4 1.6l.4-.5l.4-1.1l.4 1.4l.4 .1l.4 .4l.4-.8l.4 .6l.4-.1l.4-1.4l.4 .4l.4-1l.4 1.2l.4 .1l.4-1.2l.4 1.1l.4-1.1l.4 .4l.4-.4l.4 .8l.4 .2l.4 1.1l.4-.3l.4-.1l.4 1.5l.4 .8l.4-.3l.4 0l.4 .6l.4 .8l.4-.2l.4-2.4l.4-.5l.4-2.3l.4 1.7l.4-3.3l.4 1.3l.4-.5l.4-.3l.4-.1l.3-.8l.5 1.2l.4-.7l.4-.1l.4-.4l.3-.6l.5 1.4l.4-.5l.4-.9l.4 .7l.3-.6l.5 1l.4 .8l.4-.7l.4 .2l.3 0l.5-1.1l.4 1.1l.4-.7l.4-.1l.3 .1l.5 .7l.4 .2l.4-1.9l.4 1.8l.3 .1l.5-1.3l.4 1.2l.4-.9l.4 .4l.3-.7l.5 1.2l.4-.4l.4 .7l.4 1.7l.3 .7l.5 .1l.4 .6l.4 .2l.4 .7l.3 0l.5-.5l.4-.1l.4-.3l.4 .8l.3 1.9l.5 .8l.4-.9l.4-.5l.4 .2l.3 .9l.5-.6l.4 2.1l.4 1.1l.4-2.4l.3-.1l.5 2l.4-.4l.4 1.9l.4-.4l.3-.9l.5-.2l.4 .1l.4-.2l.4-1.2l.3-.5l.5 1.3l.4-.5l.4-.4l.4 .7l.3-.2l.5-1.2l.4-.4l.4-.1l.4 0l.3 .1l.5-1.9l.4-.3l.4 .8l.4-1.3l.3-1.7l.5 1.9l.4 .4l.4-1.1l.4-1l.3 2l.5-.2l.4-.7l.4-.4l.4-1.7l.3 .5l.5-.1l.4 0l.4 .8l.4 .6l.3-.5l.5 .6l.4 1l.4 1.1l.4-.8l.3 1.2l.5 .8l.4 1.1l.4-.9l.4-1l.3 1.1l.5-1.6l.4 1l.4-.3l.4 0l.3 1.1l.5 0l.4 .9l.4-1l.4-1.9l.3 .1l.5 .8l.4-.1l.4-2.2l.4 .8l.3-.3l.5-1.1l.4 .4l.4-.9l.4 1l.3-1.7l.5 1.9l.4-1.5l.4-.9l.4 .3l.3 0l.5-.8l.4 1.5l.4-.5l.4-.4l.3 .4l.5-.9l.4 .6l.4 .4l.4-.2l.3-.5l.5 .4l.4-.3l.4 .6l.4 .2l.3-1.4l.5 1.7l.4 .3l.4-1.2l.4 .8l.3-.2l.5 .6l.4-.8l.4-.3l.4 .3l.3 .7l.5-.6l.4 .3l.4 .2l.4-.6l.3 .8l.5 .5l.4-1.4l.4 .1l.4 .4l.3 0l.5-.7l.4-1.2l.4 1.2l.4-.7l.3-1l.5-.5l.4 2.6l.4-.3l.4 0l.3 .2l.5 .6l.4-.8l.4 .9l.4 .4l.3 1.2l.5-.2l.4-.5l.4-.8l.4 1.2l.3-.9l.5 1l.4 .6l.4 .3l.4-.5l.3 1.6l.5-.3l.4-.1l.4-.2l.4 1l.3 .1l.5 2l.4-1.1l.4 .1l.4 .8l.3-3.1l.5 .3l.4-.4l.4-.9l.4-.8l.3 0l.5-.1l.4-.8l.4-1.4l.4 .2l.3 .7l.5-.4l.4-.2l.4 1.6l.4 .1l.3 .6l.5-.3l.4-.4l.4 1.3l.4-1l.3 .8l.5 .6l.4-.7l.4 1.1l.4-.6l.3 .5l.5 1.1l.4-.8l.4-.4l.4-.3l.3-1.2l.5 .9l.4 1l.4-.5l.4 1.1l.3-.7l.5 0l.4-.5l.4-1.3l.4 1.8l.3-1.6l.5 1.7l.4-.6l.4 0l.4 .6" stroke="#111" stroke-width="1.5" />
</g>
<path d="M674.5 271.6h17" stroke="#f33" stroke-width="1"/>
<text x="693.1" y="275.6" font-size="11" fill="#f33"><tspan fill="#f00">T<tspan font-size="8" dy="3">||</tspan><tspan dy="-3">&#8203;</tspan></tspan></text>
<path d="M674.5 286h17" stroke="#555" stroke-width="1.6"/>
<text x="693.1" y="290" font-size="11" fill="#555"><tspan fill="#111">T</tspan><tspan font-size="8" dy="4" dx="1.5" fill="#c88">&#8869;</tspan></text>
<path d="M716.5 263.5v10M716.5 337.3v-10M807.5 263.5v10M807.5 337.3v-10M898.5 263.5v10M898.5 337.3v-10M989.5 263.5v10M989.5 337.3v-10M1080.5 263.5v10M1080.5 337.3v-10" stroke="#111" stroke-width=".95"/>
<path d="M686.2 263.5v3.2M686.2 337.3v-3.2M746.8 263.5v3.2M746.8 337.3v-3.2M777.2 263.5v3.2M777.2 337.3v-3.2M837.8 263.5v3.2M837.8 337.3v-3.2M868.2 263.5v3.2M868.2 337.3v-3.2M928.8 263.5v3.2M928.8 337.3v-3.2M959.2 263.5v3.2M959.2 337.3v-3.2M1019.8 263.5v3.2M1019.8 337.3v-3.2M1050.2 263.5v3.2M1050.2 337.3v-3.2M1110.8 263.5v3.2M1110.8 337.3v-3.2" stroke="#111" stroke-width=".9"/>
<path d="M668.6 273h2.4M1122.6 273h-2.4M668.6 284h2.4M1122.6 284h-2.4M668.6 297h2.4M1122.6 297h-2.4M668.6 311h2.4M1122.6 311h-2.4M668.6 327h2.4M1122.6 327h-2.4" stroke="#000" stroke-width=".9"/>
<rect x="668.6" y="263.5" width="454" height="73.8" stroke="#000" stroke-width="1.25"/>
<text transform="translate(1160 300.5) rotate(-90)" font-size="11.2" fill="#000" text-anchor="middle">T<tspan font-size="8.6" dy="3.3">e</tspan><tspan dy="-3.3">&#8203;</tspan> [eV]</text>
<clipPath id="cm5"><rect x="668.6" y="337.3" width="454" height="73.8"/></clipPath><g clip-path="url(#cm5)" stroke-linejoin="round">
<path d="M728 341.3V411.1" stroke="#5c5" stroke-width="2" stroke-dasharray="9 5" opacity="0.9"/>
<path d="M756.3 341.3V411.1" stroke="#f00" stroke-width="1.3" stroke-dasharray="6.5 2" opacity="1"/>
<path d="M756.3 341.3V411.1" stroke="#00f" stroke-width="1.3" stroke-dasharray="1.6 6.9" opacity="1"/>
<path d="M813 341.3V411.1" stroke="#f44" stroke-width="1.8" stroke-dasharray="11 4" opacity="0.85"/>
<path d="M819 341.3V411.1" stroke="#f0f" stroke-width="1.8" stroke-dasharray="2 3" opacity="1"/>
<path d="M841.5 343.3V411.1" stroke="#0a0" stroke-width="1.3" stroke-dasharray="9 4" opacity="1"/>
<path d="M674.5 342.5h17" stroke="#33f" stroke-width="1"/>
<text x="693.1" y="346.3" font-size="10.5" fill="#33f">E<tspan font-size="7" dy="2.5">L</tspan><tspan dy="-2.5">&#8203;</tspan></text>
<path d="M674.5 352.5h17" stroke="#3e3" stroke-width="1"/>
<text x="693.1" y="356.3" font-size="10.5" fill="#3e3">E<tspan font-size="7" dy="2.5">M</tspan><tspan dy="-2.5">&#8203;</tspan></text>
<path d="M674.5 362.5h17" stroke="#f33" stroke-width="1"/>
<text x="693.1" y="366.3" font-size="10.5" fill="#f33">E<tspan font-size="7" dy="2.5">N</tspan><tspan dy="-2.5">&#8203;</tspan></text>
<path d="M668.9 367.5l.4 1.7l.4 5.8l.4-3.5l.4-4.6l.4-.3l.4 .6l.4-2.8l.4 6.3l.4 9.5l.4-14.6l.4-2.8l.4 5.3l.4-2l.4-.4l.4 2.9l.4-.7l.4 .3l.4-4l.4 13l.4-12.8l.4 .6l.4 9.2l.4 .6l.4-4.5l.4-.4l.4-4l.4 6.2l.4-9.4l.4 4.2l.4-1.9l.4 .3l.4-1.1l.4 6.6l.4-3.2l.4-8.4l.4 9.7l.4-1.3l.4-1l.4-3.2l.4 1l.4-.7l.4 .7l.4 4.9l.4-2.5l.4 1.5l.4-2.9l.4 4.3l.4-3.2l.4-4.8l.4 9.7l.4-2.4l.4-.5l.4-1.6l.4 4.6l.4-3.7l.4 1.5l.4-3l.4-.6l.4-.6l.4-3.7l.4 .4l.4 7l.4 5.3l.4-10.6l.4 3.1l.4 1.9l.4-1.5l.4-5.3l.4 7.7l.4-4.3l.4 2.5l.4-2.1l.4-13.9l.4 10.2l.4 5l.4 8.2l.4-5.6l.4-12.4l.4 13.6l.4 4.1l.4-7.6l.4-4.2l.4 .9l.4 3.3l.4 2.2l.4-2.5l.4 1l.4-9.9l.4 4.2l.4 3.9l.4 5l.4-1.1l.4-4.8l.4 12.6l.4-11.7l.4 5l.4-3l.4-1.8l.4 13.4l.4-11.4l.4 .1l.4-3.3l.4 4.7l.4-7.7l.4 .6l.4 .2l.4 1.4l.4-1.6l.4 9l.4-9.2l.4-1.5l.4 5.3l.4-6.4l.4-1.9l.4 5.1l.4 3.4l.4 .5l.4-8.9l.4 6.1l.4 5.2l.4-5.2l.4 .8l.4 3.9l.4-4.2l.4-3.8l.4 8.9l.4-4.9l.4 5.4l.4-7.9l.4 8.8l.4-3.8l.4 3l.4-11.9l.4 3.8l.4 13.6l.4-2.5l.4 .2l.4-2.6l.4-7l.4-4.2l.4 15.7l.4-6.4l.4 6.4l.4-1.2l.4-14.3l.4 9.2l.4 2.3l.4-4.9l.4 11.2l.4-9.4l.4 1.6l.4-7l.4 14.3l.4-5.3l.4-10.3l.4 8.1l.4 1.8l.4 3.3l.4-7.4l.4 16.6l.4-13.2l.4 .3l.4 12.9l.4-15.6l.4 3.6l.4 10.2l.4-5.4l.4-14.3l.4 .5l.4 .8l.4 16.1l.4-14.6l.4 2.6l.4 5.8l.4 9.7l.4-4.8l.4-.8l.4 .8l.4-12.3l.4 3.1l.4 3.8l.4 32l.4-28.8l.4 12.6l.4-12l.4-5.6l.4 6.6l.4-13.8l.4 7.4l.4-3.1l.4-1.6l.4 4.4l.4 9.3l.4-13.1l.4 4.1l.4-14.7l.4 10.2l.4-1l.4-1.1l.4 5.5l.4-3.7l.4 4.5l.4-10.5l.4 22.5l.4 26.8l.4-41.9l.4-3.5l.4 6.4l.4-1.2l.4-13.2l.4 4.8l.4 18l.4-16.9l.4 14.5l.4-19.2l.4-.1l.4 13.8l.4 .8l.4-14.5l.4 21.6l.4-5.8l.4-.4l.4-5.6l.4 6.6l.4-1.1l.4-.3l.4 3l.4-2.6l.4-2.4l.4 .3l.4-2.3l.4-1.9l.4-6l.4 1.6l.4 4.8l.4-2.1l.4-7.3l.4 3.6l.4-4.7l.4 15.3l.4-6.3l.4 7.2l.4-16.9l.4 4.8l.4 6.5l.4 3l.4-3.6l.4-3.5l.4 1.2l.4-1.7l.4 8.4l.4-9.6l.4-.8l.4 7.2l.4 5l.4-8l.4-5.3l.4 7.7l.4-2.3l.4-2.8l.4-1.3l.4-2l.4-.5l.4-1.2l.4-2l.4 .7l.4 9.4l.4-8.8l.4 6.4l.4 8.9l.4-11.7l.4 3.5l.4 1l.4-2.4l.4-8.8l.4 8.7l.4 15.3l.4-12.6l.4-5.4l.4-2.1l.4 2.8l.4 1l.4-5.2l.4-3l.4 8.5l.4-1.9l.4-5.9l.4-4.2l.4 3.4l.4-6l.4 .3l.4 7.4l.4-2.5l.4-3.6l.4 3.7l.4-4.3l.4 5l.4-7.5l.4-.6l.4 8.7l.4 1l.4-10.1l.4 8.7l.4 4.5l.4-10.5l.4 11.6l.4-9.1l.4 15.9l.4-3.6l.4-6.9l.4 11.4l.4-13.8l.4 5.7l.4 4.3l.4-.6l.4-10l.4 3l.4 2.1l.4 .6l.4-1.1l.4 4.4l.4 1.4l.4 3.1l.4-3.8l.4 5.7l.4-5.5l.4 .1l.4 2.2l.4-4.4l.4-3l.4 5.5l.4 5.8l.4 5.4l.4-11.8l.4-1.5l.4-2.3l.4-.7l.4 4l.4-5.9l.4 11.3l.4-5.6l.4-17.3l.4 18.1l.4 2.2l.4-2l.4 .3l.4 2.7l.4 9.8l.4-16.2l.4-4.2l.4 13.4l.4 .1l.4-3.8l.4-5.9l.4 11.4l.4-10.2l.4 .9l.4-3.4l.4-10l.4 12.8l.4-4.7l.4-8.5l.4 22.2l.4 3.3l.4-9.3l.4 12.5l.4-16.3l.4 9.1l.4-.2l.4-.2l.4-.4l.4 3.2l.4-16.4l.4 30.9l.4-16.9l.4 10.8l.4-4.2l.4 12.2l.4 23.2l.4-23.7l.4-8.2l.4-8.8l.4 3.5l.4 9.2l.4-29.4l.4 11l.4 8.3l.4 2.8l.4 3.8l.4-16.5l.4-7.6l.4 24.8l.4-14.7l.4-22.2l.4 3.3l.4 24l.4-18.7l.4 18.1l.4-30.8l.4 0l.4 44.9l.4-44.1l.4 1.1l.4 6.8l.4-5.4l.4 19.1l.4-15.1l.4 18.2l.4-7.2l.4 1.6l.4 14.4l.4-14.5l.4 1.3l.4-2.2l.4-5.7l.4-2.8l.4-1.2l.4 10.1l.4-4.2l.4 9.2l.4-3.4l.4 3.5l.4-7.2l.4 6.2l.4-2.8l.4 .5l.4 4.6l.4-14.6l.4 13.3l.4-.7l.4 2.2l.4 4.1l.4-8.4l.4 3.1l.4 2.5l.4 10.5l.4-6.2l.4-7.7l.4 6.9l.4-7.3l.4 8.9l.4-6.5l.4 2.7l.4-.8l.4-6.4l.4 2.3l.4 8.1l.4-8.8l.4-2.1l.4 1l.4-.7l.4-.3l.4-.5l.4 3.8l.4-1.9l.4-1.5l.4 2.7l.4 3.2l.4 3.9l.4-8.8l.4 3.3l.4-9.3l.4 11.7l.4-3.1l.4-.8l.4 4.1l.4-3.4l.4-5.8l.4 8.2l.4-9.1l.4 9.5l.4-17.7l.4 8.2l.4-.8l.4 7.9l.4-5.4l.4-2.4l.4 6.5l.4 8.5l.4 2.7l.4-6.3l.4-4.9l.4 4.4l.4-5l.4 10.1l.4-3.5l.4-4.4l.4 1.6l.4 .8l.4 2.3l.4-3.3l.4-4.8l.4 9.4l.4-8.3l.4-1.3l.4 7.8l.4-4.9l.4-2.6l.4-.9l.4 6l.4-5.8l.4 2l.4 2l.4 1.6l.4-4.2l.4-5l.4 2.1l.4 3.6l.4 5.6l.4-9.3l.4 24.9l.4-15.2l.4-7.8l.4 10.3l.4-3.6l.4-2.6l.4-.4l.4 2l.4-8l.4 7.3l.4-3.6l.4 2.2l.4-4.5l.4 3.4l.4-.9l.4 3.7l.4-3.5l.4 6.8l.4-4.6l.4-7.1l.4 .9l.4 3.7l.4-3.3l.4 7.9l.4-1.3l.4 .2l.4-2.9l.4-2.1l.4-.8l.4 6.6l.4 3.8l.4-2.4l.4-7l.4 4.4l.4-5.8l.4 20.3l.4-26.9l.4 .1l.4 13.7l.4-.7l.4 5l.4-4.7l.4-1.7l.4 1.7l.4-26.8l.4 15.3l.4 6.3l.4 2.4l.4 3.7l.4-7.3l.4 2.6l.4 2.9l.4 .1l.4-11.8l.4 9.4l.4 6.5l.4-1l.4 3l.4-1.2l.4-13.8l.4 6.6l.4 8.4l.4-6l.4 7.5l.4-6.2l.4-2.5l.4 4.5l.4 5.4l.4 14.8l.4-10.7l.4-5.8l.4-8.4l.4 15.1l.4-16.2l.4-9l.4 11.1l.4 5.8l.4-11l.4 2.9l.4-2.4l.4 9.3l.4 4.2l.4-4.5l.4-2.6l.4-1.6l.4 3.3l.4 5.8l.4-7.4l.4-7.7l.4 3.7l.4-4.3l.4-2.9l.4 13.9l.4-4.3l.4 .3l.4 1.9l.4 .6l.4-1.6l.4-16.1l.4 10.6l.4-.5l.4 9.9l.4-5.2l.4 2.7l.4 3.6l.4-8.6l.4 4.5l.4 1l.4 2.2l.4-2.9l.4 1.8l.4 1.4l.4-.1l.4-9.1l.4-4.7l.4 5.5l.4-2.2l.4-.5l.4-.6l.4 13.2l.4-6l.4 12.8l.4-16.3l.4-6.8l.4 9.9l.4-2.2l.4 .5l.4-.7l.4 2.1l.4-1l.4 18.1l.4-14.7l.3-8l.5 7.9l.4-3l.4 .3l.4 3l.3-2.8l.5-7.4l.4 7.7l.4-1.1l.4 5.6l.3-2.2l.5-14.2l.4 8.1l.4 25.4l.4-20.3l.3 5l.5-5.6l.4 3.9l.4-3.9l.4-9.7l.3 14.9l.5-2.1l.4-2.4l.4 10.7l.4-6.6l.3-2.8l.5 4.2l.4 25.1l.4-22.7l.4-10.8l.3-.5l.5 .1l.4-1.4l.4 .1l.4 3.4l.3 7.9l.5-7.8l.4-7.5l.4 20.5l.4-10.2l.3-7.4l.5 5.7l.4 6.3l.4-1.6l.4-3.4l.3 .4l.5-2.4l.4 1.9l.4 .8l.4-1.9l.3 1.2l.5 1.1l.4-6.4l.4-1.5l.4 2.2l.3-2.5l.5 8.9l.4-8.1l.4 8.4l.4-3.1l.3-8.9l.5 8.7l.4-1.3l.4 3.6l.4-3l.3 4.9l.5-6l.4-9.8l.4 13l.4-4.5l.3 14l.5 5.2l.4-22.5l.4 2.8l.4 6.1l.3 3.8l.5-3.5l.4-.6l.4-.5l.4 1.1l.3-3l.5-4.1l.4 13.8l.4-3.8l.4-3.5l.3 .9l.5-2l.4 2.8l.4-10.1l.4 3.6l.3 2.3l.5-4.4l.4 14.4l.4-9.5l.4-4.7l.3 1.7l.5-2.1l.4 9.1l.4-2.5l.4 1.1l.3-3.3l.5-10l.4 5.5l.4 12.7l.4-3.8l.3 4.5l.5-15.6l.4 .2l.4 12.7l.4-1.6l.3-6l.5 3.6l.4-3.5l.4-6.6l.4 9.7l.3-1.5l.5 7.5l.4-5.7l.4-11.9l.4 5.5l.3 3.5l.5 2l.4-3.1l.4 .7l.4 3.1l.4 2.7l.4 1.1l.4-3.6l.4-3.7l.4 1.8l.4-3.7l.4 9.4l.4-8.1l.4-.9l.4 1.3l.4-5.4l.4 9.7l.4 1.3l.4-4l.4 2.4l.4 2.5l.4-5.3l.4-2.6l.4 5.2l.4-3.5l.4 11.3l.4-12.6l.4-.8l.4 6.2l.4-4.1l.4 5.5l.4 .1l.4-6.7l.4 2.8l.4-2.5l.4 .8l.4-6.8l.4 7.2l.4-1.1l.4-10.8l.4 13.4l.4 7.9l.4-9.6l.4 5.9l.4-7.8l.4 3.3l.4-.9l.4-3.3l.4 18.5l.4-13.9l.4 4.2l.4-8.6l.4 6.5l.4-8.6l.4 4.2l.4 9.3l.4-3.4l.4-2.5l.4-9.8l.4 9.8l.4-5.3l.4 10.4l.4-5.3l.4-3.7l.4-5.7l.4 6.2l.4-1.7l.4 1.7l.4 2.4l.4-.8l.4 1.6l.4 2.9l.4-9.4l.4 2.4l.4 5.8l.4-9.9l.4 7.5l.4-3.5l.4-1.7l.4-3.8l.4 5.7l.4 13.6l.4-2.4l.4-28.8l.4 16.3l.4 .4l.4-5.8l.4 .6l.4 5.5l.4 1.5l.4 1.7l.4-1l.4-10.5l.4-3.2l.4 17l.4-3.5l.4-1.9l.4-1l.4 1.5l.4 5.2l.4-10.5l.4 7.2l.4 3.9l.4-9.8l.4-.6l.4 8.3l.4-4.5l.4-.1l.4-5.8l.4 15.5l.4-9.8l.4 12.3l.4-11.5l.4-3.6l.4 3.1l.4 4.3l.4-5.1l.4-6.3l.4-.6l.4 13.1l.4-9.3l.4 14.8l.4-12.5l.4 9.5l.4 1.5l.4-6.5l.4 1.6l.3-5.6l.5 8.8l.4-10.2l.4 1.4l.4 6.3l.3-3.7l.5 4.4l.4-8.1l.4 3.1l.4-5.4l.3 5.4l.5-.8l.4 1.5l.4-8.8l.4 10l.3 .4l.5-7.1l.4 9.3l.4-.9l.4-2.4l.3 .8l.5-3l.4-7.7l.4 4.3l.4-4.8l.3 11.1l.5-4.5l.4 13.1l.4-29l.4 12.4l.3 3.1l.5 2l.4 1.2l.4-7.6l.4 9.8l.3 13.1l.5 .2l.4-12.6l.4-5.8l.4 5.4l.3-2.2l.5 5l.4-6.8l.4 3.8l.4 2.5l.3-4.8l.5-1l.4 6.1l.4-7.6l.4 2.8l.3 3.6l.5 3.4l.4-6.9l.4 4l.4-5.1l.3 1.9l.5 .8l.4-5.5l.4 12.1l.4-7.4l.3 2.7l.5-6.3l.4 8.6l.4-.3l.4 7.6l.3-14.3l.5 8.3l.4-2.5l.4-4.5l.4 .5l.3 2.3l.5-2.8l.4 6.1l.4-1.5l.4-.8l.3-4.7l.5 .2l.4 1.4l.4 11.5l.4-17.4l.3 3.5l.5-1.1l.4 4.9l.4-1.8l.4 3.8l.3 2.1l.5 2.2l.4-.6l.4-4.6l.4-3.1l.3 .3l.5 6.5l.4-13.2l.4 26l.4-11.5l.3-9.7l.5 7.7l.4 2.7l.4-1.3l.4-.5l.3-11.2l.5 16.8l.4-10.6l.4 1.9l.4-18.8l.3 12.4l.5 4.8l.4-1.7l.4 3.7l.4-8.2l.3 2.6l.5 4l.4-5.6l.4-1.8l.4 4.2l.3 1.7l.5-.3l.4 8.1l.4-7.6l.4-.5l.3 1.8l.5-1.4l.4 2.3l.4-1l.4-2.9l.3-1.3l.5-1.7l.4 11.6l.4-.1l.4-11.2l.3-4.2l.5 8.6l.4 2.5l.4-4.3l.4 .2l.3-4.3l.5 4.8l.4 .1l.4 2.1l.4-3.2l.3 .6l.5-.3l.4 3l.4 9.7l.4-11.5l.3-.8l.5 9.1l.4-8.7l.4-3l.4 3.1l.3 3.6l.5-6.3l.4 2.2l.4 1l.4 4.8l.3 4.2l.5-10.7l.4-1.1l.4 8l.4-4.7l.3 4.3l.5-6.5l.4 4.9l.4-8.2l.4 10.9l.3-8.2l.5 1.5l.4 6.7l.4-13.7l.4 13.5l.3-2.5l.5-2.7l.4-6.3l.4 8.5l.4 2.9l.3-5l.5-1.2l.4-.6l.4-.7l.4 9.3l.3-5.2l.5 .7l.4-1.7l.4 .2l.4-4.5l.3 1.1l.5 2.5l.4-.7l.4 22.6l.4-17.2l.3-3.9l.5-1.7l.4-1l.4-.7l.4 4.4l.3-.2l.5 4.3l.4-4.4l.4 .9l.4 .8l.3-8.6l.5 1.4l.4 4.2l.4 1.1l.4 3.5l.3-6.3l.5 4.1l.4-2.8l.4 4.9l.4-5.8l.3 1l.5 2.2l.4-1.7l.4-2.9l.4 0l.3 2.3l.5 4.5l.4 4l.4-26.1l.4 20.7l.3-5.6l.5 9.2l.4-9l.4 6.6l.4-2.4l.3 6l.5-6.3l.4 0l.4 1.2l.4-2.9l.3-.2l.5 1.1l.4-1.5l.4 2.3l.4 4.3l.3-11.6l.5 10.2l.4 1.7l.4-3.5l.4-3.9l.3 3.3l.5 19.1l.4-19.7l.4-2.8l.4 7.7" stroke="#22f" stroke-width="0.9" />
<path d="M668.9 371.2l.4-4.6l.4-1.4l.4 5.1l.4 1.1l.4-3.9l.4 3.4l.4-4.9l.4 .3l.4 5.7l.4-4.7l.4 1.4l.4-.2l.4 3.4l.4-1.1l.4 12.8l.4-11.9l.4-2.9l.4-14.4l.4 14.4l.4-3.1l.4 7.8l.4-4.3l.4 4.7l.4 .7l.4-4.7l.4-4.5l.4 3.4l.4-2.1l.4 2.7l.4 5.6l.4-6.9l.4-.7l.4 1.7l.4 3.3l.4-6.4l.4 1.6l.4 2.6l.4-1.2l.4 4.3l.4-1.7l.4-8.7l.4 4.5l.4 4.5l.4-6.4l.4 2.7l.4 .7l.4 3.8l.4-11.8l.4 10l.4 1.4l.4-8.8l.4-.3l.4 4.1l.4 3.5l.4-1.6l.4-1.6l.4 2.5l.4-.5l.4-3.9l.4 3l.4-1.9l.4-8l.4 10.9l.4-1l.4 .8l.4 3.5l.4-1.1l.4-8.4l.4 5.7l.4 4.7l.4 .4l.4 .4l.4-5.2l.4-2.1l.4 5.9l.4-3.1l.4-2.9l.4 4.6l.4-3l.4-3.3l.4-3l.4-1.3l.4 3.4l.4 2.4l.4 2.3l.4-4l.4 3.2l.4-11.9l.4 8.8l.4 4l.4-6.1l.4 2.2l.4 3.4l.4 3.2l.4-1.9l.4-2l.4-10l.4 9.5l.4 .7l.4 1.3l.4-.7l.4-2.6l.4 1.2l.4 4.5l.4-6.4l.4 .7l.4 3.3l.4-3.6l.4 2.4l.4-1.3l.4 3l.4 2.4l.4-1.3l.4 4.1l.4-7l.4 .3l.4 3.6l.4-2.7l.4-3.3l.4 5.1l.4-7.1l.4 3.1l.4 1.3l.4 .1l.4 1.8l.4 2.2l.4-4.4l.4-3.8l.4-.5l.4 10l.4 3.2l.4-2.7l.4-2.5l.4-1.8l.4-4.9l.4 8.5l.4-3.4l.4 4.1l.4-10.6l.4 10.7l.4-2.5l.4 3.1l.4-3.6l.4-9.2l.4-2.3l.4-2.7l.4 10.4l.4-.3l.4-9.5l.4 17.1l.4-.4l.4-9.4l.4-.2l.4-1.8l.4-1.3l.4 9.3l.4 .1l.4-13.6l.4 7.8l.4 3.4l.4 3.7l.4-3.3l.4-4.9l.4 1.4l.4-9.1l.4 17.9l.4-4.3l.4-8.4l.4 1.3l.4 5.4l.4-1.3l.4-11.7l.4 13.1l.4-2.2l.4-5.8l.4 12.9l.4-17.8l.4 6.3l.4 2.3l.4 3.5l.4-6.6l.4 .9l.4 10.5l.4-6.9l.4-5.4l.4 5.5l.4 2.6l.4 3.9l.4-10.5l.4 10.6l.4-3.3l.4-13.3l.4 8l.4 3.7l.4-1.8l.4-6l.4 3.3l.4-1.9l.4-2l.4 6.7l.4-6.1l.4 11.6l.4-4.5l.4 10.6l.4-4.9l.4 37.2l.4-40.6l.4-5.2l.4-2.8l.4 10.2l.4 8.3l.4-22.1l.4 10.9l.4-7.5l.4 13.4l.4-3.6l.4 6.1l.4 9.6l.4-23.7l.4-.1l.4 26.5l.4-12.3l.4-12.5l.4 2.1l.4 16l.4-5.4l.4-25.3l.4 12.1l.4 8.5l.4-1.4l.4-9.2l.4 4.9l.4-2.1l.4 10.2l.4-3.3l.4-2.1l.4-7.3l.4 15.8l.4-5.4l.4-9.7l.4 5.5l.4 1.1l.4 7.9l.4-12.5l.4 .8l.4 9l.4-3l.4-4.1l.4-.2l.4 8.4l.4-9.9l.4 8.4l.4-4.6l.4-5.5l.4-12.4l.4 14l.4 .3l.4 4.9l.4-4.4l.4-5.1l.4-1.9l.4 10.8l.4-.8l.4 2.1l.4-.9l.4 4.7l.4-7.4l.4 3.8l.4-2.9l.4-3.9l.4 5.8l.4-1.4l.4 4.6l.4-3.6l.4-1.1l.4-3l.4 7.7l.4 2.1l.4-6.2l.4 3.4l.4-.8l.4-6.4l.4 3.4l.4-1.5l.4-2.9l.4 11.5l.4-1.1l.4-13.7l.4 9.5l.4-3.6l.4-4.1l.4 7.7l.4 1.7l.4-5.3l.4 4.1l.4-3.2l.4 3.5l.4 3.1l.4 1.1l.4-1.4l.4-4.8l.4-.6l.4-6.7l.4-3.4l.4 11.2l.4 1.2l.4-6.6l.4 1.3l.4 1.6l.4 2.9l.4-2.8l.4 3.4l.4-.4l.4 5.4l.4-8.9l.4 4.6l.4-1.7l.4 12.2l.4-11l.4-16.1l.4 6.5l.4 4.4l.4 6.3l.4-2.8l.4-2.5l.4 4.2l.4-10.4l.4 5.4l.4 6.7l.4-1.1l.4 .3l.4 14.8l.4-18.4l.4-1.8l.4 .2l.4 6.9l.4-.9l.4-7.5l.4-2.4l.4 3l.4 7l.4-4.1l.4-1.9l.4 4.3l.4-3.9l.4 1.1l.4 3.3l.4 1.3l.4-5.1l.4-.7l.4 6.5l.4-.4l.4 .7l.4-.9l.4 .3l.4 .7l.4-.1l.4-2.4l.4-2l.4-3.2l.4 22.8l.4-6.1l.4-8.4l.4 4.3l.4-16.2l.4 18.6l.4-9.5l.4 5.5l.4-1.8l.4-18.1l.4 16.5l.4 16.5l.4-4l.4-13.1l.4 1.5l.4 6l.4-9.5l.4 12.4l.4 10.4l.4-25.8l.4 5.9l.4 17l.4-17.4l.4-3.3l.4 7.4l.4-8.4l.4 7.7l.4-13.6l.4 12.8l.4 13.1l.4-17.8l.4-2.4l.4 5.2l.4-.1l.4-5.1l.4-4.3l.4 4.8l.4 4.6l.4-.1l.4 2.3l.4 .3l.4 10.4l.4-18.8l.4 10.4l.4-7.2l.4 6l.4 6.7l.4-9.6l.4 5.9l.4-4l.4-7.8l.4 1.3l.4 2.1l.4 2.8l.4-3.9l.4-14.4l.4 14l.4-8.5l.4 8.5l.4-7.7l.4 8.4l.4-3l.4 3.6l.4-6.4l.4-2.7l.4 17l.4-6.4l.4 1.9l.4-9l.4 4.9l.4-.9l.4 1l.4 4.8l.4-8l.4 .3l.4 5.8l.4-.4l.4-.6l.4-6.6l.4-.9l.4 2.6l.4-.4l.4-1l.4 3.6l.4-3.8l.4 5.6l.4-12.4l.4 5.5l.4 .1l.4 3.5l.4-5l.4 3.6l.4-7.5l.4 11.8l.4-4.6l.4-9.3l.4 16.8l.4-8.1l.4 6.1l.4-3.3l.4-5.9l.4 1l.4 1.7l.4 4l.4 0l.4-5.4l.4 1.6l.4-1.3l.4 5.1l.4 1.4l.4-2.4l.4 1.3l.4-4.4l.4 .5l.4-5.4l.4 4.7l.4-1.1l.4-1l.4 6.3l.4-2.7l.4-1.7l.4 4.3l.4 .4l.4-10.4l.4 1.6l.4 6.5l.4 .8l.4-5.1l.4 .2l.4 4.8l.4 14.3l.4-17.8l.4-.6l.4-1.9l.4 12.4l.4-10.2l.4 4.4l.4-1.5l.4 1.2l.4-.9l.4-1.4l.4 8.7l.4-7.3l.4-3.5l.4-1.8l.4-.8l.4 1.7l.4-3.4l.4 3.1l.4-1.2l.4 5.1l.4-2.9l.4 .6l.4 3.4l.4-1.3l.4-7.4l.4 6.8l.4 4.6l.4-10.9l.4 8.7l.4-9.6l.4 17.5l.4-3.9l.4-3l.4-6.6l.4-1l.4 12l.4-9.5l.4-.8l.4 2.3l.4 0l.4 1.7l.4-7.7l.4 11.5l.4-4.8l.4-1.8l.4 1.9l.4 21.2l.4-19.3l.4-6l.4 4.7l.4 12.7l.4-4.5l.4-7.5l.4 .5l.4-4.5l.4-2.1l.4 9.9l.4-9.4l.4 7.8l.4 6.2l.4-13.4l.4 .9l.4-4.9l.4 8.7l.4 6.8l.4-3.5l.4-3.1l.4-2.9l.4 10.4l.4-14l.4 .7l.4 13.8l.4-8l.4-6.3l.4-2l.4 13.3l.4-10.5l.4 2.1l.4 3.6l.4-3l.4 .3l.4 1.7l.4 4l.4 0l.4-5.7l.4-4.3l.4 1.3l.4 5.7l.4 2.6l.4-6.3l.4-3.4l.4 4.5l.4-4.9l.4 9.1l.4 4.8l.4 1.5l.4-8.8l.4-1.3l.4-.6l.4 1.8l.4-4.6l.4 3.4l.4-2.4l.4-.6l.4 3.5l.4 2.9l.4-5.4l.4 10.1l.4-13.6l.4 8.1l.4-2.9l.4 4l.4 7.5l.4-10l.4-2.6l.4 3.4l.4 3.1l.4-1l.4-2.2l.4-7.6l.4 3.3l.4 7.6l.4-1.9l.4 1.5l.4-9.7l.4 8.5l.4-5l.4 2.3l.4 4.7l.4-15l.4-1.9l.4 9.5l.4-1.7l.4 13.5l.4-8.5l.4-9.8l.4 1.2l.4-9.6l.4 20.3l.4 1.5l.4-5.3l.4 .3l.4 .2l.4-2.5l.4 10.7l.4 0l.4-11.5l.4 4l.4-3l.4 2.8l.4 4.3l.3-4.4l.5-2.6l.4-.5l.4 1.5l.4 2.3l.3-6.8l.5 6.5l.4 3.8l.4-5.5l.4-.1l.3-4.6l.5 9.6l.4-6.7l.4 21.6l.4-6.3l.3-12.3l.5 3l.4-1.1l.4-3.7l.4 2l.3 .1l.5 2.1l.4-2.4l.4-5.4l.4 2.7l.3 2l.5 0l.4 8.1l.4 2.4l.4-2.6l.3-4.9l.5-3.6l.4 5.6l.4-5.2l.4-10.8l.3 13.6l.5-1.9l.4-.3l.4 9.5l.4-13.6l.3 2.5l.5 8.5l.4-.9l.4 7.8l.4-9.2l.3-4.1l.5-2l.4-1.8l.4 7.9l.4-7.6l.3 1.7l.5 2.5l.4-6.1l.4 6.6l.4 2.2l.3 .8l.5-21.4l.4 11.3l.4 6l.4-4.1l.3 36.6l.5-29l.4 4.4l.4-13.2l.4 2.1l.3-3.1l.5 11.7l.4-5.4l.4-4.5l.4 11.9l.3 2.2l.5-5.6l.4-6.1l.4 10.4l.4-7.3l.3-4.8l.5-.8l.4 7l.4 2.3l.4-3.6l.3 8.2l.5-9.1l.4-1.9l.4 3.8l.4-5l.3 6.3l.5-2.2l.4 12.7l.4-11.3l.4-2l.3 1.9l.5 5.9l.4-26.3l.4 17.7l.4 2.2l.3-10.6l.5 7.6l.4 10l.4-12.5l.4-2l.3 8.2l.5 3l.4-9.7l.4-1.2l.4 3.1l.3 2.4l.5-10.2l.4 3.6l.4 6.2l.4-1.9l.3-.2l.5-3.7l.4 5.3l.4 4.7l.4 1.1l.3-1.9l.5 3.4l.4-11.1l.4-3.1l.4 7.2l.3-2.7l.5 1.1l.4 5.4l.4 3.2l.4-16.5l.4 3.2l.4 4.8l.4 6.1l.4-3.6l.4-3.4l.4 6.1l.4 .7l.4-3.9l.4 4.4l.4 1l.4-3.6l.4 .8l.4-17.9l.4 14.8l.4 9.1l.4-6.2l.4 26.4l.4-28.6l.4 4.7l.4-7.7l.4 .5l.4 10.1l.4-8.9l.4 3.2l.4-3l.4-1.4l.4 .4l.4-3.1l.4 15.7l.4-9.9l.4 3.7l.4-2l.4-7.3l.4 4l.4 9.1l.4-7.9l.4 4.2l.4-1.7l.4-3.8l.4 6.8l.4-1.9l.4 .5l.4 2.9l.4-1.7l.4-5.8l.4 .5l.4-6.8l.4 5.5l.4 .7l.4 1.9l.4-3.1l.4 2.6l.4-.2l.4-3.5l.4 2.1l.4-.7l.4 5.5l.4-2.8l.4-.5l.4 4.1l.4-5.5l.4 2.2l.4 1.1l.4-5l.4 .7l.4-5.8l.4 14.1l.4-6.4l.4 4.9l.4-8.1l.4 .1l.4 4.9l.4 2.4l.4 .2l.4-5.2l.4-2.8l.4-3.8l.4 8.4l.4 3l.4-7.3l.4-12l.4 22.5l.4-1.7l.4-7.4l.4-.6l.4 7l.4 2.8l.4-.6l.4-3l.4-5.4l.4-.3l.4-5.5l.4 11.3l.4-6.5l.4 5.4l.4-16.2l.4 27.7l.4-6.6l.4-10.7l.4 7.7l.4-11.6l.4 11.9l.4 2.3l.4-10.2l.4-2.5l.4 2.3l.4-5.5l.4 7.9l.4-10.2l.4 10.6l.4-6.6l.4 12.1l.4-10.5l.4 6.3l.4-5.5l.4 3.7l.4-2.8l.4 .3l.4-1.1l.4-3l.4 3.4l.4 10.5l.3-7.3l.5-2.5l.4 5.1l.4-7.9l.4 14l.3-3.9l.5-6.1l.4-1.9l.4 3.1l.4 9l.3-5.4l.5 .6l.4 .1l.4-1.4l.4-7.3l.3 2l.5 3l.4 .6l.4 8.1l.4-12.4l.3 2.4l.5 3.3l.4-4.6l.4 9.6l.4-3l.3-1.9l.5-10.2l.4 5.1l.4 3.1l.4 2.1l.3-1.2l.5-18.3l.4 8.1l.4 14.4l.4-5.6l.3-7l.5 7.1l.4-6.9l.4 7.7l.4-11.4l.3 10.4l.5 13.6l.4-5l.4-4.4l.4-3.3l.3-3.6l.5 3.5l.4-9.6l.4 15.4l.4-7l.3-5.7l.5 5.6l.4 1.6l.4-11.7l.4 16.3l.3-1l.5-2.7l.4-1.6l.4-3.6l.4-14.7l.3 21.8l.5 1.1l.4 3.6l.4-8.6l.4-.5l.3-2.6l.5 5l.4-11.1l.4 8.7l.4 3.4l.3-8.8l.5-4.1l.4 6.9l.4-1.8l.4-.2l.3 3.2l.5 4.2l.4 10.6l.4-9.8l.4-4.2l.3-1.4l.5-6.7l.4 5.1l.4 7.1l.4-4.7l.3 10.7l.5-17.6l.4 9.8l.4-3.4l.4-1.8l.3 6l.5-2.5l.4 .5l.4 3.5l.4-3.8l.3 .3l.5-14.3l.4 8.8l.4 1.3l.4-2.4l.3 10l.5 2.1l.4-2.5l.4-3.2l.4-5.6l.3 5.1l.5-.2l.4 4.9l.4-7.7l.4 1.1l.3 1.6l.5-.6l.4 2.3l.4-3.5l.4 1.8l.3 .8l.5 .9l.4-2.2l.4 .3l.4 1.4l.3-5.3l.5 11.3l.4-6.5l.4 1.4l.4-1.2l.3-3.9l.5-3l.4-5l.4 10.2l.4-3.2l.3-1.6l.5 3.1l.4-1.1l.4 3.8l.4-1l.3 0l.5 4l.4 0l.4-2.3l.4 1.5l.3 2.2l.5-4.9l.4-.9l.4-.1l.4 3l.3-.3l.5-2l.4-3.8l.4-1l.4 .5l.3 11.4l.5-6.7l.4-3l.4-.3l.4 7.8l.3-5.8l.5-1.4l.4 5.5l.4-2.7l.4-2.1l.3 4.3l.5-13.5l.4 5.7l.4 3.1l.4 1.6l.3 3.7l.5-4.4l.4-1.2l.4-.3l.4 5.7l.3-2.7l.5 .9l.4 .1l.4-3.4l.4 8.3l.3-.8l.5-2.9l.4 .8l.4 4.4l.4-10.8l.3 2l.5-19.9l.4 16l.4 16.2l.4-26l.3 8.8l.5 4.9l.4 5l.4-5.9l.4-10.3l.3 11.9l.5-1.9l.4-7.7l.4 5.4l.4 1.4l.3 1.5l.5-3.8l.4 2.9l.4 3.2l.4-2.1l.3 1.1l.5 .1l.4 4.7l.4-6l.4 1.1l.3 2.9l.5 4.1l.4-4.4l.4 .3l.4-3.2l.3-.7l.5 4.4l.4-2.2l.4 4l.4-5.8l.3-3l.5-.6l.4 2.3l.4 3l.4-3.1l.3 .5l.5-.1l.4-2.1l.4 1.6l.4 2.1l.3-2.8l.5 .3l.4-1.2l.4 6.3l.4 2.7l.3-6.4l.5-5.8l.4 5.2l.4-2.1l.4 1.9l.3 4.6l.5-2.4l.4-4.5l.4 .2l.4 3.8l.3 .9l.5-1.4l.4 3l.4-10.2l.4 4.8" stroke="#2e2" stroke-width="0.9" />
<path d="M668.9 367.8l.4 .9l.4 1.5l.4 .1l.4-2.8l.4 .2l.4-1.7l.4 2.5l.4-.1l.4 1l.4-.1l.4-2.6l.4 2.6l.4 .8l.4-.7l.4-2l.4 1.1l.4-.5l.4 2.4l.4 2.6l.4-6.1l.4 .3l.4 .6l.4-.7l.4-.4l.4 .8l.4 .9l.4 .4l.4-2.7l.4 1.6l.4-1.7l.4 2.5l.4 0l.4-2.6l.4 4.5l.4-1.6l.4 1.7l.4-1l.4-1.7l.4 1l.4-1.3l.4 1.2l.4 0l.4-.4l.4-.7l.4 2.4l.4-1.2l.4 1.2l.4-2.9l.4-.2l.4 1.7l.4-1l.4-.7l.4 .1l.4 .2l.4 .3l.4 .5l.4 3.3l.4-2.1l.4-.5l.4 .3l.4 .7l.4 2.1l.4-4.8l.4 2.6l.4 .1l.4 1.7l.4-2.3l.4-4.8l.4 5l.4 0l.4-.4l.4-.1l.4-.8l.4 1.5l.4-3.3l.4 1.9l.4-2.6l.4 3l.4 1.9l.4-1l.4-2l.4 .5l.4 .3l.4 .4l.4-.7l.4-1.3l.4 1.5l.4-2.6l.4 5.6l.4-4.3l.4 .9l.4 .7l.4-.9l.4 1.1l.4-.9l.4-2.2l.4 2.6l.4 .2l.4-1.9l.4 3.7l.4-1.9l.4-.1l.4 1.2l.4 1.1l.4-2.6l.4-3.2l.4 3l.4-.4l.4 .2l.4-1l.4 .1l.4 1.7l.4 0l.4-.6l.4 4.1l.4-2.9l.4-.4l.4 .2l.4-2.5l.4-1l.4 3l.4-.6l.4-1l.4-.2l.4 4.3l.4-5l.4 3.2l.4 .3l.4 .3l.4-1.7l.4-3.3l.4 2.5l.4 0l.4 5l.4-.2l.4-2l.4-2.5l.4 2.6l.4-.6l.4-3.5l.4 3.7l.4-4.3l.4-4.9l.4 4.1l.4 3.1l.4 4l.4-2.9l.4-3.5l.4 2.6l.4 2l.4 .8l.4-8.3l.4 1.8l.4 4.9l.4-3.1l.4 1.9l.4 10.5l.4-11l.4-1.4l.4 7l.4-2.6l.4-1.4l.4-.4l.4 3.7l.4-3.5l.4-2.3l.4 1.3l.4 2.6l.4-9.8l.4 5.6l.4 1.1l.4 3l.4-1.8l.4-2.8l.4 11.5l.4-14.6l.4 7.6l.4-3.7l.4-4.5l.4 4.5l.4 1.1l.4-7l.4 7.8l.4 .1l.4-.7l.4 5.6l.4-3.9l.4-1.9l.4 1.7l.4-1.4l.4-.4l.4 .7l.4-7.9l.4 7.7l.4 1.3l.4 2.7l.4-7.9l.4 7.9l.4 .2l.4-10.4l.4 7l.4-1.3l.4-2.9l.4 .5l.4-2.5l.4 10.8l.4-7.2l.4 1.2l.4-1.5l.4 4.3l.4-4.9l.4 4.9l.4 0l.4-1.3l.4 6.8l.4-4.4l.4-1.5l.4-2.2l.4 .5l.4-.8l.4-6.3l.4 4.1l.4 2l.4 2.8l.4-1.2l.4-5.8l.4 9.3l.4-6l.4 1.8l.4 2.4l.4 .4l.4-2.4l.4 2.9l.4-3.1l.4 1.8l.4-4.8l.4 2.2l.4-5l.4 7.7l.4-2.3l.4 3.7l.4-8.8l.4 6.3l.4 4.4l.4-4.2l.4 1.9l.4-.6l.4 .9l.4-4l.4 2.1l.4 .1l.4 1l.4 1.8l.4-8.1l.4 6.2l.4-2.3l.4 1.9l.4-3l.4 3.1l.4-2.6l.4 5.8l.4-4.4l.4 1.7l.4 .1l.4 .9l.4-.8l.4-1.8l.4-.4l.4 2.3l.4-.9l.4 1.6l.4-3.1l.4-2.4l.4 4.3l.4-.7l.4 1.1l.4-.7l.4 .4l.4-4.9l.4 5.8l.4 1.6l.4-1.7l.4-4.1l.4 5.3l.4-.3l.4 .5l.4 1l.4-3.6l.4-6l.4 3.6l.4-1.5l.4 5.4l.4 4.1l.4-5.4l.4-2.9l.4 .9l.4 7.2l.4-5l.4 2.4l.4-.8l.4-.7l.4-.6l.4 5.4l.4-3.3l.4-.4l.4-1l.4 .2l.4-1l.4 .4l.4-.6l.4 2.7l.4-3.5l.4 .3l.4-1l.4 3.6l.4-5.3l.4 6.3l.4-4l.4 .7l.4 .7l.4 2.5l.4-1.6l.4-1.4l.4-1.5l.4-.8l.4 5.1l.4-6.8l.4 5.7l.4-3l.4 2.5l.4 1.9l.4-2.4l.4 2.7l.4-1.3l.4-.3l.4 .8l.4-.6l.4-1.3l.4-2l.4 2.1l.4-2.2l.4 .8l.4 4.4l.4-2.8l.4-2.2l.4 0l.4 1.1l.4 3.5l.4-2l.4-4l.4 3.8l.4 2.9l.4-1.1l.4-2l.4 4.8l.4-5.2l.4 .8l.4 2.3l.4-6.1l.4 7.8l.4 3.6l.4-8.1l.4 3.2l.4-6.3l.4 4.8l.4-4.8l.4 11.6l.4-5.9l.4-.1l.4-.2l.4-7.3l.4-14.2l.4 9.7l.4 1.4l.4-2.4l.4 12.2l.4 6l.4 4.7l.4-8.1l.4-13.8l.4 7.6l.4 1.2l.4 3.1l.4-1.3l.4-2.3l.4 1.2l.4-4.4l.4 4l.4-4.5l.4-3.6l.4 13.4l.4-4.5l.4-3.6l.4 2.9l.4-1.8l.4-.2l.4 4.7l.4-5.2l.4-4.1l.4 5.3l.4-.1l.4 2.3l.4 15.8l.4-19.3l.4-1.1l.4-3.9l.4 3.1l.4 4.5l.4-.2l.4 1.2l.4 1.6l.4-1.1l.4-6.9l.4 8.3l.4-3.2l.4-2.2l.4-3.5l.4 9.6l.4-2.9l.4-3.8l.4-14.2l.4 17.1l.4-4.6l.4 6.3l.4-5.4l.4 .1l.4 3.2l.4 6.2l.4-2.8l.4-2.1l.4-1l.4-3.7l.4 5.1l.4-1.9l.4-1l.4 .1l.4-2.3l.4 .8l.4 1.1l.4 3.6l.4-3.6l.4 .8l.4 2.1l.4-.1l.4-5.2l.4 3.5l.4 1.4l.4-1.3l.4-.2l.4 .4l.4 2.6l.4-5.4l.4 5.7l.4-4.6l.4 2.2l.4-1.4l.4 3.7l.4-2.8l.4-1.6l.4 1.6l.4-4.4l.4 1.3l.4 1.9l.4 2.8l.4-2.6l.4-7.7l.4 9.6l.4-2.7l.4-1.4l.4 1.5l.4 2.5l.4-.1l.4-.6l.4-1.1l.4-2.6l.4 2.9l.4 6.8l.4-4.7l.4-5.2l.4 2.4l.4-2.4l.4 3.6l.4-.8l.4 1.3l.4-1.6l.4-3.1l.4 1.9l.4 2.8l.4-.1l.4-.9l.4 4.1l.4-2.2l.4-.2l.4 .7l.4-3.9l.4-.8l.4 1.3l.4 1.4l.4-4.2l.4 3.6l.4 .7l.4 .5l.4-4.8l.4 .4l.4 4.2l.4-4.3l.4 3.2l.4-1.4l.4 3.3l.4-2.1l.4 1.7l.4 1l.4-3.4l.4 1.9l.4-.4l.4 .9l.4 .3l.4-2.7l.4-1.7l.4 2l.4 .2l.4 .5l.4-2.5l.4-2.5l.4 4.3l.4 4.2l.4 .8l.4-1.8l.4-4l.4-2.3l.4 6.9l.4-5.9l.4 4.8l.4-.5l.4-.7l.4-2.9l.4 3.2l.4 13.2l.4-9.2l.4-6.3l.4-.5l.4 2.2l.4-1.8l.4-1.3l.4 4l.4-2.6l.4 2.1l.4-1.8l.4 0l.4-.1l.4 1.6l.4 3.1l.4-2.1l.4-3l.4 5.9l.4-3.9l.4-1.2l.4-3l.4 1.8l.4 3.4l.4-2l.4-6.6l.4 2.7l.4 6.3l.4-3.7l.4 4.5l.4-4.4l.4 2.6l.4-2.1l.4 1.2l.4-.7l.4 1.6l.4-2.9l.4 2.2l.4 .6l.4 2.8l.4-4.3l.4 .4l.4-4.9l.4 6.9l.4 .4l.4-7.7l.4 2.6l.4 4.3l.4-2l.4 2.1l.4-.7l.4-1.7l.4-.1l.4-3.5l.4 2.5l.4 2.8l.4 .9l.4 .9l.4-1.7l.4-5.3l.4 6l.4-2.3l.4 .6l.4-.3l.4 .4l.4 .8l.4-1.1l.4 1.8l.4 2.5l.4-3.9l.4 2.6l.4-2.7l.4 2.5l.4-4.3l.4 15.5l.4-11.6l.4-4l.4 .3l.4 4.1l.4-2.2l.4 0l.4 1.4l.4-6.6l.4 2.2l.4 1.8l.4 6.5l.4-5.7l.4-2l.4 1.6l.4 7.1l.4-8.4l.4 .2l.4-.6l.4-.6l.4 .9l.4 1.7l.4 3.1l.4-.8l.4-.9l.4-2.3l.4-1.4l.4 1l.4-.4l.4-1.7l.4 3l.4 4.3l.3-2.8l.5-5.5l.4 8.4l.4-6.4l.4 2.3l.3 .5l.5 .9l.4-.7l.4 13.9l.4-14.4l.3-1.8l.5 5.9l.4-4.6l.4-1.1l.4 3.4l.3-2.6l.5 1.4l.4-5.2l.4 6.4l.4-3.3l.3-2.7l.5-2.5l.4 1.4l.4 .1l.4 3.9l.3 .6l.5 1.9l.4-3.3l.4-.2l.4 .6l.3-1.4l.5 4.3l.4-5.9l.4 6.8l.4-4.3l.3 2.2l.5 3.8l.4-8.1l.4-.4l.4 3.8l.3-.3l.5 2.8l.4-4.3l.4 6.8l.4 .6l.3-6.8l.5 2.2l.4-3.8l.4 6.7l.4-2.5l.3 .2l.5-.9l.4-2.4l.4-2.8l.4 7.5l.3-2.7l.5 1.6l.4 1.7l.4-6.5l.4-7.1l.3 14.3l.5-1.9l.4-.1l.4-2.4l.4-4.6l.3 11.1l.5-2.6l.4-1.1l.4-6.9l.4 9.8l.3-1.5l.5-7.5l.4 5.8l.4-.8l.4 10.8l.3-11.3l.5 7.1l.4-3.4l.4-2.2l.4-2.2l.3-3.7l.5 2.4l.4 3.6l.4 .6l.4-2.3l.3-5.6l.5 5.4l.4-2.9l.4 5.6l.4 0l.3-1l.5 1l.4 .7l.4-4.2l.4-.6l.3 1.2l.5-1.5l.4 2.3l.4-2.2l.4 2.2l.3-3l.5 .6l.4 5l.4-11l.4 7.5l.3-.7l.5-1.5l.4 1.7l.4 .3l.4 3.4l.3-4.3l.5 2.3l.4-2.1l.4 3.1l.4-4.4l.3 3.5l.5-.5l.4-2.2l.4-3l.4 6.5l.3-4l.5 3.5l.4-1.9l.4 1.8l.4-5.2l.4-1.7l.4 1.8l.4-1l.4 7.2l.4 2l.4-4.2l.4 2.9l.4-1.6l.4-2l.4 .7l.4-7.4l.4 4.7l.4 1.8l.4 .8l.4-10l.4 6.5l.4 7.1l.4-2.1l.4 3.2l.4-2.7l.4-1.1l.4 3l.4-5.3l.4 .4l.4 .7l.4 2.3l.4-2.5l.4 1l.4 .1l.4 .6l.4-.8l.4 .3l.4-.1l.4 11.6l.4-7.9l.4-4.6l.4-5.6l.4 5.6l.4-1.1l.4 2.8l.4-.8l.4 .8l.4 .2l.4 .3l.4 .2l.4-1.1l.4-4.3l.4 5.5l.4-2.9l.4 1.1l.4 4l.4-4.4l.4 3.7l.4-3.8l.4 6.3l.4-8.5l.4 2.6l.4-.2l.4 1.4l.4 .7l.4-5.1l.4-.3l.4 5.4l.4-3.4l.4-1.2l.4 4.6l.4-1.5l.4-1l.4-3l.4-1.1l.4 5.1l.4-3.4l.4 2.9l.4 3.6l.4-2.5l.4 1.8l.4-1.5l.4-2.9l.4-.7l.4 2.1l.4-.1l.4 1.3l.4-3.7l.4 6.7l.4-2.8l.4-4.6l.4 1.1l.4 3.9l.4-.4l.4-2l.4-1.9l.4 5.8l.4-1.4l.4-.8l.4 .4l.4-2.2l.4 .8l.4-4.7l.4 4.7l.4-.1l.4 1.5l.4-4l.4 3.3l.4-1.5l.4-6.2l.4 7.3l.4 .2l.4 1.9l.4-1.4l.4-4.3l.4 2.5l.4 1.7l.4-1.8l.4 2.5l.4-5.3l.4 5.4l.4-4.9l.4 2.5l.4-.9l.4 5.1l.4-6.3l.4 1.9l.3-1.5l.5-3.2l.4 1.6l.4 2.3l.4 3.1l.3 .9l.5-1l.4-1.7l.4-1.4l.4 1.6l.3-2.3l.5 4.8l.4-4.3l.4-3.9l.4-.5l.3 7.9l.5-2.7l.4-2.4l.4-2.5l.4 6.2l.3-.9l.5 3.3l.4-4.9l.4 2.2l.4-.8l.3-.8l.5 3.6l.4 .1l.4-3.4l.4 .6l.3 2.4l.5-4.1l.4-4l.4 3.6l.4 .6l.3 1.5l.5-.3l.4 .7l.4 1.8l.4 5.2l.3-9.3l.5-1.5l.4 4.8l.4 11.7l.4-11.4l.3 1.1l.5-3.4l.4-.1l.4-.7l.4-5.8l.3 10.3l.5-1.2l.4-2.2l.4 6.7l.4-3l.3-5.7l.5 4.3l.4-.2l.4-1.2l.4 .9l.3 1.8l.5-3.4l.4-.8l.4-2.1l.4 4.3l.3-1.7l.5-1l.4 2.4l.4-2.2l.4 1.7l.3 3.7l.5-2.8l.4-.4l.4-4.6l.4-.4l.3 3.7l.5 .6l.4 2.3l.4 1.6l.4-3.2l.3-2.6l.5-.1l.4 4.4l.4-1.1l.4-.9l.3-2.5l.5-3.7l.4 4.7l.4-1.3l.4-.4l.3 4.9l.5-5.8l.4 7.5l.4-2.4l.4-4l.3 3.8l.5-2.8l.4 .9l.4-.1l.4 .2l.3-.8l.5 1.9l.4 3.3l.4-3l.4-1l.3 1.3l.5 .2l.4-.7l.4 .5l.4 1.3l.3-.8l.5 .1l.4-2.2l.4 1l.4 2.7l.3 .9l.5-4.4l.4-.7l.4 .4l.4-1.5l.3-1.7l.5 1l.4 5l.4-2.5l.4 .1l.3-1.2l.5 .1l.4 3.2l.4 .1l.4-1.1l.3 1.9l.5-1.7l.4-2.1l.4-1l.4-.2l.3 3.6l.5-.2l.4-2.3l.4-.3l.4 5l.3-4.8l.5 1.1l.4 .6l.4-2.5l.4 4l.3-5.6l.5 2.7l.4 6.1l.4-6.5l.4-.1l.3 .9l.5 .8l.4-1.2l.4 3.8l.4-2.4l.3-.3l.5 .2l.4 .1l.4-2.5l.4-.3l.3-.4l.5 .8l.4 4.8l.4 .7l.4-3.6l.3 1.3l.5-.6l.4-1.5l.4-1.3l.4 3.8l.3-2.5l.5 1.4l.4-1.8l.4 2.7l.4-7l.3 6.2l.5-2.2l.4 4.2l.4-4.4l.4 1.6l.3 .9l.5-2l.4-.9l.4 3l.4-.5l.3 1l.5-4.3l.4 8.4l.4-4.9l.4-12.7l.3 10.4l.5-1.3l.4 3.2l.4 1.2l.4-1l.3-.9l.5 2.8l.4-2.4l.4-1.5l.4 2.6l.3 .5l.5 .1l.4 .2l.4-3.8l.4-.2l.3 1.2l.5 0l.4-.3l.4 .7l.4 .8l.3 2.6l.5-.4l.4-1.3l.4-.9l.4 2.2l.3-2.8l.5-4.2l.4 2.2l.4 0l.4 3.6l.3 0l.5-4.2l.4 1.9l.4 .4l.4-.6l.3 0l.5 2l.4 1.2l.4-4.9l.4 1.9l.3-4l.5 5.1l.4-1l.4 1.8l.4 .8l.3-1.1l.5-1.1l.4 1.5l.4-3.2l.4 .5l.3 7.6l.5-3.1l.4-6.6l.4 2l.4 3.7" stroke="#f11" stroke-width="0.9" />
<path d="M668.6 368.7H1122.6" stroke="#000" stroke-width="1.6" stroke-dasharray="5 3.5"/>
</g>
<path d="M716.5 337.3v10M716.5 411.1v-10M807.5 337.3v10M807.5 411.1v-10M898.5 337.3v10M898.5 411.1v-10M989.5 337.3v10M989.5 411.1v-10M1080.5 337.3v10M1080.5 411.1v-10" stroke="#111" stroke-width=".95"/>
<path d="M686.2 337.3v3.2M686.2 411.1v-3.2M746.8 337.3v3.2M746.8 411.1v-3.2M777.2 337.3v3.2M777.2 411.1v-3.2M837.8 337.3v3.2M837.8 411.1v-3.2M868.2 337.3v3.2M868.2 411.1v-3.2M928.8 337.3v3.2M928.8 411.1v-3.2M959.2 337.3v3.2M959.2 411.1v-3.2M1019.8 337.3v3.2M1019.8 411.1v-3.2M1050.2 337.3v3.2M1050.2 411.1v-3.2M1110.8 337.3v3.2M1110.8 411.1v-3.2" stroke="#111" stroke-width=".9"/>
<path d="M668.6 392.8h5.2M1122.6 392.8h-5.2M668.6 368.7h5.2M1122.6 368.7h-5.2M668.6 344.6h5.2M1122.6 344.6h-5.2M668.6 402.4h2.4M1122.6 402.4h-2.4M668.6 397.6h2.4M1122.6 397.6h-2.4M668.6 392.8h2.4M1122.6 392.8h-2.4M668.6 388h2.4M1122.6 388h-2.4M668.6 383.2h2.4M1122.6 383.2h-2.4M668.6 378.3h2.4M1122.6 378.3h-2.4M668.6 373.5h2.4M1122.6 373.5h-2.4M668.6 368.7h2.4M1122.6 368.7h-2.4M668.6 363.9h2.4M1122.6 363.9h-2.4M668.6 359.1h2.4M1122.6 359.1h-2.4M668.6 354.2h2.4M1122.6 354.2h-2.4M668.6 349.4h2.4M1122.6 349.4h-2.4M668.6 344.6h2.4M1122.6 344.6h-2.4M668.6 339.8h2.4M1122.6 339.8h-2.4" stroke="#000" stroke-width=".9"/>
<rect x="668.6" y="337.3" width="454" height="73.8" stroke="#000" stroke-width="1.25"/>
<text x="666" y="396.8" font-size="11" fill="#000" text-anchor="end">-10</text>
<text x="666" y="372.7" font-size="11" fill="#000" text-anchor="end">0</text>
<text x="666" y="348.6" font-size="11" fill="#000" text-anchor="end">10</text>
<text transform="translate(640.5 373.5) rotate(-90)" font-size="11.2" fill="#000" text-anchor="middle">E<tspan font-size="8.6" dy="3.3">LMN</tspan><tspan dy="-3.3">&#8203;</tspan>&#160; [mV m<tspan font-size="9" dy="-4.5">-1</tspan><tspan dy="4.5">&#8203;</tspan>]</text>
<clipPath id="cm6"><rect x="668.6" y="411.1" width="454" height="73.8"/></clipPath><g clip-path="url(#cm6)" stroke-linejoin="round">
<path d="M728 415.1V484.9" stroke="#5c5" stroke-width="2" stroke-dasharray="9 5" opacity="0.9"/>
<path d="M756.3 415.1V484.9" stroke="#f00" stroke-width="1.3" stroke-dasharray="6.5 2" opacity="1"/>
<path d="M756.3 415.1V484.9" stroke="#00f" stroke-width="1.3" stroke-dasharray="1.6 6.9" opacity="1"/>
<path d="M813 415.1V484.9" stroke="#f44" stroke-width="1.8" stroke-dasharray="11 4" opacity="0.85"/>
<path d="M819 415.1V484.9" stroke="#f0f" stroke-width="1.8" stroke-dasharray="2 3" opacity="1"/>
<path d="M841.5 417.1V484.9" stroke="#0a0" stroke-width="1.3" stroke-dasharray="9 4" opacity="1"/>
<path d="M668.9 451.3l.4 2.1l.4-3.7l.4 1.8l.4 .7l.4 3l.4-1.5l.4 0l.4-2.1l.4 .2l.4-4.9l.4-4.2l.4 13.3l.4-2.4l.4 2.1l.4-5.6l.4-.2l.4-2.3l.4 4.8l.4-.7l.4 2.2l.4-3.6l.4 1.1l.4-5.4l.4-1.8l.4 3.5l.4 1.6l.4-.9l.4 3l.4-1.5l.4 .1l.4-2.6l.4 2.7l.4-7.4l.4 7.3l.4-1.7l.4-1.8l.4-1.1l.4-2.6l.4 1.1l.4 2.6l.4-.9l.4-1.8l.4 4.6l.4-2.7l.4-.9l.4-2l.4 5.1l.4-2.4l.4-1.8l.4 1.4l.4-2.7l.4-.1l.4 4.2l.4-2l.4-3.9l.4 1.5l.4 .9l.4 1.5l.4-.5l.4 7.7l.4-5.5l.4 2l.4-1.9l.4-.2l.4 1.4l.4-.9l.4 .7l.4 1.3l.4 2.9l.4-5.9l.4-1.2l.4 5.4l.4 1.2l.4-.3l.4-1.7l.4-2.9l.4-3.1l.4 5l.4-1.7l.4 4.2l.4-4.2l.4-4l.4 2.9l.4-1.3l.4 1.9l.4-1.1l.4-3.6l.4 7l.4 .7l.4-3.7l.4 2.9l.4-.7l.4-1.9l.4 2.2l.4 0l.4 1.2l.4-.4l.4 1l.4 1.2l.4 .7l.4-3.3l.4-.6l.4-2.2l.4 4l.4 1.8l.4 6.1l.4-.5l.4-1l.4-2.4l.4-1.3l.4 1.2l.4 1.1l.4-1.9l.4-3.7l.4-1.4l.4 4.5l.4 1.4l.4-3.3l.4-.7l.4 2.7l.4 .6l.4-1.5l.4 1.8l.4 3.3l.4-3.3l.4-.5l.4 2.2l.4 1.4l.4-3.5l.4-.3l.4-.5l.4-.5l.4 1.1l.4-.8l.4 1.6l.4 .7l.4-.5l.4-5.1l.4 3.6l.4-3.8l.4-3.6l.4 5.8l.4-2.6l.4 2.2l.4 1.8l.4-4.9l.4 .7l.4 3.1l.4-2.6l.4 2.2l.4-2.2l.4 5.5l.4-.5l.4-3.3l.4-2.1l.4 1.4l.4-.4l.4 .6l.4 1.6l.4-.5l.4 2.3l.4-6.5l.4 2.3l.4-1.8l.4 2.7l.4 1.1l.4-.5l.4-2.4l.4-1.5l.4 5.2l.4-2.3l.4 2.4l.4 .3l.4-4.9l.4-1.1l.4 2.2l.4-2.4l.4 4.3l.4-2.4l.4-.6l.4 7.8l.4-3.5l.4-.9l.4-4.7l.4 6.1l.4-5l.4 2.1l.4 .6l.4-4.9l.4 2.8l.4 1.1l.4-4.8l.4 2.2l.4 1.4l.4-2.2l.4 1.4l.4 .3l.4-2.8l.4 3.1l.4-2.8l.4 1.6l.4-2.2l.4 0l.4-2.9l.4 3.3l.4 6l.4-4.1l.4-5.3l.4 .9l.4 1.4l.4 2.1l.4 .4l.4-1.5l.4 .8l.4-2l.4-1.4l.4 9.6l.4-10l.4 1.7l.4-2.2l.4 3.8l.4-3l.4 .3l.4-1.8l.4 3.3l.4-1.3l.4-1.1l.4 5.1l.4 4.1l.4-5.7l.4 4l.4-5.3l.4 1.6l.4-2.3l.4 1.8l.4 .6l.4 .4l.4 .3l.4 1.8l.4-2.9l.4-2.6l.4 7l.4-1.2l.4-3.3l.4 1.6l.4-1.8l.4 6l.4-.2l.4-1.2l.4-.6l.4-4.1l.4 2.5l.4 4.9l.4 5.6l.4-7.4l.4 2.5l.4-7.5l.4 6.7l.4-3.8l.4 2.7l.4-1.8l.4 5l.4-2.3l.4 2.7l.4 .7l.4-2l.4 12.9l.4-8.6l.4-3.9l.4-1.7l.4 .4l.4-3.3l.4 6.3l.4-1.1l.4-3l.4 1.8l.4 2.9l.4 1.1l.4-2.1l.4 3.8l.4 .8l.4 1.4l.4 3.8l.4-6.6l.4 0l.4 2.8l.4-7l.4 1.1l.4-2.3l.4-1l.4 2.9l.4 4.1l.4 5.1l.4-5l.4 1.6l.4-.6l.4-3.8l.4 3.2l.4 8l.4-8.4l.4-3l.4 4l.4-1.6l.4-5.2l.4 1.3l.4-4.7l.4 2.6l.4 4l.4 2.9l.4-3.5l.4-.5l.4 0l.4-3.7l.4 2l.4 2.4l.4-1.7l.4-1.3l.4-2.4l.4 .2l.4-.3l.4-1.5l.4 .9l.4-2.2l.4 3.9l.4 .7l.4-2.3l.4 2l.4-3.1l.4 6.2l.4-.7l.4-7.8l.4 4.4l.4 .3l.4-1.4l.4-6.2l.4 6l.4-1.2l.4 1.5l.4-1.7l.4 2.1l.4 2.2l.4-4.9l.4-1.8l.4 2.4l.4-.1l.4-1.3l.4 .4l.4 .6l.4 .1l.4-1.8l.4 5l.4-4.8l.4 2.5l.4-8.1l.4 2.3l.4 .6l.4 4.2l.4 .5l.4-1.3l.4 1.7l.4 .7l.4 .6l.4 2.3l.4-5.5l.4 6.3l.4-2.2l.4 2.5l.4 3.9l.4-1.2l.4 3.3l.4-3l.4-1l.4 2.3l.4 1.3l.4-.1l.4-2.5l.4-.5l.4-.1l.4 2.1l.4 1.5l.4-4l.4-1.7l.4 1.9l.4 1.3l.4-5l.4 1.7l.4-.6l.4-1.1l.4-2.8l.4 4.6l.4-4.3l.4 2.3l.4-.3l.4-4.7l.4 2.6l.4-.8l.4-3.7l.4 .7l.4 4l.4-1.2l.4 0l.4 5.7l.4-5.5l.4-.6l.4 3.7l.4-3l.4 8.8l.4-6.8l.4-2.9l.4-2.5l.4 .5l.4 1.7l.4 .9l.4 .6l.4-1.7l.4-2.9l.4-1.3l.4 3.6l.4 .2l.4 1.9l.4-1.2l.4 1.1l.4 .3l.4-.6l.4 1.3l.4 0l.4 2.1l.4-1.7l.4 1.2l.4 1.4l.4 .9l.4 2.7l.4-1.2l.4 2.5l.4-6.6l.4 1.1l.4 2.5l.4 2.7l.4-1.4l.4-1.9l.4 0l.4 2.1l.4-.2l.4 3.1l.4-2.6l.4 3.2l.4-2.9l.4-1.1l.4-.8l.4 1.5l.4-4.1l.4-2.6l.4 7.3l.4-1.7l.4-7.5l.4 9.7l.4-1.9l.4 0l.4-2.3l.4 1.6l.4 .4l.4-3.7l.4 1.9l.4-2.6l.4 3.1l.4-1.8l.4 .3l.4-.5l.4-3l.4 3.5l.4-.5l.4-3.7l.4 2.1l.4 .3l.4 2.7l.4 1.4l.4-.6l.4-4.5l.4-.6l.4-.1l.4 2.3l.4 1.4l.4-1.4l.4 2.9l.4-5.7l.4 1.9l.4 1.8l.4-8.9l.4 4.2l.4-1.3l.4-1.7l.4-2.4l.4 2.5l.4-2.1l.4-.9l.4 4.6l.4-3.2l.4 2.8l.4-2.7l.4 5.5l.4-5.4l.4 4.7l.4-1l.4 .3l.4 0l.4-.4l.4-1.3l.4 2.3l.4 1.5l.4 .3l.4-.8l.4-.8l.4-.2l.4 1.1l.4 5.2l.4-.4l.4-6l.4-.4l.4-.2l.4-4.3l.4 3l.4 3.1l.4-.3l.4 .8l.4-4.9l.4 5.7l.4 1.7l.4-6.6l.4-.2l.4 1.6l.4 3.9l.4-2.3l.4 4.9l.4-.9l.4-3.3l.4 1l.4-2l.4 3.7l.4-2.3l.4 .3l.4-3.1l.4 .3l.4 1.3l.4-.1l.4 8l.4-.5l.4-3.7l.4-1.4l.4 0l.4-3.1l.4 .4l.4 2l.4-.5l.4 1.6l.4-3l.4 .8l.4 6.4l.4 1.6l.4-1.8l.4 2.3l.4-2l.4 2.7l.4-.5l.4-1.8l.4-2.1l.4 3l.4 3.3l.4-4.4l.4-.6l.4 3.8l.4-1.4l.4 2l.4 7.3l.4 .9l.4-7.3l.4-1.4l.4 .2l.4 1.7l.4-.5l.4-.9l.4-.4l.4-1.8l.4 1.7l.4 1.6l.4-15.3l.4 15.2l.4-1.7l.4 .2l.4-.7l.4 .2l.4-1.5l.4-2.8l.4 3.5l.4-4.9l.4-1.3l.4 3.6l.4 .1l.4-.1l.4 1.9l.4 .1l.4-.2l.4-1.1l.4-1.6l.4 1.8l.4 .4l.4-4.1l.4 2.1l.4 1.6l.4-6.8l.4 10.8l.4-3l.4 1.2l.4-3.9l.4 5.7l.4-6.8l.4-.3l.4 4.2l.4-5.8l.4 .1l.4 7.8l.4-5.3l.4-1.9l.4 3.2l.4-2.5l.4 1.9l.4 2.8l.4-3.4l.4-3.9l.4 4.7l.4-5l.4 3.6l.4-5.2l.4 4.3l.4-.4l.4-1.8l.4-1.8l.4 2.9l.4 4.8l.4-5.5l.4-.2l.4 2.6l.4-1.2l.3-1.4l.5 .6l.4-.1l.4-3.1l.4-8.2l.3 7.2l.5 1.3l.4 2l.4-.3l.4-5.5l.3 3l.5 .2l.4-1l.4 .5l.4-2.1l.3 2.6l.5-1.2l.4-1l.4-2.8l.4 6.9l.3 .3l.5 3.4l.4-4.3l.4-3.2l.4 1.3l.3-1.6l.5-3.2l.4 5.9l.4-1.2l.4-6.2l.3 5.8l.5 5.5l.4-1.9l.4 1l.4-6.2l.3 2.7l.5 1.7l.4 3.3l.4 2.9l.4-3.4l.3-.9l.5 2.8l.4 3.5l.4-1.6l.4-2.9l.3 1.9l.5-1.3l.4 3.4l.4-7.1l.4-.9l.3 1l.5 3.1l.4-2.4l.4 2.9l.4-1.1l.3-.4l.5-4.1l.4 7.6l.4 7.5l.4-8.4l.3 .7l.5-1.6l.4-2.8l.4 5.9l.4-13.6l.3 6.4l.5 10l.4-5.8l.4-1l.4 1.1l.3 4.5l.5-.5l.4 4.3l.4-6.3l.4 5.8l.3-5l.5 3.2l.4 1.8l.4-4.3l.4-.4l.3 2.7l.5 .8l.4 .2l.4-.5l.4 4.7l.3-3.5l.5-1.8l.4 2.3l.4-5l.4 1.4l.3 4l.5 .1l.4-1.3l.4-3.4l.4 1.8l.3 1.1l.5-.7l.4 1.2l.4-2.2l.4-1.7l.3 2.3l.5-.6l.4-1.7l.4-.1l.4-2.9l.3 5.1l.5-2.2l.4-5l.4 4.4l.4 2l.3-6.6l.5 0l.4 4.3l.4-.7l.4 2.1l.3-1.5l.5 0l.4-4.3l.4 1.6l.4-1l.3 3.4l.5-5.4l.4-.1l.4 1.5l.4-2.6l.4 .8l.4-.6l.4 .1l.4-.7l.4 2.6l.4-3.4l.4 7l.4-1.3l.4-3l.4-2l.4 .9l.4-3.5l.4-.3l.4 3.7l.4-4.5l.4 .2l.4 1.7l.4-1.2l.4 .6l.4-1.7l.4-.1l.4-.3l.4-2.2l.4-1.2l.4 3.2l.4 1.3l.4-3.5l.4 1.4l.4-1.6l.4 4.1l.4-5.6l.4-.3l.4 4.1l.4 1.1l.4-.3l.4-2.5l.4 1l.4 4.3l.4-2.7l.4-2.1l.4 2.2l.4 2.2l.4-.3l.4 1.3l.4-4.2l.4 2.7l.4 .8l.4-.6l.4 1l.4-2.3l.4-1.7l.4-2.5l.4 3.1l.4-2.7l.4 3.8l.4 0l.4-2.2l.4 .3l.4 2.3l.4-3.6l.4 3l.4 .9l.4 .4l.4-4.2l.4 4.6l.4 .3l.4 2.3l.4 3.8l.4-3.4l.4 .5l.4 1.5l.4-5.7l.4 2.8l.4 .9l.4 4.5l.4-1.5l.4-.1l.4-2l.4-.6l.4 4.7l.4-.1l.4-4.9l.4 4.1l.4 5.4l.4-3.2l.4-3.9l.4 3.4l.4-1.1l.4 1.8l.4-6.3l.4 .3l.4 5.3l.4-1l.4 .9l.4-.5l.4 1.3l.4-2.6l.4 1.5l.4 .2l.4-2.5l.4 .7l.4 2.3l.4-1.9l.4 .8l.4-.5l.4 0l.4 5.2l.4-2.1l.4 7l.4-3.8l.4 5.6l.4-8.4l.4 2.5l.4-.3l.4-2.6l.4 2.5l.4 .1l.4 2.3l.4-3.6l.4-1.8l.4 3.5l.4 .8l.3-.5l.5 5.6l.4-5.8l.4-2.1l.4 .9l.3 4.6l.5-5.8l.4-2l.4-2l.4 1.5l.3-3.3l.5 1.7l.4 3.9l.4-.8l.4-1.6l.3-2.8l.5-.3l.4-2.8l.4 3.5l.4 .8l.3-5.9l.5 2.4l.4 4.1l.4-3.3l.4-.2l.3 0l.5-4.2l.4-.7l.4 0l.4 2.8l.3 4.1l.5-2l.4-4.6l.4-.6l.4 1.7l.3 .9l.5-1.9l.4 1.3l.4 .2l.4-4.4l.3-.1l.5-.3l.4 4.6l.4-3.7l.4-1.1l.3-5.6l.5 7.9l.4-1.7l.4-.1l.4 .6l.3 1l.5-.3l.4-3.1l.4-.1l.4 .2l.3-1.1l.5 7.1l.4-5.4l.4 2.3l.4-5.1l.3-2.9l.5 3.6l.4 1.9l.4 1.2l.4 1.9l.3-.4l.5-.8l.4-2.7l.4 2.2l.4 4l.3-1.3l.5 .6l.4 1.4l.4 .2l.4 .1l.3-1.4l.5 2.5l.4-3l.4 1.4l.4 1.8l.3-2.4l.5-1.5l.4 1.2l.4 .1l.4 4.9l.3-6.3l.5 1.5l.4 2.1l.4-2.1l.4 1.3l.3 .6l.5-1.8l.4 5.7l.4-1.2l.4-2l.3 2.6l.5 2l.4-4.8l.4-3.8l.4 3.6l.3-2.1l.5 4.7l.4 2.5l.4-5.6l.4 .6l.3 .7l.5 1.8l.4-1.4l.4-1.4l.4 .6l.3-1.8l.5 2.7l.4 3.4l.4-.6l.4-.8l.3-.4l.5-.6l.4 3.2l.4-4.3l.4-2.7l.3 1.8l.5 1.1l.4-4l.4-1.8l.4 .3l.3 4.9l.5 1.9l.4-1.7l.4-2l.4 2.8l.3-.4l.5-1.8l.4 5.7l.4-2.5l.4 2l.3 .4l.5-1.5l.4 2.4l.4-4.6l.4 2.9l.3-4.9l.5 5.5l.4 3.5l.4-.4l.4-.6l.3 1l.5 2.1l.4-2.5l.4-2.3l.4 2.6l.3 2.2l.5-.7l.4 2.7l.4-.3l.4-3.3l.3 .9l.5 0l.4-1.1l.4-7l.4 .7l.3 .7l.5-1.3l.4-.3l.4-2.5l.4-.1l.3 5.4l.5-3.8l.4 1l.4 1.3l.4-1.5l.3-.3l.5-1.1l.4 2.1l.4-4.7l.4 2.5l.3 2.1l.5 .6l.4-6.5l.4-1.2l.4 5.2l.3-2.9l.5-2.3l.4-1l.4 2.5l.4-5l.3 3.6l.5 1.2l.4-6.1l.4 3l.4-3.1l.3 1.6l.5 8.1l.4-9.5l.4-4.3l.4 5.1l.3-5.2l.5 3.5l.4 .6l.4 1.5l.4 5.2l.3-7.5l.5 .1l.4-1.5l.4 3.2l.4-3.5l.3-1.3l.5 1.7l.4 2.5l.4-3.3l.4-.8l.3-.2l.5 4.3l.4 2.9l.4-9.5l.4 1.1l.3 3.2l.5 2.3l.4-.7l.4-1.9l.4-3.7l.3 4.2l.5-2.3l.4-.8l.4 .5l.4-.5l.3 2.6l.5 2.2l.4-5l.4-.1l.4 5.2l.3-.9l.5 1.1l.4-4.1l.4 .9l.4 1.9l.3-2.2l.5 2.9l.4 3.1l.4-1.5l.4 2.6l.3-8.5l.5 2.8l.4-1.6l.4 .5l.4 5.8" stroke="#111" stroke-width="1.25" />
<path d="M668.9 447.3l.4 3.1l.4 2.5l.4-18.3l.4 15.1l.4 .2l.4-1.9l.4 3.7l.4-8.7l.4 3.5l.4 2.6l.4-2.6l.4 8.2l.4-12.3l.4 3.5l.4 7.4l.4-3.9l.4 1.2l.4-4.4l.4-2.6l.4 7l.4 0l.4-3.6l.4 5.1l.4 .1l.4-.5l.4-5.5l.4-3.6l.4 5.6l.4-3.3l.4 6.4l.4-6.3l.4 7l.4-5.6l.4-.7l.4 1l.4-.4l.4 4l.4-4.4l.4 4.4l.4-4.7l.4 16.1l.4-18.8l.4 5.8l.4-5.2l.4 2.2l.4 5.2l.4-5.8l.4 3.5l.4-3.3l.4 4.8l.4 0l.4-2.8l.4-.7l.4 1.4l.4-.5l.4 3l.4-3.6l.4 3l.4-7.5l.4 2.1l.4 5.1l.4-3.4l.4 1.1l.4-4.8l.4 2.6l.4-4.7l.4 8.4l.4 3.4l.4-11.3l.4 3.3l.4 4.6l.4-2.3l.4-1.7l.4 2.9l.4 5.1l.4-4l.4-6l.4 3.6l.4-1.5l.4 7.5l.4-2.6l.4-2.2l.4 .1l.4 .4l.4-.4l.4 2.7l.4-4.1l.4 2l.4 6.6l.4-18.6l.4 8.3l.4 5.2l.4 .3l.4-7.6l.4 3.6l.4 10.6l.4-7l.4-5.3l.4 4.5l.4-3.7l.4 1.7l.4-26.9l.4 30.3l.4-3.5l.4-3.3l.4 4.6l.4 1.6l.4-17.3l.4 5.9l.4 12.5l.4-2.9l.4-1.2l.4 8.9l.4-12.7l.4 1l.4 6.6l.4-1.5l.4 4.7l.4 2.1l.4-8.7l.4 7.6l.4-2.3l.4-4.5l.4-1.5l.4 3.1l.4 6.7l.4 2.8l.4-8.4l.4-4.8l.4-6.8l.4 8.1l.4-4.1l.4-1.1l.4-3.3l.4 12.6l.4-4.2l.4 6.8l.4-2.3l.4-4.4l.4-2.7l.4 4.4l.4 6.4l.4-1.3l.4-6l.4 12.6l.4-15.2l.4 5.6l.4 .4l.4-3.8l.4 9.5l.4 15.3l.4-28l.4 .7l.4 5.6l.4 1.1l.4-9.6l.4-.7l.4 17l.4-22.1l.4 19.2l.4-15.2l.4 12.1l.4-3.7l.4-6l.4 10.6l.4-14.7l.4 .8l.4 .9l.4 11.6l.4 1.8l.4-3l.4-1.1l.4 3.1l.4-10.1l.4 9.3l.4-3.2l.4-9.6l.4 5.4l.4 4.8l.4-2l.4 4.8l.4-13.9l.4 5.2l.4 5.3l.4-.5l.4 .2l.4 10.8l.4-9.1l.4-1.8l.4 1.9l.4-6.3l.4 5.7l.4-1.5l.4-3.5l.4 8.3l.4-7l.4-1l.4 5l.4-7.4l.4 6.5l.4-1.1l.4 2.1l.4 .3l.4-7.8l.4 9.5l.4-1.2l.4 3.3l.4-2.8l.4 11.4l.4-31.2l.4 20.6l.4-2.2l.4 4.6l.4 4.5l.4-8.3l.4-3.1l.4 4.7l.4-9.7l.4 1.4l.4-2.5l.4 .8l.4 2.9l.4 10.6l.4 4l.4-1.1l.4 1.4l.4-7.5l.4-10.4l.4 12.3l.4-8.4l.4-5.3l.4 5.9l.4 1.5l.4-7.9l.4 3.4l.4-3.1l.4 1.9l.4 2.1l.4 1.8l.4 4.4l.4-.3l.4 10.3l.4-19l.4 6.5l.4-1l.4 4.4l.4-3.3l.4 3.5l.4-1.2l.4-.2l.4-1l.4-6.6l.4 17l.4-15.9l.4 3l.4-.8l.4 6.8l.4-9.3l.4 5.5l.4-.2l.4 1.7l.4-6.8l.4 0l.4 5.7l.4-12.6l.4 14.5l.4-3.9l.4 3l.4-8.1l.4 9l.4-3.6l.4-2.8l.4 5.7l.4-1.1l.4 4.4l.4-6.9l.4 21l.4-20.3l.4 5.8l.4 .2l.4 14.4l.4-10.9l.4-9.1l.4 4.8l.4-.3l.4 2.7l.4-1.4l.4-7.1l.4 .4l.4 3.1l.4 2.6l.4-2.9l.4 2.8l.4 1.6l.4 2.4l.4-2.7l.4 3.7l.4-3.3l.4 4.5l.4-6.5l.4-3.6l.4-5.3l.4 10.7l.4-7.3l.4 6.6l.4-3.3l.4 1l.4-4.3l.4 3.8l.4 6.9l.4-5.7l.4-.3l.4-6.7l.4 5l.4-.1l.4 3.7l.4-.3l.4-7l.4 3.7l.4-9.8l.4 12.8l.4-1.6l.4-3.8l.4-.9l.4 2.8l.4 1.1l.4-.4l.4-4.9l.4 3.4l.4 3.5l.4-2.2l.4-4.6l.4 5.3l.4-3.7l.4-3.8l.4 2.4l.4-2l.4 3.8l.4-3l.4 1.1l.4 .5l.4-.5l.4 1.7l.4-4.1l.4 .2l.4 1.7l.4 8.4l.4-4.7l.4 1l.4-10.2l.4 9.6l.4 5.9l.4-13.4l.4-2l.4 13l.4 18.3l.4-26.4l.4-6.2l.4 19.5l.4-15.3l.4-2.8l.4 9.2l.4-10.8l.4-3l.4 42.4l.4-12.7l.4-14.2l.4 11.3l.4 5.1l.4-21.6l.4 17.8l.4 4.3l.4-13.9l.4 4l.4-3.9l.4-18.5l.4 19.3l.4 5.1l.4 3.5l.4 9.1l.4-17.2l.4 11.1l.4 3.2l.4-18.5l.4 3.3l.4 11.5l.4-5.9l.4-7.3l.4-7l.4 4.1l.4-34.5l.4 29.7l.4-14.9l.4 27.8l.4-20.7l.4 7.4l.4 2.2l.4 34.1l.4-6.5l.4-6.3l.4 6.4l.4-23.2l.4-11.2l.4 16.2l.4-18.7l.4 28.3l.4-.4l.4-16.9l.4 3.6l.4 6.6l.4 .9l.4-1.1l.4-15.2l.4 8.1l.4-3.1l.4-3.2l.4 8.9l.4 2.1l.4 0l.4-7.5l.4 7.7l.4-6.5l.4 4.8l.4-5.3l.4 3.3l.4-9.7l.4 .6l.4 3.5l.4 2.7l.4 5l.4-7.4l.4-2.6l.4 15.1l.4-10.7l.4-2.5l.4 2.9l.4 4.3l.4-2.5l.4-5.1l.4 4.1l.4-5l.4 1.1l.4-1l.4 14.1l.4-4.3l.4-6.7l.4 2.7l.4-2.2l.4-2.3l.4 5.1l.4-1.4l.4-1.6l.4-.2l.4 5.6l.4-.9l.4-.5l.4-4.1l.4-5.7l.4 10.3l.4 3.3l.4 1.3l.4-2.2l.4-4l.4-8.1l.4 7.3l.4-4l.4 4.3l.4 5.7l.4-3.7l.4-8.7l.4 8l.4-7.1l.4-1.6l.4 11.3l.4-1.7l.4-4.3l.4-3.8l.4 .1l.4 .1l.4 1.5l.4 5.7l.4-12.4l.4 7.9l.4-1.7l.4-.9l.4 3l.4-2.9l.4-4l.4 2.8l.4 9.4l.4-11.8l.4 7.4l.4-.2l.4-4.8l.4 2.1l.4-.5l.4 8l.4-4.2l.4-6.9l.4 3.5l.4 3.5l.4-2.4l.4 2.2l.4-3.5l.4-4.8l.4 3.9l.4 12.6l.4-10.9l.4-5.1l.4 .3l.4 .8l.4 4.8l.4-1.8l.4 1.5l.4 .7l.4-1.6l.4-5.3l.4 3.1l.4 3.9l.4-2l.4 3.2l.4-3.3l.4-10.1l.4 9.9l.4 2.2l.4 .6l.4 4.4l.4-6.2l.4 .3l.4-1.9l.4-1.8l.4 1.6l.4 .9l.4 2l.4 2.6l.4 2.6l.4-5.6l.4 3.2l.4-3.2l.4 2.2l.4 1.1l.4 10.4l.4-17.9l.4-.6l.4 6.8l.4-4.9l.4 6.1l.4-7l.4-3.2l.4 3.2l.4 9.3l.4-5.9l.4 6.8l.4-2.3l.4-4.6l.4 9l.4-.5l.4-8.8l.4 3.4l.4 6.8l.4-2.6l.4-1.3l.4-9l.4 .9l.4 4.6l.4 7.3l.4-6l.4-1l.4 4.3l.4 2.9l.4-3.2l.4 2.4l.4 1.2l.4-1.7l.4 1.3l.4-6.1l.4-6.1l.4 8.5l.4 1.5l.4 5.1l.4-7.9l.4-.1l.4 4.8l.4 1.7l.4-5.1l.4-2.7l.4-7.8l.4 4.4l.4 3.6l.4 3.2l.4-.3l.4-3.8l.4-.6l.4 .6l.4 .7l.4 1.6l.4 7.6l.4-5.7l.4-4.3l.4-.1l.4 7.5l.4-6l.4-4.3l.4 6.1l.4-5.3l.4-2.7l.4 6.1l.4-5.1l.4 4.8l.4-2.2l.4 5.3l.4-3.4l.4 0l.4-2l.4 8l.4-8.6l.4 1.3l.4 1.2l.4 6.6l.4-11.1l.4 4.1l.4 3.9l.4-3.5l.4-1.2l.4-1.2l.4 1.3l.4 2.2l.4 .7l.4-8l.4 1l.4 3.4l.4 3.6l.4-.9l.4-8.9l.4-5l.4 16.6l.4-8.6l.4 7.1l.4 3.6l.4-10.7l.4 2.3l.4 1.2l.3 0l.5 .9l.4 1.2l.4-14.2l.4 7.4l.3 2.1l.5 1.5l.4 3.4l.4 .1l.4-7.1l.3 1.6l.5 5.4l.4-3.1l.4 2.2l.4-1.6l.3-8.9l.5 8.4l.4-.2l.4-5.9l.4 4.9l.3 1.6l.5-8.4l.4 6.6l.4 3.2l.4-18.1l.3 19.4l.5-12.3l.4 8l.4-16.3l.4 19.6l.3-4l.5 4.1l.4 1.8l.4-3l.4-2.5l.3-7.9l.5 4l.4 5.4l.4-5.8l.4 7.6l.3-2.6l.5 3.8l.4 1.5l.4-3.3l.4 3.7l.3-6.7l.5 6.5l.4-3.1l.4 3.4l.4 .1l.3-3.7l.5 10.4l.4-2.5l.4-1.5l.4-8.4l.3-.3l.5 1.7l.4-2.1l.4 3l.4-3.4l.3 4.6l.5 5.8l.4-10.4l.4 7.8l.4 .6l.3-11.4l.5 8l.4-3.8l.4 0l.4 7.7l.3 .1l.5-5.1l.4 4.9l.4 4.3l.4-6.7l.3-4.5l.5-1.5l.4 4.6l.4 4.8l.4-1.7l.3-4.2l.5 1.5l.4 6.6l.4-3.6l.4-2l.3 3.3l.5 2.7l.4-11.4l.4 7l.4 7.5l.3-6.1l.5-.9l.4 9.1l.4-5.7l.4-6l.3 4.4l.5-11.3l.4 15.1l.4 11.7l.4-19.1l.3-.2l.5-3.3l.4-.2l.4-.6l.4 3.3l.3-2.3l.5 1.2l.4 4.8l.4-5.8l.4-1l.3-.7l.5-3.4l.4 4.3l.4 3.4l.4 1.6l.3-4.1l.5-1.3l.4 4.7l.4-.4l.4 1.2l.3-5.6l.5-.8l.4 2.8l.4-9.4l.4 4.4l.4 1l.4-4.8l.4 1.8l.4 4l.4 .7l.4-1.1l.4 5.1l.4-2.7l.4-7.2l.4 2.4l.4-3.7l.4 6.1l.4-2.7l.4-8.7l.4 9.9l.4 .3l.4-2.9l.4-5.8l.4 4.3l.4 5.7l.4-2.4l.4 3.9l.4 .8l.4-7.1l.4-4l.4 12.1l.4-6.3l.4-1.6l.4 6.3l.4-5.7l.4 4.7l.4 0l.4-6.1l.4 1l.4-5l.4 6.9l.4 1.9l.4 1.1l.4-3.7l.4-6.2l.4 2.3l.4 9.3l.4-3.1l.4-7.6l.4 4.3l.4 6.3l.4-1.3l.4-8l.4 5.6l.4 .2l.4-1.1l.4 6.5l.4-7.8l.4 4.3l.4 .8l.4-10.1l.4 11.2l.4-11.9l.4 1.3l.4-2.3l.4 7.1l.4-9.4l.4 16.6l.4-8.7l.4 6.4l.4 1.7l.4-8.1l.4 1.4l.4 1.2l.4-4.4l.4 4.4l.4 3.5l.4-.6l.4-2.4l.4 4.6l.4-1.9l.4-2.2l.4 3l.4-6.2l.4 9.6l.4-9.7l.4 3.7l.4 9.3l.4-8.3l.4-1l.4-4.3l.4 3.2l.4 .5l.4 3l.4 3.5l.4-2.5l.4-6.8l.4 6l.4 4.2l.4-8.1l.4 6.7l.4 1.9l.4-10.7l.4 6l.4 9.1l.4-7l.4-.8l.4 3.8l.4-5.5l.4 3.5l.4 0l.4-5l.4 1l.4 12.5l.4-8.2l.4 1.7l.4-3.4l.4-.8l.4 5.2l.4-1.5l.4-4.6l.4 1.7l.4 1.8l.4 2.6l.4-3l.4 9.5l.4-8.7l.3 .4l.5-1.2l.4 4.1l.4-.5l.4-5.6l.3-16.4l.5 19l.4-5.8l.4 .5l.4 2.9l.3-3.2l.5 4.7l.4-2.6l.4 .1l.4 5.5l.3 2.2l.5-5.3l.4-4.4l.4 2.1l.4 2.3l.3-4.6l.5 2.9l.4-.3l.4-1.5l.4 2.1l.3-11.5l.5 10.9l.4 .2l.4-6.9l.4-2.1l.3 6.8l.5 2.5l.4-7.1l.4-.4l.4 0l.3 6.4l.5-5.2l.4 3.6l.4 .9l.4-5l.3-.2l.5-7.6l.4 9.1l.4 15.2l.4-7.3l.3-11.5l.5 5.5l.4 1.6l.4-5.6l.4 .3l.3 3.1l.5-2.6l.4 4.3l.4-2.8l.4-8.8l.3 4.4l.5 3.5l.4 1.4l.4-1.1l.4-2.8l.3 7.1l.5-2.5l.4 8.9l.4-9.8l.4 4.6l.3-6.4l.5 5.1l.4-1.6l.4 1.1l.4-5l.3 2.9l.5 4.5l.4 2.7l.4-7.9l.4-1l.3 8.1l.5-14.9l.4 15.1l.4-7.2l.4 1l.3 .8l.5 2.6l.4-3.5l.4 1.7l.4-.5l.3 3.9l.5 9.8l.4-16.1l.4 7.4l.4-5l.3-3l.5 3.1l.4 .2l.4-.6l.4 .6l.3 3.1l.5 2.6l.4-6.3l.4-.6l.4-1l.3 1.6l.5 5.7l.4-5l.4 2l.4-.7l.3-4.1l.5 3l.4 2.1l.4-4.6l.4 7.2l.3-9l.5 5.7l.4-25l.4 23.3l.4 1l.3 2.6l.5-1.2l.4-1.9l.4-1.7l.4 .9l.3-4.1l.5 12.2l.4-5.6l.4 1.7l.4-5.5l.3 2.9l.5 .2l.4-.3l.4-4l.4 9l.3-1.8l.5-2.7l.4 4.4l.4-3.7l.4 3.4l.3-.4l.5-1.8l.4-5.4l.4 5.5l.4-1.4l.3 .4l.5-6.4l.4 10.3l.4-5.5l.4 .4l.3 5.1l.5-2.2l.4-3.3l.4 2.2l.4-.5l.3 .1l.5 5l.4-2.1l.4-2l.4 1.2l.3-7.2l.5 1.6l.4 1.6l.4 .8l.4-6.3l.3 2.8l.5 0l.4 5.5l.4 2l.4-8.1l.3 4.8l.5-2.6l.4-.4l.4 2l.4-5.9l.3-5.8l.5 7.6l.4 7.1l.4-5.7l.4-2.8l.3 1.1l.5-.3l.4-1l.4 7.5l.4-5.6l.3 0l.5-1.7l.4 .6l.4-.3l.4 .5l.3-.4l.5-10.5l.4 9.4l.4 1.2l.4-2l.3-1l.5 3.7l.4 .8l.4-9.9l.4 8.6l.3 1.2l.5 1.9l.4-7.1l.4 9.8l.4-13.2l.3-1.8l.5 6.3l.4-4.7l.4 4.6l.4 10.3l.3-7.7l.5-3.4l.4-7.7l.4 13.2l.4-11.2l.3 10.5l.5-4.4l.4 .5l.4-2.8l.4 .3l.3 4.4l.5-8.5l.4 .4l.4-.3l.4 .3l.3 5l.5 1l.4-5.2l.4 7.4l.4 4.6l.3-4.1l.5-9.7l.4 .8l.4-2.1l.4 1.5l.3 12.5l.5-2l.4-5.4l.4 3.8l.4-6.6l.3 14.3l.5-5.4l.4-7.9l.4 3.1l.4 6.6l.3-7.5l.5-4.4l.4 5.7l.4-.1l.4 .6" stroke="#1e1" stroke-width="0.9" />
<path d="M668.6 448H1122.6" stroke="#000" stroke-width="1.1" stroke-dasharray="4.5 3"/>
</g>
<path d="M674.5 417.2h17" stroke="#555" stroke-width="1.3"/>
<text x="693.1" y="420.5" font-size="9.3" fill="#555"><tspan fill="#223">-(VexB)<tspan font-size="6.5" dy="2">M</tspan><tspan dy="-2">&#8203;</tspan></tspan></text>
<path d="M674.5 428.5h17" stroke="#3e3" stroke-width="1"/>
<text x="693.1" y="432.1" font-size="10" fill="#3e3">E<tspan font-size="6.5" dy="2.5">M</tspan><tspan dy="-2.5">&#8203;</tspan></text>
<path d="M716.5 411.1v10M716.5 484.9v-10M807.5 411.1v10M807.5 484.9v-10M898.5 411.1v10M898.5 484.9v-10M989.5 411.1v10M989.5 484.9v-10M1080.5 411.1v10M1080.5 484.9v-10" stroke="#111" stroke-width=".95"/>
<path d="M686.2 411.1v3.2M686.2 484.9v-3.2M746.8 411.1v3.2M746.8 484.9v-3.2M777.2 411.1v3.2M777.2 484.9v-3.2M837.8 411.1v3.2M837.8 484.9v-3.2M868.2 411.1v3.2M868.2 484.9v-3.2M928.8 411.1v3.2M928.8 484.9v-3.2M959.2 411.1v3.2M959.2 484.9v-3.2M1019.8 411.1v3.2M1019.8 484.9v-3.2M1050.2 411.1v3.2M1050.2 484.9v-3.2M1110.8 411.1v3.2M1110.8 484.9v-3.2" stroke="#111" stroke-width=".9"/>
<path d="M668.6 472.6h5.2M1122.6 472.6h-5.2M668.6 448h5.2M1122.6 448h-5.2M668.6 423.4h5.2M1122.6 423.4h-5.2M668.6 482.4h2.4M1122.6 482.4h-2.4M668.6 477.5h2.4M1122.6 477.5h-2.4M668.6 472.6h2.4M1122.6 472.6h-2.4M668.6 467.6h2.4M1122.6 467.6h-2.4M668.6 462.7h2.4M1122.6 462.7h-2.4M668.6 457.8h2.4M1122.6 457.8h-2.4M668.6 452.9h2.4M1122.6 452.9h-2.4M668.6 448h2.4M1122.6 448h-2.4M668.6 443.1h2.4M1122.6 443.1h-2.4M668.6 438.2h2.4M1122.6 438.2h-2.4M668.6 433.3h2.4M1122.6 433.3h-2.4M668.6 428.4h2.4M1122.6 428.4h-2.4M668.6 423.4h2.4M1122.6 423.4h-2.4M668.6 418.5h2.4M1122.6 418.5h-2.4M668.6 413.6h2.4M1122.6 413.6h-2.4" stroke="#000" stroke-width=".9"/>
<rect x="668.6" y="411.1" width="454" height="73.8" stroke="#000" stroke-width="1.25"/>
<text x="1125.3" y="476.5" font-size="11" fill="#000" text-anchor="start">-10</text>
<text x="1125.3" y="452" font-size="11" fill="#000" text-anchor="start">0</text>
<text x="1125.3" y="427.4" font-size="11" fill="#000" text-anchor="start">10</text>
<text transform="translate(1155.2 449) rotate(-90)" font-size="11.2" fill="#000" text-anchor="middle">E<tspan font-size="8.6" dy="3.3">M</tspan><tspan dy="-3.3">&#8203;</tspan> [mW m<tspan font-size="9" dy="-4.5">-2</tspan><tspan dy="4.5">&#8203;</tspan>]</text>
<clipPath id="cm7"><rect x="668.6" y="484.9" width="454" height="73.8"/></clipPath><g clip-path="url(#cm7)" stroke-linejoin="round">
<path d="M728 488.9V558.7" stroke="#5c5" stroke-width="2" stroke-dasharray="9 5" opacity="0.9"/>
<path d="M756.3 488.9V558.7" stroke="#f00" stroke-width="1.3" stroke-dasharray="6.5 2" opacity="1"/>
<path d="M756.3 488.9V558.7" stroke="#00f" stroke-width="1.3" stroke-dasharray="1.6 6.9" opacity="1"/>
<path d="M813 488.9V558.7" stroke="#f44" stroke-width="1.8" stroke-dasharray="11 4" opacity="0.85"/>
<path d="M819 488.9V558.7" stroke="#f0f" stroke-width="1.8" stroke-dasharray="2 3" opacity="1"/>
<path d="M841.5 490.9V558.7" stroke="#0a0" stroke-width="1.3" stroke-dasharray="9 4" opacity="1"/>
<path d="M668.9 551.8l.4 5.4l.4-.7l.4-1.1l.4-8.2l.4 6.7l.4 3.6l.4-5.8l.4-1.7l.4 6.8l.4-3.3l.4-3.7l.4 3.7l.4 .4l.4-.3l.4 .6l.4 .7l.4 2l.4 .1l.4-2.5l.4-1.3l.4 3l.4-1.1l.4-1.2l.4-2.2l.4-5.9l.4 11l.4 0l.4-.5l.4 1.2l.4-.8l.4-1.7l.4 2.3l.4-8.4l.4 5.2l.4-4.9l.4 7.3l.4-5.2l.4 .3l.4-2.9l.4 5.7l.4-3.6l.4-1.5l.4-1.1l.4 9.1l.4-12.8l.4 5.5l.4 6.5l.4-2.2l.4 2.5l.4-5.1l.4 1.2l.4 4.5l.4-18.4l.4 11.8l.4 6.1l.4-6.1l.4 .7l.4 3.7l.4-2.7l.4 1.3l.4 0l.4-.1l.4-5.4l.4 8.8l.4-26.4l.4 16l.4 8.2l.4-.7l.4-5.5l.4 1.5l.4 4.1l.4-1.3l.4-6.2l.4 2.6l.4 1.7l.4 4l.4-6.1l.4 7l.4 .9l.4-10.7l.4 1.1l.4 .9l.4 4.4l.4-5.4l.4 1.7l.4 8.2l.4-6.1l.4-1.1l.4 7l.4-2.7l.4 2.6l.4-4.3l.4-5.9l.4-1.8l.4 9.1l.4-7.3l.4 7.5l.4 2.2l.4-2.3l.4-2.1l.4-.2l.4 0l.4 2.6l.4-6.1l.4 .6l.4 7.8l.4-3.3l.4-12l.4 7.7l.4 5.2l.4-2.3l.4 5l.4-.8l.4-3.4l.4 2.4l.4-1.7l.4-6.1l.4 9.3l.4-7l.4 7.3l.4-4.4l.4-.9l.4 .7l.4-7.1l.4 1.2l.4 6.6l.4-1.2l.4 4.6l.4-6l.4 1l.4 .6l.4-9.6l.4 1.4l.4 6.3l.4-1.3l.4 7.4l.4 .1l.4-7.1l.4 8.2l.4-.4l.4-20.3l.4 12.4l.4 7.8l.4-17.4l.4 9.8l.4 6.9l.4-8.8l.4-14l.4 23.4l.4-19.2l.4-6.1l.4 13.5l.4 6.6l.4-3.1l.4-3.5l.4 4.5l.4-6.8l.4-6.4l.4 6.5l.4 11.3l.4-.9l.4-11.2l.4 14.5l.4-7l.4-.8l.4-3l.4 10.8l.4-14.6l.4 6.8l.4-31.9l.4 17.6l.4 22.1l.4-11.7l.4 3.2l.4-10.5l.4-8l.4 7.6l.4 7.9l.4 10.6l.4-19.6l.4-3.6l.4 19.7l.4-.9l.4-24.5l.4 7.2l.4 2.6l.4-11.9l.4-5l.4 19.9l.4-1.2l.4-8.8l.4 22.7l.4-35.1l.4 23l.4 11.1l.4-7.9l.4 11.1l.4-6.6l.4-1.4l.4 10.3l.4 .1l.4-8.3l.4-9.4l.4 15.3l.4-11.9l.4 3l.4 3.8l.4 2.2l.4-1.7l.4-21l.4 10.8l.4 12.5l.4 3.7l.4-9.1l.4-4.7l.4-3.5l.4 2.7l.4-16.1l.4 18.7l.4 8.8l.4-13.1l.4-.4l.4-8.8l.4-.2l.4 8.2l.4-8.9l.4-3l.4 12.1l.4-8.7l.4 24.4l.4-20.4l.4-9.4l.4 14.7l.4 3.2l.4-5.2l.4 7.9l.4 8.1l.4-4l.4-5l.4 12.7l.4-23.5l.4 9.1l.4-.5l.4 13.3l.4-14.3l.4-3.8l.4 11.4l.4 6.2l.4-13.7l.4-3.1l.4 10.1l.4-2.9l.4 2.3l.4 8.5l.4 .7l.4-27.8l.4 27.4l.4-16.3l.4-1.3l.4 5.9l.4 7l.4-1.2l.4-25.6l.4-.4l.4 23.8l.4-19.7l.4 16.2l.4 11.8l.4 .1l.4-20.8l.4 19.8l.4 1.1l.4-4.4l.4 .5l.4-5l.4-24.4l.4 13l.4 13.5l.4-12.2l.4 2.7l.4-2.5l.4 18.6l.4-10.4l.4-19.2l.4 7.1l.4 9.8l.4-1.7l.4 .4l.4 8.7l.4 5.3l.4-9l.4 6.3l.4 2.8l.4-8.5l.4-3.9l.4 10.2l.4-3.4l.4-.4l.4-16.6l.4 15.9l.4-4.2l.4-2.5l.4 11.7l.4-21.4l.4 19.4l.4-2.1l.4-9.8l.4 8.7l.4-2.8l.4-3.8l.4 3.3l.4-6l.4 7.2l.4 8l.4-8.4l.4 8.7l.4-6.6l.4 7.2l.4-11.5l.4 .6l.4-7.4l.4 15.3l.4-6.2l.4 6.1l.4-18.2l.4 9l.4 3.7l.4-10.4l.4 .1l.4 4.6l.4 6.1l.4 2.3l.4-5.9l.4-5.5l.4 11.2l.4 2.2l.4-5l.4-11.9l.4 2.7l.4 7.6l.4 5.3l.4-20.3l.4 16l.4-14.1l.4 .5l.4-3.9l.4 16.9l.4 5.2l.4-9.6l.4-4.9l.4-4.7l.4 19.8l.4-6.5l.4 1.7l.4-8l.4 2.1l.4 12.6l.4-10.9l.4-1.8l.4-18.9l.4 3.1l.4 25.6l.4-29.2l.4-5.6l.4-5l.4-14.5l.4 60l.4-.3l.4-35.7l.4-14.9l.4 7.8l.4 29l.4-8.8l.4-10.6l.4-30.3l.4 35.3l.4-32.8l.4 36.6l.4 9.8l.4 12.3l.4-21.2l.4-12l.4 12l.4 2.9l.4-12l.4 11.9l.4-2.7l.4 15.8l.4-10l.4 17.6l.4-.8l.4-3.3l.4-10l.4 1.3l.4 1.7l.4-6.1l.4 4l.4 8.9l.4-5.3l.4-13.3l.4-14.1l.4 2.5l.4 15.7l.4 12.2l.4-26.3l.4 13.3l.4-7.9l.4-2.1l.4 23.9l.4-14.6l.4-1.3l.4-1.7l.4 8.2l.4 7.2l.4-6.8l.4-4.2l.4 1.4l.4 15.3l.4-3.1l.4 5.6l.4-2l.4-10l.4 10.9l.4-16.6l.4 9.4l.4 8.8l.4-.5l.4-10.6l.4-8.9l.4 7.1l.4 13l.4-.7l.4-2.8l.4-4l.4-2.2l.4 9.4l.4-10.8l.4 5.2l.4-10.9l.4 9.4l.4 4.4l.4 .6l.4 0l.4-4.2l.4-7.7l.4 13.6l.4-14.2l.4 6.1l.4-5l.4 4.9l.4-.4l.4-.9l.4 9.5l.4-4l.4-4.2l.4 .4l.4 1.4l.4-5.7l.4 .6l.4 5.3l.4-8.5l.4 6.5l.4 5.8l.4-.1l.4-1.8l.4-8.6l.4 12.6l.4-7.2l.4-3.4l.4-11.4l.4 14.6l.4-6.1l.4 9.6l.4-19.8l.4-1.5l.4 25.4l.4-5.4l.4-33.1l.4 11.7l.4 9l.4 7.4l.4-5.9l.4 16.5l.4-17.8l.4-10.7l.4 10.9l.4-6.3l.4 7.8l.4 .5l.4 15l.4-16.4l.4-19.5l.4 3.6l.4-.4l.4 8.3l.4 3.3l.4 7.9l.4 4.3l.4 5.9l.4-23.7l.4 17.9l.4-5.3l.4-4.2l.4 18.9l.4-.2l.4-16.3l.4 1.5l.4 8.9l.4-3.3l.4 6.9l.4 1.3l.4-11.4l.4 9.2l.4-10.4l.4 13.1l.4-7.7l.4-5.8l.4 6.1l.4 8l.4-7.5l.4 2.5l.4-.8l.4-5.6l.4 .5l.4 4.9l.4 1.1l.4-.2l.4 4.8l.4-.7l.4-.8l.4-3.7l.4-13.8l.4 16l.4-.4l.4-2.6l.4 2.5l.4 2.8l.4-5.7l.4 .1l.4-1l.4 7.7l.4-33l.4 27l.4 4.1l.4-8.6l.4-2.3l.4-5.8l.4 16.9l.4 .8l.4-6.2l.4-9.2l.4 10.4l.4-5.7l.4-3.3l.4 5.7l.4-4l.4 10.8l.4-1.3l.4-2.9l.4 2.3l.4 1.2l.4-8.3l.4 4.7l.4-12.2l.4-4.6l.4 8.3l.4 13.5l.4-7.6l.4-3.5l.4-13.7l.4 0l.4 24.8l.4-8.6l.4-2.3l.4 2.3l.4-5.2l.4 15.1l.4-9.4l.4 7l.4 2.7l.4-3.7l.4-2.7l.4 5.3l.4-8l.4-21.5l.4 9.4l.4 17.4l.4-13.5l.4 17.3l.4-1.5l.4-7.4l.4-8.8l.4 6.4l.4 1.1l.4-11.3l.4 8.8l.4-8l.4 2.9l.4 4.6l.4 11.1l.4-9.7l.4-1.3l.4 8.1l.4-12.7l.4 16.4l.4-1.3l.4 2.7l.4-22.2l.4 6.8l.4-.6l.4 7.4l.4 8.6l.4 0l.4-12.4l.4-6.8l.4 19l.4-20.5l.4 1l.4 7.6l.4 2l.4-10.8l.4 10.6l.4-2.8l.4 12.8l.4-10.7l.4 10.5l.4-6.4l.4 2.2l.4-11.1l.4 15.5l.4 .3l.4-14.6l.4-11.2l.4 25.6l.4 .7l.4-32l.4 15.7l.4 9.4l.4-3.2l.4-11.8l.4 1.6l.4 5.7l.3 6l.5-.4l.4-3.1l.4 6.5l.4 .6l.3-2.9l.5-9.9l.4-2.4l.4 19.6l.4-16.8l.3-7.5l.5 1.1l.4 6.1l.4 3.4l.4-10.4l.3-12.2l.5 8.6l.4 18.2l.4 1.7l.4 7.8l.3-2.5l.5-24.3l.4 2.4l.4-8.7l.4 14.4l.3 18.5l.5-26l.4 22l.4-27.6l.4 11.5l.3 19.6l.5-1l.4-1.8l.4-21.8l.4 4.5l.3-22.8l.5 .9l.4-9.7l.4 52.3l.4-9.5l.3-18l.5 3l.4 3.2l.4 7.3l.4-9.4l.3-47.8l.5 55l.4-13l.4 29.4l.4 0l.3 0l.5-23.2l.4 4l.4-6.3l.4 .2l.3 18.1l.5-10.7l.4-10.3l.4 2.8l.4 6.3l.3 11.9l.5-46.2l.4 35.4l.4-1.2l.4 18.9l.3-14.6l.5 4.6l.4-25.7l.4 5.2l.4 22.3l.3-2.7l.5-36.8l.4 45.5l.4-29.2l.4 7.1l.3 24.1l.5-9.3l.4 4.3l.4-5.1l.4-9.1l.3 4.1l.5 15.3l.4-34.6l.4 3.9l.4 10.1l.3 16.3l.5 4.5l.4-18.8l.4 4.8l.4 14.1l.3-2.7l.5-29.6l.4 17.7l.4 6.1l.4-4.8l.3-14.6l.5 3l.4 24.9l.4 0l.4-1.2l.3-1.2l.5-15.6l.4 8.9l.4-8.6l.4-11.7l.3 22.9l.5-15.5l.4 4.4l.4-1.3l.4-16.2l.3-5.2l.5 2.4l.4 29.3l.4-24.7l.4 16.7l.3-5l.5 6.8l.4-3.4l.4-9.1l.4 20.2l.3 5l.5 2l.4-19.4l.4 10l.4-29.7l.4 39.2l.4-8.9l.4-10l.4 12.8l.4-6.8l.4-2.2l.4 1.3l.4 8l.4-3.7l.4-3.2l.4 12.6l.4-15.5l.4-2.3l.4 17.1l.4-4.3l.4 4.9l.4-9.3l.4-9.9l.4 11l.4-4.8l.4 3.2l.4-14.4l.4 9.2l.4 12.7l.4-2.5l.4-4.6l.4 7l.4-.4l.4-14.7l.4 7.1l.4-4.2l.4 .2l.4 11.6l.4-3.9l.4-7.5l.4 3.1l.4 4l.4-4l.4 2.5l.4 7.8l.4-2.7l.4-17l.4 .4l.4-8.9l.4 13.9l.4-10.2l.4 17.9l.4-13.7l.4 5.5l.4 14.1l.4-15.7l.4 7.4l.4-3.5l.4-37.9l.4 48l.4-10.2l.4 2.1l.4-10l.4 21.5l.4 0l.4-19.3l.4 5.8l.4-10.7l.4 21.6l.4 2.6l.4-7.5l.4 1.4l.4-16.3l.4 15l.4-3.2l.4 7.5l.4-6l.4 9.4l.4-9.2l.4-5.6l.4 2.9l.4 1.5l.4-2.3l.4 5l.4 7.4l.4-1.4l.4-3.4l.4 2.3l.4-7.7l.4 10.7l.4-21.8l.4 5l.4-2.8l.4 1.9l.4-6.2l.4 23.4l.4-.1l.4-13.9l.4 9.3l.4-5.1l.4 9.8l.4-.5l.4-17.7l.4 10.2l.4-8.1l.4-2l.4-12.2l.4-7.2l.4 36.8l.4-8.5l.4-4.4l.4 4.4l.4 5.7l.4-30.4l.4-9.1l.4 31.8l.4-9.1l.4 18.8l.4-7.5l.4-10.5l.4-39l.4 33.9l.4 24.5l.4-33.4l.4-2.3l.4 16.2l.4-9.2l.3 .5l.5 27.3l.4 .7l.4-12.4l.4 7.9l.3-16.2l.5-23.6l.4 41.7l.4-19.3l.4 15.6l.3-47.2l.5 40.6l.4-.8l.4-.5l.4 2.7l.3-9.5l.5-5.2l.4 9.5l.4-14.7l.4-5.4l.3-7.1l.5 22.3l.4-2.4l.4 7.5l.4-13.7l.3 27.1l.5-54.6l.4 30.5l.4 5.2l.4 16l.3-23.4l.5 29.7l.4 .7l.4-.4l.4-.3l.3-14.7l.5-.2l.4-4l.4 14.9l.4-11.3l.3 6.2l.5 1.1l.4-17.6l.4 25.4l.4-17l.3-4.3l.5 5.2l.4 16l.4-22.7l.4 7l.3-1.9l.5 17.7l.4-17.1l.4 2.6l.4 .5l.3 1.8l.5 1.3l.4 1.7l.4-23.7l.4 24.3l.3 .5l.5-7.4l.4 4.8l.4-3l.4 13.7l.3-8.3l.5-.4l.4-.3l.4 3.9l.4 5l.3-.1l.5-.3l.4-2.9l.4-9.2l.4-3.1l.3 13.3l.5-8.9l.4-2.7l.4-3l.4 1.2l.3 2.6l.5-1.9l.4 3.2l.4-4.2l.4 1.9l.3 7.8l.5 6.2l.4-16.5l.4 12l.4-2.7l.3 .8l.5 .3l.4-.9l.4-.1l.4-3.7l.3 2.1l.5 7.6l.4-7l.4-3.6l.4-2.3l.3 .8l.5 13.5l.4-18.1l.4 11.1l.4 6.7l.3-4l.5-20.1l.4-28.7l.4-4.1l.4 57.2l.3-9.6l.5 7.3l.4-18.4l.4-50.6l.4 50.9l.3-13.4l.5 1.9l.4 31.7l.4-27.5l.4-25.1l.3 45.2l.5-23.1l.4 30.6l.4-20.4l.4-1.7l.3-.1l.5 .6l.4-1.5l.4 7.7l.4 2.8l.3 6.8l.5-.7l.4 2l.4 1.6l.4-2.8l.3-1.4l.5-1.1l.4 1.2l.4 4.3l.4-6.8l.3 9.6l.5-3.9l.4 4.1l.4-3.7l.4-.8l.3-4.7l.5 6.3l.4-8.2l.4-1.7l.4 5.5l.3-16.8l.5 16.9l.4-1.1l.4 7.4l.4 .3l.3-1.1l.5-9.9l.4 1.5l.4 9.5l.4-13.7l.3 4.1l.5 10.1l.4-.2l.4-7.7l.4 8l.3-7.3l.5-11.5l.4 14l.4-1.9l.4 2.9l.3 1.6l.5 1.5l.4-14.1l.4 3.4l.4 11.6l.3-.9l.5-4.1l.4-3.8l.4 4.2l.4-1.1l.3 5.3l.5-9l.4 4.5l.4 4.5l.4-6.5l.3 5.6l.5-9.6l.4-4l.4 0l.4 14.6l.3-3l.5-29.2l.4 20.7l.4 6.1l.4-2.5l.3 3.7l.5-4.2l.4 .8l.4-.1l.4-2.1l.3-11.5l.5 17.6l.4 3.5l.4-1.5l.4-2.2l.3 3.7l.5 0l.4-2.7l.4-8.1l.4-6.5l.3 11.2l.5-3.1l.4 9.1l.4-11.8l.4-13.1l.3 17.9l.5-3.9l.4-12.8l.4 19.1l.4 4.9l.3-5.1l.5 2.8l.4-9.3l.4 7.6l.4-8.3l.3 11.9l.5-7.7l.4 2.2l.4-4.1l.4-24.7l.3 19.3l.5 5.6l.4-5.3l.4 6.1l.4-.4l.3 5.2l.5-3.8l.4 1.8l.4 5.3l.4-1.9l.3-.6l.5 1.4l.4 1.9l.4-12.7l.4 0" stroke="#111" stroke-width="1.1" />
</g>
<path d="M674.5 500.2h17" stroke="#555" stroke-width="1.2"/>
<text x="693.1" y="503.6" font-size="9.5" fill="#555"><tspan fill="#223">|J|</tspan></text>
<path d="M716.5 484.9v10M716.5 558.7v-10M807.5 484.9v10M807.5 558.7v-10M898.5 484.9v10M898.5 558.7v-10M989.5 484.9v10M989.5 558.7v-10M1080.5 484.9v10M1080.5 558.7v-10" stroke="#111" stroke-width=".95"/>
<path d="M686.2 484.9v3.2M686.2 558.7v-3.2M746.8 484.9v3.2M746.8 558.7v-3.2M777.2 484.9v3.2M777.2 558.7v-3.2M837.8 484.9v3.2M837.8 558.7v-3.2M868.2 484.9v3.2M868.2 558.7v-3.2M928.8 484.9v3.2M928.8 558.7v-3.2M959.2 484.9v3.2M959.2 558.7v-3.2M1019.8 484.9v3.2M1019.8 558.7v-3.2M1050.2 484.9v3.2M1050.2 558.7v-3.2M1110.8 484.9v3.2M1110.8 558.7v-3.2" stroke="#111" stroke-width=".9"/>
<path d="M668.6 538.5h5.2M1122.6 538.5h-5.2M668.6 518h5.2M1122.6 518h-5.2M668.6 497.5h5.2M1122.6 497.5h-5.2M668.6 554.9h2.4M1122.6 554.9h-2.4M668.6 550.8h2.4M1122.6 550.8h-2.4M668.6 546.7h2.4M1122.6 546.7h-2.4M668.6 542.6h2.4M1122.6 542.6h-2.4M668.6 538.5h2.4M1122.6 538.5h-2.4M668.6 534.4h2.4M1122.6 534.4h-2.4M668.6 530.3h2.4M1122.6 530.3h-2.4M668.6 526.2h2.4M1122.6 526.2h-2.4M668.6 522.1h2.4M1122.6 522.1h-2.4M668.6 518h2.4M1122.6 518h-2.4M668.6 513.9h2.4M1122.6 513.9h-2.4M668.6 509.8h2.4M1122.6 509.8h-2.4M668.6 505.7h2.4M1122.6 505.7h-2.4M668.6 501.6h2.4M1122.6 501.6h-2.4M668.6 497.5h2.4M1122.6 497.5h-2.4M668.6 493.4h2.4M1122.6 493.4h-2.4M668.6 489.3h2.4M1122.6 489.3h-2.4" stroke="#000" stroke-width=".9"/>
<rect x="668.6" y="484.9" width="454" height="73.8" stroke="#000" stroke-width="1.25"/>
<text x="666" y="542.5" font-size="11" fill="#000" text-anchor="end">0.5</text>
<text x="666" y="522" font-size="11" fill="#000" text-anchor="end">1.0</text>
<text x="666" y="501.5" font-size="11" fill="#000" text-anchor="end">1.5</text>
<text transform="translate(645 522) rotate(-90)" font-size="11.2" fill="#000" text-anchor="middle">|J| [&#181;A m<tspan font-size="9" dy="-4.5">-2</tspan><tspan dy="4.5">&#8203;</tspan>]</text>
<clipPath id="cm8"><rect x="668.6" y="558.7" width="454" height="73.8"/></clipPath><g clip-path="url(#cm8)" stroke-linejoin="round">
<path d="M728 562.7V632.6" stroke="#5c5" stroke-width="2" stroke-dasharray="9 5" opacity="0.9"/>
<path d="M756.3 562.7V632.6" stroke="#f00" stroke-width="1.3" stroke-dasharray="6.5 2" opacity="1"/>
<path d="M756.3 562.7V632.6" stroke="#00f" stroke-width="1.3" stroke-dasharray="1.6 6.9" opacity="1"/>
<path d="M813 562.7V632.6" stroke="#f44" stroke-width="1.8" stroke-dasharray="11 4" opacity="0.85"/>
<path d="M819 562.7V632.6" stroke="#f0f" stroke-width="1.8" stroke-dasharray="2 3" opacity="1"/>
<path d="M841.5 564.7V632.6" stroke="#0a0" stroke-width="1.3" stroke-dasharray="9 4" opacity="1"/>
<path d="M674.5 563h17" stroke="#f0f" stroke-width="1.4" stroke-dasharray="1.3 .8"/>
<text x="693.1" y="566.2" font-size="9" fill="#f0f">t&#160;&#160;maxJ</text>
<path d="M674.5 570.8h17" stroke="#33f" stroke-width="1"/>
<text x="693.1" y="574.2" font-size="9.5" fill="#33f">J<tspan font-size="6.5" dy="2">L</tspan><tspan dy="-2">&#8203;</tspan></text>
<path d="M674.5 578.6h17" stroke="#3e3" stroke-width="1"/>
<text x="693.1" y="582" font-size="9.5" fill="#3e3">J<tspan font-size="6.5" dy="2">M</tspan><tspan dy="-2">&#8203;</tspan></text>
<path d="M668.9 591.7l.4 1.6l.4-1.2l.4 3l.4-2l.4 .3l.4-5.4l.4 4.1l.4 .6l.4-5.8l.4 7.1l.4-4l.4 4.1l.4-1.5l.4-6.1l.4 .4l.4 2l.4 4.8l.4-2.2l.4-3l.4 3.6l.4 2.8l.4-5.8l.4 .2l.4-.4l.4-.4l.4 .9l.4-.4l.4 1.3l.4 2.7l.4-3.6l.4-1.1l.4-1.2l.4 2l.4 6.5l.4-8.7l.4 2.8l.4 2.5l.4 3.1l.4-3.4l.4-1.9l.4 1.9l.4-1.8l.4-1.3l.4 2.1l.4-1.2l.4 1.1l.4 2.8l.4-1.1l.4-4.8l.4 4.8l.4 1.8l.4-.2l.4-.4l.4-2.7l.4-.8l.4 1l.4 .8l.4-.7l.4-3.2l.4 0l.4 3.2l.4-2.9l.4 2.4l.4-.8l.4-.3l.4 3.2l.4-3.1l.4 2.1l.4-1.7l.4 2.8l.4-4.6l.4 1.8l.4-.4l.4-1.5l.4 2.2l.4 1.4l.4-3.4l.4 2.9l.4-.2l.4-3.3l.4-.4l.4 5l.4 .3l.4 .8l.4-2.7l.4-2.8l.4-.1l.4-2l.4 2.9l.4-1.2l.4 .9l.4 .9l.4-2.3l.4-1.7l.4 .8l.4 3.4l.4-2.1l.4 1.4l.4-.9l.4 1.9l.4 .6l.4-1.5l.4 4l.4-.7l.4-2.7l.4-1.6l.4 .5l.4-.6l.4 2.1l.4-2l.4 2.6l.4 .3l.4-7l.4 5.6l.4 .7l.4 .6l.4-4.7l.4 1.7l.4 1.5l.4 .7l.4 1.6l.4-.8l.4-3.6l.4 2.3l.4-.4l.4 1.2l.4 1.5l.4-1l.4-2.6l.4 2l.4-.4l.4-2.8l.4 .1l.4-1.5l.4 2.4l.4 3.4l.4 0l.4-6.4l.4 3.4l.4 .4l.4 .8l.4-1.5l.4 2.3l.4-4.3l.4 3.6l.4-2.3l.4 1.1l.4-3.4l.4 6.9l.4-5l.4-.5l.4 2.5l.4-3.6l.4 5.7l.4-.4l.4-2.7l.4 1.4l.4 1.2l.4-3.6l.4 1.3l.4 0l.4-4.4l.4 2l.4 4.4l.4-3.5l.4-3.3l.4 3.1l.4-1.2l.4 2.5l.4 2.4l.4-2.6l.4 0l.4-1.5l.4-.5l.4 2.7l.4-2.7l.4-.5l.4 .5l.4-.3l.4 5.3l.4-4.7l.4-1.8l.4-.5l.4 4.7l.4 3.4l.4-3.3l.4-1.2l.4-4.6l.4 3.4l.4 .9l.4-.2l.4 0l.4 1l.4-.4l.4-1.7l.4 .9l.4-2.4l.4 1.6l.4 1.3l.4 2.9l.4-3.7l.4 0l.4 3.3l.4-.7l.4-1.3l.4 .5l.4-1.1l.4-.9l.4-2.9l.4 2l.4 2.3l.4 .1l.4 1.6l.4-2l.4 1.2l.4 1.2l.4 .2l.4-2.7l.4-2.8l.4 2.8l.4 .1l.4 .8l.4-4.5l.4 .9l.4 2.4l.4-1.3l.4 .3l.4 .9l.4 2.2l.4-1.3l.4-.2l.4 .8l.4 1.5l.4-.7l.4-1.5l.4 1.6l.4-.5l.4-.5l.4-.7l.4 1.1l.4 6.3l.4-2.4l.4-6.1l.4-.8l.4 4.2l.4-3.9l.4 7.4l.4-2.5l.4-.4l.4-2.1l.4-3.8l.4 4.6l.4-.8l.4-.2l.4-.5l.4 1.4l.4 3.5l.4-9.1l.4 4.4l.4-3.3l.4 3.8l.4 1.7l.4 .8l.4 3.5l.4-6.5l.4 1.6l.4 1.2l.4-.2l.4 1.1l.4-1.7l.4-3.9l.4 1.8l.4 2.3l.4 .5l.4-2.5l.4-1.9l.4 4.6l.4-4.5l.4 5.8l.4 .5l.4-1l.4-1.1l.4 .3l.4 .8l.4 .9l.4 .6l.4-4.5l.4 .3l.4 1.7l.4-4.4l.4 2.1l.4-1.8l.4 2.4l.4 2.8l.4-1.7l.4 2.3l.4-4.8l.4 3.3l.4 1.9l.4-.9l.4-1.8l.4-2.5l.4 .2l.4 3.5l.4 1.8l.4-1.8l.4-2.5l.4 3l.4 1.6l.4 1.1l.4-3.9l.4-3.5l.4 4.7l.4 4.6l.4-6.9l.4-1.1l.4 3.7l.4-.3l.4 1l.4-1l.4 2.7l.4-7.8l.4 2.8l.4-.5l.4 1.8l.4 1.8l.4-2l.4-3.5l.4 13.3l.4-7.2l.4 .5l.4-1.8l.4-.7l.4 .2l.4-2l.4 2l.4 8.6l.4-7.8l.4-.9l.4-3.6l.4 4.1l.4 .9l.4-2.8l.4 1.4l.4-.7l.4-1.9l.4-1.1l.4 4.1l.4 2.2l.4-.7l.4-4.4l.4 1.7l.4 .1l.4 3.8l.4-.5l.4-.5l.4 1.4l.4 .2l.4-2.6l.4 .9l.4-4.7l.4 2.1l.4-.7l.4 6.1l.4-.3l.4-6.8l.4 .4l.4 .1l.4 .7l.4 1.8l.4 4.1l.4-2.7l.4 .3l.4 .5l.4-3l.4-1.2l.4-3.5l.4 3.4l.4-.2l.4 3.6l.4-2.4l.4 5.4l.4-4.6l.4-1.6l.4 .2l.4-1.9l.4 3.3l.4-.2l.4-1.5l.4-1.8l.4 4.9l.4-3l.4-1.1l.4 .5l.4 1.9l.4 1.4l.4-.8l.4-2.5l.4 .5l.4 3l.4-.8l.4-2.3l.4-2.5l.4 1.5l.4 4.9l.4-1.7l.4 .7l.4-1.5l.4 5.5l.4-6.4l.4 3.6l.4-1.1l.4 2l.4-1.8l.4-2.1l.4-5.2l.4-.4l.4 2l.4 3.1l.4-2.3l.4 0l.4 3l.4-3.9l.4 1.9l.4 6.8l.4-7.8l.4 2.8l.4 2.9l.4-2l.4-2.3l.4 4.5l.4 7.9l.4-10.8l.4 .5l.4-2l.4-2.7l.4 3.6l.4-2.3l.4 2.8l.4-1.7l.4 .3l.4 2l.4-4.1l.4 1.2l.4 1.8l.4-4.5l.4 3.1l.4 3.4l.4-.5l.4-1.5l.4-7.5l.4 8.4l.4-1l.4 .9l.4-2.6l.4 2.4l.4 3.6l.4-4.8l.4 4.8l.4-3l.4 2.3l.4-2.3l.4 .2l.4 3l.4-8.4l.4 3.5l.4 4l.4 .2l.4-5.4l.4-3.5l.4 8.4l.4-.4l.4-.8l.4-1.6l.4-.2l.4 2.2l.4-5.6l.4 .2l.4 4.4l.4-2.7l.4 2.1l.4-2.2l.4 2.1l.4-3.1l.4 3.3l.4 5.4l.4-7.2l.4-.4l.4 .9l.4 3.5l.4-2.4l.4-1.6l.4-4.4l.4 1.7l.4 7.4l.4-1.1l.4-1.5l.4 .3l.4-2.2l.4 1.1l.4-2.3l.4 2l.4 2.2l.4-2l.4 .4l.4 1.1l.4-2.4l.4 1.5l.4 .8l.4-1.8l.4 3.1l.4-3.2l.4-.9l.4 0l.4 .5l.4-.3l.4-.3l.4-3l.4 4.9l.4-3.3l.4-1.1l.4 3.7l.4 1.4l.4-2.9l.4 .3l.4 1.3l.4 1.3l.4-5.1l.4 1.4l.4 2.2l.4 1.5l.4-.3l.4-3l.4 3.5l.4-4.2l.4 4.8l.4-5.6l.4 1.1l.4 2.3l.4 .4l.4-1.3l.4-.2l.4 2.4l.4 0l.4 .9l.4-2.9l.4 .2l.4-11.2l.4 6.2l.4 4l.4 .3l.4-1.4l.4 .6l.4-.2l.4 2.9l.4-.6l.4 2l.4 .6l.4-4l.4 3.3l.4 .8l.4 .9l.4-4.2l.4 1.1l.4 2.8l.4-1.7l.4-6l.4-.7l.4 5.6l.4 1.8l.4-1.6l.4-.4l.4-2.5l.4 .6l.4 0l.4 0l.4 3l.4-.6l.4-1.4l.4 1.2l.4-1.6l.4 1.6l.4-2.3l.4 4.8l.4-1.7l.4 3.5l.4-4.7l.4 3l.4 2l.4-6.3l.4 3l.4-8l.4 7.7l.4-2l.4-.1l.4-1.3l.4-1.2l.4 6.1l.4-4.1l.4 .1l.4 .6l.4 .1l.4 1.6l.4 .3l.4-1.2l.4-.8l.4 .9l.4-1.3l.4 1.6l.4-2.6l.4-1.3l.4-1.2l.4 .5l.4 1.7l.4 4.4l.4-3.7l.4 .7l.4-.1l.4 .5l.4 1.1l.4 1.9l.4-.6l.4-2.3l.4-5.2l.4 .7l.4 1.6l.4 7.4l.4-4l.4-.1l.4 .1l.4-.4l.4-1l.4-1.1l.4-1.3l.4 5.2l.4-2.3l.4 1.2l.4-4.3l.4 5.5l.4 3.1l.4-5l.4 1.9l.3-1.7l.5 3.5l.4-4.2l.4-1.4l.4 1.9l.3 3.2l.5-1.8l.4-.4l.4-2.8l.4 1.8l.3 1.8l.5-.7l.4 .6l.4-5.3l.4 4l.3-.8l.5-2l.4 4.5l.4 2.5l.4-5.6l.3 1.6l.5-2.2l.4 2.2l.4-2.6l.4 1.9l.3-1.4l.5 0l.4-.9l.4-2l.4 2.3l.3 1.7l.5 1.7l.4-3.2l.4 2.1l.4 1.7l.3-.8l.5 1.6l.4-5.1l.4 2l.4-2l.3 .3l.5 1l.4-1.3l.4 1.1l.4 .9l.3-1.2l.5 2.8l.4-2.9l.4-1.4l.4-.1l.3 .7l.5 .2l.4 2.3l.4 .9l.4-2.7l.3 .2l.5-4.6l.4 6l.4-2l.4 1.5l.3-.7l.5 .6l.4 1.2l.4-10.4l.4 7.3l.3-1.7l.5 4.8l.4-.9l.4-2.7l.4 1l.3 2.3l.5 1.5l.4-3.2l.4-.2l.4 7.7l.3-5.4l.5-3.6l.4 2.9l.4-3.1l.4 2.5l.3 1.5l.5-4.3l.4-.1l.4-4.8l.4 9.3l.3-2.7l.5 .8l.4-.6l.4 1.3l.4-.3l.3 1.3l.5 .6l.4 1.4l.4-9.1l.4 6.9l.3-1.2l.5 1l.4 .1l.4-6.4l.4 3.9l.3 1.8l.5-.5l.4-2.7l.4 5.1l.4-.7l.3-1.4l.5 2.4l.4-.4l.4-1.5l.4-1.9l.3 1l.5 .2l.4 1.3l.4-.1l.4-1.1l.3-2.8l.5 4.6l.4-2l.4-.4l.4-3.2l.3 1l.5-1.2l.4 .4l.4 3.6l.4-.6l.4 2l.4-2.8l.4-.1l.4 2.7l.4 0l.4-2.4l.4 .6l.4 1.2l.4 .9l.4-3.9l.4 .6l.4 5.4l.4-1.4l.4-2.2l.4-.6l.4 2.3l.4 1.2l.4-4.9l.4 4.2l.4-3.2l.4 2.5l.4 6.3l.4-1.9l.4-4l.4-4.4l.4 2.7l.4-1.2l.4-3.1l.4 5.3l.4 1.3l.4-2.6l.4 .6l.4-1.7l.4-.3l.4 3l.4 0l.4-5.3l.4 2.5l.4 5.3l.4-2.2l.4-2.9l.4 .6l.4 0l.4-1.4l.4 2.7l.4-1.8l.4-.9l.4 .7l.4 1.3l.4 .5l.4-.5l.4-3.7l.4 4.8l.4 1.4l.4-1.1l.4-1.2l.4 .7l.4 .6l.4 .8l.4-2.8l.4 .4l.4 1.1l.4-1l.4 .7l.4 .1l.4-1.2l.4-3.2l.4 3.7l.4-2l.4 1.7l.4 .7l.4 1.2l.4-2.6l.4 .5l.4 .7l.4-4.6l.4 4.3l.4 3l.4-5.3l.4 1.9l.4 3l.4-1.2l.4-3.2l.4 4.4l.4-2.9l.4 3.3l.4 .4l.4-2l.4 .1l.4-1.4l.4-3.8l.4 4.8l.4-1.3l.4-2.6l.4 .4l.4 1.3l.4-5.1l.4 5.4l.4-.9l.4 2.7l.4 .3l.4-.8l.4 1.8l.4-.2l.4 3.1l.4-3.3l.4-.5l.4-1.4l.4-4.7l.4 .6l.4 3.7l.4-.1l.4-5l.4 3.2l.4-1.4l.4 2.4l.4-2.1l.4 6.6l.4-2.1l.4 1.6l.4-1.6l.4-.4l.3 2.7l.5-1.7l.4-3.8l.4 .9l.4-.9l.3-1.6l.5 4.8l.4 1.3l.4-3.8l.4 1.1l.3-1.8l.5 2.1l.4-1.8l.4 .6l.4-3.3l.3 1.8l.5 4.6l.4 3.3l.4-4.2l.4 .6l.3-1l.5-4l.4-.9l.4 2.6l.4-.8l.3 3.7l.5-1.7l.4 3.5l.4-.6l.4-5.4l.3-.3l.5 .3l.4 1.8l.4 2.4l.4 .9l.3-7l.5 5.4l.4-4.2l.4 3.2l.4-2.5l.3 2.5l.5-.4l.4 .7l.4 .3l.4 1.6l.3 1.1l.5-4.5l.4 2l.4-.2l.4 1.5l.3-2.7l.5-2.6l.4 2.3l.4 2.1l.4 .1l.3-3.4l.5 4.4l.4-5.5l.4 2.2l.4 .9l.3-.4l.5-1.8l.4 5.6l.4-3.7l.4 5.6l.3-5.3l.5-3.2l.4-.3l.4 4.6l.4-.9l.3-1.9l.5 3.2l.4-.3l.4-1.1l.4-2.3l.3 1l.5 .4l.4-1.8l.4 2.9l.4 .6l.3-2.7l.5 1.5l.4-1.6l.4-1.3l.4 3.4l.3 .5l.5 1.1l.4 1l.4-.8l.4-1.8l.3-.6l.5-.2l.4-3.8l.4 1.3l.4 1.1l.3 .7l.5 3.9l.4-1.8l.4-1.8l.4-.5l.3-2.4l.5 2.6l.4 4.1l.4-2.6l.4 .7l.3-2.7l.5 .9l.4 2.7l.4-1.6l.4 3.3l.3-4.1l.5 .5l.4-.3l.4 2.1l.4 3.3l.3-7.5l.5 4.5l.4 .7l.4-3.1l.4 1.2l.3 .9l.5-1.1l.4 5.2l.4-5.7l.4 2l.3 .1l.5-.8l.4 .1l.4 2.8l.4-2.9l.3-3.8l.5-.9l.4 3.2l.4 .9l.4 3.8l.3-3.8l.5 2.1l.4-.9l.4-2.5l.4 2.8l.3-.5l.5-4.9l.4 2.5l.4 .6l.4 .7l.3 .2l.5 3.7l.4-2.4l.4-2.6l.4-10.2l.3 10.5l.5-1.4l.4-3.1l.4 7.7l.4-2l.3-1.9l.5 2.3l.4 2.4l.4-10.2l.4 4l.3-.2l.5 6.8l.4-4l.4 1.2l.4-.2l.3 4.4l.5-2l.4-9.1l.4 5.2l.4 2.2l.3 .8l.5-1.7l.4-2.1l.4-.8l.4-.7l.3 2.5l.5-2l.4 1.6l.4 4.1l.4-4.3l.3-.7l.5 .6l.4-1l.4 5.4l.4-5.6l.3 7.7l.5-3.5l.4-3.9l.4 2l.4 .9l.3-3.8l.5 4.8l.4-5.7l.4 4.9l.4-2.3l.3-1l.5 4.5l.4 2.4l.4 1.6l.4-5.7l.3 5.7l.5-11.3l.4 4.3l.4-.4l.4 .7l.3 2.5l.5 .5l.4-7.6l.4 3.1l.4 2.8l.3 .9l.5-3.5l.4-2.4l.4 4.5l.4-2.1l.3 .2l.5 .9l.4 .5l.4 5.4l.4-5.4l.3-.9l.5 4.1l.4-3.5l.4 1.1l.4 3.6l.3-5.7l.5 2.7l.4-1.3l.4 2.1l.4-2.3l.3 3.5l.5-3.7l.4 3l.4-3l.4 3.1l.3 2.2l.5-8.6l.4 16.4l.4-12.2l.4-.6l.3 2.7l.5-4.7l.4 2.9l.4-1.5l.4-.7" stroke="#11f" stroke-width="1" />
<path d="M668.9 588l.4 .2l.4 2.4l.4-5.4l.4 6.3l.4-3.9l.4 2.7l.4 2.3l.4-5.3l.4-3.8l.4 4l.4-1.9l.4-1l.4-.5l.4 1.9l.4 3.1l.4 1.9l.4-4.9l.4 2.6l.4-1.6l.4-.4l.4 1.1l.4 1l.4-6.1l.4 6.1l.4 2.2l.4 2.7l.4-7.9l.4 1.4l.4 5.4l.4 1.3l.4-4.3l.4 2.4l.4-4.9l.4-6.8l.4 3.6l.4 6.2l.4 3.7l.4 .1l.4-5.4l.4 0l.4-2l.4 1.3l.4-.7l.4 3.2l.4-1.7l.4 1.7l.4 2.5l.4-4.3l.4-10.2l.4 10.2l.4 .1l.4 .8l.4-4.9l.4 7.4l.4-3.1l.4 3.5l.4-4.3l.4 3.2l.4-1.2l.4 .5l.4-.2l.4 2.4l.4 2l.4-.2l.4-7.4l.4-.9l.4 5.6l.4 3l.4-4.3l.4 5.6l.4 .5l.4-6.8l.4 2.9l.4 .6l.4-3.7l.4 6.9l.4-11.5l.4-2.2l.4 8.5l.4-5l.4 5l.4 1.5l.4-3.1l.4 5.5l.4-7.5l.4-4.6l.4 9.4l.4-2.6l.4-1.9l.4-2.7l.4 5.7l.4 4.6l.4-8l.4 4.2l.4 2.9l.4-7.2l.4 4.1l.4-1.2l.4-.4l.4-4.1l.4 7.9l.4-1.3l.4 0l.4 3.6l.4-8.8l.4 5.3l.4-3.4l.4 1.9l.4-1.8l.4 2l.4-16l.4 16.6l.4-4.5l.4 0l.4 .9l.4 0l.4 4.5l.4-5.6l.4 2.3l.4 1.4l.4-1.5l.4-4.5l.4 3.7l.4-4.7l.4 0l.4 9.7l.4 1.3l.4-4l.4-3.9l.4 3.3l.4 0l.4 1.8l.4 4.2l.4-9.9l.4 2.7l.4 3.5l.4-14.1l.4 10.6l.4 1l.4 3l.4-4.8l.4 5.1l.4-2.3l.4 .5l.4-8.1l.4 3.2l.4 8.4l.4-6.4l.4-1.1l.4 .7l.4 2.5l.4-.6l.4-6l.4 5.5l.4-2l.4-1.8l.4 5l.4-.7l.4-4.8l.4 4.9l.4-2.7l.4-1.7l.4 9.4l.4-4.8l.4-.1l.4-2l.4-2.4l.4 5.4l.4-4.7l.4 3.3l.4 5.9l.4-13l.4 1.4l.4 6.5l.4 2.9l.4-6.9l.4 6l.4-.2l.4-3l.4-.9l.4 6l.4-5.4l.4-4.6l.4 7.9l.4 1.6l.4-2.5l.4-2.1l.4 8.8l.4-3.7l.4-6.7l.4-2.2l.4 9.5l.4-6.7l.4-2.1l.4 3.4l.4 5l.4-1.8l.4-4.3l.4 3.9l.4-1.6l.4 4.6l.4-3.6l.4-6.9l.4 3.8l.4-3.1l.4-1.1l.4 1.9l.4 .5l.4-1.1l.4 5.8l.4 6l.4-5l.4 2.5l.4-13.4l.4 8.5l.4 0l.4 1l.4-5.5l.4 .9l.4 1.3l.4 3.9l.4-2.6l.4 2.1l.4 2l.4-11.3l.4 10.9l.4 0l.4 1.2l.4-4.8l.4-5.6l.4 4.9l.4 2l.4 .4l.4-4.4l.4-.8l.4 2.9l.4 .1l.4-3.9l.4 1.9l.4-1.1l.4 3.3l.4 1.9l.4-.3l.4 1.3l.4-3.9l.4 5.5l.4-.2l.4-4.4l.4-.6l.4 .5l.4 3.5l.4-2l.4 .3l.4 2.9l.4-6.7l.4 5.1l.4-.7l.4 1.5l.4 .3l.4-4.4l.4 1.5l.4 3.4l.4-6l.4 .3l.4 0l.4 2.3l.4 2.1l.4-12.2l.4 9.2l.4 .6l.4-1.3l.4 3.1l.4-4.6l.4-3.8l.4 3l.4 8l.4-13.6l.4 6.5l.4 .4l.4 .5l.4-.4l.4-.8l.4-3l.4 2.6l.4 1.6l.4 1.5l.4-2l.4 .9l.4-5l.4 7.6l.4 2.3l.4-6.5l.4 5.7l.4 1.4l.4-7l.4 3.1l.4-.8l.4 2.2l.4-.9l.4 2l.4-1.6l.4-3.9l.4 2.3l.4-2.5l.4-.4l.4 .1l.4 3.8l.4 .2l.4 .6l.4-5.2l.4 .3l.4 7l.4-3.8l.4-2.4l.4-.9l.4 4.3l.4-3l.4 3.3l.4-2.1l.4 1.7l.4 1l.4 2.4l.4-8.2l.4 2.6l.4 .1l.4-1.9l.4 .1l.4 4.3l.4 2.7l.4 3.1l.4-10.8l.4-1.7l.4 11.1l.4-2l.4-2.6l.4-18.3l.4 13.6l.4 3.6l.4 0l.4-2.4l.4 6.4l.4-2.7l.4 .7l.4-9.8l.4-.2l.4 6.3l.4 1l.4-2.8l.4-.1l.4-3.9l.4 6.8l.4 2.8l.4-3.6l.4 2.5l.4-1.8l.4 3.4l.4-2.1l.4-1.2l.4 .8l.4 2.2l.4-2.2l.4-.6l.4-1.4l.4 3.8l.4-4l.4 1.5l.4-2.5l.4 1.7l.4-3.1l.4-.3l.4 2.9l.4-2.3l.4 6l.4-5.6l.4-.8l.4 8.9l.4-1.7l.4-6.9l.4 5.1l.4 1.9l.4-3.9l.4-1.3l.4 2.7l.4-2.4l.4 1.5l.4 2.5l.4 0l.4 1.1l.4-6.1l.4 8.6l.4 1.5l.4-4.7l.4 .4l.4-3.3l.4 2l.4-8.8l.4 1.5l.4 5.3l.4 6l.4-2.6l.4-2.6l.4 1.5l.4 .8l.4-1.3l.4-2.4l.4 2.8l.4 2.6l.4-7.8l.4 1.3l.4 4.2l.4 1.6l.4-3l.4 2.1l.4-6.8l.4 3l.4-2.3l.4 1.2l.4 5.4l.4-3.5l.4 4.4l.4-4.2l.4 3.9l.4-5.5l.4 1.3l.4 3.1l.4 3.6l.4-1.9l.4 .7l.4-.9l.4-2.3l.4-5.6l.4 7.5l.4 2.5l.4-11.7l.4 .3l.4 3.9l.4 3.4l.4 .5l.4 2.6l.4-5.4l.4 .1l.4 1.5l.4-3.2l.4 0l.4 12.5l.4-6.5l.4-3.8l.4 0l.4-4.5l.4 5l.4-5.6l.4 7.1l.4 5.4l.4-6.3l.4 3.7l.4-3.8l.4 .7l.4-9.1l.4 4.6l.4 5.3l.4-9.1l.4 8.8l.4 1.5l.4 1.8l.4-2.7l.4-1.2l.4 2.2l.4-1l.4-3.5l.4 4.8l.4-4.5l.4 1.2l.4-1.6l.4-6.6l.4 10.5l.4-.3l.4-2.1l.4-2.2l.4 5.1l.4 1l.4-1.8l.4-3.7l.4 7.2l.4-4.5l.4 3.3l.4-4l.4-4.7l.4-5.7l.4 10.8l.4 2.2l.4-.6l.4-8.4l.4 2.7l.4-5.4l.4 7.7l.4-1.9l.4 1.9l.4 1.8l.4 1.1l.4-5l.4 4.3l.4 4.1l.4-1.9l.4-4.3l.4 .4l.4 1.9l.4-3.8l.4-1.2l.4-.1l.4-.4l.4 8.1l.4-14.6l.4 3.4l.4 4.2l.4 1l.4 .5l.4 2.9l.4-2.6l.4-1.5l.4 3.1l.4 1.3l.4-3.7l.4-1.4l.4 5.4l.4-.7l.4-2.9l.4 3.2l.4-2.3l.4 2.2l.4-3l.4 9.8l.4-6.6l.4 2.3l.4-6.4l.4 1.5l.4 .2l.4-.9l.4-.5l.4 2.1l.4 1.3l.4-3l.4-.9l.4 1.8l.4 6.5l.4-5.1l.4-2.1l.4-1.5l.4 2.5l.4-2.6l.4 3.3l.4 3.3l.4-.1l.4-3.2l.4-1.7l.4 2.2l.4 1l.4 6.3l.4-7.1l.4-.9l.4-.7l.4 1.6l.4 0l.4 4.8l.4-5.6l.4-2.6l.4 .9l.4 5.5l.4-5.6l.4 3l.4 1.2l.4-2.1l.4 .6l.4-1.1l.4-3.9l.4 2.7l.4 2l.4-4.1l.4 5.2l.4-.2l.4-8.7l.4 4.1l.4 .4l.4 2.1l.4 2.2l.4-4.4l.4 1.2l.4 2.4l.4-1l.4 1l.4-3.5l.4 6.4l.4-4.5l.4 8.3l.4-12.3l.4 7.6l.4-2l.4-3.1l.4-.6l.4 2.3l.4 1.2l.4 3.4l.4-7.1l.4-.8l.4 .2l.4 .6l.4 2.6l.4-3.5l.4 6.9l.4-1.9l.4-.4l.4 4.8l.4-8.1l.4-2.9l.4 5.5l.4 0l.4-5.5l.4 10.4l.4-6.3l.4-1.7l.4 .5l.4-2.6l.4 4.8l.4 .2l.4-2.7l.4-.2l.4 1.4l.4 3.5l.4-4.5l.4-1l.4-.7l.4 3.1l.4 1.5l.4-5.7l.4-4.6l.4 9.4l.4-4.7l.4 6.7l.4-6l.4 7.1l.4-3l.4-3.5l.4-.5l.3 8.6l.5-7.5l.4 4.5l.4-7.4l.4 2l.3 3.2l.5-1.8l.4-.6l.4 3l.4-1.4l.3 .9l.5-2.4l.4-2.1l.4-.9l.4-2.9l.3 8l.5-3.7l.4 3.3l.4-2.3l.4 .8l.3 1.4l.5-1.4l.4-2.8l.4 1.6l.4-2.2l.3-.6l.5 1.3l.4 1.1l.4 4.9l.4-7.8l.3 3.6l.5 1.6l.4-4.1l.4 3.3l.4 2.5l.3 1.6l.5-6l.4 1l.4-5l.4 2.4l.3 1.9l.5-2.8l.4 5.7l.4-1.8l.4-1.6l.3-.1l.5-2l.4 4.9l.4 1.7l.4-.8l.3-3.3l.5-1.7l.4-.5l.4 .1l.4 4.6l.3-5.1l.5-.8l.4 4.2l.4-2.8l.4 2.8l.3 .6l.5-.5l.4-6.1l.4-.1l.4 11.2l.3 1.6l.5-1.5l.4-2.4l.4-3.6l.4 6.9l.3-5.7l.5 .6l.4 .2l.4-1.1l.4-5.3l.3 1.8l.5 4.4l.4 2.8l.4-3.2l.4-2.1l.3 .7l.5-.8l.4 1l.4 2.3l.4-4.1l.3 2.3l.5-1.3l.4-1.1l.4 2.5l.4 2l.3-4.6l.5-3.3l.4 1l.4 5.6l.4 1.7l.3-.5l.5-2.2l.4 4.5l.4-4l.4 1.1l.3 4.1l.5-6.9l.4 2.7l.4-8.7l.4 5.1l.3-1.1l.5 4.7l.4-3.7l.4-.7l.4 3.1l.3 1.6l.5 .3l.4-.6l.4-6.8l.4 1.8l.3 2.7l.5 6.7l.4-10.1l.4-1.9l.4 5l.3-3l.5 3.4l.4-.1l.4-1l.4 2.1l.4-.6l.4 5.4l.4-6.1l.4 3.4l.4 16.2l.4-16.1l.4-.4l.4 0l.4-5.9l.4 3.6l.4-3l.4 4.2l.4-.6l.4-.8l.4-.9l.4 .9l.4-4.2l.4-3.7l.4 5.4l.4 .7l.4-1l.4 3.7l.4 5.7l.4-8.5l.4 .1l.4 .2l.4 3.5l.4 .4l.4-3.5l.4-4.8l.4 5.5l.4-.5l.4-2.3l.4-.5l.4 .5l.4-.3l.4 1.3l.4 1.4l.4-1.7l.4 .2l.4 4.4l.4-1.8l.4 1l.4-9.1l.4 8.1l.4-.9l.4-1.1l.4 .6l.4 2.6l.4 2.2l.4-.4l.4 1.3l.4-4.3l.4-.4l.4-.2l.4-4.4l.4 3l.4 6.3l.4-8.9l.4 7.8l.4 .1l.4-3.9l.4 .4l.4 4.7l.4 10.4l.4-9.9l.4-3.2l.4-6.1l.4 3.9l.4-2.1l.4 .4l.4-1.5l.4-1.2l.4 2.4l.4 4.9l.4-2.2l.4 .1l.4-18.2l.4 19.4l.4-8.4l.4 8.3l.4 4l.4 2.6l.4-4.9l.4-.6l.4-4.4l.4 2.3l.4-3.6l.4-1.3l.4 3.2l.4-1.2l.4-3.1l.4 6.9l.4-3.5l.4 .7l.4-3.1l.4 1l.4-2.2l.4-1.9l.4 6.1l.4 0l.4-1.2l.4 0l.4-.8l.4 1.2l.4 0l.4 2.3l.4-1.8l.4-1l.4 .9l.4-2l.4 1l.4 1.4l.4 .5l.4-3.1l.4 0l.4 3.4l.4-.1l.4-2.4l.4-3.6l.4 6l.4 2.2l.3-3.2l.5-3.3l.4-2.5l.4 4.6l.4 .2l.3-.9l.5-.6l.4-.2l.4 0l.4-7.4l.3 2.4l.5 3.4l.4-3.7l.4 .1l.4 .9l.3 4.3l.5-1.8l.4 4l.4-11.1l.4 4.9l.3-.4l.5-4.4l.4 4.7l.4-.9l.4 1.2l.3-.9l.5-.9l.4 2.3l.4-1.2l.4 3l.3-.3l.5 3.3l.4-5.2l.4 9.5l.4-5.3l.3 .5l.5 .1l.4 .6l.4-.1l.4-4.6l.3 8.2l.5-6.9l.4 3.9l.4 4.5l.4-7.8l.3-1.4l.5 5.1l.4 1.1l.4 1.6l.4-2l.3-3.6l.5 5l.4 .9l.4-6.7l.4 4.5l.3 2.3l.5-3.3l.4 1.5l.4 3.3l.4-.7l.3-2.2l.5 4.7l.4-4.7l.4-1.1l.4-4.9l.3 8.5l.5-6.9l.4 3.2l.4-4l.4 5.3l.3-3.3l.5 7.6l.4-3.7l.4-.3l.4-1.3l.3 4.9l.5-7.1l.4 3.7l.4 2.5l.4-5l.3 1.9l.5 3.1l.4-1.7l.4 .1l.4 1.2l.3-1.4l.5-1.2l.4 1.1l.4-1l.4-.2l.3 2.8l.5-2.4l.4 1.7l.4-.2l.4-.9l.3 1.1l.5 .7l.4 1.5l.4-2.2l.4-2.4l.3-1.6l.5 8.1l.4-4.7l.4 6.9l.4-1.4l.3-4.5l.5-2.7l.4 3.8l.4-2.4l.4 .2l.3 .3l.5 2.5l.4-3.5l.4 4.9l.4-8.3l.3 1.4l.5-.6l.4 1.2l.4 5.4l.4-6.4l.3 .3l.5 7l.4-5.5l.4 5.1l.4-3.8l.3 1.3l.5-2.2l.4 2.3l.4-4l.4 6.2l.3-2.9l.5 3.4l.4-.7l.4-2.2l.4-4.7l.3-.6l.5 5.2l.4 6.2l.4-6.9l.4 2.7l.3-5.8l.5 6.7l.4-3.6l.4-3.3l.4 2.2l.3-2.3l.5 8.7l.4 1.8l.4-3.3l.4-2.2l.3-.4l.5-.4l.4-1.5l.4 0l.4 8.1l.3-4.2l.5-2.2l.4 .7l.4-.2l.4 1.4l.3-.7l.5-2.6l.4-.8l.4 2.3l.4-4.5l.3 7.8l.5-4.4l.4-.1l.4 1.4l.4-6.6l.3-.5l.5 2.8l.4 2.8l.4 .4l.4 .9l.3 2l.5-5.2l.4-.1l.4 .1l.4 2l.3-1.1l.5 3.2l.4-.5l.4-4.6l.4 5.2l.3 1.1l.5-1.2l.4-2.1l.4 2.8l.4-2.2l.3-1.6l.5-3l.4 8.7l.4-4.6l.4 5.2l.3-5l.5-1.8l.4-.7l.4 1l.4-4.4l.3 1.1l.5 10.4l.4-2.2l.4-.8l.4-3.9l.3-2.7l.5 4.4l.4-1.2l.4 2.7l.4-.7l.3-2.1l.5 .4l.4 1.7l.4-.9l.4-1.2l.3 2.1l.5 .2l.4 1.4l.4-2.5l.4 .1l.3 4.1l.5-1.8l.4-3.7l.4-.4l.4 4.2l.3-4.1l.5 3.8l.4 2.3l.4-6l.4 5.5l.3-2.1l.5 3.2l.4-3.1l.4-5.8l.4 6.7l.3-.8l.5 1.5l.4-1.9l.4 6.5l.4-7.9l.3 1.1l.5-2.1l.4-2.1l.4 2.9l.4 1.4" stroke="#1e1" stroke-width="1" />
<path d="M668.9 586.9l.4-1.1l.4 1.6l.4 2.4l.4 .7l.4 .7l.4 0l.4 3l.4-11l.4 5.2l.4-1.4l.4-.8l.4 4.3l.4-.6l.4-2.6l.4 1.3l.4-1.2l.4 4.1l.4 1.6l.4-1.1l.4-7.3l.4 7.5l.4-.7l.4-7.5l.4 5.7l.4-1.7l.4 4.8l.4-2l.4 1l.4 1l.4 4.1l.4-5.1l.4-5.3l.4 6.9l.4 3.4l.4-6.9l.4 2.2l.4-2.9l.4 .6l.4 .1l.4 4.9l.4-10.1l.4 3.6l.4-2.5l.4 9.7l.4-5.8l.4-3.2l.4 11.5l.4-12.6l.4 3.8l.4-4.8l.4 4.4l.4 .7l.4 .3l.4 1.6l.4-6.1l.4 1.8l.4 1.2l.4 .5l.4 1.8l.4-7.3l.4 5.9l.4 7l.4 2.3l.4-2.6l.4-9.7l.4-.7l.4 6.9l.4-8.6l.4 .9l.4 6.1l.4-2.8l.4-6.3l.4 10.9l.4 2.4l.4 1.3l.4-1.4l.4-4.1l.4-1l.4 .7l.4 4.1l.4 3.5l.4-6.7l.4-.6l.4 .2l.4 .9l.4 1.4l.4-7.8l.4 6.6l.4-9.2l.4 7.7l.4 7.3l.4 1.1l.4 8.3l.4-11.7l.4-2.6l.4 1.3l.4-10.9l.4 8.8l.4 2.6l.4 2.8l.4-14.9l.4 5.3l.4-2.1l.4 7.8l.4 4.2l.4-4.5l.4 2.7l.4 1.3l.4-2.6l.4-4.4l.4 8.4l.4-5.4l.4 1.7l.4-9.9l.4 2.3l.4-1.3l.4 5.6l.4 2.9l.4-8.7l.4 3.7l.4 1.2l.4-3.4l.4-7l.4 3.4l.4 6.4l.4-2.1l.4-2l.4-1.1l.4 8l.4 4.6l.4-8.3l.4-1l.4-7l.4 2.5l.4 11.5l.4-11.4l.4 9.7l.4-10l.4 11.2l.4 .6l.4-15.6l.4 13.1l.4 13.3l.4-10.3l.4-13.9l.4-5.1l.4 8.2l.4-10.1l.4 11.8l.4 4.5l.4-13.9l.4 12.8l.4-6l.4-6.3l.4 1.9l.4 2.6l.4 18.5l.4-9.2l.4-9.2l.4-7.6l.4 6.1l.4 3.2l.4-8.5l.4 7.4l.4-14.8l.4 4.3l.4 23.7l.4-7.2l.4-17.6l.4-11.9l.4 24.8l.4 4.4l.4 4.3l.4-10l.4-4.1l.4-6.3l.4 14.2l.4-13.5l.4 .5l.4 2.9l.4 1l.4-10.8l.4 29.7l.4-18.7l.4 6.4l.4-5.3l.4 2.4l.4 18.5l.4-12.9l.4-15.7l.4 16.1l.4-4.8l.4-16.1l.4 20.7l.4-.9l.4-6.9l.4-2.7l.4-4.8l.4 10.8l.4-10l.4 13.1l.4-14.7l.4 6.4l.4 .9l.4 12.2l.4 3.4l.4-4.9l.4-10.1l.4 11.8l.4-10.3l.4 6.6l.4-2.8l.4 7l.4 5.9l.4-1l.4-.6l.4 7.6l.4-2.6l.4 3.7l.4-8.6l.4 1.7l.4-8.2l.4-6l.4 24.1l.4-11.9l.4-14l.4 20.2l.4-5.4l.4 3.1l.4-4.4l.4 7.9l.4-20.4l.4-8.4l.4 27.1l.4-2.1l.4-13.1l.4 2.4l.4 15.6l.4-2.1l.4-12.8l.4 16.5l.4-12.2l.4-.5l.4-3.5l.4 14.9l.4-5.5l.4 1.1l.4 6.3l.4-12.9l.4-1.6l.4 12.8l.4-5.8l.4-2.5l.4 3.2l.4-5.5l.4 2.1l.4 1.3l.4-1.4l.4-2.3l.4 7.3l.4-1.7l.4-5.9l.4 .8l.4 1.7l.4 .9l.4-8l.4 10.2l.4 15.6l.4-22.4l.4 .7l.4-2.2l.4-.3l.4-2.7l.4-.6l.4 4.8l.4 5.2l.4-.8l.4-2.2l.4 0l.4-4.4l.4 2.2l.4 1.2l.4-4.7l.4 8.7l.4-12.4l.4 7.1l.4-2.4l.4 6.4l.4-6.4l.4 13.2l.4-11.4l.4-4.2l.4 6.5l.4-7.1l.4 3.6l.4-9.5l.4 7.5l.4 6.6l.4-17.7l.4 14.1l.4 3.6l.4-9.6l.4 14.3l.4-2.6l.4-4.5l.4-4.3l.4 6.9l.4 10.2l.4-16.3l.4 3.2l.4 1.5l.4-1.7l.4 1.9l.4-7.6l.4 8.6l.4-8.1l.4 7.5l.4-5.8l.4 13.8l.4 1.2l.4-8.1l.4-.8l.4 1l.4 3.7l.4-16l.4 3.1l.4 .3l.4 1.6l.4 2.7l.4 8.3l.4-7.7l.4-.7l.4 .9l.4 4.7l.4-.7l.4-6.7l.4 .7l.4 5.6l.4-4.7l.4 7.7l.4 9.2l.4-15.1l.4-4.9l.4-1.5l.4 7.5l.4-11.4l.4 11.1l.4-8.4l.4 3.7l.4-6.4l.4-.8l.4 4.4l.4 1.3l.4-.3l.4 7.7l.4-12.1l.4 45.7l.4-34.9l.4 16.2l.4-8.7l.4-36.7l.4 15.4l.4 21.8l.4 4.1l.4 1.2l.4-4.2l.4 12.7l.4-25.6l.4 29.4l.4 4.6l.4-25.2l.4-19.3l.4 29.6l.4 10.9l.4-11.1l.4 18.8l.4-29.6l.4 29.5l.4-34l.4 12.7l.4-4.3l.4-18.7l.4 32.6l.4-23.1l.4-25.1l.4 22.9l.4 3.2l.4-3.7l.4 .1l.4 7.8l.4 3.9l.4 2.3l.4-2l.4-25.9l.4 17l.4 6.6l.4-19.2l.4 6.5l.4 16.8l.4-36.8l.4 22.8l.4 7.7l.4-4.4l.4-13l.4 37.4l.4-35.1l.4 4.8l.4 3.5l.4-5.3l.4 1.5l.4-2.6l.4 3.5l.4 .4l.4 .8l.4-.3l.4 2.1l.4-8.9l.4 11.4l.4 1.5l.4-7.3l.4 .3l.4 9.7l.4-14.9l.4-9l.4 8.4l.4 10.8l.4-1.7l.4 .8l.4 9.9l.4-12.4l.4 7.3l.4 1.7l.4-19.6l.4 8.8l.4-1.5l.4 1l.4 2.1l.4 4.5l.4-6.6l.4 5.9l.4-5.1l.4-5.9l.4 10.1l.4 8l.4-8.3l.4-4l.4 6.6l.4-13.5l.4 10.4l.4-2.8l.4 4.8l.4-4.1l.4-.5l.4 15.5l.4-9.3l.4-12.1l.4 8.9l.4-11.9l.4 21.2l.4-9.3l.4 3.4l.4-11.1l.4 2.5l.4 9l.4-12.2l.4 8l.4 1.7l.4-8.7l.4 9l.4-14.8l.4 20.1l.4 10l.4-10.4l.4-6.6l.4-9.4l.4 7.6l.4 3.7l.4 .9l.4-.1l.4 .3l.4 5.3l.4-4.2l.4 7l.4-.1l.4-10.6l.4-3.3l.4 0l.4 14.8l.4-4l.4 29.6l.4-29.5l.4 5.1l.4-12.5l.4-21.6l.4 31l.4-8.5l.4 5.5l.4 3l.4 .7l.4-30.3l.4 17.8l.4-.4l.4-6.4l.4 5.4l.4 6.3l.4-1.3l.4-10.7l.4 21l.4-13l.4 4.2l.4-5.5l.4 2.4l.4-2.1l.4 9.3l.4-7.4l.4 0l.4 5.6l.4-5.6l.4 4.3l.4-13.7l.4 5l.4 1.3l.4 4.1l.4-8.5l.4 10.8l.4 11.1l.4-16.2l.4-1.4l.4 7.7l.4-4.4l.4-4.6l.4 2.1l.4-15.2l.4 8l.4 11.6l.4-.9l.4 1l.4 2.9l.4-5.1l.4-7.8l.4 7.6l.4 9.1l.4-2.7l.4-8.5l.4-3.5l.4 9.8l.4-6.4l.4 8.8l.4-13l.4 6.5l.4 1.6l.4-7.6l.4 19.2l.4-12.9l.4 6.1l.4-8l.4-2.5l.4 8.5l.4-6.3l.4 3l.4-1.1l.4 2.4l.4-11.7l.4-5.3l.4 6.4l.4-1.9l.4 12.6l.4-6.4l.4 0l.4-1.8l.4-.4l.4-9l.4 7.7l.4-5.7l.4 2.4l.4 9.5l.4-7.6l.4 14l.4-9l.4-7.2l.4 6.8l.4-11.2l.4 9.2l.4-8.4l.4 10.4l.4-8.3l.4 8.4l.4 1l.4-16l.4 17.9l.4-5.1l.4 2.1l.4-19.7l.4 25.2l.4-9.9l.4-4.4l.4-8.5l.4 16.8l.4-3.5l.4 .8l.4 1.8l.4-1.3l.4-.2l.4-.6l.4-2.7l.4 2.8l.4 7.4l.4 8.5l.4-17.5l.4 5.3l.4 10.8l.4-4.3l.4-.2l.4-6.8l.4 6l.4 1.2l.4 8.4l.4-8.7l.4 3.6l.4-3.2l.4-2l.4 7.2l.4-8.6l.4-3.2l.4 17.8l.4-5.9l.4-8.9l.4 .5l.4-1.3l.4 .6l.4 7.4l.4 .3l.4 5.5l.4 0l.4 3.7l.4-21.4l.4 10.1l.4 4.9l.4 2.4l.4-2.8l.4-.8l.4-7.4l.3 8.9l.5-.4l.4 .3l.4-1.5l.4-1.9l.3-4.9l.5 2.3l.4 0l.4-1.8l.4-1.7l.3-.8l.5-5.4l.4 14.6l.4-10.9l.4 9.1l.3-1.8l.5-7.5l.4 20.8l.4-19.7l.4 4.6l.3-10l.5 15.6l.4-12.9l.4 3.8l.4-10.6l.3 .3l.5 3.4l.4-5.1l.4 1.8l.4 4.1l.3 5l.5-6.7l.4-5.9l.4 18.5l.4-12.7l.3-13.7l.5 19.5l.4 .8l.4-16.7l.4 35.5l.3-16.7l.5-7l.4-1.3l.4-10.6l.4-5.1l.3 .4l.5 8.3l.4 15.2l.4-9.1l.4-15.9l.3 17.6l.5 .6l.4 2.8l.4-.2l.4-2.6l.3-5l.5 7.1l.4 1.8l.4-11.1l.4 9.8l.3 2.7l.5 .6l.4-14.5l.4 14.5l.4-23.2l.3 9.6l.5 31.8l.4 2.2l.4-3.4l.4-2.2l.3-4.2l.5-2.6l.4 12l.4-8.9l.4 4l.3-3.4l.5-8.6l.4 .3l.4 11.8l.4-4.1l.3-5.2l.5-8.5l.4 18.7l.4-12.1l.4-1.2l.3 7.4l.5-6l.4-1.7l.4-1.8l.4-1.2l.3-5.9l.5 14.9l.4-16.3l.4-12.4l.4 13.9l.3 4.5l.5-21.6l.4 16.4l.4-7.5l.4-8l.3 24.8l.5-9.6l.4-4.9l.4 7.5l.4 2.4l.3-.2l.5 3.7l.4-.4l.4 14.2l.4-5.1l.3-1.2l.5 2.7l.4-20.6l.4 20.3l.4-12.8l.3 4.8l.5-3.1l.4 4.4l.4 .6l.4-4.5l.3 7l.5 3.6l.4-4l.4-4l.4 .5l.4 1.8l.4-4.1l.4 2.9l.4-2.1l.4 2.6l.4-7.4l.4 6.4l.4-2.3l.4-6.9l.4 4.8l.4-9.6l.4 21.7l.4-15.5l.4 3.9l.4-1.1l.4 7.1l.4-12.6l.4 7.1l.4 7.6l.4-2.8l.4-6.6l.4 .2l.4-2.9l.4 5.7l.4-3.8l.4 .7l.4 5.4l.4 7.2l.4 1.4l.4-13.3l.4 9.7l.4-8.4l.4 4.8l.4-2.5l.4-1.8l.4 7.5l.4-7.5l.4 8l.4-7.1l.4-1l.4 .4l.4 13.9l.4-14.4l.4 4.2l.4 16.9l.4-12.4l.4-7.8l.4-1.6l.4 .8l.4 4l.4 2.8l.4-.4l.4 2.9l.4-.3l.4-9.8l.4-9.6l.4 18.2l.4-8.1l.4 5.3l.4 2.2l.4-2.2l.4 1.6l.4-7.2l.4 5.6l.4 1.4l.4-3.5l.4 3.6l.4-7l.4 11.1l.4-11.9l.4-4l.4 1l.4 10.3l.4-7.5l.4-.7l.4 4.1l.4 5.8l.4-6.7l.4 1.9l.4-2l.4-9.9l.4 .8l.4 3l.4 5.3l.4-7.6l.4 7.6l.4-2.9l.4-1.2l.4-11.3l.4 9.2l.4 15.4l.4-19.1l.4 12.3l.4-33.9l.4 24.6l.4-2.8l.4 9.9l.4-6.3l.4 7.4l.4 5.2l.4-2.1l.4-16.8l.4 12.1l.4 8l.4-17.5l.4-.8l.4 13.4l.4 10.1l.4-13.8l.4-2l.4 3.1l.4-2.7l.4 18.4l.4 4.3l.4-18.3l.4 15.4l.4-13.6l.4-2.2l.4 4l.4-9.9l.4-1.3l.4 15.8l.3-9.8l.5 10.5l.4-2.6l.4 8.9l.4-13.4l.3 12.9l.5-12.3l.4-4l.4 17l.4-9.3l.3-2.3l.5 4.2l.4-6.8l.4 3.2l.4 21.4l.3-13.5l.5-3.9l.4 8.9l.4-12.2l.4 7.9l.3 4l.5-12.2l.4-21.8l.4 13.8l.4 9.9l.3-5.3l.5 10l.4 6.3l.4-16.9l.4-1.6l.3 8.1l.5-11.5l.4-9l.4 19.1l.4-16.8l.3 .2l.5-3.4l.4-.2l.4 19.3l.4-11.2l.3-9.6l.5 15.3l.4 8.5l.4-19.8l.4 19l.3-10.3l.5 12.8l.4-3.4l.4-15.1l.4 .8l.3-2l.5 19.8l.4-10.4l.4-6.9l.4-11l.3 15.2l.5-9.6l.4 15.1l.4 .2l.4-5.3l.3-2.4l.5 11.6l.4-6.3l.4 4.4l.4-6.9l.3 1.8l.5 2.1l.4 1.2l.4 10.9l.4-11.6l.3 2.5l.5 1.7l.4-2.4l.4-2.5l.4-2.1l.3-5.3l.5 10.4l.4 4.6l.4-7.3l.4-3l.3-2l.5 5.2l.4-9.6l.4 4.2l.4 2.7l.3-.5l.5 4.3l.4-5.7l.4 .4l.4 13.1l.3-21.7l.5 6.1l.4 13.1l.4-5l.4-2.2l.3-2.2l.5-2.2l.4-6.6l.4 11.6l.4 1.6l.3 3.3l.5 17.8l.4-13.4l.4-3l.4 4.7l.3-5.8l.5 10.8l.4 3.3l.4-15.1l.4 19.2l.3 2.2l.5-13.7l.4 2.6l.4 16.8l.4-22.7l.3 13l.5-4.9l.4-8.5l.4-5.1l.4 10.6l.3-10.6l.5-4.4l.4 3.6l.4-9l.4 15.3l.3-3.2l.5-.6l.4-8.9l.4 10.2l.4 9.3l.3-16.6l.5 .6l.4 13.2l.4-6.4l.4-9.5l.3-1.8l.5 7.9l.4 22.1l.4-25.2l.4 7l.3-3.5l.5-.4l.4-1.7l.4-1.4l.4-15.6l.3 12.3l.5 4.5l.4-3.3l.4-2.1l.4 6.9l.3-4.6l.5 2.8l.4-15.8l.4 6.3l.4-6.7l.3 15.6l.5-1.3l.4-3.4l.4-2.7l.4 3l.3-7.3l.5 12.6l.4-7.5l.4 4.6l.4-1.5l.3 1.1l.5-9.9l.4 4.4l.4-5.8l.4 4.7l.3 2.3l.5 2.9l.4-1.1l.4-6l.4-.8l.3 4.6l.5 6.2l.4 7l.4 3.5l.4-15.1l.3 5.3l.5-3.3l.4 5.8l.4-2.2l.4-5.9l.3 9.7l.5-9.3l.4 4.8l.4 4.8l.4-5l.3 0l.5-2.2l.4 1.5l.4-6.2l.4 4.7l.3 2.5l.5 2.5l.4 3.2l.4 16.8l.4-26.2l.3 4.9l.5 4.5l.4-9.1l.4 4.5l.4 1.3l.3-9.1l.5 .2l.4 11.9l.4-1.7l.4-18.3l.3 14.3l.5 4.5l.4-12.3l.4 4.6l.4-2.8l.3 6l.5-3.7l.4 8.1l.4 8.7l.4-14l.3 2.5l.5 3.2l.4-3l.4-3.5l.4-1.2l.3-.2l.5 7.4l.4-2.9l.4 3.8l.4-5.1l.3 .2l.5 5.4l.4-.4l.4 3l.4-6l.3-5.7l.5 5.2l.4-6.1l.4 2.8l.4-4.7l.3 8.8l.5 .5l.4 .9l.4-4.8l.4-1.8" stroke="#f11" stroke-width="0.95" />
<path d="M668.6 590.3H1122.6" stroke="#000" stroke-width="1.5" stroke-dasharray="5 3.5"/>
</g>
<path d="M716.5 558.7v10M716.5 632.6v-10M807.5 558.7v10M807.5 632.6v-10M898.5 558.7v10M898.5 632.6v-10M989.5 558.7v10M989.5 632.6v-10M1080.5 558.7v10M1080.5 632.6v-10" stroke="#111" stroke-width=".95"/>
<path d="M686.2 558.7v3.2M686.2 632.6v-3.2M746.8 558.7v3.2M746.8 632.6v-3.2M777.2 558.7v3.2M777.2 632.6v-3.2M837.8 558.7v3.2M837.8 632.6v-3.2M868.2 558.7v3.2M868.2 632.6v-3.2M928.8 558.7v3.2M928.8 632.6v-3.2M959.2 558.7v3.2M959.2 632.6v-3.2M1019.8 558.7v3.2M1019.8 632.6v-3.2M1050.2 558.7v3.2M1050.2 632.6v-3.2M1110.8 558.7v3.2M1110.8 632.6v-3.2" stroke="#111" stroke-width=".9"/>
<path d="M668.6 613h5.2M1122.6 613h-5.2M668.6 590.3h5.2M1122.6 590.3h-5.2M668.6 567.5h5.2M1122.6 567.5h-5.2M668.6 626.7h2.4M1122.6 626.7h-2.4M668.6 622.1h2.4M1122.6 622.1h-2.4M668.6 617.6h2.4M1122.6 617.6h-2.4M668.6 613h2.4M1122.6 613h-2.4M668.6 608.5h2.4M1122.6 608.5h-2.4M668.6 603.9h2.4M1122.6 603.9h-2.4M668.6 599.4h2.4M1122.6 599.4h-2.4M668.6 594.8h2.4M1122.6 594.8h-2.4M668.6 590.3h2.4M1122.6 590.3h-2.4M668.6 585.8h2.4M1122.6 585.8h-2.4M668.6 581.2h2.4M1122.6 581.2h-2.4M668.6 576.6h2.4M1122.6 576.6h-2.4M668.6 572.1h2.4M1122.6 572.1h-2.4M668.6 567.5h2.4M1122.6 567.5h-2.4M668.6 563h2.4M1122.6 563h-2.4" stroke="#000" stroke-width=".9"/>
<rect x="668.6" y="558.7" width="454" height="73.8" stroke="#000" stroke-width="1.25"/>
<text x="1125.3" y="571.5" font-size="11" fill="#000" text-anchor="start">1</text>
<text x="1125.3" y="594.3" font-size="11" fill="#000" text-anchor="start">0</text>
<text x="1125.3" y="617" font-size="11" fill="#000" text-anchor="start">-1</text>
<text transform="translate(1160 596) rotate(-90)" font-size="11.2" fill="#000" text-anchor="middle">J [&#181;A m<tspan font-size="9" dy="-4.5">-2</tspan><tspan dy="4.5">&#8203;</tspan>]</text>
<clipPath id="cm9"><rect x="668.6" y="632.6" width="454" height="73.8"/></clipPath><g clip-path="url(#cm9)" stroke-linejoin="round">
<path d="M728 636.6V706.4" stroke="#5c5" stroke-width="2" stroke-dasharray="9 5" opacity="0.9"/>
<path d="M756.3 636.6V706.4" stroke="#f00" stroke-width="1.3" stroke-dasharray="6.5 2" opacity="1"/>
<path d="M756.3 636.6V706.4" stroke="#00f" stroke-width="1.3" stroke-dasharray="1.6 6.9" opacity="1"/>
<path d="M813 636.6V706.4" stroke="#f44" stroke-width="1.8" stroke-dasharray="11 4" opacity="0.85"/>
<path d="M819 636.6V706.4" stroke="#f0f" stroke-width="1.8" stroke-dasharray="2 3" opacity="1"/>
<path d="M841.5 638.6V706.4" stroke="#0a0" stroke-width="1.3" stroke-dasharray="9 4" opacity="1"/>
<path d="M668.9 678.5l.4 2.5l.4 1.1l.4-.4l.4 .8l.4-.1l.4 1.2l.4-1.8l.4-.5l.4-.1l.4 1.1l.4 .7l.4-1.1l.4-.3l.4-1.4l.4 2.4l.4-1.8l.4 .3l.4-.2l.4-.8l.4 2.7l.4 .8l.4-1.7l.4-2.5l.4 3.5l.4 .1l.4-1.3l.4 8.1l.4-7.4l.4-1.6l.4-.4l.4 .5l.4 .6l.4-.2l.4 8.8l.4-7.7l.4 1.9l.4-3.6l.4 2.2l.4-2.2l.4-.2l.4 1.9l.4-3.3l.4 2.3l.4 3.1l.4-1.3l.4-2.1l.4-.8l.4 .8l.4 1.3l.4 2.4l.4-2.2l.4 .1l.4 .5l.4-2.4l.4 .7l.4 .9l.4-2l.4 1.8l.4-7.2l.4 4.5l.4 1.8l.4 .7l.4 .4l.4-1.1l.4 1.8l.4 .7l.4 .1l.4-2.4l.4 .9l.4-2.4l.4 1.1l.4 1.8l.4 .1l.4-1.3l.4 .9l.4-.1l.4-.7l.4 1l.4-.8l.4-.1l.4-1.7l.4-.1l.4 .2l.4 1.8l.4-1.7l.4 .6l.4 0l.4 1.7l.4 .1l.4-2.8l.4 1.2l.4 3.8l.4-.5l.4-16.5l.4 15.6l.4-1.1l.4 .5l.4-1.4l.4 .5l.4-4.3l.4 2.6l.4-.4l.4 2.9l.4-1.3l.4 2.1l.4-2l.4-.6l.4 .1l.4 2.3l.4-2l.4 1.7l.4 .3l.4-2.6l.4-.6l.4-18.3l.4 0l.4 22l.4-.3l.4-1.4l.4-1.5l.4 2.2l.4-2.1l.4 1.7l.4-.8l.4-2l.4 1.9l.4 .4l.4-.2l.4-2.2l.4 4.6l.4-1.8l.4 .9l.4-1l.4 4.3l.4-4.8l.4 .4l.4-2.3l.4-2.7l.4 5.1l.4 1.2l.4-3.1l.4 2.7l.4-5.5l.4 1.6l.4-3.2l.4 7.1l.4 1.1l.4-7.1l.4 1.3l.4 5.2l.4-.5l.4-2.1l.4-5.6l.4 1.4l.4 5.7l.4 3.9l.4-3.7l.4 .2l.4-23.2l.4 15l.4 7.8l.4 .3l.4-1.5l.4 2.4l.4-.1l.4-3.5l.4-3.1l.4-.1l.4 1.1l.4 6.8l.4-1.9l.4 2.4l.4 6.6l.4-15.5l.4 1.6l.4-4.6l.4 2.5l.4 8.6l.4-3.9l.4 .9l.4-2.1l.4 3.5l.4-5.2l.4 4.5l.4-3l.4-5.1l.4 3.3l.4 3.2l.4 1.8l.4-7.1l.4 3.5l.4 3.2l.4-.1l.4 1.5l.4-1.8l.4 .6l.4-5.3l.4 7.7l.4-1.7l.4-3.3l.4 4l.4-3.4l.4-1.5l.4 3.4l.4-16.2l.4 0l.4 19.6l.4-1.4l.4 2.5l.4-1.1l.4-5.5l.4-2.6l.4 3.1l.4 1.3l.4 2.7l.4-1.7l.4-3l.4-.1l.4-5.5l.4 8l.4 1.1l.4-.8l.4-2.3l.4-3.6l.4 6.2l.4 1.4l.4-2.3l.4 1.3l.4 .7l.4-4.6l.4 5.3l.4-2.5l.4-3.4l.4 .8l.4 2.7l.4 .2l.4-2l.4 .9l.4 0l.4-2.4l.4 1.6l.4 .7l.4 2.2l.4-1.3l.4-3.5l.4 2.3l.4-3.3l.4 2.1l.4 1l.4-.9l.4 0l.4 4.6l.4 1.7l.4-4.9l.4 1l.4-.4l.4-3.5l.4 1.9l.4 1.7l.4-1.5l.4 4.8l.4-2.9l.4 .4l.4-1l.4-1.5l.4-2.1l.4 4.8l.4 1.8l.4-1l.4-2.6l.4 3.4l.4-2.2l.4 1.3l.4-2l.4-1.4l.4 1.4l.4 .9l.4 .6l.4 .4l.4-.1l.4-3l.4 .4l.4-1.3l.4 .7l.4 .5l.4 8.4l.4-7l.4-2.8l.4 2.8l.4 1.7l.4-2.1l.4-.3l.4-2.9l.4 6.3l.4-3.5l.4-1.5l.4-.8l.4 6l.4-4.6l.4 2.3l.4-2.5l.4 1.4l.4-1.4l.4 2.5l.4 1.1l.4 .6l.4-2.9l.4 11.3l.4-5.7l.4-4.5l.4-3l.4 1l.4 .6l.4 1.1l.4 1.7l.4-.7l.4-5.6l.4 5.3l.4 1.7l.4-2.1l.4 .9l.4-.6l.4-1.3l.4 2.3l.4 1.3l.4-1.9l.4-.7l.4 1l.4-2.4l.4-.6l.4-.8l.4 3.4l.4 2.4l.4-3.3l.4 2.6l.4-.4l.4-1.8l.4-2.3l.4 .9l.4-.7l.4 0l.4 .4l.4 1l.4-1.1l.4-1.2l.4 2.7l.4 5.1l.4-4.6l.4 2l.4-2.7l.4 5.4l.4-13l.4-3.8l.4 16l.4 1.4l.4-15.1l.4 5.3l.4 3.6l.4 3.1l.4-8.8l.4-3.9l.4-37.5l.4 50.1l.4-21l.4-2.2l.4 28.6l.4 .7l.4-41l.4 14.1l.4 15.3l.4-2.3l.4-10.2l.4 4.2l.4 9.2l.4 19.5l.4 0l.4-30.1l.4 12.8l.4-7.2l.4-30.8l.4 19.9l.4 19.8l.4 .5l.4-3l.4 1.8l.4-9.5l.4 7.3l.4 5l.4-53.4l.4 49.7l.4 1.9l.4 7.1l.4-21.7l.4 19.6l.4-5.9l.4-6.1l.4-8.3l.4 12.4l.4-3.9l.4 11.5l.4-44.4l.4 34.4l.4 1.5l.4-1.5l.4 5.9l.4 3.6l.4-7.6l.4 3l.4-.6l.4 3l.4 1.5l.4-12.8l.4 12l.4-21l.4 21.1l.4 6.6l.4-8.7l.4-.5l.4-2.7l.4 .3l.4-2.7l.4 4l.4-1.8l.4-9.6l.4 7.4l.4-2.3l.4 7.2l.4-2.3l.4-2.9l.4 1.3l.4-2l.4 8.3l.4-9.7l.4-1.6l.4 9.8l.4 .9l.4-5.9l.4 4.8l.4-7.6l.4 4.9l.4 5.3l.4-4.3l.4-.8l.4 2.3l.4-15.1l.4 7.6l.4-5.2l.4 7.4l.4 2.6l.4 .8l.4-2.3l.4-7.3l.4-5.2l.4 8.6l.4 5.4l.4 4.1l.4-1.9l.4-12.8l.4 4.5l.4-15.4l.4 0l.4 18l.4 .8l.4-19.8l.4 19.4l.4-1.5l.4 2.4l.4 .6l.4 .4l.4-2.5l.4 2.6l.4 .5l.4-.4l.4 1.9l.4-2.8l.4 2.1l.4-1.4l.4-3.4l.4 3.2l.4-.4l.4 4.8l.4-3.2l.4 2.5l.4-3.5l.4 2.8l.4-3.9l.4 3.9l.4-1l.4 1l.4-3.8l.4 2.9l.4-5.6l.4 .7l.4 6.5l.4 1.8l.4-39.6l.4 0l.4 33.6l.4 3.2l.4 .4l.4 .5l.4-5.8l.4 3.2l.4 1.9l.4-4.3l.4 3.4l.4-2.7l.4 1l.4-.7l.4 1.9l.4 2.4l.4-2.6l.4 .1l.4 2.2l.4-3.7l.4 2.9l.4-1.8l.4-9.3l.4 23.7l.4-13.9l.4-1.2l.4-.5l.4-1.8l.4 1.5l.4 .3l.4 1.5l.4-1.6l.4 2.3l.4-5.3l.4 4.4l.4 .4l.4-1.7l.4 1.1l.4 .1l.4-2.6l.4 1.4l.4 1.3l.4 2.1l.4-4.4l.4 .8l.4-1.7l.4 2.7l.4 .6l.4 2.7l.4-2.8l.4-4.8l.4 5.1l.4-.4l.4 .1l.4 .9l.4-1.5l.4-2.2l.4 .5l.4 2.9l.4-2.5l.4 1.2l.4 1.4l.4-1l.4 1.9l.4-2.9l.4 1.2l.4-1.6l.4 2.6l.4-1.9l.4-1.7l.4 3.6l.4 .4l.4-2.9l.4-.2l.4 .9l.4-.8l.4 3.1l.4-3.6l.4 .3l.4-.5l.4 1.3l.4 1l.4 2l.4-3.6l.4 1.6l.4 11l.4-9.1l.4-4.2l.4-.1l.4 .2l.4 2.2l.4-.4l.4 .8l.4 2l.4-1.5l.4 0l.4 .2l.4-5.3l.4 8l.4-1.8l.4 .1l.4-2.9l.4 3.4l.4-4.9l.4 0l.4 3.8l.4-.4l.4-.6l.4 3.7l.4-6l.4-18.7l.4 21.5l.4-3.1l.4-.2l.4 5l.4-3.9l.4-7.5l.4 8.4l.4 2.7l.4-2.3l.4-.7l.4 .3l.4 .9l.4-1l.4-3.3l.4 7.6l.4 .5l.4-2.7l.4-3.6l.4 2.4l.4 1.9l.4-2.3l.4-1.6l.4-.4l.4-.2l.4 3.5l.4-.5l.4 1l.4-2.6l.4 3.1l.4-4.3l.4 4l.4-3.9l.4-.1l.4-.1l.4 2.6l.4-2.7l.3 .9l.5-5l.4 7.8l.4-3.4l.4 4.1l.3-2.5l.5-.2l.4 2.6l.4-2.8l.4 4.9l.3-4.7l.5-3.7l.4 2.9l.4 2.4l.4-.2l.3-2.7l.5 .2l.4-5.1l.4 7.7l.4 1.8l.3-2.2l.5 .7l.4 21.5l.4 0l.4-17l.3-12l.5 3.4l.4-3l.4 6.2l.4 0l.3-6.3l.5 5.9l.4-3.1l.4 3.9l.4-7.9l.3 1.4l.5-35.5l.4 29.6l.4 9.7l.4 1.9l.3-1.4l.5 1.5l.4-.5l.4-36.8l.4 0l.3 37.9l.5-5.8l.4 2.7l.4-10.7l.4 9.8l.3 .4l.5 10l.4-2.7l.4-.1l.4-1.2l.3-.4l.5-1.8l.4 6.3l.4-11.9l.4 8.1l.3-5.5l.5-2.9l.4-1.5l.4-2.6l.4 3.3l.3-5.7l.5 35.2l.4-23.3l.4 2.6l.4-1.3l.3-7.5l.5-2.6l.4 18.7l.4-6.7l.4-23.7l.3 19.4l.5 2.9l.4-2.6l.4-2.9l.4 .8l.3-21.7l.5 23.3l.4 4.1l.4 1.6l.4-3.8l.3-3l.5 5.6l.4-10.3l.4 9.1l.4-10.7l.3-2.7l.5 9.5l.4 4.5l.4 0l.4-3.5l.3 2.4l.5-.2l.4 .1l.4-8.9l.4-1.7l.3 3.7l.5-3.1l.4 4.8l.4 4.3l.4-1.2l.3-2.7l.5-1.5l.4 6.6l.4 2l.4-12.9l.3 9.1l.5-3.5l.4 4.3l.4 .8l.4-8l.3 3.4l.5 5.5l.4-19.1l.4 18.5l.4-.7l.3 1l.5-5.2l.4 3.3l.4 .5l.4 .4l.4-7.5l.4-1.4l.4 7.3l.4-1.1l.4 2.1l.4 .5l.4-2.8l.4-.5l.4 1l.4 1.3l.4-2.2l.4 1.5l.4 .1l.4 1.3l.4-1.5l.4-.7l.4 1.1l.4-.8l.4-1.3l.4-1.9l.4 3.9l.4 .1l.4 1.7l.4-1.5l.4-.5l.4 .2l.4 .3l.4-.9l.4 1.1l.4-3l.4 2.5l.4-1.1l.4-1.3l.4 .3l.4 .5l.4 .7l.4 .2l.4 2.2l.4-1.3l.4-.6l.4 .5l.4-1.1l.4 .8l.4-.3l.4 .9l.4-.4l.4 5.4l.4-7.1l.4 2.4l.4-2.4l.4 .3l.4 .2l.4 1.1l.4-1.6l.4-.7l.4 2.7l.4-1.1l.4-2.3l.4 4.6l.4-4.3l.4-5.6l.4 11.1l.4-3.2l.4-3.7l.4-1.4l.4 3.5l.4-3.2l.4 5.4l.4-1.4l.4-5.6l.4 11.4l.4-2.2l.4-.6l.4-5.6l.4 3.2l.4-1l.4 3.7l.4-.4l.4 1.6l.4-3.1l.4 .6l.4-2.4l.4 1.4l.4-6.6l.4 8.6l.4-2.2l.4-.2l.4 1.2l.4-3.6l.4 7.1l.4-2.4l.4-6.8l.4 3.1l.4-14.4l.4 14.5l.4 25.8l.4-31.9l.4 2.5l.4 11.4l.4-23.8l.4 23.3l.4-9l.4 6.8l.4-.8l.4-5.8l.4-8l.4 6.6l.4-7.7l.4 11.9l.4 5.4l.4-26.8l.4 26.1l.4 3.9l.4-3.3l.4-3l.4-1.2l.4-10.5l.4 6l.4 10l.4-2.1l.4 3l.4-4l.3-14.4l.5-4.9l.4 20l.4-10.6l.4 7.2l.3-15.2l.5 .8l.4 18.7l.4-.5l.4-8.2l.3 9l.5-7.2l.4 25.3l.4-21.3l.4-9l.3 6.3l.5-3l.4 .3l.4 8.3l.4-19.6l.3 6.5l.5 12l.4-3.3l.4-3.4l.4 20.3l.3-12.6l.5-2.4l.4-1.3l.4 .6l.4-1.4l.3 7.7l.5-2.5l.4-2.4l.4 .2l.4-7.7l.3-9.9l.5 9.1l.4 9.5l.4-28.9l.4 25l.3-4.7l.5 0l.4 4.8l.4-8l.4 8.3l.3-3.8l.5-7.6l.4 12.2l.4-5.5l.4 6.8l.3 .2l.5-11.6l.4 11.3l.4-4.5l.4-3.2l.3 6.6l.5-.4l.4 2.7l.4-2.2l.4-1.3l.3 1l.5-2.4l.4 1.1l.4 .1l.4-.7l.3 1.3l.5 .7l.4-1.7l.4 0l.4 2l.3-.2l.5 2l.4-4.7l.4 1.5l.4 1l.3-3.5l.5 2.3l.4-1l.4-1.8l.4 1.7l.3 2.6l.5-1.5l.4-1.9l.4 1.4l.4-2.9l.3 4.3l.5-1.4l.4-1l.4 3.4l.4-.7l.3 1.6l.5-9.1l.4 4.5l.4 3.3l.4-5.2l.3-1.4l.5 5.1l.4 1.8l.4 1.3l.4-14.9l.3 1.9l.5 8.2l.4-1.2l.4 4.2l.4-5.2l.3-16.3l.5 27.5l.4-3.1l.4-35.1l.4 22.9l.3 11.7l.5-35.6l.4 0l.4 15.4l.4-3.5l.3 16.8l.5 4.5l.4-.7l.4-4.5l.4 6.4l.3-4.9l.5 .7l.4 1.4l.4-1.3l.4-.7l.3 3.4l.5-4.7l.4 2.6l.4 2.3l.4-.4l.3-8.4l.5 6.3l.4 1.5l.4 2.2l.4-4.4l.3 .6l.5-1.5l.4 3.8l.4-.1l.4-.4l.3-1l.5 .5l.4 .7l.4-1.1l.4 .6l.3-1.4l.5-1.2l.4 .5l.4 1.5l.4-.2l.3 2.5l.5-2.1l.4 .4l.4-1.9l.4 2.7l.3-1.6l.5 0l.4 .7l.4-.8l.4-.1l.3-.2l.5-1l.4 2.1l.4 2.2l.4-2.1l.3 .1l.5 2.3l.4-2.7l.4-.9l.4 1.3l.3 .5l.5-.6l.4 0l.4-2.8l.4 2.3l.3-.9l.5 2.9l.4 .7l.4-3.3l.4 2l.3 1l.5-2.5l.4 2.2l.4-.3l.4-2.3l.3 1.9l.5 .7l.4-2.1l.4 .8l.4 .3l.3-1.8l.5-.3l.4 2.3l.4 4.2l.4-4.7l.3 1.9l.5-3.2l.4 .2l.4 .3l.4-4.7l.3 3.2l.5 .5l.4 .7l.4-.1l.4-.2l.3 1.5l.5-.6l.4 1.2l.4 6l.4-8.2l.3 .1l.5 1.9l.4-1.7l.4 .3l.4 1.1l.3 .2l.5-1.7l.4 1.9l.4-1.2l.4-.8l.3 1.8l.5-.7l.4-.5l.4-1.8l.4 3.2l.3-1.9l.5-.1l.4 1.6l.4-.8l.4 .2l.3-.5l.5 .1l.4 .5l.4 1.1l.4-1.3l.3-8l.5 9.1l.4 .7l.4-.6l.4-.3l.3-2.1l.5 3.1l.4-4.4l.4 2.4l.4 1.4" stroke="#111" stroke-width="1.0" />
</g>
<path d="M674.5 647.2h17" stroke="#555" stroke-width="1.2"/>
<text x="693.1" y="650.6" font-size="9.5" fill="#555"><tspan fill="#223">&#160;J*E&#39;</tspan></text>
<path d="M716.5 632.6v10M716.5 706.4v-10M807.5 632.6v10M807.5 706.4v-10M898.5 632.6v10M898.5 706.4v-10M989.5 632.6v10M989.5 706.4v-10M1080.5 632.6v10M1080.5 706.4v-10" stroke="#111" stroke-width=".95"/>
<path d="M686.2 632.6v3.2M686.2 706.4v-3.2M746.8 632.6v3.2M746.8 706.4v-3.2M777.2 632.6v3.2M777.2 706.4v-3.2M837.8 632.6v3.2M837.8 706.4v-3.2M868.2 632.6v3.2M868.2 706.4v-3.2M928.8 632.6v3.2M928.8 706.4v-3.2M959.2 632.6v3.2M959.2 706.4v-3.2M1019.8 632.6v3.2M1019.8 706.4v-3.2M1050.2 632.6v3.2M1050.2 706.4v-3.2M1110.8 632.6v3.2M1110.8 706.4v-3.2" stroke="#111" stroke-width=".9"/>
<path d="M668.6 706.4h5.2M1122.6 706.4h-5.2M668.6 681.9h5.2M1122.6 681.9h-5.2M668.6 657.4h5.2M1122.6 657.4h-5.2M668.6 632.9h5.2M1122.6 632.9h-5.2M668.6 700.3h2.4M1122.6 700.3h-2.4M668.6 694.1h2.4M1122.6 694.1h-2.4M668.6 688h2.4M1122.6 688h-2.4M668.6 681.9h2.4M1122.6 681.9h-2.4M668.6 675.8h2.4M1122.6 675.8h-2.4M668.6 669.6h2.4M1122.6 669.6h-2.4M668.6 663.5h2.4M1122.6 663.5h-2.4M668.6 657.4h2.4M1122.6 657.4h-2.4M668.6 651.3h2.4M1122.6 651.3h-2.4M668.6 645.1h2.4M1122.6 645.1h-2.4M668.6 639h2.4M1122.6 639h-2.4" stroke="#000" stroke-width=".9"/>
<rect x="668.6" y="632.6" width="454" height="73.8" stroke="#000" stroke-width="1.25"/>
<text x="666" y="638.4" font-size="11" fill="#000" text-anchor="end">4</text>
<text x="666" y="661.4" font-size="11" fill="#000" text-anchor="end">2</text>
<text x="666" y="685.9" font-size="11" fill="#000" text-anchor="end">0</text>
<text x="666" y="711.4" font-size="11" fill="#000" text-anchor="end">-2</text>
<text transform="translate(644 670) rotate(-90)" font-size="11.2" fill="#000" text-anchor="middle">J*E&#39; [nW m<tspan font-size="9" dy="-4.5">-3</tspan><tspan dy="4.5">&#8203;</tspan>]</text>
<text x="716.5" y="724" font-size="11" fill="#000" text-anchor="middle">05:30:00</text>
<text x="807.5" y="724" font-size="11" fill="#000" text-anchor="middle">05:30:30</text>
<text x="898.5" y="724" font-size="11" fill="#000" text-anchor="middle">05:31:00</text>
<text x="989.5" y="724" font-size="11" fill="#000" text-anchor="middle">05:31:30</text>
<text x="1080.5" y="724" font-size="11" fill="#000" text-anchor="middle">05:32:00</text>
<text x="647.2" y="745.8" font-size="10.8" fill="#000">X</text>
<text x="715.5" y="745.8" font-size="10.8" fill="#000" text-anchor="middle">9.51</text>
<text x="806.5" y="745.8" font-size="10.8" fill="#000" text-anchor="middle">9.52</text>
<text x="897.5" y="745.8" font-size="10.8" fill="#000" text-anchor="middle">9.53</text>
<text x="988.5" y="745.8" font-size="10.8" fill="#000" text-anchor="middle">9.53</text>
<text x="1079.5" y="745.8" font-size="10.8" fill="#000" text-anchor="middle">9.54</text>
<text x="1136.5" y="745.8" font-size="10.8" fill="#000">Re</text>
<text x="647.2" y="763.5" font-size="10.8" fill="#000">Y</text>
<text x="715.5" y="763.5" font-size="10.8" fill="#000" text-anchor="middle">0.983</text>
<text x="806.5" y="763.5" font-size="10.8" fill="#000" text-anchor="middle">0.989</text>
<text x="897.5" y="763.5" font-size="10.8" fill="#000" text-anchor="middle">0.995</text>
<text x="988.5" y="763.5" font-size="10.8" fill="#000" text-anchor="middle">1</text>
<text x="1079.5" y="763.5" font-size="10.8" fill="#000" text-anchor="middle">1.01</text>
<text x="1136.5" y="763.5" font-size="10.8" fill="#000">Re</text>
<text x="647.2" y="780.8" font-size="10.8" fill="#000">Z</text>
<text x="715.5" y="780.8" font-size="10.8" fill="#000" text-anchor="middle">-0.481</text>
<text x="806.5" y="780.8" font-size="10.8" fill="#000" text-anchor="middle">-0.48</text>
<text x="897.5" y="780.8" font-size="10.8" fill="#000" text-anchor="middle">-0.479</text>
<text x="988.5" y="780.8" font-size="10.8" fill="#000" text-anchor="middle">-0.477</text>
<text x="1079.5" y="780.8" font-size="10.8" fill="#000" text-anchor="middle">-0.476</text>
<text x="1136.5" y="780.8" font-size="10.8" fill="#000">Re</text>
<text x="1188" y="838" font-size="12" fill="#000" text-anchor="end">paschmann 22-Nov-2018 09:19</text>
<g font-family="Liberation Mono, monospace" font-size="13.33" fill="#000" stroke="#000" stroke-width=".22" style="white-space:pre" xml:space="preserve">
<text x="1219" y="19.7" xml:space="preserve">:</text>
<text x="1219" y="34.7" xml:space="preserve"> Event ID         : 20161205_052944</text>
<text x="1219" y="49.7" xml:space="preserve"> FlagStr          : msh,udef,mon,mf,s,compl,keep</text>
<text x="1219" y="64.7" xml:space="preserve"> GSEpos [Re]      : [ 9.50, 0.97, -0.48 ]</text>
<text x="1219" y="79.7" xml:space="preserve">                  :</text>
<text x="1219" y="94.7" xml:space="preserve"> LMN coords       :</text>
<text x="1219" y="109.7" xml:space="preserve">    L             : [ -0.707,  0.551,  0.444 ]</text>
<text x="1219" y="124.7" xml:space="preserve">    M             : [  0.395,  0.828, -0.398 ]</text>
<text x="1219" y="139.7" xml:space="preserve">    N             : [  0.587,  0.106,  0.803 ]</text>
<text x="1219" y="154.7" xml:space="preserve">                  :</text>
<text x="1219" y="169.7" xml:space="preserve">  Times           : (as indicated by red, green lines in plots)</text>
<text x="1219" y="184.7" xml:space="preserve">    t_0           : 05:30:28  (red dotted line)</text>
<text x="1219" y="199.7" xml:space="preserve">    t_MVAB1       : 05:30:03  (leftmost green line)</text>
<text x="1219" y="214.7" xml:space="preserve">    t_MVAB2       : 05:30:41  (rightmost green line)</text>
<text x="1219" y="229.7" xml:space="preserve">                  :</text>
<text x="1219" y="244.7" xml:space="preserve">|Bmin|, |Vmax|    :</text>
<text x="1219" y="259.7" xml:space="preserve">    Bmin          : 61.34 [nT]  at 05:31:44</text>
<text x="1219" y="274.7" xml:space="preserve">    Vmax_tht      : 118.47 [km/s]  at 05:30:13</text>
<text x="1219" y="289.7" xml:space="preserve">    Vmax_tburst   : 118.47 [km/s]  at 05:30:33</text>
<text x="1219" y="304.7" xml:space="preserve">                  :</text>
<text x="1219" y="319.7" xml:space="preserve"> Normals          :</text>
<text x="1219" y="334.7" xml:space="preserve">    N MVAB        : [  0.579, -0.023,  0.815 ]   (L2/L1 = 6.69)</text>
<text x="1219" y="349.7" xml:space="preserve">    N MVAB0       : [  0.607,  0.783, -0.137 ]   (L3/L2 = 2.03)</text>
<text x="1219" y="364.7" xml:space="preserve">    N MFR         : [  0.839, -0.174,  0.515 ]   (L2/L1 = 1.29)</text>
<text x="1219" y="379.7" xml:space="preserve">                  :</text>
<text x="1219" y="394.7" xml:space="preserve"> Durations [s]    : (between red, resp green lines)</text>
<text x="1219" y="409.7" xml:space="preserve">    T_CS          : 18.75</text>
<text x="1219" y="424.7" xml:space="preserve">    T_MFR/HT      : 37.50</text>
<text x="1219" y="439.7" xml:space="preserve">                  :</text>
<text x="1219" y="454.7" xml:space="preserve"> Velocity [km/s]  : (based on FPI ion data)</text>
<text x="1219" y="469.7" xml:space="preserve">    VnMFR         : 130.3</text>
<text x="1219" y="484.7" xml:space="preserve">    VHT.Nmvab     : 159.4  (HTcc = 0.805)</text>
<text x="1219" y="499.7" xml:space="preserve">    VHT.Nmvab0    : 6.4</text>
<text x="1219" y="514.7" xml:space="preserve">                  :</text>
<text x="1219" y="529.7" xml:space="preserve"> CS thickness [km]: (D=T_CS * Vs from above)</text>
<text x="1219" y="544.7" xml:space="preserve">    D1=TCS*Vnmfr  : 2,442</text>
<text x="1219" y="559.7" xml:space="preserve">    D2=TCS*VHTn   : 2,988</text>
<text x="1219" y="574.7" xml:space="preserve">    D3=TCS*VHTn0  : 119</text>
<text x="1219" y="589.7" xml:space="preserve">                  :</text>
<text x="1219" y="604.7" xml:space="preserve"> Currents [uA/m2] :</text>
<text x="1219" y="619.7" xml:space="preserve">    Jave_CS       : 0.153</text>
<text x="1219" y="634.7" xml:space="preserve">    Jmax_THT      : 1.801  at 05:30:33</text>
<text x="1219" y="649.7" xml:space="preserve">    Jmax_brst     : 1.801  at 05:30:33</text>
<text x="1219" y="664.7" xml:space="preserve">                  :</text>
<text x="1219" y="679.7" xml:space="preserve"> HPCA mom [1/cm3] :   Min   -  Max    (  Ave   )  within full brst int</text>
<text x="1219" y="694.7" xml:space="preserve">    H+            :  12.535 - 18.390  ( 14.273 )</text>
<text x="1219" y="709.7" xml:space="preserve">    He+           :   0.000 -  0.001  (  0.001 )</text>
<text x="1219" y="724.7" xml:space="preserve">    He++          :   0.036 -  0.151  (  0.078 )</text>
<text x="1219" y="739.7" xml:space="preserve">    O+            :   0.006 -  0.036  (  0.036 )</text>
<text x="1219" y="754.7" xml:space="preserve">                  :</text>
<text x="1219" y="769.7" xml:space="preserve"> SEH date         : 2019-11-29 10:12:52</text>
<text x="1219" y="784.7" xml:space="preserve">                  :</text>
</g>
</svg></body></html>
